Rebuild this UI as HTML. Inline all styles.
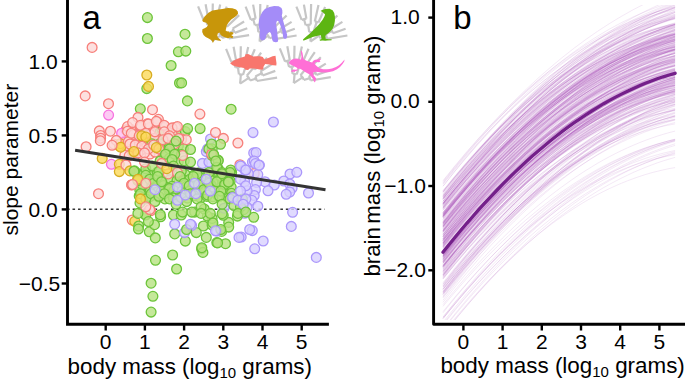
<!DOCTYPE html><html><head><meta charset="utf-8"><style>html,body{margin:0;padding:0;background:#fff;}svg{display:block;}text{font-family:"Liberation Sans", sans-serif;fill:#000;}</style></head><body>
<svg width="685" height="380" viewBox="0 0 685 380">
<rect width="685" height="380" fill="#fff"/>
<g stroke="#c6c6c6" stroke-width="2.2" fill="none" stroke-linecap="butt"><line x1="212.1" y1="41.1" x2="212.9" y2="31.8"/><path d="M210.9,31.8 A9.4,9.4 0 0 1 215.0,32.2"/><line x1="210.9" y1="31.8" x2="209.9" y2="24.4"/><path d="M207.4,24.9 A16.9,16.9 0 0 1 212.4,24.2"/><line x1="207.4" y1="24.9" x2="205.7" y2="18.8"/><path d="M203.4,19.5 A23.2,23.2 0 0 1 208.1,18.2"/><line x1="203.4" y1="19.5" x2="198.1" y2="6.3"/><line x1="208.1" y1="18.2" x2="205.6" y2="4.2"/><line x1="212.4" y1="24.2" x2="212.8" y2="3.6"/><line x1="215.0" y1="32.2" x2="218.4" y2="21.5"/><path d="M216.5,21.0 A20.6,20.6 0 0 1 220.2,22.1"/><line x1="216.5" y1="21.0" x2="220.2" y2="4.5"/><line x1="220.2" y1="22.1" x2="226.8" y2="6.6"/><line x1="212.1" y1="41.1" x2="220.8" y2="35.3"/><path d="M218.8,33.1 A10.5,10.5 0 0 1 222.1,37.9"/><line x1="218.8" y1="33.1" x2="225.4" y2="25.3"/><path d="M223.6,24.0 A20.6,20.6 0 0 1 226.9,26.8"/><line x1="223.6" y1="24.0" x2="233.1" y2="10.0"/><line x1="226.9" y1="26.8" x2="239.1" y2="15.1"/><line x1="222.1" y1="37.9" x2="228.2" y2="36.0"/><path d="M227.3,33.8 A16.9,16.9 0 0 1 228.8,38.4"/><line x1="227.3" y1="33.8" x2="233.7" y2="30.7"/><path d="M232.6,28.6 A24.0,24.0 0 0 1 234.7,32.9"/><line x1="232.6" y1="28.6" x2="244.1" y2="21.5"/><line x1="234.7" y1="32.9" x2="247.3" y2="28.3"/><line x1="228.8" y1="38.4" x2="249.1" y2="35.1"/></g>
<g stroke="#c6c6c6" stroke-width="2.2" fill="none" stroke-linecap="butt"><line x1="259.6" y1="41.5" x2="260.4" y2="32.2"/><path d="M258.4,32.2 A9.4,9.4 0 0 1 262.5,32.6"/><line x1="258.4" y1="32.2" x2="257.4" y2="24.8"/><path d="M254.9,25.3 A16.9,16.9 0 0 1 259.9,24.6"/><line x1="254.9" y1="25.3" x2="253.2" y2="19.2"/><path d="M250.9,19.9 A23.2,23.2 0 0 1 255.6,18.6"/><line x1="250.9" y1="19.9" x2="245.6" y2="6.7"/><line x1="255.6" y1="18.6" x2="253.1" y2="4.6"/><line x1="259.9" y1="24.6" x2="260.3" y2="4.0"/><line x1="262.5" y1="32.6" x2="265.9" y2="21.9"/><path d="M264.0,21.4 A20.6,20.6 0 0 1 267.7,22.5"/><line x1="264.0" y1="21.4" x2="267.7" y2="4.9"/><line x1="267.7" y1="22.5" x2="274.3" y2="7.0"/><line x1="259.6" y1="41.5" x2="268.3" y2="35.7"/><path d="M266.3,33.5 A10.5,10.5 0 0 1 269.6,38.3"/><line x1="266.3" y1="33.5" x2="272.9" y2="25.7"/><path d="M271.1,24.4 A20.6,20.6 0 0 1 274.4,27.2"/><line x1="271.1" y1="24.4" x2="280.6" y2="10.4"/><line x1="274.4" y1="27.2" x2="286.6" y2="15.5"/><line x1="269.6" y1="38.3" x2="275.7" y2="36.4"/><path d="M274.8,34.2 A16.9,16.9 0 0 1 276.3,38.8"/><line x1="274.8" y1="34.2" x2="281.2" y2="31.1"/><path d="M280.1,29.0 A24.0,24.0 0 0 1 282.2,33.3"/><line x1="280.1" y1="29.0" x2="291.6" y2="21.9"/><line x1="282.2" y1="33.3" x2="294.8" y2="28.7"/><line x1="276.3" y1="38.8" x2="296.6" y2="35.5"/></g>
<g stroke="#c6c6c6" stroke-width="2.2" fill="none" stroke-linecap="butt"><line x1="310.4" y1="41.5" x2="311.2" y2="32.2"/><path d="M309.2,32.2 A9.4,9.4 0 0 1 313.3,32.6"/><line x1="309.2" y1="32.2" x2="308.2" y2="24.8"/><path d="M305.7,25.3 A16.9,16.9 0 0 1 310.7,24.6"/><line x1="305.7" y1="25.3" x2="304.0" y2="19.2"/><path d="M301.7,19.9 A23.2,23.2 0 0 1 306.4,18.6"/><line x1="301.7" y1="19.9" x2="296.4" y2="6.7"/><line x1="306.4" y1="18.6" x2="303.9" y2="4.6"/><line x1="310.7" y1="24.6" x2="311.1" y2="4.0"/><line x1="313.3" y1="32.6" x2="316.7" y2="21.9"/><path d="M314.8,21.4 A20.6,20.6 0 0 1 318.5,22.5"/><line x1="314.8" y1="21.4" x2="318.5" y2="4.9"/><line x1="318.5" y1="22.5" x2="325.1" y2="7.0"/><line x1="310.4" y1="41.5" x2="319.1" y2="35.7"/><path d="M317.1,33.5 A10.5,10.5 0 0 1 320.4,38.3"/><line x1="317.1" y1="33.5" x2="323.7" y2="25.7"/><path d="M321.9,24.4 A20.6,20.6 0 0 1 325.2,27.2"/><line x1="321.9" y1="24.4" x2="331.4" y2="10.4"/><line x1="325.2" y1="27.2" x2="337.4" y2="15.5"/><line x1="320.4" y1="38.3" x2="326.5" y2="36.4"/><path d="M325.6,34.2 A16.9,16.9 0 0 1 327.1,38.8"/><line x1="325.6" y1="34.2" x2="332.0" y2="31.1"/><path d="M330.9,29.0 A24.0,24.0 0 0 1 333.0,33.3"/><line x1="330.9" y1="29.0" x2="342.4" y2="21.9"/><line x1="333.0" y1="33.3" x2="345.6" y2="28.7"/><line x1="327.1" y1="38.8" x2="347.4" y2="35.5"/></g>
<g stroke="#c6c6c6" stroke-width="2.2" fill="none" stroke-linecap="butt"><line x1="240.1" y1="83.7" x2="240.9" y2="74.4"/><path d="M238.9,74.4 A9.4,9.4 0 0 1 243.0,74.8"/><line x1="238.9" y1="74.4" x2="237.9" y2="67.0"/><path d="M235.4,67.5 A16.9,16.9 0 0 1 240.4,66.8"/><line x1="235.4" y1="67.5" x2="233.7" y2="61.4"/><path d="M231.4,62.1 A23.2,23.2 0 0 1 236.1,60.8"/><line x1="231.4" y1="62.1" x2="226.1" y2="48.9"/><line x1="236.1" y1="60.8" x2="233.6" y2="46.8"/><line x1="240.4" y1="66.8" x2="240.8" y2="46.2"/><line x1="243.0" y1="74.8" x2="246.4" y2="64.1"/><path d="M244.5,63.6 A20.6,20.6 0 0 1 248.2,64.7"/><line x1="244.5" y1="63.6" x2="248.2" y2="47.1"/><line x1="248.2" y1="64.7" x2="254.8" y2="49.2"/><line x1="240.1" y1="83.7" x2="248.8" y2="77.9"/><path d="M246.8,75.7 A10.5,10.5 0 0 1 250.1,80.5"/><line x1="246.8" y1="75.7" x2="253.4" y2="67.9"/><path d="M251.6,66.6 A20.6,20.6 0 0 1 254.9,69.4"/><line x1="251.6" y1="66.6" x2="261.1" y2="52.6"/><line x1="254.9" y1="69.4" x2="267.1" y2="57.7"/><line x1="250.1" y1="80.5" x2="256.2" y2="78.6"/><path d="M255.3,76.4 A16.9,16.9 0 0 1 256.8,81.0"/><line x1="255.3" y1="76.4" x2="261.7" y2="73.3"/><path d="M260.6,71.2 A24.0,24.0 0 0 1 262.7,75.5"/><line x1="260.6" y1="71.2" x2="272.1" y2="64.1"/><line x1="262.7" y1="75.5" x2="275.3" y2="70.9"/><line x1="256.8" y1="81.0" x2="277.1" y2="77.7"/></g>
<g stroke="#c6c6c6" stroke-width="2.2" fill="none" stroke-linecap="butt"><line x1="293.8" y1="83.2" x2="294.6" y2="73.9"/><path d="M292.6,73.9 A9.4,9.4 0 0 1 296.7,74.3"/><line x1="292.6" y1="73.9" x2="291.6" y2="66.5"/><path d="M289.1,67.0 A16.9,16.9 0 0 1 294.1,66.3"/><line x1="289.1" y1="67.0" x2="287.4" y2="60.9"/><path d="M285.1,61.6 A23.2,23.2 0 0 1 289.8,60.3"/><line x1="285.1" y1="61.6" x2="279.8" y2="48.4"/><line x1="289.8" y1="60.3" x2="287.3" y2="46.3"/><line x1="294.1" y1="66.3" x2="294.5" y2="45.7"/><line x1="296.7" y1="74.3" x2="300.1" y2="63.6"/><path d="M298.2,63.1 A20.6,20.6 0 0 1 301.9,64.2"/><line x1="298.2" y1="63.1" x2="301.9" y2="46.6"/><line x1="301.9" y1="64.2" x2="308.5" y2="48.7"/><line x1="293.8" y1="83.2" x2="302.5" y2="77.4"/><path d="M300.5,75.2 A10.5,10.5 0 0 1 303.8,80.0"/><line x1="300.5" y1="75.2" x2="307.1" y2="67.4"/><path d="M305.3,66.1 A20.6,20.6 0 0 1 308.6,68.9"/><line x1="305.3" y1="66.1" x2="314.8" y2="52.1"/><line x1="308.6" y1="68.9" x2="320.8" y2="57.2"/><line x1="303.8" y1="80.0" x2="309.9" y2="78.1"/><path d="M309.0,75.9 A16.9,16.9 0 0 1 310.5,80.5"/><line x1="309.0" y1="75.9" x2="315.4" y2="72.8"/><path d="M314.3,70.7 A24.0,24.0 0 0 1 316.4,75.0"/><line x1="314.3" y1="70.7" x2="325.8" y2="63.6"/><line x1="316.4" y1="75.0" x2="329.0" y2="70.4"/><line x1="310.5" y1="80.5" x2="330.8" y2="77.2"/></g>
<path d="M202.4,19.9 L204.6,16.6 L208.5,12.7 L212.4,10.5 L215.7,10.0 L218.5,9.4 L222.3,8.9 L227.9,8.1 L232.3,8.3 L236.1,9.4 L237.8,11.6 L238.0,13.8 L236.7,15.5 L234.5,17.2 L231.2,19.4 L228.4,22.7 L226.7,25.5 L226.2,28.2 L225.6,30.4 L227.3,31.5 L228.4,31.0 L229.0,32.6 L231.2,32.1 L233.4,32.6 L233.2,34.3 L231.2,34.9 L233.4,36.5 L232.3,38.2 L230.1,37.6 L227.9,38.2 L225.6,37.6 L222.9,36.5 L220.7,34.9 L219.6,32.6 L217.9,33.2 L217.3,35.4 L217.9,37.6 L220.1,39.3 L221.2,40.9 L217.9,40.4 L214.6,39.8 L212.9,43.1 L211.8,40.4 L209.1,38.7 L205.7,37.1 L203.5,34.9 L202.2,32.1 L202.4,29.3 L204.6,28.2 L206.8,27.1 L208.0,24.9 L206.3,22.7 L203.5,22.1 L202.4,21.0 Z" fill="#c8960a"/>
<path d="M264.9,9.1 L269.4,6.9 L274.3,6.1 L278.7,6.3 L281.5,8.0 L282.3,10.2 L282.4,12.9 L281.8,15.4 L282.8,19.6 L284.3,25.1 L285.9,30.6 L287.2,35.0 L286.8,38.1 L285.0,39.0 L283.3,37.9 L282.9,35.0 L282.1,30.6 L280.2,25.1 L278.7,21.5 L277.6,20.7 L276.5,21.8 L276.2,25.1 L277.1,30.6 L277.6,36.1 L278.2,40.0 L277.6,41.9 L275.4,42.3 L273.0,41.6 L272.1,39.4 L271.6,36.1 L271.0,33.4 L269.9,31.9 L268.2,32.8 L266.6,34.5 L266.0,37.2 L264.9,39.4 L263.3,40.2 L261.1,40.2 L259.9,38.3 L259.6,35.0 L260.0,31.9 L259.2,28.4 L258.6,24.0 L259.2,19.6 L260.7,15.1 L262.5,11.8 Z" fill="#a48cf8"/>
<path d="M320.5,11.1 L322.1,10.1 L325.3,9.0 L329.5,8.8 L332.6,10.3 L334.2,12.9 L334.9,16.6 L334.9,20.8 L334.2,25.0 L332.6,28.7 L330.5,31.3 L327.9,33.6 L325.8,35.0 L325.3,36.6 L325.8,38.7 L328.4,39.2 L331.6,39.2 L331.6,40.3 L327.4,40.6 L325.3,40.8 L322.6,40.6 L320.0,40.8 L319.5,39.7 L321.6,38.9 L321.1,36.6 L320.5,35.0 L316.8,36.1 L312.6,37.1 L308.4,38.7 L304.7,40.3 L302.9,40.6 L303.2,39.2 L306.3,36.6 L310.5,32.9 L314.7,28.7 L318.9,24.5 L322.6,19.7 L324.4,16.6 L325.1,14.5 L323.7,12.9 L322.1,11.8 Z" fill="#5db512"/>
<path d="M230.1,63.2 L233.4,60.7 L237.4,58.7 L241.5,57.4 L244.8,56.6 L245.6,54.2 L248.1,54.0 L251.3,55.4 L253.4,56.6 L256.3,56.2 L260.3,56.2 L262.8,57.0 L264.4,59.5 L268.5,57.9 L272.6,56.2 L275.5,55.8 L275.9,59.1 L276.5,63.2 L276.3,65.6 L273.0,65.2 L269.3,64.4 L265.2,64.0 L263.6,66.4 L263.2,69.3 L261.2,69.7 L257.1,68.9 L253.0,68.5 L249.7,68.5 L248.1,70.1 L245.6,69.7 L244.0,68.1 L239.9,67.3 L235.8,66.4 L232.5,65.2 Z" fill="#f8766d"/>
<path d="M288.8,62.8 L290.0,60.8 L292.5,59.2 L295.5,58.5 L298.5,58.8 L300.5,59.5 L301.0,59.2 L301.5,56.5 L301.0,53.5 L300.8,51.0 L301.8,50.8 L302.5,53.0 L303.0,56.0 L303.5,59.0 L306.0,60.5 L309.5,61.8 L312.2,62.5 L313.0,61.0 L315.0,59.8 L318.0,59.5 L320.0,58.8 L321.0,59.5 L319.5,60.5 L320.5,61.5 L319.0,62.2 L316.0,62.0 L314.5,63.5 L316.0,65.5 L319.0,68.0 L323.0,69.2 L328.0,69.3 L332.0,68.5 L336.0,67.0 L339.0,65.2 L341.5,63.0 L343.5,60.8 L344.6,59.5 L344.2,61.5 L342.6,64.0 L340.0,67.0 L337.0,69.2 L333.0,71.2 L328.0,72.3 L323.0,72.5 L318.0,72.0 L315.0,71.7 L313.0,72.8 L313.5,75.0 L315.0,77.0 L316.2,78.5 L315.6,80.5 L315.0,82.5 L313.8,81.2 L313.2,79.2 L312.2,78.0 L310.8,76.0 L309.2,74.2 L306.5,72.8 L304.0,71.2 L301.5,69.5 L299.5,68.5 L297.8,69.2 L295.5,69.7 L293.5,69.6 L291.8,70.2 L291.0,71.8 L292.2,72.1 L293.2,71.2 L294.0,72.6 L295.2,71.2 L297.5,70.4 L298.0,69.0 L296.5,67.4 L294.0,66.2 L291.5,65.0 L289.5,64.0 Z" fill="#ff6fd6"/>
<line x1="69" y1="209.3" x2="324.5" y2="209.3" stroke="#333" stroke-width="1.5" stroke-dasharray="2.6,2.87" stroke-dashoffset="1.97"/>
<g><circle cx="126.0" cy="129.8" r="4.9" fill="#fcd8d7" fill-opacity="0.8" stroke="#f77f7a" stroke-width="1.3"/><circle cx="132.1" cy="129.8" r="4.9" fill="#fcd8d7" fill-opacity="0.8" stroke="#f77f7a" stroke-width="1.3"/><circle cx="140.2" cy="127.7" r="4.9" fill="#fcd8d7" fill-opacity="0.8" stroke="#f77f7a" stroke-width="1.3"/><circle cx="149.8" cy="127.6" r="4.9" fill="#fcd8d7" fill-opacity="0.8" stroke="#f77f7a" stroke-width="1.3"/><circle cx="156.2" cy="126.1" r="4.9" fill="#fcd8d7" fill-opacity="0.8" stroke="#f77f7a" stroke-width="1.3"/><circle cx="164.5" cy="128.2" r="4.9" fill="#fcd8d7" fill-opacity="0.8" stroke="#f77f7a" stroke-width="1.3"/><circle cx="170.3" cy="129.2" r="4.9" fill="#fcd8d7" fill-opacity="0.8" stroke="#f77f7a" stroke-width="1.3"/><circle cx="129.0" cy="134.3" r="4.9" fill="#fcd8d7" fill-opacity="0.8" stroke="#f77f7a" stroke-width="1.3"/><circle cx="135.8" cy="134.1" r="4.9" fill="#fcd8d7" fill-opacity="0.8" stroke="#f77f7a" stroke-width="1.3"/><circle cx="143.6" cy="133.6" r="4.9" fill="#fcd8d7" fill-opacity="0.8" stroke="#f77f7a" stroke-width="1.3"/><circle cx="153.3" cy="133.6" r="4.9" fill="#fcd8d7" fill-opacity="0.8" stroke="#f77f7a" stroke-width="1.3"/><circle cx="159.7" cy="136.4" r="4.9" fill="#fcd8d7" fill-opacity="0.8" stroke="#f77f7a" stroke-width="1.3"/><circle cx="169.1" cy="135.4" r="4.9" fill="#fcd8d7" fill-opacity="0.8" stroke="#f77f7a" stroke-width="1.3"/><circle cx="126.2" cy="140.2" r="4.9" fill="#fcd8d7" fill-opacity="0.8" stroke="#f77f7a" stroke-width="1.3"/><circle cx="132.1" cy="142.9" r="4.9" fill="#fcd8d7" fill-opacity="0.8" stroke="#f77f7a" stroke-width="1.3"/><circle cx="141.1" cy="139.5" r="4.9" fill="#fcd8d7" fill-opacity="0.8" stroke="#f77f7a" stroke-width="1.3"/><circle cx="149.0" cy="142.2" r="4.9" fill="#fcd8d7" fill-opacity="0.8" stroke="#f77f7a" stroke-width="1.3"/><circle cx="156.5" cy="142.7" r="4.9" fill="#fcd8d7" fill-opacity="0.8" stroke="#f77f7a" stroke-width="1.3"/><circle cx="161.7" cy="141.2" r="4.9" fill="#fcd8d7" fill-opacity="0.8" stroke="#f77f7a" stroke-width="1.3"/><circle cx="170.8" cy="139.3" r="4.9" fill="#fcd8d7" fill-opacity="0.8" stroke="#f77f7a" stroke-width="1.3"/><circle cx="130.3" cy="149.0" r="4.9" fill="#fcd8d7" fill-opacity="0.8" stroke="#f77f7a" stroke-width="1.3"/><circle cx="137.6" cy="146.6" r="4.9" fill="#fcd8d7" fill-opacity="0.8" stroke="#f77f7a" stroke-width="1.3"/><circle cx="146.1" cy="147.6" r="4.9" fill="#fcd8d7" fill-opacity="0.8" stroke="#f77f7a" stroke-width="1.3"/><circle cx="152.3" cy="148.6" r="4.9" fill="#fcd8d7" fill-opacity="0.8" stroke="#f77f7a" stroke-width="1.3"/><circle cx="158.3" cy="148.9" r="4.9" fill="#fcd8d7" fill-opacity="0.8" stroke="#f77f7a" stroke-width="1.3"/><circle cx="168.0" cy="148.7" r="4.9" fill="#fcd8d7" fill-opacity="0.8" stroke="#f77f7a" stroke-width="1.3"/><circle cx="124.8" cy="155.3" r="4.9" fill="#fcd8d7" fill-opacity="0.8" stroke="#f77f7a" stroke-width="1.3"/><circle cx="132.3" cy="152.4" r="4.9" fill="#fcd8d7" fill-opacity="0.8" stroke="#f77f7a" stroke-width="1.3"/><circle cx="142.4" cy="155.5" r="4.9" fill="#fcd8d7" fill-opacity="0.8" stroke="#f77f7a" stroke-width="1.3"/><circle cx="150.0" cy="154.0" r="4.9" fill="#fcd8d7" fill-opacity="0.8" stroke="#f77f7a" stroke-width="1.3"/><circle cx="155.1" cy="152.1" r="4.9" fill="#fcd8d7" fill-opacity="0.8" stroke="#f77f7a" stroke-width="1.3"/><circle cx="164.1" cy="155.0" r="4.9" fill="#fcd8d7" fill-opacity="0.8" stroke="#f77f7a" stroke-width="1.3"/><circle cx="172.3" cy="153.2" r="4.9" fill="#fcd8d7" fill-opacity="0.8" stroke="#f77f7a" stroke-width="1.3"/><circle cx="137.0" cy="173.2" r="4.9" fill="#b6e281" fill-opacity="0.8" stroke="#6cc43a" stroke-width="1.3"/><circle cx="146.1" cy="172.4" r="4.9" fill="#b6e281" fill-opacity="0.8" stroke="#6cc43a" stroke-width="1.3"/><circle cx="152.0" cy="174.9" r="4.9" fill="#b6e281" fill-opacity="0.8" stroke="#6cc43a" stroke-width="1.3"/><circle cx="157.2" cy="172.2" r="4.9" fill="#b6e281" fill-opacity="0.8" stroke="#6cc43a" stroke-width="1.3"/><circle cx="164.3" cy="174.6" r="4.9" fill="#b6e281" fill-opacity="0.8" stroke="#6cc43a" stroke-width="1.3"/><circle cx="172.2" cy="172.6" r="4.9" fill="#b6e281" fill-opacity="0.8" stroke="#6cc43a" stroke-width="1.3"/><circle cx="178.5" cy="174.7" r="4.9" fill="#b6e281" fill-opacity="0.8" stroke="#6cc43a" stroke-width="1.3"/><circle cx="185.3" cy="174.5" r="4.9" fill="#b6e281" fill-opacity="0.8" stroke="#6cc43a" stroke-width="1.3"/><circle cx="194.3" cy="174.7" r="4.9" fill="#b6e281" fill-opacity="0.8" stroke="#6cc43a" stroke-width="1.3"/><circle cx="198.8" cy="172.7" r="4.9" fill="#b6e281" fill-opacity="0.8" stroke="#6cc43a" stroke-width="1.3"/><circle cx="205.4" cy="174.0" r="4.9" fill="#b6e281" fill-opacity="0.8" stroke="#6cc43a" stroke-width="1.3"/><circle cx="214.4" cy="175.1" r="4.9" fill="#b6e281" fill-opacity="0.8" stroke="#6cc43a" stroke-width="1.3"/><circle cx="218.9" cy="175.7" r="4.9" fill="#b6e281" fill-opacity="0.8" stroke="#6cc43a" stroke-width="1.3"/><circle cx="226.3" cy="174.8" r="4.9" fill="#b6e281" fill-opacity="0.8" stroke="#6cc43a" stroke-width="1.3"/><circle cx="231.6" cy="172.4" r="4.9" fill="#b6e281" fill-opacity="0.8" stroke="#6cc43a" stroke-width="1.3"/><circle cx="140.2" cy="181.5" r="4.9" fill="#b6e281" fill-opacity="0.8" stroke="#6cc43a" stroke-width="1.3"/><circle cx="148.9" cy="181.3" r="4.9" fill="#b6e281" fill-opacity="0.8" stroke="#6cc43a" stroke-width="1.3"/><circle cx="155.6" cy="179.5" r="4.9" fill="#b6e281" fill-opacity="0.8" stroke="#6cc43a" stroke-width="1.3"/><circle cx="161.9" cy="180.3" r="4.9" fill="#b6e281" fill-opacity="0.8" stroke="#6cc43a" stroke-width="1.3"/><circle cx="170.0" cy="179.7" r="4.9" fill="#b6e281" fill-opacity="0.8" stroke="#6cc43a" stroke-width="1.3"/><circle cx="177.0" cy="180.4" r="4.9" fill="#b6e281" fill-opacity="0.8" stroke="#6cc43a" stroke-width="1.3"/><circle cx="183.5" cy="179.9" r="4.9" fill="#b6e281" fill-opacity="0.8" stroke="#6cc43a" stroke-width="1.3"/><circle cx="189.8" cy="179.3" r="4.9" fill="#b6e281" fill-opacity="0.8" stroke="#6cc43a" stroke-width="1.3"/><circle cx="195.9" cy="178.8" r="4.9" fill="#b6e281" fill-opacity="0.8" stroke="#6cc43a" stroke-width="1.3"/><circle cx="201.0" cy="178.1" r="4.9" fill="#b6e281" fill-opacity="0.8" stroke="#6cc43a" stroke-width="1.3"/><circle cx="210.2" cy="179.7" r="4.9" fill="#b6e281" fill-opacity="0.8" stroke="#6cc43a" stroke-width="1.3"/><circle cx="217.8" cy="181.3" r="4.9" fill="#b6e281" fill-opacity="0.8" stroke="#6cc43a" stroke-width="1.3"/><circle cx="222.5" cy="181.8" r="4.9" fill="#b6e281" fill-opacity="0.8" stroke="#6cc43a" stroke-width="1.3"/><circle cx="230.2" cy="181.0" r="4.9" fill="#b6e281" fill-opacity="0.8" stroke="#6cc43a" stroke-width="1.3"/><circle cx="137.6" cy="184.6" r="4.9" fill="#b6e281" fill-opacity="0.8" stroke="#6cc43a" stroke-width="1.3"/><circle cx="143.5" cy="184.6" r="4.9" fill="#b6e281" fill-opacity="0.8" stroke="#6cc43a" stroke-width="1.3"/><circle cx="152.0" cy="184.3" r="4.9" fill="#b6e281" fill-opacity="0.8" stroke="#6cc43a" stroke-width="1.3"/><circle cx="156.5" cy="187.2" r="4.9" fill="#b6e281" fill-opacity="0.8" stroke="#6cc43a" stroke-width="1.3"/><circle cx="163.6" cy="185.6" r="4.9" fill="#b6e281" fill-opacity="0.8" stroke="#6cc43a" stroke-width="1.3"/><circle cx="172.0" cy="186.3" r="4.9" fill="#b6e281" fill-opacity="0.8" stroke="#6cc43a" stroke-width="1.3"/><circle cx="178.8" cy="187.6" r="4.9" fill="#b6e281" fill-opacity="0.8" stroke="#6cc43a" stroke-width="1.3"/><circle cx="186.6" cy="186.1" r="4.9" fill="#b6e281" fill-opacity="0.8" stroke="#6cc43a" stroke-width="1.3"/><circle cx="192.9" cy="185.9" r="4.9" fill="#b6e281" fill-opacity="0.8" stroke="#6cc43a" stroke-width="1.3"/><circle cx="201.1" cy="184.7" r="4.9" fill="#b6e281" fill-opacity="0.8" stroke="#6cc43a" stroke-width="1.3"/><circle cx="206.8" cy="186.1" r="4.9" fill="#b6e281" fill-opacity="0.8" stroke="#6cc43a" stroke-width="1.3"/><circle cx="211.0" cy="185.0" r="4.9" fill="#b6e281" fill-opacity="0.8" stroke="#6cc43a" stroke-width="1.3"/><circle cx="221.3" cy="187.0" r="4.9" fill="#b6e281" fill-opacity="0.8" stroke="#6cc43a" stroke-width="1.3"/><circle cx="224.5" cy="185.0" r="4.9" fill="#b6e281" fill-opacity="0.8" stroke="#6cc43a" stroke-width="1.3"/><circle cx="231.2" cy="187.1" r="4.9" fill="#b6e281" fill-opacity="0.8" stroke="#6cc43a" stroke-width="1.3"/><circle cx="139.8" cy="190.0" r="4.9" fill="#b6e281" fill-opacity="0.8" stroke="#6cc43a" stroke-width="1.3"/><circle cx="150.1" cy="191.5" r="4.9" fill="#b6e281" fill-opacity="0.8" stroke="#6cc43a" stroke-width="1.3"/><circle cx="154.3" cy="189.9" r="4.9" fill="#b6e281" fill-opacity="0.8" stroke="#6cc43a" stroke-width="1.3"/><circle cx="161.4" cy="191.2" r="4.9" fill="#b6e281" fill-opacity="0.8" stroke="#6cc43a" stroke-width="1.3"/><circle cx="168.7" cy="189.8" r="4.9" fill="#b6e281" fill-opacity="0.8" stroke="#6cc43a" stroke-width="1.3"/><circle cx="174.0" cy="190.6" r="4.9" fill="#b6e281" fill-opacity="0.8" stroke="#6cc43a" stroke-width="1.3"/><circle cx="182.0" cy="191.0" r="4.9" fill="#b6e281" fill-opacity="0.8" stroke="#6cc43a" stroke-width="1.3"/><circle cx="189.5" cy="190.9" r="4.9" fill="#b6e281" fill-opacity="0.8" stroke="#6cc43a" stroke-width="1.3"/><circle cx="197.4" cy="193.6" r="4.9" fill="#b6e281" fill-opacity="0.8" stroke="#6cc43a" stroke-width="1.3"/><circle cx="200.8" cy="190.6" r="4.9" fill="#b6e281" fill-opacity="0.8" stroke="#6cc43a" stroke-width="1.3"/><circle cx="209.7" cy="192.8" r="4.9" fill="#b6e281" fill-opacity="0.8" stroke="#6cc43a" stroke-width="1.3"/><circle cx="214.5" cy="190.5" r="4.9" fill="#b6e281" fill-opacity="0.8" stroke="#6cc43a" stroke-width="1.3"/><circle cx="222.8" cy="192.4" r="4.9" fill="#b6e281" fill-opacity="0.8" stroke="#6cc43a" stroke-width="1.3"/><circle cx="231.4" cy="193.2" r="4.9" fill="#b6e281" fill-opacity="0.8" stroke="#6cc43a" stroke-width="1.3"/><circle cx="139.2" cy="195.9" r="4.9" fill="#b6e281" fill-opacity="0.8" stroke="#6cc43a" stroke-width="1.3"/><circle cx="146.7" cy="198.1" r="4.9" fill="#b6e281" fill-opacity="0.8" stroke="#6cc43a" stroke-width="1.3"/><circle cx="149.9" cy="196.7" r="4.9" fill="#b6e281" fill-opacity="0.8" stroke="#6cc43a" stroke-width="1.3"/><circle cx="158.9" cy="197.2" r="4.9" fill="#b6e281" fill-opacity="0.8" stroke="#6cc43a" stroke-width="1.3"/><circle cx="165.0" cy="198.9" r="4.9" fill="#b6e281" fill-opacity="0.8" stroke="#6cc43a" stroke-width="1.3"/><circle cx="173.3" cy="197.9" r="4.9" fill="#b6e281" fill-opacity="0.8" stroke="#6cc43a" stroke-width="1.3"/><circle cx="180.0" cy="197.3" r="4.9" fill="#b6e281" fill-opacity="0.8" stroke="#6cc43a" stroke-width="1.3"/><circle cx="187.5" cy="198.1" r="4.9" fill="#b6e281" fill-opacity="0.8" stroke="#6cc43a" stroke-width="1.3"/><circle cx="194.3" cy="195.8" r="4.9" fill="#b6e281" fill-opacity="0.8" stroke="#6cc43a" stroke-width="1.3"/><circle cx="200.7" cy="197.9" r="4.9" fill="#b6e281" fill-opacity="0.8" stroke="#6cc43a" stroke-width="1.3"/><circle cx="206.9" cy="196.4" r="4.9" fill="#b6e281" fill-opacity="0.8" stroke="#6cc43a" stroke-width="1.3"/><circle cx="213.0" cy="196.8" r="4.9" fill="#b6e281" fill-opacity="0.8" stroke="#6cc43a" stroke-width="1.3"/><circle cx="218.0" cy="195.7" r="4.9" fill="#b6e281" fill-opacity="0.8" stroke="#6cc43a" stroke-width="1.3"/><circle cx="228.0" cy="198.3" r="4.9" fill="#b6e281" fill-opacity="0.8" stroke="#6cc43a" stroke-width="1.3"/><circle cx="232.0" cy="196.7" r="4.9" fill="#b6e281" fill-opacity="0.8" stroke="#6cc43a" stroke-width="1.3"/><circle cx="160.3" cy="131.9" r="4.9" fill="#b6e281" fill-opacity="0.8" stroke="#6cc43a" stroke-width="1.3"/><circle cx="171.0" cy="133.3" r="4.9" fill="#b6e281" fill-opacity="0.8" stroke="#6cc43a" stroke-width="1.3"/><circle cx="176.0" cy="132.7" r="4.9" fill="#b6e281" fill-opacity="0.8" stroke="#6cc43a" stroke-width="1.3"/><circle cx="185.3" cy="131.6" r="4.9" fill="#b6e281" fill-opacity="0.8" stroke="#6cc43a" stroke-width="1.3"/><circle cx="166.8" cy="138.2" r="4.9" fill="#b6e281" fill-opacity="0.8" stroke="#6cc43a" stroke-width="1.3"/><circle cx="173.3" cy="139.9" r="4.9" fill="#b6e281" fill-opacity="0.8" stroke="#6cc43a" stroke-width="1.3"/><circle cx="181.2" cy="140.1" r="4.9" fill="#b6e281" fill-opacity="0.8" stroke="#6cc43a" stroke-width="1.3"/><circle cx="163.0" cy="148.4" r="4.9" fill="#b6e281" fill-opacity="0.8" stroke="#6cc43a" stroke-width="1.3"/><circle cx="168.9" cy="147.2" r="4.9" fill="#b6e281" fill-opacity="0.8" stroke="#6cc43a" stroke-width="1.3"/><circle cx="178.4" cy="145.7" r="4.9" fill="#b6e281" fill-opacity="0.8" stroke="#6cc43a" stroke-width="1.3"/><circle cx="183.4" cy="148.5" r="4.9" fill="#b6e281" fill-opacity="0.8" stroke="#6cc43a" stroke-width="1.3"/><circle cx="165.1" cy="152.6" r="4.9" fill="#b6e281" fill-opacity="0.8" stroke="#6cc43a" stroke-width="1.3"/><circle cx="175.3" cy="153.7" r="4.9" fill="#b6e281" fill-opacity="0.8" stroke="#6cc43a" stroke-width="1.3"/><circle cx="181.4" cy="154.5" r="4.9" fill="#b6e281" fill-opacity="0.8" stroke="#6cc43a" stroke-width="1.3"/><circle cx="160.1" cy="161.0" r="4.9" fill="#b6e281" fill-opacity="0.8" stroke="#6cc43a" stroke-width="1.3"/><circle cx="169.3" cy="158.5" r="4.9" fill="#b6e281" fill-opacity="0.8" stroke="#6cc43a" stroke-width="1.3"/><circle cx="178.2" cy="161.9" r="4.9" fill="#b6e281" fill-opacity="0.8" stroke="#6cc43a" stroke-width="1.3"/><circle cx="184.2" cy="160.7" r="4.9" fill="#b6e281" fill-opacity="0.8" stroke="#6cc43a" stroke-width="1.3"/><circle cx="210.5" cy="139.0" r="4.9" fill="#d8d1fe" fill-opacity="0.8" stroke="#ab97fb" stroke-width="1.3"/><circle cx="206.3" cy="151.6" r="4.9" fill="#d8d1fe" fill-opacity="0.8" stroke="#ab97fb" stroke-width="1.3"/><circle cx="210.3" cy="163.4" r="4.9" fill="#d8d1fe" fill-opacity="0.8" stroke="#ab97fb" stroke-width="1.3"/><circle cx="202.4" cy="163.4" r="4.9" fill="#d8d1fe" fill-opacity="0.8" stroke="#ab97fb" stroke-width="1.3"/><circle cx="208.9" cy="162.1" r="4.9" fill="#d8d1fe" fill-opacity="0.8" stroke="#ab97fb" stroke-width="1.3"/><circle cx="207.6" cy="148.9" r="4.9" fill="#d8d1fe" fill-opacity="0.8" stroke="#ab97fb" stroke-width="1.3"/><circle cx="147.4" cy="17.6" r="4.9" fill="#b6e281" fill-opacity="0.8" stroke="#6cc43a" stroke-width="1.3"/><circle cx="147.4" cy="38.5" r="4.9" fill="#b6e281" fill-opacity="0.8" stroke="#6cc43a" stroke-width="1.3"/><circle cx="185.0" cy="34.2" r="4.9" fill="#b6e281" fill-opacity="0.8" stroke="#6cc43a" stroke-width="1.3"/><circle cx="92.1" cy="47.4" r="4.9" fill="#fcd8d7" fill-opacity="0.8" stroke="#f77f7a" stroke-width="1.3"/><circle cx="178.4" cy="51.8" r="4.9" fill="#b6e281" fill-opacity="0.8" stroke="#6cc43a" stroke-width="1.3"/><circle cx="185.8" cy="51.1" r="4.9" fill="#b6e281" fill-opacity="0.8" stroke="#6cc43a" stroke-width="1.3"/><circle cx="171.1" cy="65.5" r="4.9" fill="#b6e281" fill-opacity="0.8" stroke="#6cc43a" stroke-width="1.3"/><circle cx="146.8" cy="75.0" r="4.9" fill="#fbd959" fill-opacity="0.8" stroke="#d8ad22" stroke-width="1.3"/><circle cx="146.8" cy="88.6" r="4.9" fill="#b6e281" fill-opacity="0.8" stroke="#6cc43a" stroke-width="1.3"/><circle cx="148.5" cy="86.4" r="4.9" fill="#fbd959" fill-opacity="0.8" stroke="#d8ad22" stroke-width="1.3"/><circle cx="179.5" cy="83.0" r="4.9" fill="#b6e281" fill-opacity="0.8" stroke="#6cc43a" stroke-width="1.3"/><circle cx="181.6" cy="82.9" r="4.9" fill="#b6e281" fill-opacity="0.8" stroke="#6cc43a" stroke-width="1.3"/><circle cx="187.4" cy="100.9" r="4.9" fill="#b6e281" fill-opacity="0.8" stroke="#6cc43a" stroke-width="1.3"/><circle cx="85.2" cy="95.9" r="4.9" fill="#fcd8d7" fill-opacity="0.8" stroke="#f77f7a" stroke-width="1.3"/><circle cx="108.5" cy="103.7" r="4.9" fill="#fcd8d7" fill-opacity="0.8" stroke="#f77f7a" stroke-width="1.3"/><circle cx="108.6" cy="115.1" r="4.9" fill="#fbbef0" fill-opacity="0.8" stroke="#f772e0" stroke-width="1.3"/><circle cx="140.3" cy="108.8" r="4.9" fill="#b6e281" fill-opacity="0.8" stroke="#6cc43a" stroke-width="1.3"/><circle cx="152.5" cy="109.7" r="4.9" fill="#fcd8d7" fill-opacity="0.8" stroke="#f77f7a" stroke-width="1.3"/><circle cx="199.9" cy="114.1" r="4.9" fill="#fcd8d7" fill-opacity="0.8" stroke="#f77f7a" stroke-width="1.3"/><circle cx="231.1" cy="109.2" r="4.9" fill="#b6e281" fill-opacity="0.8" stroke="#6cc43a" stroke-width="1.3"/><circle cx="273.4" cy="122.0" r="4.9" fill="#d8d1fe" fill-opacity="0.8" stroke="#ab97fb" stroke-width="1.3"/><circle cx="253.0" cy="132.6" r="4.9" fill="#d8d1fe" fill-opacity="0.8" stroke="#ab97fb" stroke-width="1.3"/><circle cx="99.3" cy="130.9" r="4.9" fill="#fcd8d7" fill-opacity="0.8" stroke="#f77f7a" stroke-width="1.3"/><circle cx="100.6" cy="135.5" r="4.9" fill="#fcd8d7" fill-opacity="0.8" stroke="#f77f7a" stroke-width="1.3"/><circle cx="100.6" cy="138.2" r="4.9" fill="#fcd8d7" fill-opacity="0.8" stroke="#f77f7a" stroke-width="1.3"/><circle cx="110.4" cy="131.2" r="4.9" fill="#fcd8d7" fill-opacity="0.8" stroke="#f77f7a" stroke-width="1.3"/><circle cx="86.1" cy="146.7" r="4.9" fill="#fcd8d7" fill-opacity="0.8" stroke="#f77f7a" stroke-width="1.3"/><circle cx="113.7" cy="144.1" r="4.9" fill="#fcd8d7" fill-opacity="0.8" stroke="#f77f7a" stroke-width="1.3"/><circle cx="119.5" cy="146.0" r="4.9" fill="#fbd959" fill-opacity="0.8" stroke="#d8ad22" stroke-width="1.3"/><circle cx="121.6" cy="133.2" r="4.9" fill="#fbbef0" fill-opacity="0.8" stroke="#f772e0" stroke-width="1.3"/><circle cx="138.0" cy="117.4" r="4.9" fill="#fcd8d7" fill-opacity="0.8" stroke="#f77f7a" stroke-width="1.3"/><circle cx="147.2" cy="123.9" r="4.9" fill="#fcd8d7" fill-opacity="0.8" stroke="#f77f7a" stroke-width="1.3"/><circle cx="140.7" cy="126.6" r="4.9" fill="#fcd8d7" fill-opacity="0.8" stroke="#f77f7a" stroke-width="1.3"/><circle cx="127.5" cy="126.6" r="4.9" fill="#fcd8d7" fill-opacity="0.8" stroke="#f77f7a" stroke-width="1.3"/><circle cx="127.5" cy="131.2" r="4.9" fill="#fcd8d7" fill-opacity="0.8" stroke="#f77f7a" stroke-width="1.3"/><circle cx="158.4" cy="119.3" r="4.9" fill="#fcd8d7" fill-opacity="0.8" stroke="#f77f7a" stroke-width="1.3"/><circle cx="157.1" cy="122.0" r="4.9" fill="#fcd8d7" fill-opacity="0.8" stroke="#f77f7a" stroke-width="1.3"/><circle cx="162.4" cy="130.5" r="4.9" fill="#b6e281" fill-opacity="0.8" stroke="#6cc43a" stroke-width="1.3"/><circle cx="142.0" cy="135.8" r="4.9" fill="#fbd959" fill-opacity="0.8" stroke="#d8ad22" stroke-width="1.3"/><circle cx="145.9" cy="135.8" r="4.9" fill="#fbd959" fill-opacity="0.8" stroke="#d8ad22" stroke-width="1.3"/><circle cx="133.4" cy="134.5" r="4.9" fill="#fcd8d7" fill-opacity="0.8" stroke="#f77f7a" stroke-width="1.3"/><circle cx="150.5" cy="134.5" r="4.9" fill="#fcd8d7" fill-opacity="0.8" stroke="#f77f7a" stroke-width="1.3"/><circle cx="154.5" cy="138.4" r="4.9" fill="#fcd8d7" fill-opacity="0.8" stroke="#f77f7a" stroke-width="1.3"/><circle cx="120.3" cy="143.7" r="4.9" fill="#fbd959" fill-opacity="0.8" stroke="#d8ad22" stroke-width="1.3"/><circle cx="128.2" cy="141.7" r="4.9" fill="#fcd8d7" fill-opacity="0.8" stroke="#f77f7a" stroke-width="1.3"/><circle cx="116.3" cy="140.4" r="4.9" fill="#fcd8d7" fill-opacity="0.8" stroke="#f77f7a" stroke-width="1.3"/><circle cx="151.8" cy="143.7" r="4.9" fill="#b6e281" fill-opacity="0.8" stroke="#6cc43a" stroke-width="1.3"/><circle cx="159.7" cy="143.7" r="4.9" fill="#b6e281" fill-opacity="0.8" stroke="#6cc43a" stroke-width="1.3"/><circle cx="187.6" cy="128.6" r="4.9" fill="#b6e281" fill-opacity="0.8" stroke="#6cc43a" stroke-width="1.3"/><circle cx="200.1" cy="128.6" r="4.9" fill="#b6e281" fill-opacity="0.8" stroke="#6cc43a" stroke-width="1.3"/><circle cx="175.8" cy="127.2" r="4.9" fill="#fcd8d7" fill-opacity="0.8" stroke="#f77f7a" stroke-width="1.3"/><circle cx="165.3" cy="126.6" r="4.9" fill="#fcd8d7" fill-opacity="0.8" stroke="#f77f7a" stroke-width="1.3"/><circle cx="168.6" cy="132.5" r="4.9" fill="#fcd8d7" fill-opacity="0.8" stroke="#f77f7a" stroke-width="1.3"/><circle cx="172.5" cy="135.1" r="4.9" fill="#fcd8d7" fill-opacity="0.8" stroke="#f77f7a" stroke-width="1.3"/><circle cx="181.7" cy="139.1" r="4.9" fill="#fcd8d7" fill-opacity="0.8" stroke="#f77f7a" stroke-width="1.3"/><circle cx="186.3" cy="139.7" r="4.9" fill="#fcd8d7" fill-opacity="0.8" stroke="#f77f7a" stroke-width="1.3"/><circle cx="175.8" cy="141.0" r="4.9" fill="#b6e281" fill-opacity="0.8" stroke="#6cc43a" stroke-width="1.3"/><circle cx="167.9" cy="138.4" r="4.9" fill="#b6e281" fill-opacity="0.8" stroke="#6cc43a" stroke-width="1.3"/><circle cx="215.5" cy="132.5" r="4.9" fill="#fcd8d7" fill-opacity="0.8" stroke="#f77f7a" stroke-width="1.3"/><circle cx="223.4" cy="138.4" r="4.9" fill="#fcd8d7" fill-opacity="0.8" stroke="#f77f7a" stroke-width="1.3"/><circle cx="220.5" cy="144.3" r="4.9" fill="#b6e281" fill-opacity="0.8" stroke="#6cc43a" stroke-width="1.3"/><circle cx="237.9" cy="143.0" r="4.9" fill="#fcd8d7" fill-opacity="0.8" stroke="#f77f7a" stroke-width="1.3"/><circle cx="212.2" cy="148.9" r="4.9" fill="#b6e281" fill-opacity="0.8" stroke="#6cc43a" stroke-width="1.3"/><circle cx="212.2" cy="155.5" r="4.9" fill="#b6e281" fill-opacity="0.8" stroke="#6cc43a" stroke-width="1.3"/><circle cx="218.2" cy="160.1" r="4.9" fill="#b6e281" fill-opacity="0.8" stroke="#6cc43a" stroke-width="1.3"/><circle cx="239.9" cy="164.7" r="4.9" fill="#fcd8d7" fill-opacity="0.8" stroke="#f77f7a" stroke-width="1.3"/><circle cx="241.2" cy="166.0" r="4.9" fill="#d8d1fe" fill-opacity="0.8" stroke="#ab97fb" stroke-width="1.3"/><circle cx="253.7" cy="152.9" r="4.9" fill="#d8d1fe" fill-opacity="0.8" stroke="#ab97fb" stroke-width="1.3"/><circle cx="252.4" cy="162.1" r="4.9" fill="#d8d1fe" fill-opacity="0.8" stroke="#ab97fb" stroke-width="1.3"/><circle cx="218.2" cy="168.7" r="4.9" fill="#b6e281" fill-opacity="0.8" stroke="#6cc43a" stroke-width="1.3"/><circle cx="230.7" cy="170.0" r="4.9" fill="#b6e281" fill-opacity="0.8" stroke="#6cc43a" stroke-width="1.3"/><circle cx="256.1" cy="152.6" r="4.9" fill="#d8d1fe" fill-opacity="0.8" stroke="#ab97fb" stroke-width="1.3"/><circle cx="254.2" cy="161.1" r="4.9" fill="#d8d1fe" fill-opacity="0.8" stroke="#ab97fb" stroke-width="1.3"/><circle cx="259.4" cy="165.1" r="4.9" fill="#d8d1fe" fill-opacity="0.8" stroke="#ab97fb" stroke-width="1.3"/><circle cx="254.2" cy="173.4" r="4.9" fill="#fcd8d7" fill-opacity="0.8" stroke="#f77f7a" stroke-width="1.3"/><circle cx="257.8" cy="174.6" r="4.9" fill="#d8d1fe" fill-opacity="0.8" stroke="#ab97fb" stroke-width="1.3"/><circle cx="290.0" cy="174.0" r="4.9" fill="#d8d1fe" fill-opacity="0.8" stroke="#ab97fb" stroke-width="1.3"/><circle cx="296.8" cy="172.3" r="4.9" fill="#d8d1fe" fill-opacity="0.8" stroke="#ab97fb" stroke-width="1.3"/><circle cx="283.8" cy="181.0" r="4.9" fill="#d8d1fe" fill-opacity="0.8" stroke="#ab97fb" stroke-width="1.3"/><circle cx="289.7" cy="184.0" r="4.9" fill="#d8d1fe" fill-opacity="0.8" stroke="#ab97fb" stroke-width="1.3"/><circle cx="248.3" cy="173.4" r="4.9" fill="#d8d1fe" fill-opacity="0.8" stroke="#ab97fb" stroke-width="1.3"/><circle cx="244.7" cy="181.7" r="4.9" fill="#d8d1fe" fill-opacity="0.8" stroke="#ab97fb" stroke-width="1.3"/><circle cx="264.9" cy="181.7" r="4.9" fill="#d8d1fe" fill-opacity="0.8" stroke="#ab97fb" stroke-width="1.3"/><circle cx="274.3" cy="185.0" r="4.9" fill="#d8d1fe" fill-opacity="0.8" stroke="#ab97fb" stroke-width="1.3"/><circle cx="268.0" cy="190.8" r="4.9" fill="#d8d1fe" fill-opacity="0.8" stroke="#ab97fb" stroke-width="1.3"/><circle cx="292.1" cy="188.0" r="4.9" fill="#d8d1fe" fill-opacity="0.8" stroke="#ab97fb" stroke-width="1.3"/><circle cx="289.7" cy="192.0" r="4.9" fill="#d8d1fe" fill-opacity="0.8" stroke="#ab97fb" stroke-width="1.3"/><circle cx="286.2" cy="194.3" r="4.9" fill="#d8d1fe" fill-opacity="0.8" stroke="#ab97fb" stroke-width="1.3"/><circle cx="308.5" cy="193.0" r="4.9" fill="#d8d1fe" fill-opacity="0.8" stroke="#ab97fb" stroke-width="1.3"/><circle cx="256.6" cy="182.5" r="4.9" fill="#d8d1fe" fill-opacity="0.8" stroke="#ab97fb" stroke-width="1.3"/><circle cx="255.4" cy="189.6" r="4.9" fill="#d8d1fe" fill-opacity="0.8" stroke="#ab97fb" stroke-width="1.3"/><circle cx="254.2" cy="195.5" r="4.9" fill="#d8d1fe" fill-opacity="0.8" stroke="#ab97fb" stroke-width="1.3"/><circle cx="247.1" cy="190.8" r="4.9" fill="#d8d1fe" fill-opacity="0.8" stroke="#ab97fb" stroke-width="1.3"/><circle cx="251.8" cy="200.3" r="4.9" fill="#d8d1fe" fill-opacity="0.8" stroke="#ab97fb" stroke-width="1.3"/><circle cx="257.8" cy="206.2" r="4.9" fill="#d8d1fe" fill-opacity="0.8" stroke="#ab97fb" stroke-width="1.3"/><circle cx="247.1" cy="207.4" r="4.9" fill="#d8d1fe" fill-opacity="0.8" stroke="#ab97fb" stroke-width="1.3"/><circle cx="244.7" cy="213.3" r="4.9" fill="#d8d1fe" fill-opacity="0.8" stroke="#ab97fb" stroke-width="1.3"/><circle cx="253.7" cy="217.3" r="4.9" fill="#b6e281" fill-opacity="0.8" stroke="#6cc43a" stroke-width="1.3"/><circle cx="242.4" cy="199.1" r="4.9" fill="#b6e281" fill-opacity="0.8" stroke="#6cc43a" stroke-width="1.3"/><circle cx="243.6" cy="209.7" r="4.9" fill="#b6e281" fill-opacity="0.8" stroke="#6cc43a" stroke-width="1.3"/><circle cx="292.6" cy="212.3" r="4.9" fill="#d8d1fe" fill-opacity="0.8" stroke="#ab97fb" stroke-width="1.3"/><circle cx="291.3" cy="226.4" r="4.9" fill="#d8d1fe" fill-opacity="0.8" stroke="#ab97fb" stroke-width="1.3"/><circle cx="252.3" cy="230.6" r="4.9" fill="#d8d1fe" fill-opacity="0.8" stroke="#ab97fb" stroke-width="1.3"/><circle cx="263.2" cy="241.0" r="4.9" fill="#d8d1fe" fill-opacity="0.8" stroke="#ab97fb" stroke-width="1.3"/><circle cx="241.2" cy="237.0" r="4.9" fill="#d8d1fe" fill-opacity="0.8" stroke="#ab97fb" stroke-width="1.3"/><circle cx="254.7" cy="248.8" r="4.9" fill="#d8d1fe" fill-opacity="0.8" stroke="#ab97fb" stroke-width="1.3"/><circle cx="255.4" cy="163.6" r="4.9" fill="#d8d1fe" fill-opacity="0.8" stroke="#ab97fb" stroke-width="1.3"/><circle cx="259.0" cy="165.2" r="4.9" fill="#d8d1fe" fill-opacity="0.8" stroke="#ab97fb" stroke-width="1.3"/><circle cx="244.7" cy="169.5" r="4.9" fill="#d8d1fe" fill-opacity="0.8" stroke="#ab97fb" stroke-width="1.3"/><circle cx="316.3" cy="257.4" r="4.9" fill="#d8d1fe" fill-opacity="0.8" stroke="#ab97fb" stroke-width="1.3"/><circle cx="120.7" cy="147.2" r="4.9" fill="#fbd959" fill-opacity="0.8" stroke="#d8ad22" stroke-width="1.3"/><circle cx="102.2" cy="158.4" r="4.9" fill="#fbd959" fill-opacity="0.8" stroke="#d8ad22" stroke-width="1.3"/><circle cx="111.4" cy="164.3" r="4.9" fill="#fbbef0" fill-opacity="0.8" stroke="#f772e0" stroke-width="1.3"/><circle cx="119.3" cy="164.3" r="4.9" fill="#fbd959" fill-opacity="0.8" stroke="#d8ad22" stroke-width="1.3"/><circle cx="119.3" cy="171.6" r="4.9" fill="#fbd959" fill-opacity="0.8" stroke="#d8ad22" stroke-width="1.3"/><circle cx="125.9" cy="165.0" r="4.9" fill="#fcd8d7" fill-opacity="0.8" stroke="#f77f7a" stroke-width="1.3"/><circle cx="129.9" cy="170.9" r="4.9" fill="#fbd959" fill-opacity="0.8" stroke="#d8ad22" stroke-width="1.3"/><circle cx="134.5" cy="170.9" r="4.9" fill="#b6e281" fill-opacity="0.8" stroke="#6cc43a" stroke-width="1.3"/><circle cx="137.8" cy="179.5" r="4.9" fill="#fbd959" fill-opacity="0.8" stroke="#d8ad22" stroke-width="1.3"/><circle cx="131.8" cy="184.7" r="4.9" fill="#fcd8d7" fill-opacity="0.8" stroke="#f77f7a" stroke-width="1.3"/><circle cx="112.1" cy="145.3" r="4.9" fill="#fcd8d7" fill-opacity="0.8" stroke="#f77f7a" stroke-width="1.3"/><circle cx="100.3" cy="140.7" r="4.9" fill="#fcd8d7" fill-opacity="0.8" stroke="#f77f7a" stroke-width="1.3"/><circle cx="133.2" cy="152.5" r="4.9" fill="#fbd959" fill-opacity="0.8" stroke="#d8ad22" stroke-width="1.3"/><circle cx="129.9" cy="144.0" r="4.9" fill="#fcd8d7" fill-opacity="0.8" stroke="#f77f7a" stroke-width="1.3"/><circle cx="140.4" cy="150.5" r="4.9" fill="#fcd8d7" fill-opacity="0.8" stroke="#f77f7a" stroke-width="1.3"/><circle cx="129.2" cy="155.8" r="4.9" fill="#fcd8d7" fill-opacity="0.8" stroke="#f77f7a" stroke-width="1.3"/><circle cx="143.7" cy="174.2" r="4.9" fill="#b6e281" fill-opacity="0.8" stroke="#6cc43a" stroke-width="1.3"/><circle cx="142.4" cy="184.7" r="4.9" fill="#b6e281" fill-opacity="0.8" stroke="#6cc43a" stroke-width="1.3"/><circle cx="98.5" cy="193.7" r="4.9" fill="#fcd8d7" fill-opacity="0.8" stroke="#f77f7a" stroke-width="1.3"/><circle cx="131.6" cy="185.0" r="4.9" fill="#fcd8d7" fill-opacity="0.8" stroke="#f77f7a" stroke-width="1.3"/><circle cx="138.0" cy="180.0" r="4.9" fill="#fbd959" fill-opacity="0.8" stroke="#d8ad22" stroke-width="1.3"/><circle cx="132.2" cy="220.0" r="4.9" fill="#fcd8d7" fill-opacity="0.8" stroke="#f77f7a" stroke-width="1.3"/><circle cx="134.8" cy="221.3" r="4.9" fill="#fbd959" fill-opacity="0.8" stroke="#d8ad22" stroke-width="1.3"/><circle cx="138.7" cy="226.0" r="4.9" fill="#b6e281" fill-opacity="0.8" stroke="#6cc43a" stroke-width="1.3"/><circle cx="149.3" cy="231.8" r="4.9" fill="#b6e281" fill-opacity="0.8" stroke="#6cc43a" stroke-width="1.3"/><circle cx="155.3" cy="237.9" r="4.9" fill="#b6e281" fill-opacity="0.8" stroke="#6cc43a" stroke-width="1.3"/><circle cx="154.5" cy="224.7" r="4.9" fill="#b6e281" fill-opacity="0.8" stroke="#6cc43a" stroke-width="1.3"/><circle cx="160.6" cy="216.8" r="4.9" fill="#b6e281" fill-opacity="0.8" stroke="#6cc43a" stroke-width="1.3"/><circle cx="140.0" cy="202.9" r="4.9" fill="#b6e281" fill-opacity="0.8" stroke="#6cc43a" stroke-width="1.3"/><circle cx="145.3" cy="214.7" r="4.9" fill="#b6e281" fill-opacity="0.8" stroke="#6cc43a" stroke-width="1.3"/><circle cx="150.6" cy="210.8" r="4.9" fill="#fcd8d7" fill-opacity="0.8" stroke="#f77f7a" stroke-width="1.3"/><circle cx="142.2" cy="198.4" r="4.9" fill="#fbd959" fill-opacity="0.8" stroke="#d8ad22" stroke-width="1.3"/><circle cx="155.5" cy="260.3" r="4.9" fill="#b6e281" fill-opacity="0.8" stroke="#6cc43a" stroke-width="1.3"/><circle cx="172.6" cy="255.0" r="4.9" fill="#b6e281" fill-opacity="0.8" stroke="#6cc43a" stroke-width="1.3"/><circle cx="176.6" cy="269.0" r="4.9" fill="#b6e281" fill-opacity="0.8" stroke="#6cc43a" stroke-width="1.3"/><circle cx="151.1" cy="283.2" r="4.9" fill="#b6e281" fill-opacity="0.8" stroke="#6cc43a" stroke-width="1.3"/><circle cx="152.9" cy="296.3" r="4.9" fill="#b6e281" fill-opacity="0.8" stroke="#6cc43a" stroke-width="1.3"/><circle cx="151.1" cy="312.1" r="4.9" fill="#b6e281" fill-opacity="0.8" stroke="#6cc43a" stroke-width="1.3"/><circle cx="185.3" cy="241.1" r="4.9" fill="#b6e281" fill-opacity="0.8" stroke="#6cc43a" stroke-width="1.3"/><circle cx="174.7" cy="233.9" r="4.9" fill="#b6e281" fill-opacity="0.8" stroke="#6cc43a" stroke-width="1.3"/><circle cx="184.5" cy="232.6" r="4.9" fill="#d8d1fe" fill-opacity="0.8" stroke="#ab97fb" stroke-width="1.3"/><circle cx="196.3" cy="232.6" r="4.9" fill="#b6e281" fill-opacity="0.8" stroke="#6cc43a" stroke-width="1.3"/><circle cx="206.3" cy="237.4" r="4.9" fill="#b6e281" fill-opacity="0.8" stroke="#6cc43a" stroke-width="1.3"/><circle cx="201.6" cy="248.9" r="4.9" fill="#b6e281" fill-opacity="0.8" stroke="#6cc43a" stroke-width="1.3"/><circle cx="202.9" cy="252.4" r="4.9" fill="#b6e281" fill-opacity="0.8" stroke="#6cc43a" stroke-width="1.3"/><circle cx="216.8" cy="242.6" r="4.9" fill="#b6e281" fill-opacity="0.8" stroke="#6cc43a" stroke-width="1.3"/><circle cx="138.4" cy="229.0" r="4.9" fill="#b6e281" fill-opacity="0.8" stroke="#6cc43a" stroke-width="1.3"/><circle cx="239.0" cy="237.4" r="4.9" fill="#d8d1fe" fill-opacity="0.8" stroke="#ab97fb" stroke-width="1.3"/><circle cx="225.5" cy="243.7" r="4.9" fill="#b6e281" fill-opacity="0.8" stroke="#6cc43a" stroke-width="1.3"/><circle cx="217.6" cy="242.9" r="4.9" fill="#b6e281" fill-opacity="0.8" stroke="#6cc43a" stroke-width="1.3"/><circle cx="203.4" cy="226.0" r="4.9" fill="#b6e281" fill-opacity="0.8" stroke="#6cc43a" stroke-width="1.3"/><circle cx="212.1" cy="225.1" r="4.9" fill="#b6e281" fill-opacity="0.8" stroke="#6cc43a" stroke-width="1.3"/><circle cx="221.6" cy="231.4" r="4.9" fill="#b6e281" fill-opacity="0.8" stroke="#6cc43a" stroke-width="1.3"/><circle cx="216.9" cy="231.1" r="4.9" fill="#d8d1fe" fill-opacity="0.8" stroke="#ab97fb" stroke-width="1.3"/><circle cx="228.7" cy="222.4" r="4.9" fill="#b6e281" fill-opacity="0.8" stroke="#6cc43a" stroke-width="1.3"/><circle cx="228.7" cy="227.1" r="4.9" fill="#b6e281" fill-opacity="0.8" stroke="#6cc43a" stroke-width="1.3"/><circle cx="237.4" cy="216.1" r="4.9" fill="#b6e281" fill-opacity="0.8" stroke="#6cc43a" stroke-width="1.3"/><circle cx="212.1" cy="218.4" r="4.9" fill="#b6e281" fill-opacity="0.8" stroke="#6cc43a" stroke-width="1.3"/><circle cx="207.4" cy="216.1" r="4.9" fill="#b6e281" fill-opacity="0.8" stroke="#6cc43a" stroke-width="1.3"/><circle cx="223.2" cy="215.3" r="4.9" fill="#b6e281" fill-opacity="0.8" stroke="#6cc43a" stroke-width="1.3"/><circle cx="224.0" cy="208.2" r="4.9" fill="#d8d1fe" fill-opacity="0.8" stroke="#ab97fb" stroke-width="1.3"/><circle cx="191.6" cy="225.5" r="4.9" fill="#d8d1fe" fill-opacity="0.8" stroke="#ab97fb" stroke-width="1.3"/><circle cx="201.8" cy="247.7" r="4.9" fill="#b6e281" fill-opacity="0.8" stroke="#6cc43a" stroke-width="1.3"/><circle cx="194.7" cy="212.1" r="4.9" fill="#b6e281" fill-opacity="0.8" stroke="#6cc43a" stroke-width="1.3"/><circle cx="204.2" cy="209.0" r="4.9" fill="#b6e281" fill-opacity="0.8" stroke="#6cc43a" stroke-width="1.3"/><circle cx="145.8" cy="215.0" r="4.9" fill="#b6e281" fill-opacity="0.8" stroke="#6cc43a" stroke-width="1.3"/><circle cx="148.4" cy="221.6" r="4.9" fill="#b6e281" fill-opacity="0.8" stroke="#6cc43a" stroke-width="1.3"/><circle cx="173.4" cy="215.0" r="4.9" fill="#b6e281" fill-opacity="0.8" stroke="#6cc43a" stroke-width="1.3"/><circle cx="181.3" cy="215.0" r="4.9" fill="#b6e281" fill-opacity="0.8" stroke="#6cc43a" stroke-width="1.3"/><circle cx="186.6" cy="229.5" r="4.9" fill="#b6e281" fill-opacity="0.8" stroke="#6cc43a" stroke-width="1.3"/><circle cx="212.9" cy="222.9" r="4.9" fill="#b6e281" fill-opacity="0.8" stroke="#6cc43a" stroke-width="1.3"/><circle cx="220.8" cy="229.5" r="4.9" fill="#b6e281" fill-opacity="0.8" stroke="#6cc43a" stroke-width="1.3"/><circle cx="222.1" cy="213.7" r="4.9" fill="#b6e281" fill-opacity="0.8" stroke="#6cc43a" stroke-width="1.3"/><circle cx="174.7" cy="224.2" r="4.9" fill="#d8d1fe" fill-opacity="0.8" stroke="#ab97fb" stroke-width="1.3"/><circle cx="190.5" cy="224.2" r="4.9" fill="#d8d1fe" fill-opacity="0.8" stroke="#ab97fb" stroke-width="1.3"/><circle cx="215.5" cy="230.8" r="4.9" fill="#d8d1fe" fill-opacity="0.8" stroke="#ab97fb" stroke-width="1.3"/><circle cx="249.7" cy="229.5" r="4.9" fill="#d8d1fe" fill-opacity="0.8" stroke="#ab97fb" stroke-width="1.3"/><circle cx="132.6" cy="122.6" r="4.9" fill="#fcd8d7" fill-opacity="0.8" stroke="#f77f7a" stroke-width="1.3"/><circle cx="140.5" cy="125.3" r="4.9" fill="#fcd8d7" fill-opacity="0.8" stroke="#f77f7a" stroke-width="1.3"/><circle cx="148.4" cy="123.9" r="4.9" fill="#fcd8d7" fill-opacity="0.8" stroke="#f77f7a" stroke-width="1.3"/><circle cx="156.3" cy="121.3" r="4.9" fill="#fcd8d7" fill-opacity="0.8" stroke="#f77f7a" stroke-width="1.3"/><circle cx="164.2" cy="125.3" r="4.9" fill="#fcd8d7" fill-opacity="0.8" stroke="#f77f7a" stroke-width="1.3"/><circle cx="172.1" cy="127.9" r="4.9" fill="#fcd8d7" fill-opacity="0.8" stroke="#f77f7a" stroke-width="1.3"/><circle cx="177.4" cy="126.6" r="4.9" fill="#fcd8d7" fill-opacity="0.8" stroke="#f77f7a" stroke-width="1.3"/><circle cx="131.3" cy="133.2" r="4.9" fill="#fcd8d7" fill-opacity="0.8" stroke="#f77f7a" stroke-width="1.3"/><circle cx="139.2" cy="135.8" r="4.9" fill="#fcd8d7" fill-opacity="0.8" stroke="#f77f7a" stroke-width="1.3"/><circle cx="145.8" cy="133.2" r="4.9" fill="#fcd8d7" fill-opacity="0.8" stroke="#f77f7a" stroke-width="1.3"/><circle cx="155.0" cy="131.8" r="4.9" fill="#fcd8d7" fill-opacity="0.8" stroke="#f77f7a" stroke-width="1.3"/><circle cx="164.2" cy="131.8" r="4.9" fill="#fcd8d7" fill-opacity="0.8" stroke="#f77f7a" stroke-width="1.3"/><circle cx="169.5" cy="135.8" r="4.9" fill="#fcd8d7" fill-opacity="0.8" stroke="#f77f7a" stroke-width="1.3"/><circle cx="178.7" cy="138.4" r="4.9" fill="#fcd8d7" fill-opacity="0.8" stroke="#f77f7a" stroke-width="1.3"/><circle cx="141.8" cy="135.8" r="4.9" fill="#fbd959" fill-opacity="0.8" stroke="#d8ad22" stroke-width="1.3"/><circle cx="145.8" cy="137.1" r="4.9" fill="#fbd959" fill-opacity="0.8" stroke="#d8ad22" stroke-width="1.3"/><circle cx="135.3" cy="145.0" r="4.9" fill="#fcd8d7" fill-opacity="0.8" stroke="#f77f7a" stroke-width="1.3"/><circle cx="141.8" cy="146.3" r="4.9" fill="#fcd8d7" fill-opacity="0.8" stroke="#f77f7a" stroke-width="1.3"/><circle cx="148.4" cy="148.9" r="4.9" fill="#fcd8d7" fill-opacity="0.8" stroke="#f77f7a" stroke-width="1.3"/><circle cx="153.7" cy="145.0" r="4.9" fill="#fcd8d7" fill-opacity="0.8" stroke="#f77f7a" stroke-width="1.3"/><circle cx="137.9" cy="152.9" r="4.9" fill="#fcd8d7" fill-opacity="0.8" stroke="#f77f7a" stroke-width="1.3"/><circle cx="144.5" cy="152.9" r="4.9" fill="#fcd8d7" fill-opacity="0.8" stroke="#f77f7a" stroke-width="1.3"/><circle cx="158.9" cy="148.9" r="4.9" fill="#fcd8d7" fill-opacity="0.8" stroke="#f77f7a" stroke-width="1.3"/><circle cx="162.9" cy="139.7" r="4.9" fill="#fcd8d7" fill-opacity="0.8" stroke="#f77f7a" stroke-width="1.3"/><circle cx="168.2" cy="138.4" r="4.9" fill="#fcd8d7" fill-opacity="0.8" stroke="#f77f7a" stroke-width="1.3"/><circle cx="174.7" cy="143.7" r="4.9" fill="#fcd8d7" fill-opacity="0.8" stroke="#f77f7a" stroke-width="1.3"/><circle cx="182.6" cy="155.5" r="4.9" fill="#fcd8d7" fill-opacity="0.8" stroke="#f77f7a" stroke-width="1.3"/><circle cx="133.9" cy="151.6" r="4.9" fill="#fbd959" fill-opacity="0.8" stroke="#d8ad22" stroke-width="1.3"/><circle cx="156.3" cy="147.6" r="4.9" fill="#fbd959" fill-opacity="0.8" stroke="#d8ad22" stroke-width="1.3"/><circle cx="169.5" cy="148.9" r="4.9" fill="#b6e281" fill-opacity="0.8" stroke="#6cc43a" stroke-width="1.3"/><circle cx="165.5" cy="154.2" r="4.9" fill="#b6e281" fill-opacity="0.8" stroke="#6cc43a" stroke-width="1.3"/><circle cx="174.7" cy="154.2" r="4.9" fill="#b6e281" fill-opacity="0.8" stroke="#6cc43a" stroke-width="1.3"/><circle cx="190.5" cy="149.5" r="4.9" fill="#b6e281" fill-opacity="0.8" stroke="#6cc43a" stroke-width="1.3"/><circle cx="190.5" cy="162.1" r="4.9" fill="#b6e281" fill-opacity="0.8" stroke="#6cc43a" stroke-width="1.3"/><circle cx="208.9" cy="148.9" r="4.9" fill="#b6e281" fill-opacity="0.8" stroke="#6cc43a" stroke-width="1.3"/><circle cx="212.9" cy="154.2" r="4.9" fill="#b6e281" fill-opacity="0.8" stroke="#6cc43a" stroke-width="1.3"/><circle cx="218.2" cy="160.8" r="4.9" fill="#b6e281" fill-opacity="0.8" stroke="#6cc43a" stroke-width="1.3"/><circle cx="176.1" cy="141.1" r="4.9" fill="#b6e281" fill-opacity="0.8" stroke="#6cc43a" stroke-width="1.3"/><circle cx="211.6" cy="154.2" r="4.9" fill="#fcd8d7" fill-opacity="0.8" stroke="#f77f7a" stroke-width="1.3"/><circle cx="133.9" cy="171.3" r="4.9" fill="#b6e281" fill-opacity="0.8" stroke="#6cc43a" stroke-width="1.3"/><circle cx="145.8" cy="168.7" r="4.9" fill="#b6e281" fill-opacity="0.8" stroke="#6cc43a" stroke-width="1.3"/><circle cx="152.4" cy="166.1" r="4.9" fill="#b6e281" fill-opacity="0.8" stroke="#6cc43a" stroke-width="1.3"/><circle cx="158.9" cy="171.3" r="4.9" fill="#b6e281" fill-opacity="0.8" stroke="#6cc43a" stroke-width="1.3"/><circle cx="172.1" cy="159.5" r="4.9" fill="#b6e281" fill-opacity="0.8" stroke="#6cc43a" stroke-width="1.3"/><circle cx="173.4" cy="166.1" r="4.9" fill="#b6e281" fill-opacity="0.8" stroke="#6cc43a" stroke-width="1.3"/><circle cx="181.3" cy="171.3" r="4.9" fill="#b6e281" fill-opacity="0.8" stroke="#6cc43a" stroke-width="1.3"/><circle cx="197.1" cy="173.9" r="4.9" fill="#b6e281" fill-opacity="0.8" stroke="#6cc43a" stroke-width="1.3"/><circle cx="208.9" cy="172.6" r="4.9" fill="#b6e281" fill-opacity="0.8" stroke="#6cc43a" stroke-width="1.3"/><circle cx="216.8" cy="167.4" r="4.9" fill="#b6e281" fill-opacity="0.8" stroke="#6cc43a" stroke-width="1.3"/><circle cx="222.1" cy="172.6" r="4.9" fill="#b6e281" fill-opacity="0.8" stroke="#6cc43a" stroke-width="1.3"/><circle cx="230.0" cy="172.6" r="4.9" fill="#b6e281" fill-opacity="0.8" stroke="#6cc43a" stroke-width="1.3"/><circle cx="220.8" cy="176.6" r="4.9" fill="#b6e281" fill-opacity="0.8" stroke="#6cc43a" stroke-width="1.3"/><circle cx="144.5" cy="162.1" r="4.9" fill="#fcd8d7" fill-opacity="0.8" stroke="#f77f7a" stroke-width="1.3"/><circle cx="161.6" cy="163.4" r="4.9" fill="#fcd8d7" fill-opacity="0.8" stroke="#f77f7a" stroke-width="1.3"/><circle cx="168.2" cy="173.9" r="4.9" fill="#fcd8d7" fill-opacity="0.8" stroke="#f77f7a" stroke-width="1.3"/><circle cx="177.4" cy="172.6" r="4.9" fill="#fcd8d7" fill-opacity="0.8" stroke="#f77f7a" stroke-width="1.3"/><circle cx="240.5" cy="166.1" r="4.9" fill="#d8d1fe" fill-opacity="0.8" stroke="#ab97fb" stroke-width="1.3"/><circle cx="245.8" cy="170.0" r="4.9" fill="#d8d1fe" fill-opacity="0.8" stroke="#ab97fb" stroke-width="1.3"/><circle cx="166.8" cy="168.7" r="4.9" fill="#fbd959" fill-opacity="0.8" stroke="#d8ad22" stroke-width="1.3"/><circle cx="137.9" cy="180.5" r="4.9" fill="#b6e281" fill-opacity="0.8" stroke="#6cc43a" stroke-width="1.3"/><circle cx="145.8" cy="175.3" r="4.9" fill="#b6e281" fill-opacity="0.8" stroke="#6cc43a" stroke-width="1.3"/><circle cx="149.7" cy="179.2" r="4.9" fill="#b6e281" fill-opacity="0.8" stroke="#6cc43a" stroke-width="1.3"/><circle cx="153.7" cy="183.2" r="4.9" fill="#b6e281" fill-opacity="0.8" stroke="#6cc43a" stroke-width="1.3"/><circle cx="157.6" cy="176.6" r="4.9" fill="#b6e281" fill-opacity="0.8" stroke="#6cc43a" stroke-width="1.3"/><circle cx="161.6" cy="181.8" r="4.9" fill="#b6e281" fill-opacity="0.8" stroke="#6cc43a" stroke-width="1.3"/><circle cx="169.5" cy="188.4" r="4.9" fill="#b6e281" fill-opacity="0.8" stroke="#6cc43a" stroke-width="1.3"/><circle cx="180.0" cy="176.6" r="4.9" fill="#b6e281" fill-opacity="0.8" stroke="#6cc43a" stroke-width="1.3"/><circle cx="183.9" cy="183.2" r="4.9" fill="#b6e281" fill-opacity="0.8" stroke="#6cc43a" stroke-width="1.3"/><circle cx="189.2" cy="185.8" r="4.9" fill="#b6e281" fill-opacity="0.8" stroke="#6cc43a" stroke-width="1.3"/><circle cx="193.2" cy="176.6" r="4.9" fill="#b6e281" fill-opacity="0.8" stroke="#6cc43a" stroke-width="1.3"/><circle cx="198.4" cy="184.5" r="4.9" fill="#b6e281" fill-opacity="0.8" stroke="#6cc43a" stroke-width="1.3"/><circle cx="203.7" cy="189.7" r="4.9" fill="#b6e281" fill-opacity="0.8" stroke="#6cc43a" stroke-width="1.3"/><circle cx="208.9" cy="183.2" r="4.9" fill="#b6e281" fill-opacity="0.8" stroke="#6cc43a" stroke-width="1.3"/><circle cx="216.8" cy="181.8" r="4.9" fill="#b6e281" fill-opacity="0.8" stroke="#6cc43a" stroke-width="1.3"/><circle cx="224.7" cy="184.5" r="4.9" fill="#b6e281" fill-opacity="0.8" stroke="#6cc43a" stroke-width="1.3"/><circle cx="228.7" cy="181.8" r="4.9" fill="#b6e281" fill-opacity="0.8" stroke="#6cc43a" stroke-width="1.3"/><circle cx="220.8" cy="191.1" r="4.9" fill="#b6e281" fill-opacity="0.8" stroke="#6cc43a" stroke-width="1.3"/><circle cx="137.9" cy="179.2" r="4.9" fill="#fbd959" fill-opacity="0.8" stroke="#d8ad22" stroke-width="1.3"/><circle cx="132.6" cy="184.5" r="4.9" fill="#fcd8d7" fill-opacity="0.8" stroke="#f77f7a" stroke-width="1.3"/><circle cx="145.8" cy="183.2" r="4.9" fill="#fcd8d7" fill-opacity="0.8" stroke="#f77f7a" stroke-width="1.3"/><circle cx="177.4" cy="187.1" r="4.9" fill="#d8d1fe" fill-opacity="0.8" stroke="#ab97fb" stroke-width="1.3"/><circle cx="194.5" cy="183.2" r="4.9" fill="#d8d1fe" fill-opacity="0.8" stroke="#ab97fb" stroke-width="1.3"/><circle cx="206.3" cy="179.2" r="4.9" fill="#d8d1fe" fill-opacity="0.8" stroke="#ab97fb" stroke-width="1.3"/><circle cx="240.5" cy="179.2" r="4.9" fill="#d8d1fe" fill-opacity="0.8" stroke="#ab97fb" stroke-width="1.3"/><circle cx="245.8" cy="185.8" r="4.9" fill="#d8d1fe" fill-opacity="0.8" stroke="#ab97fb" stroke-width="1.3"/><circle cx="240.5" cy="191.1" r="4.9" fill="#d8d1fe" fill-opacity="0.8" stroke="#ab97fb" stroke-width="1.3"/><circle cx="140.5" cy="193.7" r="4.9" fill="#b6e281" fill-opacity="0.8" stroke="#6cc43a" stroke-width="1.3"/><circle cx="145.8" cy="198.9" r="4.9" fill="#b6e281" fill-opacity="0.8" stroke="#6cc43a" stroke-width="1.3"/><circle cx="151.1" cy="193.7" r="4.9" fill="#b6e281" fill-opacity="0.8" stroke="#6cc43a" stroke-width="1.3"/><circle cx="155.0" cy="201.6" r="4.9" fill="#b6e281" fill-opacity="0.8" stroke="#6cc43a" stroke-width="1.3"/><circle cx="158.9" cy="196.3" r="4.9" fill="#b6e281" fill-opacity="0.8" stroke="#6cc43a" stroke-width="1.3"/><circle cx="164.2" cy="193.7" r="4.9" fill="#b6e281" fill-opacity="0.8" stroke="#6cc43a" stroke-width="1.3"/><circle cx="169.5" cy="198.9" r="4.9" fill="#b6e281" fill-opacity="0.8" stroke="#6cc43a" stroke-width="1.3"/><circle cx="176.1" cy="204.2" r="4.9" fill="#b6e281" fill-opacity="0.8" stroke="#6cc43a" stroke-width="1.3"/><circle cx="181.3" cy="197.6" r="4.9" fill="#b6e281" fill-opacity="0.8" stroke="#6cc43a" stroke-width="1.3"/><circle cx="186.6" cy="201.6" r="4.9" fill="#b6e281" fill-opacity="0.8" stroke="#6cc43a" stroke-width="1.3"/><circle cx="190.5" cy="193.7" r="4.9" fill="#b6e281" fill-opacity="0.8" stroke="#6cc43a" stroke-width="1.3"/><circle cx="197.1" cy="198.9" r="4.9" fill="#b6e281" fill-opacity="0.8" stroke="#6cc43a" stroke-width="1.3"/><circle cx="201.1" cy="206.8" r="4.9" fill="#b6e281" fill-opacity="0.8" stroke="#6cc43a" stroke-width="1.3"/><circle cx="207.6" cy="195.0" r="4.9" fill="#b6e281" fill-opacity="0.8" stroke="#6cc43a" stroke-width="1.3"/><circle cx="212.9" cy="198.9" r="4.9" fill="#b6e281" fill-opacity="0.8" stroke="#6cc43a" stroke-width="1.3"/><circle cx="219.5" cy="196.3" r="4.9" fill="#b6e281" fill-opacity="0.8" stroke="#6cc43a" stroke-width="1.3"/><circle cx="222.1" cy="204.2" r="4.9" fill="#b6e281" fill-opacity="0.8" stroke="#6cc43a" stroke-width="1.3"/><circle cx="230.0" cy="198.9" r="4.9" fill="#b6e281" fill-opacity="0.8" stroke="#6cc43a" stroke-width="1.3"/><circle cx="233.9" cy="205.5" r="4.9" fill="#b6e281" fill-opacity="0.8" stroke="#6cc43a" stroke-width="1.3"/><circle cx="240.5" cy="206.8" r="4.9" fill="#b6e281" fill-opacity="0.8" stroke="#6cc43a" stroke-width="1.3"/><circle cx="155.0" cy="189.7" r="4.9" fill="#d8d1fe" fill-opacity="0.8" stroke="#ab97fb" stroke-width="1.3"/><circle cx="177.4" cy="200.3" r="4.9" fill="#d8d1fe" fill-opacity="0.8" stroke="#ab97fb" stroke-width="1.3"/><circle cx="185.3" cy="195.0" r="4.9" fill="#d8d1fe" fill-opacity="0.8" stroke="#ab97fb" stroke-width="1.3"/><circle cx="195.8" cy="193.7" r="4.9" fill="#d8d1fe" fill-opacity="0.8" stroke="#ab97fb" stroke-width="1.3"/><circle cx="210.3" cy="191.1" r="4.9" fill="#d8d1fe" fill-opacity="0.8" stroke="#ab97fb" stroke-width="1.3"/><circle cx="232.6" cy="197.6" r="4.9" fill="#d8d1fe" fill-opacity="0.8" stroke="#ab97fb" stroke-width="1.3"/><circle cx="237.9" cy="200.3" r="4.9" fill="#d8d1fe" fill-opacity="0.8" stroke="#ab97fb" stroke-width="1.3"/><circle cx="245.8" cy="198.9" r="4.9" fill="#d8d1fe" fill-opacity="0.8" stroke="#ab97fb" stroke-width="1.3"/><circle cx="243.2" cy="204.2" r="4.9" fill="#d8d1fe" fill-opacity="0.8" stroke="#ab97fb" stroke-width="1.3"/><circle cx="140.5" cy="198.9" r="4.9" fill="#fbd959" fill-opacity="0.8" stroke="#d8ad22" stroke-width="1.3"/><circle cx="149.7" cy="209.5" r="4.9" fill="#fcd8d7" fill-opacity="0.8" stroke="#f77f7a" stroke-width="1.3"/><circle cx="145.8" cy="206.8" r="4.9" fill="#fcd8d7" fill-opacity="0.8" stroke="#f77f7a" stroke-width="1.3"/><circle cx="137.9" cy="213.4" r="4.9" fill="#b6e281" fill-opacity="0.8" stroke="#6cc43a" stroke-width="1.3"/><circle cx="160.3" cy="214.7" r="4.9" fill="#b6e281" fill-opacity="0.8" stroke="#6cc43a" stroke-width="1.3"/><circle cx="182.6" cy="212.1" r="4.9" fill="#b6e281" fill-opacity="0.8" stroke="#6cc43a" stroke-width="1.3"/><circle cx="191.8" cy="212.1" r="4.9" fill="#b6e281" fill-opacity="0.8" stroke="#6cc43a" stroke-width="1.3"/><circle cx="201.1" cy="213.4" r="4.9" fill="#b6e281" fill-opacity="0.8" stroke="#6cc43a" stroke-width="1.3"/><circle cx="210.3" cy="213.4" r="4.9" fill="#b6e281" fill-opacity="0.8" stroke="#6cc43a" stroke-width="1.3"/><circle cx="237.9" cy="213.4" r="4.9" fill="#b6e281" fill-opacity="0.8" stroke="#6cc43a" stroke-width="1.3"/><circle cx="245.8" cy="212.1" r="4.9" fill="#b6e281" fill-opacity="0.8" stroke="#6cc43a" stroke-width="1.3"/><circle cx="211.6" cy="144.0" r="4.9" fill="#b6e281" fill-opacity="0.8" stroke="#6cc43a" stroke-width="1.3"/><circle cx="213.7" cy="154.7" r="4.9" fill="#b6e281" fill-opacity="0.8" stroke="#6cc43a" stroke-width="1.3"/><circle cx="215.8" cy="161.0" r="4.9" fill="#b6e281" fill-opacity="0.8" stroke="#6cc43a" stroke-width="1.3"/><circle cx="222.0" cy="173.7" r="4.9" fill="#b6e281" fill-opacity="0.8" stroke="#6cc43a" stroke-width="1.3"/><circle cx="228.4" cy="182.0" r="4.9" fill="#b6e281" fill-opacity="0.8" stroke="#6cc43a" stroke-width="1.3"/></g>
<line x1="75.1" y1="150.2" x2="325.5" y2="189.8" stroke="#333" stroke-width="3"/>
<g stroke="#000" stroke-width="2.9" fill="none" stroke-linecap="butt" stroke-linejoin="round">
<path d="M67.5,0 L67.5,324.2 L328.9,324.2" stroke-linejoin="miter"/>
</g>
<g stroke="#000" stroke-width="2.4">
<line x1="61.7" y1="61.4" x2="67" y2="61.4"/>
<line x1="61.7" y1="135.4" x2="67" y2="135.4"/>
<line x1="61.7" y1="209.4" x2="67" y2="209.4"/>
<line x1="61.7" y1="283.5" x2="67" y2="283.5"/>
<line x1="105.7" y1="324" x2="105.7" y2="330.5"/>
<line x1="144.9" y1="324" x2="144.9" y2="330.5"/>
<line x1="184.1" y1="324" x2="184.1" y2="330.5"/>
<line x1="223.3" y1="324" x2="223.3" y2="330.5"/>
<line x1="262.5" y1="324" x2="262.5" y2="330.5"/>
<line x1="301.7" y1="324" x2="301.7" y2="330.5"/>
</g>
<g font-size="21px">
<text x="57.6" y="69" text-anchor="end">1.0</text>
<text x="57.6" y="143" text-anchor="end">0.5</text>
<text x="57.6" y="217" text-anchor="end">0.0</text>
<text x="60.2" y="291" text-anchor="end">−0.5</text>
<text x="105.7" y="349" text-anchor="middle">0</text>
<text x="144.9" y="349" text-anchor="middle">1</text>
<text x="184.1" y="349" text-anchor="middle">2</text>
<text x="223.3" y="349" text-anchor="middle">3</text>
<text x="262.5" y="349" text-anchor="middle">4</text>
<text x="301.7" y="349" text-anchor="middle">5</text>
</g>
<text x="82.4" y="29.2" font-size="33px">a</text>
<text x="67.6" y="373.7" font-size="22.4px">body mass (log<tspan font-size="15px" dy="4">10</tspan><tspan dy="-4"> grams)</tspan></text>
<text transform="translate(18.4,235.5) rotate(-90)" font-size="21px">slope parameter</text>
<defs><clipPath id="cb"><rect x="435" y="5" width="250" height="315"/></clipPath></defs>
<g clip-path="url(#cb)" fill="none" stroke="#a546b9" stroke-opacity="0.12" stroke-width="1"><path d="M443.0,289.6 L449.0,282.1 L454.9,274.8 L460.9,267.7 L466.8,260.7 L472.8,253.9 L478.7,247.2 L484.7,240.7 L490.6,234.4 L496.6,228.2 L502.5,222.2 L508.5,216.3 L514.4,210.6 L520.4,205.0 L526.3,199.7 L532.3,194.4 L538.2,189.4 L544.2,184.4 L550.1,179.7 L556.1,175.1 L562.0,170.6 L568.0,166.4 L573.9,162.2 L579.9,158.3 L585.8,154.5 L591.8,150.8 L597.7,147.4 L603.7,144.0 L609.6,140.9 L615.6,137.9 L621.5,135.0 L627.5,132.3 L633.4,129.8 L639.4,127.4 L645.3,125.2 L651.3,123.1 L657.2,121.2 L663.2,119.5 L669.1,117.9 L675.1,116.5"/><path d="M443.0,246.5 L449.0,239.1 L454.9,231.7 L460.9,224.6 L466.8,217.5 L472.8,210.6 L478.7,203.9 L484.7,197.3 L490.6,190.8 L496.6,184.5 L502.5,178.3 L508.5,172.3 L514.4,166.4 L520.4,160.6 L526.3,155.0 L532.3,149.5 L538.2,144.2 L544.2,139.0 L550.1,134.0 L556.1,129.0 L562.0,124.3 L568.0,119.6 L573.9,115.2 L579.9,110.8 L585.8,106.6 L591.8,102.6 L597.7,98.6 L603.7,94.9 L609.6,91.2 L615.6,87.7 L621.5,84.4 L627.5,81.2 L633.4,78.1 L639.4,75.2 L645.3,72.4 L651.3,69.7 L657.2,67.2 L663.2,64.9 L669.1,62.6 L675.1,60.6"/><path d="M443.0,267.4 L449.0,259.9 L454.9,252.5 L460.9,245.3 L466.8,238.2 L472.8,231.2 L478.7,224.4 L484.7,217.8 L490.6,211.3 L496.6,204.9 L502.5,198.7 L508.5,192.7 L514.4,186.8 L520.4,181.0 L526.3,175.4 L532.3,169.9 L538.2,164.6 L544.2,159.5 L550.1,154.5 L556.1,149.6 L562.0,144.9 L568.0,140.3 L573.9,135.9 L579.9,131.7 L585.8,127.5 L591.8,123.6 L597.7,119.8 L603.7,116.1 L609.6,112.6 L615.6,109.2 L621.5,106.0 L627.5,102.9 L633.4,100.0 L639.4,97.2 L645.3,94.6 L651.3,92.1 L657.2,89.8 L663.2,87.6 L669.1,85.6 L675.1,83.7"/><path d="M443.0,224.6 L449.0,217.1 L454.9,209.8 L460.9,202.7 L466.8,195.6 L472.8,188.8 L478.7,182.0 L484.7,175.5 L490.6,169.0 L496.6,162.7 L502.5,156.6 L508.5,150.6 L514.4,144.8 L520.4,139.1 L526.3,133.5 L532.3,128.1 L538.2,122.9 L544.2,117.7 L550.1,112.8 L556.1,108.0 L562.0,103.3 L568.0,98.8 L573.9,94.4 L579.9,90.1 L585.8,86.1 L591.8,82.1 L597.7,78.3 L603.7,74.7 L609.6,71.2 L615.6,67.8 L621.5,64.6 L627.5,61.5 L633.4,58.6 L639.4,55.9 L645.3,53.2 L651.3,50.8 L657.2,48.4 L663.2,46.2 L669.1,44.2 L675.1,42.3"/><path d="M443.0,317.2 L449.0,309.9 L454.9,302.7 L460.9,295.7 L466.8,288.9 L472.8,282.3 L478.7,275.8 L484.7,269.5 L490.6,263.3 L496.6,257.3 L502.5,251.5 L508.5,245.8 L514.4,240.3 L520.4,235.0 L526.3,229.8 L532.3,224.8 L538.2,220.0 L544.2,215.4 L550.1,210.9 L556.1,206.5 L562.0,202.4 L568.0,198.4 L573.9,194.5 L579.9,190.9 L585.8,187.4 L591.8,184.0 L597.7,180.9 L603.7,177.9 L609.6,175.0 L615.6,172.4 L621.5,169.9 L627.5,167.5 L633.4,165.4 L639.4,163.4 L645.3,161.5 L651.3,159.9 L657.2,158.4 L663.2,157.0 L669.1,155.8 L675.1,154.8"/><path d="M443.0,233.9 L449.0,226.4 L454.9,219.0 L460.9,211.8 L466.8,204.7 L472.8,197.8 L478.7,191.0 L484.7,184.4 L490.6,178.0 L496.6,171.7 L502.5,165.5 L508.5,159.5 L514.4,153.6 L520.4,147.9 L526.3,142.4 L532.3,137.0 L538.2,131.7 L544.2,126.6 L550.1,121.6 L556.1,116.8 L562.0,112.2 L568.0,107.7 L573.9,103.3 L579.9,99.1 L585.8,95.1 L591.8,91.2 L597.7,87.4 L603.7,83.8 L609.6,80.4 L615.6,77.1 L621.5,74.0 L627.5,71.0 L633.4,68.1 L639.4,65.4 L645.3,62.9 L651.3,60.5 L657.2,58.2 L663.2,56.2 L669.1,54.2 L675.1,52.4"/><path d="M443.0,225.6 L449.0,218.2 L454.9,210.9 L460.9,203.8 L466.8,196.9 L472.8,190.1 L478.7,183.5 L484.7,177.0 L490.6,170.7 L496.6,164.5 L502.5,158.4 L508.5,152.6 L514.4,146.9 L520.4,141.3 L526.3,135.9 L532.3,130.6 L538.2,125.5 L544.2,120.5 L550.1,115.7 L556.1,111.1 L562.0,106.6 L568.0,102.2 L573.9,98.0 L579.9,94.0 L585.8,90.1 L591.8,86.3 L597.7,82.8 L603.7,79.3 L609.6,76.0 L615.6,72.9 L621.5,69.9 L627.5,67.1 L633.4,64.4 L639.4,61.9 L645.3,59.5 L651.3,57.3 L657.2,55.2 L663.2,53.3 L669.1,51.6 L675.1,50.0"/><path d="M443.0,227.3 L449.0,219.9 L454.9,212.6 L460.9,205.5 L466.8,198.6 L472.8,191.8 L478.7,185.2 L484.7,178.7 L490.6,172.4 L496.6,166.2 L502.5,160.3 L508.5,154.4 L514.4,148.7 L520.4,143.2 L526.3,137.9 L532.3,132.7 L538.2,127.7 L544.2,122.8 L550.1,118.1 L556.1,113.5 L562.0,109.1 L568.0,104.9 L573.9,100.8 L579.9,96.9 L585.8,93.1 L591.8,89.5 L597.7,86.1 L603.7,82.8 L609.6,79.7 L615.6,76.7 L621.5,73.9 L627.5,71.3 L633.4,68.8 L639.4,66.5 L645.3,64.3 L651.3,62.3 L657.2,60.5 L663.2,58.8 L669.1,57.3 L675.1,55.9"/><path d="M443.0,257.7 L449.0,250.4 L454.9,243.2 L460.9,236.1 L466.8,229.2 L472.8,222.5 L478.7,215.9 L484.7,209.4 L490.6,203.1 L496.6,197.0 L502.5,191.0 L508.5,185.2 L514.4,179.5 L520.4,174.0 L526.3,168.6 L532.3,163.4 L538.2,158.3 L544.2,153.4 L550.1,148.6 L556.1,144.0 L562.0,139.5 L568.0,135.2 L573.9,131.1 L579.9,127.1 L585.8,123.2 L591.8,119.5 L597.7,116.0 L603.7,112.6 L609.6,109.3 L615.6,106.2 L621.5,103.3 L627.5,100.5 L633.4,97.9 L639.4,95.4 L645.3,93.0 L651.3,90.9 L657.2,88.8 L663.2,87.0 L669.1,85.2 L675.1,83.7"/><path d="M443.0,256.7 L449.0,249.2 L454.9,241.9 L460.9,234.8 L466.8,227.8 L472.8,220.9 L478.7,214.2 L484.7,207.7 L490.6,201.3 L496.6,195.0 L502.5,188.9 L508.5,183.0 L514.4,177.2 L520.4,171.5 L526.3,166.0 L532.3,160.7 L538.2,155.5 L544.2,150.4 L550.1,145.6 L556.1,140.8 L562.0,136.2 L568.0,131.8 L573.9,127.5 L579.9,123.4 L585.8,119.4 L591.8,115.6 L597.7,111.9 L603.7,108.3 L609.6,105.0 L615.6,101.7 L621.5,98.7 L627.5,95.7 L633.4,93.0 L639.4,90.3 L645.3,87.9 L651.3,85.5 L657.2,83.4 L663.2,81.3 L669.1,79.5 L675.1,77.8"/><path d="M443.0,245.3 L449.0,237.8 L454.9,230.5 L460.9,223.3 L466.8,216.3 L472.8,209.4 L478.7,202.7 L484.7,196.0 L490.6,189.6 L496.6,183.2 L502.5,177.1 L508.5,171.0 L514.4,165.1 L520.4,159.4 L526.3,153.7 L532.3,148.3 L538.2,142.9 L544.2,137.7 L550.1,132.7 L556.1,127.7 L562.0,123.0 L568.0,118.3 L573.9,113.9 L579.9,109.5 L585.8,105.3 L591.8,101.2 L597.7,97.3 L603.7,93.5 L609.6,89.9 L615.6,86.4 L621.5,83.0 L627.5,79.8 L633.4,76.7 L639.4,73.8 L645.3,71.0 L651.3,68.3 L657.2,65.8 L663.2,63.5 L669.1,61.2 L675.1,59.2"/><path d="M443.0,230.1 L449.0,222.5 L454.9,215.2 L460.9,208.0 L466.8,201.0 L472.8,194.1 L478.7,187.3 L484.7,180.8 L490.6,174.4 L496.6,168.1 L502.5,162.0 L508.5,156.1 L514.4,150.3 L520.4,144.7 L526.3,139.2 L532.3,133.9 L538.2,128.7 L544.2,123.7 L550.1,118.9 L556.1,114.2 L562.0,109.7 L568.0,105.3 L573.9,101.1 L579.9,97.0 L585.8,93.1 L591.8,89.4 L597.7,85.8 L603.7,82.3 L609.6,79.1 L615.6,75.9 L621.5,73.0 L627.5,70.2 L633.4,67.5 L639.4,65.0 L645.3,62.7 L651.3,60.5 L657.2,58.5 L663.2,56.7 L669.1,54.9 L675.1,53.4"/><path d="M443.0,232.4 L449.0,225.1 L454.9,217.9 L460.9,210.9 L466.8,204.1 L472.8,197.4 L478.7,190.9 L484.7,184.5 L490.6,178.3 L496.6,172.2 L502.5,166.2 L508.5,160.5 L514.4,154.8 L520.4,149.4 L526.3,144.0 L532.3,138.9 L538.2,133.8 L544.2,129.0 L550.1,124.3 L556.1,119.7 L562.0,115.3 L568.0,111.0 L573.9,106.9 L579.9,102.9 L585.8,99.1 L591.8,95.5 L597.7,91.9 L603.7,88.6 L609.6,85.4 L615.6,82.3 L621.5,79.4 L627.5,76.7 L633.4,74.1 L639.4,71.6 L645.3,69.3 L651.3,67.2 L657.2,65.2 L663.2,63.3 L669.1,61.6 L675.1,60.1"/><path d="M443.0,205.7 L449.0,198.1 L454.9,190.6 L460.9,183.4 L466.8,176.2 L472.8,169.3 L478.7,162.4 L484.7,155.8 L490.6,149.3 L496.6,142.9 L502.5,136.7 L508.5,130.6 L514.4,124.7 L520.4,119.0 L526.3,113.4 L532.3,107.9 L538.2,102.6 L544.2,97.5 L550.1,92.5 L556.1,87.6 L562.0,82.9 L568.0,78.4 L573.9,74.0 L579.9,69.8 L585.8,65.7 L591.8,61.8 L597.7,58.0 L603.7,54.4 L609.6,50.9 L615.6,47.6 L621.5,44.5 L627.5,41.4 L633.4,38.6 L639.4,35.9 L645.3,33.3 L651.3,30.9 L657.2,28.7 L663.2,26.6 L669.1,24.6 L675.1,22.8"/><path d="M443.0,317.1 L449.0,309.6 L454.9,302.2 L460.9,295.0 L466.8,288.0 L472.8,281.1 L478.7,274.3 L484.7,267.7 L490.6,261.3 L496.6,255.0 L502.5,248.9 L508.5,242.9 L514.4,237.1 L520.4,231.5 L526.3,226.0 L532.3,220.6 L538.2,215.5 L544.2,210.4 L550.1,205.5 L556.1,200.8 L562.0,196.3 L568.0,191.9 L573.9,187.6 L579.9,183.5 L585.8,179.6 L591.8,175.8 L597.7,172.1 L603.7,168.7 L609.6,165.3 L615.6,162.2 L621.5,159.2 L627.5,156.3 L633.4,153.6 L639.4,151.1 L645.3,148.7 L651.3,146.4 L657.2,144.4 L663.2,142.5 L669.1,140.7 L675.1,139.1"/><path d="M443.0,224.1 L449.0,216.7 L454.9,209.4 L460.9,202.3 L466.8,195.4 L472.8,188.6 L478.7,182.0 L484.7,175.5 L490.6,169.2 L496.6,163.1 L502.5,157.0 L508.5,151.2 L514.4,145.5 L520.4,139.9 L526.3,134.5 L532.3,129.3 L538.2,124.2 L544.2,119.3 L550.1,114.5 L556.1,109.8 L562.0,105.4 L568.0,101.0 L573.9,96.9 L579.9,92.8 L585.8,89.0 L591.8,85.3 L597.7,81.7 L603.7,78.3 L609.6,75.1 L615.6,72.0 L621.5,69.0 L627.5,66.2 L633.4,63.6 L639.4,61.1 L645.3,58.8 L651.3,56.6 L657.2,54.6 L663.2,52.7 L669.1,51.0 L675.1,49.4"/><path d="M443.0,250.2 L449.0,242.9 L454.9,235.8 L460.9,228.8 L466.8,222.0 L472.8,215.3 L478.7,208.8 L484.7,202.5 L490.6,196.3 L496.6,190.3 L502.5,184.4 L508.5,178.7 L514.4,173.1 L520.4,167.7 L526.3,162.5 L532.3,157.4 L538.2,152.5 L544.2,147.7 L550.1,143.1 L556.1,138.7 L562.0,134.4 L568.0,130.3 L573.9,126.3 L579.9,122.5 L585.8,118.8 L591.8,115.3 L597.7,112.0 L603.7,108.8 L609.6,105.8 L615.6,102.9 L621.5,100.2 L627.5,97.7 L633.4,95.3 L639.4,93.0 L645.3,91.0 L651.3,89.0 L657.2,87.3 L663.2,85.7 L669.1,84.2 L675.1,82.9"/><path d="M443.0,246.3 L449.0,238.9 L454.9,231.7 L460.9,224.6 L466.8,217.6 L472.8,210.8 L478.7,204.2 L484.7,197.7 L490.6,191.3 L496.6,185.1 L502.5,179.1 L508.5,173.2 L514.4,167.5 L520.4,161.9 L526.3,156.5 L532.3,151.2 L538.2,146.1 L544.2,141.1 L550.1,136.3 L556.1,131.7 L562.0,127.2 L568.0,122.8 L573.9,118.6 L579.9,114.6 L585.8,110.7 L591.8,106.9 L597.7,103.3 L603.7,99.9 L609.6,96.6 L615.6,93.5 L621.5,90.5 L627.5,87.6 L633.4,85.0 L639.4,82.4 L645.3,80.1 L651.3,77.9 L657.2,75.8 L663.2,73.9 L669.1,72.1 L675.1,70.5"/><path d="M443.0,294.3 L449.0,286.8 L454.9,279.5 L460.9,272.4 L466.8,265.4 L472.8,258.6 L478.7,252.0 L484.7,245.5 L490.6,239.1 L496.6,232.9 L502.5,226.9 L508.5,221.0 L514.4,215.2 L520.4,209.7 L526.3,204.2 L532.3,199.0 L538.2,193.9 L544.2,188.9 L550.1,184.1 L556.1,179.5 L562.0,175.0 L568.0,170.6 L573.9,166.4 L579.9,162.4 L585.8,158.5 L591.8,154.8 L597.7,151.2 L603.7,147.8 L609.6,144.6 L615.6,141.5 L621.5,138.5 L627.5,135.7 L633.4,133.1 L639.4,130.6 L645.3,128.3 L651.3,126.1 L657.2,124.1 L663.2,122.2 L669.1,120.5 L675.1,119.0"/><path d="M443.0,208.3 L449.0,200.9 L454.9,193.6 L460.9,186.5 L466.8,179.6 L472.8,172.8 L478.7,166.1 L484.7,159.6 L490.6,153.3 L496.6,147.1 L502.5,141.1 L508.5,135.2 L514.4,129.5 L520.4,123.9 L526.3,118.5 L532.3,113.2 L538.2,108.1 L544.2,103.2 L550.1,98.4 L556.1,93.7 L562.0,89.2 L568.0,84.9 L573.9,80.7 L579.9,76.7 L585.8,72.8 L591.8,69.1 L597.7,65.6 L603.7,62.1 L609.6,58.9 L615.6,55.8 L621.5,52.8 L627.5,50.1 L633.4,47.4 L639.4,44.9 L645.3,42.6 L651.3,40.4 L657.2,38.4 L663.2,36.6 L669.1,34.8 L675.1,33.3"/><path d="M443.0,247.0 L449.0,239.5 L454.9,232.2 L460.9,225.0 L466.8,218.1 L472.8,211.2 L478.7,204.6 L484.7,198.0 L490.6,191.7 L496.6,185.5 L502.5,179.5 L508.5,173.6 L514.4,167.9 L520.4,162.4 L526.3,157.0 L532.3,151.8 L538.2,146.7 L544.2,141.8 L550.1,137.0 L556.1,132.5 L562.0,128.0 L568.0,123.8 L573.9,119.7 L579.9,115.7 L585.8,112.0 L591.8,108.3 L597.7,104.9 L603.7,101.6 L609.6,98.4 L615.6,95.5 L621.5,92.6 L627.5,90.0 L633.4,87.5 L639.4,85.2 L645.3,83.0 L651.3,81.0 L657.2,79.1 L663.2,77.4 L669.1,75.9 L675.1,74.5"/><path d="M443.0,223.2 L449.0,215.6 L454.9,208.1 L460.9,200.8 L466.8,193.6 L472.8,186.5 L478.7,179.6 L484.7,172.8 L490.6,166.2 L496.6,159.8 L502.5,153.4 L508.5,147.3 L514.4,141.2 L520.4,135.4 L526.3,129.6 L532.3,124.0 L538.2,118.6 L544.2,113.3 L550.1,108.2 L556.1,103.2 L562.0,98.3 L568.0,93.6 L573.9,89.1 L579.9,84.6 L585.8,80.4 L591.8,76.3 L597.7,72.3 L603.7,68.5 L609.6,64.8 L615.6,61.3 L621.5,57.9 L627.5,54.6 L633.4,51.5 L639.4,48.6 L645.3,45.8 L651.3,43.2 L657.2,40.7 L663.2,38.3 L669.1,36.1 L675.1,34.0"/><path d="M443.0,267.0 L449.0,259.6 L454.9,252.3 L460.9,245.2 L466.8,238.2 L472.8,231.4 L478.7,224.7 L484.7,218.2 L490.6,211.8 L496.6,205.5 L502.5,199.4 L508.5,193.5 L514.4,187.6 L520.4,182.0 L526.3,176.4 L532.3,171.0 L538.2,165.8 L544.2,160.7 L550.1,155.7 L556.1,150.9 L562.0,146.3 L568.0,141.7 L573.9,137.3 L579.9,133.1 L585.8,129.0 L591.8,125.1 L597.7,121.2 L603.7,117.6 L609.6,114.1 L615.6,110.7 L621.5,107.5 L627.5,104.4 L633.4,101.4 L639.4,98.6 L645.3,96.0 L651.3,93.4 L657.2,91.1 L663.2,88.8 L669.1,86.8 L675.1,84.8"/><path d="M443.0,252.3 L449.0,245.1 L454.9,237.9 L460.9,231.0 L466.8,224.1 L472.8,217.5 L478.7,210.9 L484.7,204.6 L490.6,198.3 L496.6,192.3 L502.5,186.3 L508.5,180.5 L514.4,174.9 L520.4,169.4 L526.3,164.1 L532.3,158.9 L538.2,153.9 L544.2,149.0 L550.1,144.3 L556.1,139.7 L562.0,135.2 L568.0,131.0 L573.9,126.8 L579.9,122.8 L585.8,119.0 L591.8,115.3 L597.7,111.8 L603.7,108.4 L609.6,105.1 L615.6,102.0 L621.5,99.1 L627.5,96.3 L633.4,93.6 L639.4,91.1 L645.3,88.8 L651.3,86.6 L657.2,84.6 L663.2,82.7 L669.1,80.9 L675.1,79.3"/><path d="M443.0,250.7 L449.0,243.3 L454.9,236.0 L460.9,228.8 L466.8,221.9 L472.8,215.1 L478.7,208.4 L484.7,201.9 L490.6,195.6 L496.6,189.4 L502.5,183.4 L508.5,177.5 L514.4,171.8 L520.4,166.3 L526.3,160.9 L532.3,155.6 L538.2,150.6 L544.2,145.7 L550.1,140.9 L556.1,136.3 L562.0,131.9 L568.0,127.6 L573.9,123.5 L579.9,119.5 L585.8,115.7 L591.8,112.1 L597.7,108.6 L603.7,105.3 L609.6,102.2 L615.6,99.1 L621.5,96.3 L627.5,93.6 L633.4,91.1 L639.4,88.7 L645.3,86.5 L651.3,84.5 L657.2,82.6 L663.2,80.9 L669.1,79.3 L675.1,77.9"/><path d="M443.0,246.1 L449.0,238.7 L454.9,231.5 L460.9,224.5 L466.8,217.6 L472.8,210.8 L478.7,204.3 L484.7,197.8 L490.6,191.6 L496.6,185.5 L502.5,179.5 L508.5,173.7 L514.4,168.1 L520.4,162.6 L526.3,157.3 L532.3,152.1 L538.2,147.1 L544.2,142.2 L550.1,137.5 L556.1,133.0 L562.0,128.6 L568.0,124.4 L573.9,120.3 L579.9,116.4 L585.8,112.6 L591.8,109.0 L597.7,105.6 L603.7,102.3 L609.6,99.2 L615.6,96.2 L621.5,93.4 L627.5,90.7 L633.4,88.2 L639.4,85.9 L645.3,83.7 L651.3,81.6 L657.2,79.7 L663.2,78.0 L669.1,76.5 L675.1,75.1"/><path d="M443.0,263.1 L449.0,255.6 L454.9,248.3 L460.9,241.2 L466.8,234.2 L472.8,227.3 L478.7,220.7 L484.7,214.1 L490.6,207.7 L496.6,201.5 L502.5,195.4 L508.5,189.5 L514.4,183.8 L520.4,178.1 L526.3,172.7 L532.3,167.4 L538.2,162.2 L544.2,157.2 L550.1,152.4 L556.1,147.7 L562.0,143.1 L568.0,138.8 L573.9,134.5 L579.9,130.5 L585.8,126.5 L591.8,122.8 L597.7,119.1 L603.7,115.7 L609.6,112.4 L615.6,109.2 L621.5,106.2 L627.5,103.4 L633.4,100.7 L639.4,98.1 L645.3,95.7 L651.3,93.5 L657.2,91.4 L663.2,89.5 L669.1,87.7 L675.1,86.1"/><path d="M443.0,219.5 L449.0,212.0 L454.9,204.7 L460.9,197.5 L466.8,190.5 L472.8,183.7 L478.7,177.0 L484.7,170.4 L490.6,164.0 L496.6,157.8 L502.5,151.7 L508.5,145.7 L514.4,139.9 L520.4,134.3 L526.3,128.8 L532.3,123.4 L538.2,118.2 L544.2,113.2 L550.1,108.3 L556.1,103.6 L562.0,99.0 L568.0,94.6 L573.9,90.3 L579.9,86.2 L585.8,82.2 L591.8,78.4 L597.7,74.7 L603.7,71.2 L609.6,67.8 L615.6,64.6 L621.5,61.5 L627.5,58.6 L633.4,55.8 L639.4,53.2 L645.3,50.8 L651.3,48.4 L657.2,46.3 L663.2,44.3 L669.1,42.4 L675.1,40.7"/><path d="M443.0,255.7 L449.0,248.4 L454.9,241.2 L460.9,234.2 L466.8,227.3 L472.8,220.5 L478.7,213.9 L484.7,207.5 L490.6,201.2 L496.6,195.0 L502.5,189.0 L508.5,183.1 L514.4,177.4 L520.4,171.8 L526.3,166.3 L532.3,161.0 L538.2,155.9 L544.2,150.9 L550.1,146.0 L556.1,141.3 L562.0,136.7 L568.0,132.2 L573.9,128.0 L579.9,123.8 L585.8,119.8 L591.8,115.9 L597.7,112.2 L603.7,108.7 L609.6,105.2 L615.6,101.9 L621.5,98.8 L627.5,95.8 L633.4,93.0 L639.4,90.3 L645.3,87.7 L651.3,85.3 L657.2,83.0 L663.2,80.9 L669.1,78.9 L675.1,77.1"/><path d="M443.0,234.3 L449.0,226.9 L454.9,219.6 L460.9,212.5 L466.8,205.6 L472.8,198.8 L478.7,192.2 L484.7,185.7 L490.6,179.4 L496.6,173.2 L502.5,167.2 L508.5,161.4 L514.4,155.7 L520.4,150.1 L526.3,144.7 L532.3,139.5 L538.2,134.4 L544.2,129.4 L550.1,124.6 L556.1,120.0 L562.0,115.5 L568.0,111.2 L573.9,107.0 L579.9,103.0 L585.8,99.1 L591.8,95.4 L597.7,91.8 L603.7,88.4 L609.6,85.1 L615.6,82.0 L621.5,79.0 L627.5,76.2 L633.4,73.6 L639.4,71.1 L645.3,68.7 L651.3,66.6 L657.2,64.5 L663.2,62.6 L669.1,60.9 L675.1,59.3"/><path d="M443.0,259.2 L449.0,251.7 L454.9,244.2 L460.9,237.0 L466.8,229.9 L472.8,223.0 L478.7,216.3 L484.7,209.7 L490.6,203.3 L496.6,197.1 L502.5,191.0 L508.5,185.1 L514.4,179.4 L520.4,173.8 L526.3,168.4 L532.3,163.2 L538.2,158.1 L544.2,153.3 L550.1,148.5 L556.1,144.0 L562.0,139.6 L568.0,135.4 L573.9,131.4 L579.9,127.5 L585.8,123.8 L591.8,120.2 L597.7,116.9 L603.7,113.7 L609.6,110.6 L615.6,107.8 L621.5,105.1 L627.5,102.5 L633.4,100.2 L639.4,98.0 L645.3,96.0 L651.3,94.1 L657.2,92.4 L663.2,90.9 L669.1,89.5 L675.1,88.4"/><path d="M443.0,219.2 L449.0,211.6 L454.9,204.1 L460.9,196.8 L466.8,189.7 L472.8,182.7 L478.7,175.9 L484.7,169.2 L490.6,162.7 L496.6,156.4 L502.5,150.2 L508.5,144.2 L514.4,138.3 L520.4,132.6 L526.3,127.0 L532.3,121.7 L538.2,116.4 L544.2,111.3 L550.1,106.4 L556.1,101.7 L562.0,97.1 L568.0,92.6 L573.9,88.3 L579.9,84.2 L585.8,80.2 L591.8,76.4 L597.7,72.8 L603.7,69.3 L609.6,66.0 L615.6,62.8 L621.5,59.8 L627.5,56.9 L633.4,54.2 L639.4,51.7 L645.3,49.3 L651.3,47.0 L657.2,45.0 L663.2,43.1 L669.1,41.3 L675.1,39.7"/><path d="M443.0,213.2 L449.0,205.9 L454.9,198.9 L460.9,191.9 L466.8,185.2 L472.8,178.5 L478.7,172.0 L484.7,165.6 L490.6,159.4 L496.6,153.4 L502.5,147.4 L508.5,141.6 L514.4,136.0 L520.4,130.5 L526.3,125.1 L532.3,119.9 L538.2,114.8 L544.2,109.9 L550.1,105.1 L556.1,100.4 L562.0,95.9 L568.0,91.5 L573.9,87.3 L579.9,83.2 L585.8,79.3 L591.8,75.5 L597.7,71.8 L603.7,68.3 L609.6,64.9 L615.6,61.7 L621.5,58.6 L627.5,55.7 L633.4,52.9 L639.4,50.2 L645.3,47.7 L651.3,45.3 L657.2,43.1 L663.2,41.0 L669.1,39.0 L675.1,37.2"/><path d="M443.0,312.8 L449.0,305.3 L454.9,298.0 L460.9,290.9 L466.8,283.9 L472.8,277.0 L478.7,270.4 L484.7,263.8 L490.6,257.5 L496.6,251.3 L502.5,245.2 L508.5,239.4 L514.4,233.6 L520.4,228.1 L526.3,222.7 L532.3,217.4 L538.2,212.4 L544.2,207.4 L550.1,202.7 L556.1,198.1 L562.0,193.6 L568.0,189.3 L573.9,185.2 L579.9,181.2 L585.8,177.4 L591.8,173.8 L597.7,170.3 L603.7,167.0 L609.6,163.8 L615.6,160.8 L621.5,157.9 L627.5,155.2 L633.4,152.7 L639.4,150.3 L645.3,148.1 L651.3,146.1 L657.2,144.2 L663.2,142.5 L669.1,140.9 L675.1,139.5"/><path d="M443.0,265.7 L449.0,258.2 L454.9,250.9 L460.9,243.7 L466.8,236.7 L472.8,229.8 L478.7,223.1 L484.7,216.6 L490.6,210.2 L496.6,204.0 L502.5,197.9 L508.5,192.0 L514.4,186.3 L520.4,180.7 L526.3,175.2 L532.3,170.0 L538.2,164.9 L544.2,159.9 L550.1,155.1 L556.1,150.4 L562.0,146.0 L568.0,141.6 L573.9,137.5 L579.9,133.5 L585.8,129.6 L591.8,125.9 L597.7,122.4 L603.7,119.0 L609.6,115.8 L615.6,112.7 L621.5,109.8 L627.5,107.1 L633.4,104.5 L639.4,102.1 L645.3,99.8 L651.3,97.7 L657.2,95.7 L663.2,93.9 L669.1,92.3 L675.1,90.8"/><path d="M443.0,198.3 L449.0,190.8 L454.9,183.5 L460.9,176.4 L466.8,169.4 L472.8,162.5 L478.7,155.8 L484.7,149.3 L490.6,142.8 L496.6,136.6 L502.5,130.4 L508.5,124.4 L514.4,118.6 L520.4,112.9 L526.3,107.4 L532.3,101.9 L538.2,96.7 L544.2,91.6 L550.1,86.6 L556.1,81.7 L562.0,77.1 L568.0,72.5 L573.9,68.1 L579.9,63.9 L585.8,59.7 L591.8,55.8 L597.7,52.0 L603.7,48.3 L609.6,44.7 L615.6,41.4 L621.5,38.1 L627.5,35.0 L633.4,32.1 L639.4,29.3 L645.3,26.6 L651.3,24.1 L657.2,21.7 L663.2,19.4 L669.1,17.4 L675.1,15.4"/><path d="M443.0,243.2 L449.0,235.8 L454.9,228.5 L460.9,221.4 L466.8,214.4 L472.8,207.6 L478.7,200.9 L484.7,194.4 L490.6,188.1 L496.6,181.9 L502.5,175.8 L508.5,170.0 L514.4,164.2 L520.4,158.7 L526.3,153.3 L532.3,148.0 L538.2,142.9 L544.2,138.0 L550.1,133.2 L556.1,128.6 L562.0,124.1 L568.0,119.8 L573.9,115.6 L579.9,111.6 L585.8,107.8 L591.8,104.1 L597.7,100.6 L603.7,97.2 L609.6,94.0 L615.6,90.9 L621.5,88.0 L627.5,85.2 L633.4,82.6 L639.4,80.2 L645.3,77.9 L651.3,75.8 L657.2,73.8 L663.2,72.0 L669.1,70.3 L675.1,68.8"/><path d="M443.0,297.9 L449.0,290.4 L454.9,283.2 L460.9,276.0 L466.8,269.1 L472.8,262.3 L478.7,255.6 L484.7,249.1 L490.6,242.8 L496.6,236.6 L502.5,230.5 L508.5,224.7 L514.4,218.9 L520.4,213.3 L526.3,207.9 L532.3,202.7 L538.2,197.5 L544.2,192.6 L550.1,187.8 L556.1,183.1 L562.0,178.6 L568.0,174.3 L573.9,170.1 L579.9,166.1 L585.8,162.2 L591.8,158.5 L597.7,154.9 L603.7,151.5 L609.6,148.2 L615.6,145.1 L621.5,142.2 L627.5,139.4 L633.4,136.7 L639.4,134.2 L645.3,131.9 L651.3,129.7 L657.2,127.7 L663.2,125.8 L669.1,124.1 L675.1,122.5"/><path d="M443.0,197.2 L449.0,189.4 L454.9,181.8 L460.9,174.4 L466.8,167.1 L472.8,160.0 L478.7,153.0 L484.7,146.2 L490.6,139.6 L496.6,133.1 L502.5,126.8 L508.5,120.6 L514.4,114.6 L520.4,108.7 L526.3,103.0 L532.3,97.5 L538.2,92.1 L544.2,86.8 L550.1,81.8 L556.1,76.8 L562.0,72.1 L568.0,67.5 L573.9,63.0 L579.9,58.7 L585.8,54.6 L591.8,50.6 L597.7,46.8 L603.7,43.2 L609.6,39.6 L615.6,36.3 L621.5,33.1 L627.5,30.1 L633.4,27.2 L639.4,24.5 L645.3,21.9 L651.3,19.5 L657.2,17.3 L663.2,15.2 L669.1,13.2 L675.1,11.5"/><path d="M443.0,255.0 L449.0,247.7 L454.9,240.5 L460.9,233.5 L466.8,226.6 L472.8,219.8 L478.7,213.2 L484.7,206.7 L490.6,200.4 L496.6,194.2 L502.5,188.1 L508.5,182.2 L514.4,176.4 L520.4,170.8 L526.3,165.3 L532.3,159.9 L538.2,154.7 L544.2,149.6 L550.1,144.7 L556.1,139.9 L562.0,135.3 L568.0,130.7 L573.9,126.4 L579.9,122.2 L585.8,118.1 L591.8,114.1 L597.7,110.3 L603.7,106.7 L609.6,103.1 L615.6,99.8 L621.5,96.5 L627.5,93.4 L633.4,90.5 L639.4,87.6 L645.3,85.0 L651.3,82.4 L657.2,80.0 L663.2,77.8 L669.1,75.7 L675.1,73.7"/><path d="M443.0,275.0 L449.0,267.5 L454.9,260.3 L460.9,253.2 L466.8,246.3 L472.8,239.5 L478.7,232.9 L484.7,226.5 L490.6,220.2 L496.6,214.1 L502.5,208.2 L508.5,202.4 L514.4,196.8 L520.4,191.4 L526.3,186.1 L532.3,181.0 L538.2,176.1 L544.2,171.3 L550.1,166.7 L556.1,162.3 L562.0,158.0 L568.0,153.9 L573.9,150.0 L579.9,146.2 L585.8,142.6 L591.8,139.1 L597.7,135.8 L603.7,132.7 L609.6,129.8 L615.6,127.0 L621.5,124.4 L627.5,121.9 L633.4,119.6 L639.4,117.5 L645.3,115.6 L651.3,113.8 L657.2,112.1 L663.2,110.7 L669.1,109.4 L675.1,108.3"/><path d="M443.0,234.6 L449.0,227.1 L454.9,219.8 L460.9,212.6 L466.8,205.5 L472.8,198.7 L478.7,191.9 L484.7,185.4 L490.6,179.0 L496.6,172.7 L502.5,166.7 L508.5,160.7 L514.4,155.0 L520.4,149.3 L526.3,143.9 L532.3,138.6 L538.2,133.5 L544.2,128.5 L550.1,123.6 L556.1,119.0 L562.0,114.5 L568.0,110.1 L573.9,105.9 L579.9,101.9 L585.8,98.0 L591.8,94.3 L597.7,90.7 L603.7,87.3 L609.6,84.1 L615.6,81.0 L621.5,78.1 L627.5,75.3 L633.4,72.7 L639.4,70.2 L645.3,67.9 L651.3,65.8 L657.2,63.8 L663.2,62.0 L669.1,60.3 L675.1,58.8"/><path d="M443.0,222.7 L449.0,215.2 L454.9,207.9 L460.9,200.7 L466.8,193.7 L472.8,186.9 L478.7,180.2 L484.7,173.7 L490.6,167.3 L496.6,161.1 L502.5,155.1 L508.5,149.2 L514.4,143.5 L520.4,137.9 L526.3,132.5 L532.3,127.3 L538.2,122.2 L544.2,117.3 L550.1,112.6 L556.1,108.0 L562.0,103.6 L568.0,99.3 L573.9,95.2 L579.9,91.2 L585.8,87.4 L591.8,83.8 L597.7,80.3 L603.7,77.0 L609.6,73.9 L615.6,70.9 L621.5,68.1 L627.5,65.4 L633.4,62.9 L639.4,60.6 L645.3,58.4 L651.3,56.4 L657.2,54.5 L663.2,52.8 L669.1,51.2 L675.1,49.9"/><path d="M443.0,255.2 L449.0,247.9 L454.9,240.6 L460.9,233.5 L466.8,226.6 L472.8,219.8 L478.7,213.1 L484.7,206.6 L490.6,200.3 L496.6,194.1 L502.5,188.1 L508.5,182.2 L514.4,176.4 L520.4,170.8 L526.3,165.4 L532.3,160.1 L538.2,154.9 L544.2,149.9 L550.1,145.1 L556.1,140.4 L562.0,135.8 L568.0,131.4 L573.9,127.2 L579.9,123.1 L585.8,119.1 L591.8,115.3 L597.7,111.7 L603.7,108.2 L609.6,104.8 L615.6,101.6 L621.5,98.6 L627.5,95.6 L633.4,92.9 L639.4,90.3 L645.3,87.8 L651.3,85.5 L657.2,83.4 L663.2,81.4 L669.1,79.5 L675.1,77.8"/><path d="M443.0,269.1 L449.0,261.7 L454.9,254.4 L460.9,247.3 L466.8,240.4 L472.8,233.6 L478.7,226.9 L484.7,220.4 L490.6,214.1 L496.6,207.9 L502.5,201.8 L508.5,195.9 L514.4,190.1 L520.4,184.5 L526.3,179.0 L532.3,173.7 L538.2,168.5 L544.2,163.5 L550.1,158.6 L556.1,153.9 L562.0,149.3 L568.0,144.8 L573.9,140.5 L579.9,136.4 L585.8,132.4 L591.8,128.5 L597.7,124.8 L603.7,121.3 L609.6,117.8 L615.6,114.6 L621.5,111.4 L627.5,108.5 L633.4,105.6 L639.4,103.0 L645.3,100.4 L651.3,98.0 L657.2,95.8 L663.2,93.7 L669.1,91.8 L675.1,90.0"/><path d="M443.0,192.4 L449.0,185.0 L454.9,177.7 L460.9,170.5 L466.8,163.5 L472.8,156.6 L478.7,149.9 L484.7,143.3 L490.6,136.8 L496.6,130.5 L502.5,124.3 L508.5,118.3 L514.4,112.4 L520.4,106.7 L526.3,101.1 L532.3,95.6 L538.2,90.3 L544.2,85.1 L550.1,80.1 L556.1,75.2 L562.0,70.5 L568.0,65.9 L573.9,61.4 L579.9,57.1 L585.8,53.0 L591.8,48.9 L597.7,45.0 L603.7,41.3 L609.6,37.7 L615.6,34.2 L621.5,30.9 L627.5,27.8 L633.4,24.7 L639.4,21.8 L645.3,19.1 L651.3,16.5 L657.2,14.0 L663.2,11.7 L669.1,9.6 L675.1,7.5"/><path d="M443.0,231.1 L449.0,223.7 L454.9,216.4 L460.9,209.3 L466.8,202.4 L472.8,195.6 L478.7,189.0 L484.7,182.6 L490.6,176.3 L496.6,170.2 L502.5,164.2 L508.5,158.4 L514.4,152.8 L520.4,147.3 L526.3,142.0 L532.3,136.9 L538.2,131.9 L544.2,127.1 L550.1,122.4 L556.1,117.9 L562.0,113.6 L568.0,109.4 L573.9,105.4 L579.9,101.5 L585.8,97.9 L591.8,94.3 L597.7,91.0 L603.7,87.8 L609.6,84.8 L615.6,81.9 L621.5,79.2 L627.5,76.6 L633.4,74.3 L639.4,72.0 L645.3,70.0 L651.3,68.1 L657.2,66.4 L663.2,64.8 L669.1,63.4 L675.1,62.2"/><path d="M443.0,237.0 L449.0,229.5 L454.9,222.2 L460.9,215.1 L466.8,208.1 L472.8,201.2 L478.7,194.5 L484.7,188.0 L490.6,181.6 L496.6,175.3 L502.5,169.2 L508.5,163.2 L514.4,157.4 L520.4,151.7 L526.3,146.2 L532.3,140.8 L538.2,135.6 L544.2,130.5 L550.1,125.6 L556.1,120.8 L562.0,116.2 L568.0,111.7 L573.9,107.3 L579.9,103.1 L585.8,99.1 L591.8,95.2 L597.7,91.4 L603.7,87.8 L609.6,84.4 L615.6,81.1 L621.5,77.9 L627.5,74.9 L633.4,72.0 L639.4,69.3 L645.3,66.8 L651.3,64.3 L657.2,62.1 L663.2,59.9 L669.1,57.9 L675.1,56.1"/><path d="M443.0,214.1 L449.0,206.7 L454.9,199.5 L460.9,192.4 L466.8,185.4 L472.8,178.6 L478.7,172.0 L484.7,165.4 L490.6,159.0 L496.6,152.8 L502.5,146.7 L508.5,140.7 L514.4,134.9 L520.4,129.2 L526.3,123.6 L532.3,118.2 L538.2,112.9 L544.2,107.8 L550.1,102.8 L556.1,98.0 L562.0,93.3 L568.0,88.7 L573.9,84.3 L579.9,80.0 L585.8,75.8 L591.8,71.8 L597.7,67.9 L603.7,64.2 L609.6,60.6 L615.6,57.2 L621.5,53.9 L627.5,50.7 L633.4,47.7 L639.4,44.8 L645.3,42.0 L651.3,39.4 L657.2,37.0 L663.2,34.6 L669.1,32.4 L675.1,30.4"/><path d="M443.0,232.0 L449.0,224.4 L454.9,217.0 L460.9,209.8 L466.8,202.7 L472.8,195.7 L478.7,188.9 L484.7,182.3 L490.6,175.8 L496.6,169.4 L502.5,163.2 L508.5,157.1 L514.4,151.1 L520.4,145.3 L526.3,139.7 L532.3,134.2 L538.2,128.8 L544.2,123.6 L550.1,118.6 L556.1,113.6 L562.0,108.9 L568.0,104.2 L573.9,99.7 L579.9,95.4 L585.8,91.2 L591.8,87.2 L597.7,83.3 L603.7,79.5 L609.6,75.9 L615.6,72.4 L621.5,69.1 L627.5,65.9 L633.4,62.9 L639.4,60.0 L645.3,57.2 L651.3,54.6 L657.2,52.2 L663.2,49.9 L669.1,47.7 L675.1,45.7"/><path d="M443.0,288.9 L449.0,281.7 L454.9,274.6 L460.9,267.7 L466.8,261.0 L472.8,254.3 L478.7,247.9 L484.7,241.5 L490.6,235.4 L496.6,229.3 L502.5,223.4 L508.5,217.7 L514.4,212.1 L520.4,206.6 L526.3,201.3 L532.3,196.2 L538.2,191.2 L544.2,186.3 L550.1,181.6 L556.1,177.0 L562.0,172.5 L568.0,168.3 L573.9,164.1 L579.9,160.1 L585.8,156.3 L591.8,152.6 L597.7,149.0 L603.7,145.6 L609.6,142.3 L615.6,139.2 L621.5,136.2 L627.5,133.4 L633.4,130.7 L639.4,128.1 L645.3,125.7 L651.3,123.5 L657.2,121.4 L663.2,119.4 L669.1,117.6 L675.1,116.0"/><path d="M443.0,235.0 L449.0,227.3 L454.9,219.9 L460.9,212.5 L466.8,205.4 L472.8,198.4 L478.7,191.6 L484.7,184.9 L490.6,178.4 L496.6,172.1 L502.5,166.0 L508.5,160.0 L514.4,154.1 L520.4,148.5 L526.3,143.0 L532.3,137.6 L538.2,132.4 L544.2,127.4 L550.1,122.6 L556.1,117.9 L562.0,113.4 L568.0,109.0 L573.9,104.9 L579.9,100.8 L585.8,97.0 L591.8,93.3 L597.7,89.8 L603.7,86.4 L609.6,83.2 L615.6,80.2 L621.5,77.3 L627.5,74.6 L633.4,72.1 L639.4,69.7 L645.3,67.5 L651.3,65.4 L657.2,63.5 L663.2,61.8 L669.1,60.3 L675.1,58.9"/><path d="M443.0,282.6 L449.0,275.1 L454.9,267.8 L460.9,260.6 L466.8,253.5 L472.8,246.7 L478.7,240.0 L484.7,233.4 L490.6,227.0 L496.6,220.7 L502.5,214.6 L508.5,208.7 L514.4,202.9 L520.4,197.2 L526.3,191.7 L532.3,186.4 L538.2,181.2 L544.2,176.2 L550.1,171.3 L556.1,166.6 L562.0,162.0 L568.0,157.6 L573.9,153.3 L579.9,149.2 L585.8,145.3 L591.8,141.5 L597.7,137.8 L603.7,134.3 L609.6,131.0 L615.6,127.8 L621.5,124.8 L627.5,121.9 L633.4,119.2 L639.4,116.6 L645.3,114.2 L651.3,112.0 L657.2,109.8 L663.2,107.9 L669.1,106.1 L675.1,104.5"/><path d="M443.0,204.4 L449.0,196.9 L454.9,189.6 L460.9,182.4 L466.8,175.4 L472.8,168.6 L478.7,161.9 L484.7,155.4 L490.6,149.0 L496.6,142.8 L502.5,136.8 L508.5,130.9 L514.4,125.2 L520.4,119.6 L526.3,114.2 L532.3,109.0 L538.2,103.9 L544.2,99.0 L550.1,94.2 L556.1,89.6 L562.0,85.2 L568.0,80.9 L573.9,76.8 L579.9,72.8 L585.8,69.0 L591.8,65.4 L597.7,61.9 L603.7,58.5 L609.6,55.4 L615.6,52.4 L621.5,49.5 L627.5,46.8 L633.4,44.3 L639.4,41.9 L645.3,39.7 L651.3,37.7 L657.2,35.8 L663.2,34.0 L669.1,32.5 L675.1,31.0"/><path d="M443.0,236.2 L449.0,228.7 L454.9,221.4 L460.9,214.2 L466.8,207.2 L472.8,200.4 L478.7,193.7 L484.7,187.1 L490.6,180.7 L496.6,174.4 L502.5,168.3 L508.5,162.3 L514.4,156.5 L520.4,150.8 L526.3,145.3 L532.3,139.9 L538.2,134.7 L544.2,129.6 L550.1,124.7 L556.1,119.9 L562.0,115.3 L568.0,110.8 L573.9,106.4 L579.9,102.3 L585.8,98.2 L591.8,94.3 L597.7,90.6 L603.7,87.0 L609.6,83.6 L615.6,80.3 L621.5,77.1 L627.5,74.1 L633.4,71.3 L639.4,68.6 L645.3,66.0 L651.3,63.6 L657.2,61.4 L663.2,59.3 L669.1,57.3 L675.1,55.5"/><path d="M443.0,261.7 L449.0,254.4 L454.9,247.2 L460.9,240.2 L466.8,233.3 L472.8,226.6 L478.7,220.0 L484.7,213.6 L490.6,207.4 L496.6,201.3 L502.5,195.4 L508.5,189.7 L514.4,184.1 L520.4,178.6 L526.3,173.4 L532.3,168.2 L538.2,163.3 L544.2,158.5 L550.1,153.8 L556.1,149.3 L562.0,145.0 L568.0,140.8 L573.9,136.8 L579.9,133.0 L585.8,129.3 L591.8,125.8 L597.7,122.4 L603.7,119.2 L609.6,116.1 L615.6,113.2 L621.5,110.5 L627.5,107.9 L633.4,105.5 L639.4,103.2 L645.3,101.1 L651.3,99.2 L657.2,97.4 L663.2,95.7 L669.1,94.3 L675.1,93.0"/><path d="M443.0,181.5 L449.0,174.0 L454.9,166.7 L460.9,159.5 L466.8,152.4 L472.8,145.5 L478.7,138.7 L484.7,132.0 L490.6,125.5 L496.6,119.1 L502.5,112.8 L508.5,106.7 L514.4,100.7 L520.4,94.9 L526.3,89.2 L532.3,83.6 L538.2,78.1 L544.2,72.8 L550.1,67.7 L556.1,62.6 L562.0,57.7 L568.0,53.0 L573.9,48.3 L579.9,43.9 L585.8,39.5 L591.8,35.3 L597.7,31.2 L603.7,27.3 L609.6,23.5 L615.6,19.8 L621.5,16.3 L627.5,12.9 L633.4,9.6 L639.4,6.5 L645.3,3.5 L651.3,0.6 L657.2,-2.1 L663.2,-4.7 L669.1,-7.1 L675.1,-9.4"/><path d="M443.0,294.4 L449.0,286.9 L454.9,279.6 L460.9,272.4 L466.8,265.4 L472.8,258.6 L478.7,251.8 L484.7,245.3 L490.6,238.9 L496.6,232.6 L502.5,226.6 L508.5,220.6 L514.4,214.8 L520.4,209.2 L526.3,203.7 L532.3,198.4 L538.2,193.2 L544.2,188.1 L550.1,183.3 L556.1,178.5 L562.0,174.0 L568.0,169.5 L573.9,165.3 L579.9,161.1 L585.8,157.2 L591.8,153.4 L597.7,149.7 L603.7,146.2 L609.6,142.8 L615.6,139.6 L621.5,136.6 L627.5,133.7 L633.4,130.9 L639.4,128.3 L645.3,125.9 L651.3,123.6 L657.2,121.4 L663.2,119.4 L669.1,117.6 L675.1,115.9"/><path d="M443.0,236.4 L449.0,228.8 L454.9,221.4 L460.9,214.1 L466.8,207.0 L472.8,200.0 L478.7,193.2 L484.7,186.5 L490.6,179.9 L496.6,173.6 L502.5,167.4 L508.5,161.3 L514.4,155.4 L520.4,149.6 L526.3,144.0 L532.3,138.5 L538.2,133.2 L544.2,128.1 L550.1,123.1 L556.1,118.2 L562.0,113.5 L568.0,109.0 L573.9,104.6 L579.9,100.4 L585.8,96.3 L591.8,92.4 L597.7,88.6 L603.7,84.9 L609.6,81.5 L615.6,78.1 L621.5,75.0 L627.5,72.0 L633.4,69.1 L639.4,66.4 L645.3,63.8 L651.3,61.4 L657.2,59.2 L663.2,57.1 L669.1,55.1 L675.1,53.3"/><path d="M443.0,236.9 L449.0,229.2 L454.9,221.7 L460.9,214.4 L466.8,207.2 L472.8,200.1 L478.7,193.3 L484.7,186.5 L490.6,179.9 L496.6,173.5 L502.5,167.2 L508.5,161.1 L514.4,155.1 L520.4,149.2 L526.3,143.6 L532.3,138.0 L538.2,132.7 L544.2,127.4 L550.1,122.4 L556.1,117.5 L562.0,112.7 L568.0,108.1 L573.9,103.6 L579.9,99.3 L585.8,95.2 L591.8,91.1 L597.7,87.3 L603.7,83.6 L609.6,80.0 L615.6,76.6 L621.5,73.4 L627.5,70.3 L633.4,67.4 L639.4,64.6 L645.3,61.9 L651.3,59.5 L657.2,57.1 L663.2,54.9 L669.1,52.9 L675.1,51.0"/><path d="M443.0,229.0 L449.0,221.7 L454.9,214.7 L460.9,207.8 L466.8,201.1 L472.8,194.5 L478.7,188.1 L484.7,182.0 L490.6,176.0 L496.6,170.1 L502.5,164.5 L508.5,159.0 L514.4,153.7 L520.4,148.6 L526.3,143.6 L532.3,138.8 L538.2,134.3 L544.2,129.8 L550.1,125.6 L556.1,121.5 L562.0,117.7 L568.0,114.0 L573.9,110.4 L579.9,107.1 L585.8,103.9 L591.8,100.9 L597.7,98.1 L603.7,95.4 L609.6,93.0 L615.6,90.7 L621.5,88.6 L627.5,86.6 L633.4,84.9 L639.4,83.3 L645.3,81.9 L651.3,80.7 L657.2,79.6 L663.2,78.7 L669.1,78.1 L675.1,77.5"/><path d="M443.0,199.5 L449.0,192.0 L454.9,184.6 L460.9,177.4 L466.8,170.4 L472.8,163.5 L478.7,156.8 L484.7,150.3 L490.6,143.9 L496.6,137.7 L502.5,131.6 L508.5,125.7 L514.4,120.0 L520.4,114.4 L526.3,109.0 L532.3,103.7 L538.2,98.6 L544.2,93.7 L550.1,88.9 L556.1,84.3 L562.0,79.8 L568.0,75.5 L573.9,71.4 L579.9,67.4 L585.8,63.6 L591.8,60.0 L597.7,56.5 L603.7,53.2 L609.6,50.0 L615.6,47.0 L621.5,44.2 L627.5,41.5 L633.4,39.0 L639.4,36.6 L645.3,34.4 L651.3,32.4 L657.2,30.5 L663.2,28.8 L669.1,27.2 L675.1,25.8"/><path d="M443.0,199.1 L449.0,191.6 L454.9,184.2 L460.9,177.0 L466.8,170.0 L472.8,163.1 L478.7,156.4 L484.7,149.8 L490.6,143.3 L496.6,137.0 L502.5,130.9 L508.5,124.9 L514.4,119.1 L520.4,113.4 L526.3,107.9 L532.3,102.5 L538.2,97.3 L544.2,92.2 L550.1,87.3 L556.1,82.5 L562.0,77.9 L568.0,73.4 L573.9,69.1 L579.9,64.9 L585.8,60.9 L591.8,57.0 L597.7,53.3 L603.7,49.8 L609.6,46.4 L615.6,43.1 L621.5,40.0 L627.5,37.0 L633.4,34.2 L639.4,31.6 L645.3,29.1 L651.3,26.7 L657.2,24.5 L663.2,22.5 L669.1,20.6 L675.1,18.9"/><path d="M443.0,204.1 L449.0,196.5 L454.9,189.1 L460.9,181.8 L466.8,174.7 L472.8,167.7 L478.7,160.8 L484.7,154.1 L490.6,147.5 L496.6,141.1 L502.5,134.9 L508.5,128.8 L514.4,122.8 L520.4,117.0 L526.3,111.3 L532.3,105.8 L538.2,100.4 L544.2,95.2 L550.1,90.1 L556.1,85.2 L562.0,80.4 L568.0,75.8 L573.9,71.3 L579.9,66.9 L585.8,62.7 L591.8,58.7 L597.7,54.8 L603.7,51.0 L609.6,47.4 L615.6,44.0 L621.5,40.7 L627.5,37.5 L633.4,34.5 L639.4,31.6 L645.3,28.9 L651.3,26.4 L657.2,23.9 L663.2,21.7 L669.1,19.5 L675.1,17.5"/><path d="M443.0,216.6 L449.0,209.0 L454.9,201.6 L460.9,194.3 L466.8,187.2 L472.8,180.3 L478.7,173.5 L484.7,166.9 L490.6,160.4 L496.6,154.1 L502.5,147.9 L508.5,141.9 L514.4,136.1 L520.4,130.4 L526.3,124.9 L532.3,119.5 L538.2,114.3 L544.2,109.3 L550.1,104.4 L556.1,99.6 L562.0,95.0 L568.0,90.6 L573.9,86.3 L579.9,82.2 L585.8,78.3 L591.8,74.5 L597.7,70.8 L603.7,67.3 L609.6,64.0 L615.6,60.8 L621.5,57.8 L627.5,55.0 L633.4,52.3 L639.4,49.7 L645.3,47.4 L651.3,45.1 L657.2,43.1 L663.2,41.1 L669.1,39.4 L675.1,37.8"/><path d="M443.0,224.0 L449.0,216.5 L454.9,209.2 L460.9,202.1 L466.8,195.1 L472.8,188.2 L478.7,181.5 L484.7,175.0 L490.6,168.6 L496.6,162.3 L502.5,156.2 L508.5,150.3 L514.4,144.5 L520.4,138.9 L526.3,133.4 L532.3,128.1 L538.2,122.9 L544.2,117.9 L550.1,113.0 L556.1,108.3 L562.0,103.7 L568.0,99.3 L573.9,95.0 L579.9,90.9 L585.8,87.0 L591.8,83.2 L597.7,79.5 L603.7,76.0 L609.6,72.6 L615.6,69.4 L621.5,66.4 L627.5,63.5 L633.4,60.7 L639.4,58.1 L645.3,55.7 L651.3,53.4 L657.2,51.3 L663.2,49.3 L669.1,47.5 L675.1,45.8"/><path d="M443.0,255.8 L449.0,248.1 L454.9,240.6 L460.9,233.2 L466.8,225.9 L472.8,218.8 L478.7,211.9 L484.7,205.1 L490.6,198.5 L496.6,192.0 L502.5,185.7 L508.5,179.6 L514.4,173.6 L520.4,167.7 L526.3,162.0 L532.3,156.5 L538.2,151.1 L544.2,145.9 L550.1,140.8 L556.1,135.9 L562.0,131.1 L568.0,126.5 L573.9,122.1 L579.9,117.8 L585.8,113.7 L591.8,109.7 L597.7,105.9 L603.7,102.2 L609.6,98.7 L615.6,95.3 L621.5,92.1 L627.5,89.1 L633.4,86.2 L639.4,83.4 L645.3,80.9 L651.3,78.4 L657.2,76.2 L663.2,74.1 L669.1,72.1 L675.1,70.3"/><path d="M443.0,274.5 L449.0,267.5 L454.9,260.6 L460.9,253.8 L466.8,247.2 L472.8,240.7 L478.7,234.4 L484.7,228.2 L490.6,222.2 L496.6,216.3 L502.5,210.6 L508.5,205.0 L514.4,199.6 L520.4,194.3 L526.3,189.2 L532.3,184.2 L538.2,179.4 L544.2,174.7 L550.1,170.2 L556.1,165.8 L562.0,161.6 L568.0,157.5 L573.9,153.6 L579.9,149.9 L585.8,146.2 L591.8,142.8 L597.7,139.4 L603.7,136.3 L609.6,133.2 L615.6,130.4 L621.5,127.7 L627.5,125.1 L633.4,122.7 L639.4,120.4 L645.3,118.3 L651.3,116.3 L657.2,114.5 L663.2,112.8 L669.1,111.3 L675.1,109.9"/><path d="M443.0,240.5 L449.0,233.1 L454.9,226.0 L460.9,219.0 L466.8,212.1 L472.8,205.4 L478.7,198.9 L484.7,192.5 L490.6,186.2 L496.6,180.1 L502.5,174.2 L508.5,168.4 L514.4,162.8 L520.4,157.3 L526.3,152.0 L532.3,146.9 L538.2,141.8 L544.2,137.0 L550.1,132.3 L556.1,127.7 L562.0,123.4 L568.0,119.1 L573.9,115.0 L579.9,111.1 L585.8,107.3 L591.8,103.7 L597.7,100.2 L603.7,96.9 L609.6,93.8 L615.6,90.7 L621.5,87.9 L627.5,85.2 L633.4,82.7 L639.4,80.3 L645.3,78.0 L651.3,75.9 L657.2,74.0 L663.2,72.2 L669.1,70.6 L675.1,69.2"/><path d="M443.0,240.7 L449.0,233.2 L454.9,225.8 L460.9,218.6 L466.8,211.5 L472.8,204.6 L478.7,197.8 L484.7,191.2 L490.6,184.8 L496.6,178.5 L502.5,172.3 L508.5,166.3 L514.4,160.4 L520.4,154.7 L526.3,149.2 L532.3,143.8 L538.2,138.5 L544.2,133.4 L550.1,128.5 L556.1,123.7 L562.0,119.0 L568.0,114.5 L573.9,110.2 L579.9,106.0 L585.8,102.0 L591.8,98.1 L597.7,94.4 L603.7,90.8 L609.6,87.4 L615.6,84.1 L621.5,81.0 L627.5,78.0 L633.4,75.2 L639.4,72.5 L645.3,70.0 L651.3,67.6 L657.2,65.4 L663.2,63.4 L669.1,61.5 L675.1,59.7"/><path d="M443.0,242.9 L449.0,235.5 L454.9,228.2 L460.9,221.0 L466.8,214.1 L472.8,207.3 L478.7,200.7 L484.7,194.2 L490.6,187.9 L496.6,181.8 L502.5,175.8 L508.5,170.0 L514.4,164.4 L520.4,158.9 L526.3,153.6 L532.3,148.5 L538.2,143.5 L544.2,138.7 L550.1,134.1 L556.1,129.6 L562.0,125.3 L568.0,121.1 L573.9,117.2 L579.9,113.4 L585.8,109.7 L591.8,106.3 L597.7,102.9 L603.7,99.8 L609.6,96.8 L615.6,94.0 L621.5,91.4 L627.5,88.9 L633.4,86.6 L639.4,84.4 L645.3,82.4 L651.3,80.6 L657.2,79.0 L663.2,77.5 L669.1,76.2 L675.1,75.0"/><path d="M443.0,329.0 L449.0,321.4 L454.9,314.0 L460.9,306.7 L466.8,299.6 L472.8,292.6 L478.7,285.8 L484.7,279.1 L490.6,272.6 L496.6,266.2 L502.5,260.0 L508.5,253.9 L514.4,248.0 L520.4,242.2 L526.3,236.6 L532.3,231.2 L538.2,225.9 L544.2,220.7 L550.1,215.7 L556.1,210.8 L562.0,206.1 L568.0,201.6 L573.9,197.2 L579.9,192.9 L585.8,188.8 L591.8,184.9 L597.7,181.1 L603.7,177.4 L609.6,173.9 L615.6,170.6 L621.5,167.4 L627.5,164.3 L633.4,161.4 L639.4,158.7 L645.3,156.1 L651.3,153.6 L657.2,151.3 L663.2,149.2 L669.1,147.2 L675.1,145.4"/><path d="M443.0,257.5 L449.0,250.1 L454.9,242.8 L460.9,235.7 L466.8,228.7 L472.8,221.8 L478.7,215.1 L484.7,208.6 L490.6,202.2 L496.6,196.0 L502.5,189.9 L508.5,184.0 L514.4,178.2 L520.4,172.6 L526.3,167.1 L532.3,161.8 L538.2,156.6 L544.2,151.6 L550.1,146.7 L556.1,142.0 L562.0,137.4 L568.0,133.0 L573.9,128.7 L579.9,124.6 L585.8,120.7 L591.8,116.9 L597.7,113.2 L603.7,109.7 L609.6,106.3 L615.6,103.1 L621.5,100.1 L627.5,97.2 L633.4,94.4 L639.4,91.8 L645.3,89.4 L651.3,87.1 L657.2,85.0 L663.2,83.0 L669.1,81.1 L675.1,79.4"/><path d="M443.0,266.3 L449.0,258.9 L454.9,251.5 L460.9,244.4 L466.8,237.3 L472.8,230.5 L478.7,223.8 L484.7,217.2 L490.6,210.9 L496.6,204.6 L502.5,198.6 L508.5,192.6 L514.4,186.9 L520.4,181.3 L526.3,175.8 L532.3,170.5 L538.2,165.4 L544.2,160.4 L550.1,155.6 L556.1,150.9 L562.0,146.4 L568.0,142.1 L573.9,137.9 L579.9,133.8 L585.8,129.9 L591.8,126.2 L597.7,122.6 L603.7,119.2 L609.6,116.0 L615.6,112.9 L621.5,109.9 L627.5,107.1 L633.4,104.5 L639.4,102.0 L645.3,99.7 L651.3,97.5 L657.2,95.5 L663.2,93.7 L669.1,92.0 L675.1,90.4"/><path d="M443.0,245.4 L449.0,237.9 L454.9,230.5 L460.9,223.2 L466.8,216.1 L472.8,209.2 L478.7,202.4 L484.7,195.7 L490.6,189.2 L496.6,182.9 L502.5,176.7 L508.5,170.7 L514.4,164.8 L520.4,159.0 L526.3,153.5 L532.3,148.0 L538.2,142.7 L544.2,137.6 L550.1,132.6 L556.1,127.8 L562.0,123.1 L568.0,118.6 L573.9,114.2 L579.9,110.0 L585.8,105.9 L591.8,102.0 L597.7,98.2 L603.7,94.6 L609.6,91.2 L615.6,87.8 L621.5,84.7 L627.5,81.7 L633.4,78.8 L639.4,76.1 L645.3,73.5 L651.3,71.1 L657.2,68.9 L663.2,66.8 L669.1,64.8 L675.1,63.0"/><path d="M443.0,239.2 L449.0,231.7 L454.9,224.4 L460.9,217.3 L466.8,210.3 L472.8,203.4 L478.7,196.7 L484.7,190.1 L490.6,183.7 L496.6,177.4 L502.5,171.2 L508.5,165.2 L514.4,159.4 L520.4,153.7 L526.3,148.1 L532.3,142.7 L538.2,137.4 L544.2,132.3 L550.1,127.3 L556.1,122.5 L562.0,117.8 L568.0,113.3 L573.9,108.9 L579.9,104.6 L585.8,100.5 L591.8,96.5 L597.7,92.7 L603.7,89.0 L609.6,85.5 L615.6,82.1 L621.5,78.9 L627.5,75.8 L633.4,72.8 L639.4,70.0 L645.3,67.4 L651.3,64.9 L657.2,62.5 L663.2,60.3 L669.1,58.2 L675.1,56.3"/><path d="M443.0,186.2 L449.0,178.7 L454.9,171.3 L460.9,164.1 L466.8,157.1 L472.8,150.2 L478.7,143.5 L484.7,137.0 L490.6,130.6 L496.6,124.4 L502.5,118.3 L508.5,112.4 L514.4,106.7 L520.4,101.2 L526.3,95.8 L532.3,90.5 L538.2,85.5 L544.2,80.6 L550.1,75.8 L556.1,71.3 L562.0,66.8 L568.0,62.6 L573.9,58.5 L579.9,54.6 L585.8,50.8 L591.8,47.3 L597.7,43.8 L603.7,40.6 L609.6,37.5 L615.6,34.6 L621.5,31.8 L627.5,29.2 L633.4,26.7 L639.4,24.5 L645.3,22.4 L651.3,20.4 L657.2,18.6 L663.2,17.0 L669.1,15.6 L675.1,14.3"/><path d="M443.0,239.3 L449.0,231.7 L454.9,224.2 L460.9,216.9 L466.8,209.7 L472.8,202.7 L478.7,195.9 L484.7,189.2 L490.6,182.7 L496.6,176.3 L502.5,170.1 L508.5,164.1 L514.4,158.2 L520.4,152.4 L526.3,146.8 L532.3,141.4 L538.2,136.2 L544.2,131.1 L550.1,126.1 L556.1,121.3 L562.0,116.7 L568.0,112.2 L573.9,107.9 L579.9,103.8 L585.8,99.8 L591.8,95.9 L597.7,92.2 L603.7,88.7 L609.6,85.3 L615.6,82.1 L621.5,79.1 L627.5,76.2 L633.4,73.4 L639.4,70.9 L645.3,68.4 L651.3,66.2 L657.2,64.1 L663.2,62.1 L669.1,60.3 L675.1,58.7"/><path d="M443.0,201.2 L449.0,193.4 L454.9,185.9 L460.9,178.5 L466.8,171.2 L472.8,164.1 L478.7,157.2 L484.7,150.4 L490.6,143.7 L496.6,137.3 L502.5,130.9 L508.5,124.8 L514.4,118.7 L520.4,112.9 L526.3,107.2 L532.3,101.6 L538.2,96.2 L544.2,90.9 L550.1,85.8 L556.1,80.9 L562.0,76.1 L568.0,71.5 L573.9,67.0 L579.9,62.7 L585.8,58.5 L591.8,54.5 L597.7,50.6 L603.7,46.9 L609.6,43.4 L615.6,40.0 L621.5,36.7 L627.5,33.7 L633.4,30.7 L639.4,27.9 L645.3,25.3 L651.3,22.8 L657.2,20.5 L663.2,18.4 L669.1,16.4 L675.1,14.5"/><path d="M443.0,266.4 L449.0,258.9 L454.9,251.6 L460.9,244.4 L466.8,237.4 L472.8,230.5 L478.7,223.8 L484.7,217.3 L490.6,210.9 L496.6,204.7 L502.5,198.6 L508.5,192.7 L514.4,187.0 L520.4,181.4 L526.3,176.0 L532.3,170.7 L538.2,165.6 L544.2,160.7 L550.1,155.9 L556.1,151.2 L562.0,146.8 L568.0,142.5 L573.9,138.3 L579.9,134.3 L585.8,130.5 L591.8,126.8 L597.7,123.3 L603.7,120.0 L609.6,116.8 L615.6,113.8 L621.5,110.9 L627.5,108.2 L633.4,105.6 L639.4,103.2 L645.3,101.0 L651.3,98.9 L657.2,97.0 L663.2,95.3 L669.1,93.7 L675.1,92.2"/><path d="M443.0,212.6 L449.0,205.1 L454.9,197.8 L460.9,190.6 L466.8,183.6 L472.8,176.8 L478.7,170.1 L484.7,163.6 L490.6,157.3 L496.6,151.1 L502.5,145.1 L508.5,139.2 L514.4,133.5 L520.4,127.9 L526.3,122.5 L532.3,117.3 L538.2,112.2 L544.2,107.3 L550.1,102.6 L556.1,98.0 L562.0,93.6 L568.0,89.3 L573.9,85.2 L579.9,81.2 L585.8,77.4 L591.8,73.8 L597.7,70.3 L603.7,67.0 L609.6,63.9 L615.6,60.9 L621.5,58.1 L627.5,55.4 L633.4,52.9 L639.4,50.5 L645.3,48.4 L651.3,46.3 L657.2,44.5 L663.2,42.7 L669.1,41.2 L675.1,39.8"/><path d="M443.0,216.1 L449.0,208.8 L454.9,201.7 L460.9,194.7 L466.8,187.9 L472.8,181.1 L478.7,174.6 L484.7,168.1 L490.6,161.9 L496.6,155.7 L502.5,149.7 L508.5,143.9 L514.4,138.1 L520.4,132.6 L526.3,127.1 L532.3,121.8 L538.2,116.7 L544.2,111.7 L550.1,106.8 L556.1,102.1 L562.0,97.5 L568.0,93.1 L573.9,88.8 L579.9,84.6 L585.8,80.6 L591.8,76.7 L597.7,73.0 L603.7,69.4 L609.6,66.0 L615.6,62.7 L621.5,59.5 L627.5,56.5 L633.4,53.6 L639.4,50.9 L645.3,48.3 L651.3,45.8 L657.2,43.5 L663.2,41.4 L669.1,39.3 L675.1,37.5"/><path d="M443.0,197.7 L449.0,190.0 L454.9,182.4 L460.9,175.0 L466.8,167.8 L472.8,160.7 L478.7,153.7 L484.7,146.9 L490.6,140.3 L496.6,133.7 L502.5,127.4 L508.5,121.2 L514.4,115.1 L520.4,109.2 L526.3,103.5 L532.3,97.9 L538.2,92.4 L544.2,87.1 L550.1,81.9 L556.1,76.9 L562.0,72.1 L568.0,67.4 L573.9,62.8 L579.9,58.4 L585.8,54.1 L591.8,50.0 L597.7,46.1 L603.7,42.3 L609.6,38.6 L615.6,35.1 L621.5,31.7 L627.5,28.5 L633.4,25.5 L639.4,22.6 L645.3,19.8 L651.3,17.2 L657.2,14.7 L663.2,12.4 L669.1,10.3 L675.1,8.3"/><path d="M443.0,196.6 L449.0,189.2 L454.9,182.0 L460.9,174.9 L466.8,167.9 L472.8,161.2 L478.7,154.6 L484.7,148.1 L490.6,141.8 L496.6,135.7 L502.5,129.8 L508.5,124.0 L514.4,118.3 L520.4,112.9 L526.3,107.6 L532.3,102.4 L538.2,97.4 L544.2,92.6 L550.1,88.0 L556.1,83.5 L562.0,79.1 L568.0,75.0 L573.9,71.0 L579.9,67.1 L585.8,63.4 L591.8,59.9 L597.7,56.6 L603.7,53.4 L609.6,50.3 L615.6,47.5 L621.5,44.8 L627.5,42.2 L633.4,39.8 L639.4,37.6 L645.3,35.6 L651.3,33.7 L657.2,31.9 L663.2,30.4 L669.1,28.9 L675.1,27.7"/><path d="M443.0,203.6 L449.0,196.0 L454.9,188.5 L460.9,181.2 L466.8,174.0 L472.8,167.0 L478.7,160.2 L484.7,153.5 L490.6,146.9 L496.6,140.6 L502.5,134.3 L508.5,128.3 L514.4,122.4 L520.4,116.7 L526.3,111.1 L532.3,105.7 L538.2,100.4 L544.2,95.3 L550.1,90.4 L556.1,85.6 L562.0,81.0 L568.0,76.5 L573.9,72.2 L579.9,68.1 L585.8,64.1 L591.8,60.3 L597.7,56.6 L603.7,53.1 L609.6,49.7 L615.6,46.5 L621.5,43.5 L627.5,40.6 L633.4,37.9 L639.4,35.4 L645.3,33.0 L651.3,30.8 L657.2,28.7 L663.2,26.8 L669.1,25.0 L675.1,23.4"/><path d="M443.0,208.0 L449.0,200.5 L454.9,193.1 L460.9,185.9 L466.8,178.8 L472.8,171.9 L478.7,165.2 L484.7,158.6 L490.6,152.1 L496.6,145.8 L502.5,139.7 L508.5,133.7 L514.4,127.8 L520.4,122.2 L526.3,116.6 L532.3,111.2 L538.2,106.0 L544.2,100.9 L550.1,96.0 L556.1,91.3 L562.0,86.7 L568.0,82.2 L573.9,77.9 L579.9,73.7 L585.8,69.7 L591.8,65.9 L597.7,62.2 L603.7,58.7 L609.6,55.3 L615.6,52.1 L621.5,49.0 L627.5,46.1 L633.4,43.3 L639.4,40.7 L645.3,38.2 L651.3,35.9 L657.2,33.8 L663.2,31.8 L669.1,29.9 L675.1,28.2"/><path d="M443.0,214.6 L449.0,207.2 L454.9,199.9 L460.9,192.8 L466.8,185.8 L472.8,179.0 L478.7,172.3 L484.7,165.8 L490.6,159.4 L496.6,153.2 L502.5,147.1 L508.5,141.2 L514.4,135.5 L520.4,129.9 L526.3,124.4 L532.3,119.1 L538.2,114.0 L544.2,109.0 L550.1,104.1 L556.1,99.4 L562.0,94.9 L568.0,90.5 L573.9,86.3 L579.9,82.2 L585.8,78.2 L591.8,74.5 L597.7,70.8 L603.7,67.4 L609.6,64.0 L615.6,60.9 L621.5,57.9 L627.5,55.0 L633.4,52.3 L639.4,49.7 L645.3,47.3 L651.3,45.0 L657.2,42.9 L663.2,41.0 L669.1,39.2 L675.1,37.5"/><path d="M443.0,221.9 L449.0,214.4 L454.9,207.1 L460.9,199.8 L466.8,192.7 L472.8,185.8 L478.7,178.9 L484.7,172.2 L490.6,165.7 L496.6,159.3 L502.5,153.0 L508.5,146.9 L514.4,140.9 L520.4,135.0 L526.3,129.3 L532.3,123.7 L538.2,118.2 L544.2,112.9 L550.1,107.7 L556.1,102.7 L562.0,97.8 L568.0,93.0 L573.9,88.4 L579.9,83.9 L585.8,79.6 L591.8,75.3 L597.7,71.3 L603.7,67.3 L609.6,63.5 L615.6,59.9 L621.5,56.3 L627.5,52.9 L633.4,49.7 L639.4,46.6 L645.3,43.6 L651.3,40.8 L657.2,38.0 L663.2,35.5 L669.1,33.1 L675.1,30.8"/><path d="M443.0,203.3 L449.0,196.1 L454.9,189.0 L460.9,182.1 L466.8,175.3 L472.8,168.7 L478.7,162.3 L484.7,155.9 L490.6,149.8 L496.6,143.7 L502.5,137.9 L508.5,132.2 L514.4,126.6 L520.4,121.2 L526.3,115.9 L532.3,110.8 L538.2,105.8 L544.2,101.0 L550.1,96.3 L556.1,91.8 L562.0,87.4 L568.0,83.1 L573.9,79.1 L579.9,75.1 L585.8,71.3 L591.8,67.7 L597.7,64.2 L603.7,60.9 L609.6,57.7 L615.6,54.6 L621.5,51.7 L627.5,49.0 L633.4,46.4 L639.4,44.0 L645.3,41.7 L651.3,39.5 L657.2,37.5 L663.2,35.7 L669.1,34.0 L675.1,32.4"/><path d="M443.0,335.2 L449.0,327.6 L454.9,320.2 L460.9,312.9 L466.8,305.8 L472.8,298.8 L478.7,292.0 L484.7,285.3 L490.6,278.8 L496.6,272.4 L502.5,266.2 L508.5,260.2 L514.4,254.3 L520.4,248.5 L526.3,242.9 L532.3,237.5 L538.2,232.2 L544.2,227.0 L550.1,222.0 L556.1,217.2 L562.0,212.5 L568.0,208.0 L573.9,203.6 L579.9,199.4 L585.8,195.3 L591.8,191.4 L597.7,187.7 L603.7,184.0 L609.6,180.6 L615.6,177.3 L621.5,174.1 L627.5,171.1 L633.4,168.3 L639.4,165.6 L645.3,163.1 L651.3,160.7 L657.2,158.4 L663.2,156.4 L669.1,154.4 L675.1,152.7"/><path d="M443.0,248.1 L449.0,240.7 L454.9,233.5 L460.9,226.4 L466.8,219.5 L472.8,212.7 L478.7,206.1 L484.7,199.6 L490.6,193.3 L496.6,187.1 L502.5,181.1 L508.5,175.2 L514.4,169.5 L520.4,163.9 L526.3,158.4 L532.3,153.1 L538.2,148.0 L544.2,143.0 L550.1,138.1 L556.1,133.4 L562.0,128.8 L568.0,124.4 L573.9,120.1 L579.9,116.0 L585.8,112.0 L591.8,108.2 L597.7,104.5 L603.7,101.0 L609.6,97.6 L615.6,94.3 L621.5,91.2 L627.5,88.3 L633.4,85.5 L639.4,82.8 L645.3,80.3 L651.3,78.0 L657.2,75.7 L663.2,73.7 L669.1,71.8 L675.1,70.0"/><path d="M443.0,253.8 L449.0,246.4 L454.9,239.2 L460.9,232.2 L466.8,225.2 L472.8,218.5 L478.7,211.9 L484.7,205.5 L490.6,199.3 L496.6,193.2 L502.5,187.2 L508.5,181.4 L514.4,175.8 L520.4,170.4 L526.3,165.1 L532.3,160.0 L538.2,155.0 L544.2,150.2 L550.1,145.5 L556.1,141.0 L562.0,136.7 L568.0,132.6 L573.9,128.6 L579.9,124.7 L585.8,121.0 L591.8,117.5 L597.7,114.1 L603.7,111.0 L609.6,107.9 L615.6,105.0 L621.5,102.3 L627.5,99.8 L633.4,97.4 L639.4,95.1 L645.3,93.1 L651.3,91.2 L657.2,89.4 L663.2,87.8 L669.1,86.4 L675.1,85.1"/><path d="M443.0,215.3 L449.0,207.7 L454.9,200.4 L460.9,193.2 L466.8,186.1 L472.8,179.3 L478.7,172.5 L484.7,166.0 L490.6,159.6 L496.6,153.3 L502.5,147.3 L508.5,141.4 L514.4,135.6 L520.4,130.0 L526.3,124.6 L532.3,119.3 L538.2,114.2 L544.2,109.3 L550.1,104.5 L556.1,99.8 L562.0,95.4 L568.0,91.1 L573.9,86.9 L579.9,83.0 L585.8,79.1 L591.8,75.5 L597.7,72.0 L603.7,68.6 L609.6,65.4 L615.6,62.4 L621.5,59.6 L627.5,56.9 L633.4,54.3 L639.4,52.0 L645.3,49.8 L651.3,47.7 L657.2,45.8 L663.2,44.1 L669.1,42.5 L675.1,41.1"/><path d="M443.0,276.9 L449.0,269.2 L454.9,261.7 L460.9,254.4 L466.8,247.2 L472.8,240.2 L478.7,233.3 L484.7,226.6 L490.6,220.0 L496.6,213.6 L502.5,207.3 L508.5,201.2 L514.4,195.3 L520.4,189.5 L526.3,183.9 L532.3,178.4 L538.2,173.1 L544.2,167.9 L550.1,162.9 L556.1,158.0 L562.0,153.3 L568.0,148.8 L573.9,144.4 L579.9,140.2 L585.8,136.1 L591.8,132.2 L597.7,128.4 L603.7,124.8 L609.6,121.4 L615.6,118.1 L621.5,114.9 L627.5,111.9 L633.4,109.1 L639.4,106.4 L645.3,103.9 L651.3,101.5 L657.2,99.3 L663.2,97.3 L669.1,95.4 L675.1,93.6"/><path d="M443.0,240.8 L449.0,233.4 L454.9,226.1 L460.9,219.0 L466.8,212.0 L472.8,205.2 L478.7,198.5 L484.7,192.0 L490.6,185.7 L496.6,179.5 L502.5,173.5 L508.5,167.6 L514.4,161.9 L520.4,156.3 L526.3,150.9 L532.3,145.6 L538.2,140.5 L544.2,135.6 L550.1,130.8 L556.1,126.1 L562.0,121.6 L568.0,117.3 L573.9,113.1 L579.9,109.1 L585.8,105.2 L591.8,101.5 L597.7,97.9 L603.7,94.5 L609.6,91.3 L615.6,88.2 L621.5,85.2 L627.5,82.4 L633.4,79.8 L639.4,77.3 L645.3,75.0 L651.3,72.8 L657.2,70.8 L663.2,69.0 L669.1,67.2 L675.1,65.7"/><path d="M443.0,262.7 L449.0,255.1 L454.9,247.7 L460.9,240.4 L466.8,233.2 L472.8,226.2 L478.7,219.4 L484.7,212.7 L490.6,206.2 L496.6,199.8 L502.5,193.6 L508.5,187.5 L514.4,181.6 L520.4,175.8 L526.3,170.2 L532.3,164.8 L538.2,159.5 L544.2,154.3 L550.1,149.3 L556.1,144.5 L562.0,139.8 L568.0,135.2 L573.9,130.9 L579.9,126.6 L585.8,122.6 L591.8,118.6 L597.7,114.9 L603.7,111.2 L609.6,107.8 L615.6,104.5 L621.5,101.3 L627.5,98.3 L633.4,95.5 L639.4,92.8 L645.3,90.2 L651.3,87.8 L657.2,85.6 L663.2,83.5 L669.1,81.6 L675.1,79.8"/><path d="M443.0,199.4 L449.0,192.2 L454.9,185.1 L460.9,178.2 L466.8,171.5 L472.8,164.9 L478.7,158.4 L484.7,152.2 L490.6,146.0 L496.6,140.1 L502.5,134.3 L508.5,128.6 L514.4,123.1 L520.4,117.8 L526.3,112.6 L532.3,107.6 L538.2,102.7 L544.2,98.0 L550.1,93.5 L556.1,89.1 L562.0,84.9 L568.0,80.8 L573.9,76.9 L579.9,73.1 L585.8,69.6 L591.8,66.1 L597.7,62.8 L603.7,59.7 L609.6,56.8 L615.6,53.9 L621.5,51.3 L627.5,48.8 L633.4,46.5 L639.4,44.3 L645.3,42.3 L651.3,40.4 L657.2,38.7 L663.2,37.2 L669.1,35.8 L675.1,34.6"/><path d="M443.0,260.5 L449.0,253.1 L454.9,245.8 L460.9,238.7 L466.8,231.7 L472.8,224.9 L478.7,218.3 L484.7,211.7 L490.6,205.3 L496.6,199.1 L502.5,193.0 L508.5,187.0 L514.4,181.2 L520.4,175.5 L526.3,170.0 L532.3,164.6 L538.2,159.4 L544.2,154.3 L550.1,149.4 L556.1,144.6 L562.0,139.9 L568.0,135.4 L573.9,131.0 L579.9,126.8 L585.8,122.7 L591.8,118.7 L597.7,114.9 L603.7,111.3 L609.6,107.8 L615.6,104.4 L621.5,101.2 L627.5,98.1 L633.4,95.2 L639.4,92.4 L645.3,89.7 L651.3,87.2 L657.2,84.9 L663.2,82.7 L669.1,80.6 L675.1,78.7"/><path d="M443.0,294.6 L449.0,287.2 L454.9,280.1 L460.9,273.1 L466.8,266.2 L472.8,259.4 L478.7,252.9 L484.7,246.4 L490.6,240.1 L496.6,234.0 L502.5,228.0 L508.5,222.1 L514.4,216.4 L520.4,210.8 L526.3,205.4 L532.3,200.1 L538.2,195.0 L544.2,190.0 L550.1,185.2 L556.1,180.5 L562.0,175.9 L568.0,171.5 L573.9,167.3 L579.9,163.1 L585.8,159.2 L591.8,155.4 L597.7,151.7 L603.7,148.1 L609.6,144.8 L615.6,141.5 L621.5,138.4 L627.5,135.5 L633.4,132.7 L639.4,130.0 L645.3,127.5 L651.3,125.2 L657.2,122.9 L663.2,120.9 L669.1,118.9 L675.1,117.2"/><path d="M443.0,285.7 L449.0,278.0 L454.9,270.5 L460.9,263.1 L466.8,255.9 L472.8,248.8 L478.7,241.8 L484.7,235.1 L490.6,228.4 L496.6,221.9 L502.5,215.6 L508.5,209.4 L514.4,203.3 L520.4,197.4 L526.3,191.7 L532.3,186.1 L538.2,180.6 L544.2,175.3 L550.1,170.1 L556.1,165.1 L562.0,160.2 L568.0,155.5 L573.9,150.9 L579.9,146.5 L585.8,142.2 L591.8,138.1 L597.7,134.1 L603.7,130.2 L609.6,126.6 L615.6,123.0 L621.5,119.6 L627.5,116.4 L633.4,113.2 L639.4,110.3 L645.3,107.5 L651.3,104.8 L657.2,102.3 L663.2,99.9 L669.1,97.7 L675.1,95.6"/><path d="M443.0,230.4 L449.0,223.0 L454.9,215.7 L460.9,208.5 L466.8,201.6 L472.8,194.7 L478.7,188.1 L484.7,181.6 L490.6,175.3 L496.6,169.1 L502.5,163.1 L508.5,157.2 L514.4,151.5 L520.4,146.0 L526.3,140.6 L532.3,135.4 L538.2,130.4 L544.2,125.5 L550.1,120.8 L556.1,116.2 L562.0,111.8 L568.0,107.5 L573.9,103.5 L579.9,99.5 L585.8,95.8 L591.8,92.2 L597.7,88.7 L603.7,85.5 L609.6,82.3 L615.6,79.4 L621.5,76.6 L627.5,73.9 L633.4,71.5 L639.4,69.1 L645.3,67.0 L651.3,65.0 L657.2,63.2 L663.2,61.5 L669.1,60.0 L675.1,58.6"/><path d="M443.0,253.6 L449.0,245.9 L454.9,238.3 L460.9,230.9 L466.8,223.6 L472.8,216.5 L478.7,209.6 L484.7,202.8 L490.6,196.1 L496.6,189.6 L502.5,183.3 L508.5,177.1 L514.4,171.1 L520.4,165.3 L526.3,159.6 L532.3,154.1 L538.2,148.7 L544.2,143.4 L550.1,138.4 L556.1,133.5 L562.0,128.7 L568.0,124.1 L573.9,119.7 L579.9,115.4 L585.8,111.3 L591.8,107.3 L597.7,103.5 L603.7,99.8 L609.6,96.3 L615.6,93.0 L621.5,89.8 L627.5,86.8 L633.4,83.9 L639.4,81.2 L645.3,78.6 L651.3,76.2 L657.2,74.0 L663.2,71.9 L669.1,70.0 L675.1,68.2"/><path d="M443.0,238.9 L449.0,231.6 L454.9,224.3 L460.9,217.2 L466.8,210.2 L472.8,203.4 L478.7,196.7 L484.7,190.2 L490.6,183.8 L496.6,177.6 L502.5,171.5 L508.5,165.5 L514.4,159.7 L520.4,154.1 L526.3,148.5 L532.3,143.2 L538.2,137.9 L544.2,132.8 L550.1,127.9 L556.1,123.1 L562.0,118.4 L568.0,113.9 L573.9,109.6 L579.9,105.3 L585.8,101.3 L591.8,97.3 L597.7,93.5 L603.7,89.9 L609.6,86.4 L615.6,83.0 L621.5,79.8 L627.5,76.7 L633.4,73.8 L639.4,71.0 L645.3,68.4 L651.3,65.9 L657.2,63.6 L663.2,61.4 L669.1,59.3 L675.1,57.4"/><path d="M443.0,231.3 L449.0,223.8 L454.9,216.4 L460.9,209.2 L466.8,202.1 L472.8,195.2 L478.7,188.4 L484.7,181.8 L490.6,175.4 L496.6,169.1 L502.5,163.0 L508.5,157.1 L514.4,151.3 L520.4,145.6 L526.3,140.2 L532.3,134.9 L538.2,129.7 L544.2,124.7 L550.1,119.9 L556.1,115.2 L562.0,110.7 L568.0,106.3 L573.9,102.1 L579.9,98.1 L585.8,94.2 L591.8,90.5 L597.7,87.0 L603.7,83.6 L609.6,80.3 L615.6,77.3 L621.5,74.4 L627.5,71.6 L633.4,69.0 L639.4,66.6 L645.3,64.3 L651.3,62.2 L657.2,60.2 L663.2,58.5 L669.1,56.8 L675.1,55.3"/><path d="M443.0,225.1 L449.0,217.6 L454.9,210.3 L460.9,203.1 L466.8,196.1 L472.8,189.2 L478.7,182.5 L484.7,176.0 L490.6,169.6 L496.6,163.4 L502.5,157.3 L508.5,151.4 L514.4,145.6 L520.4,140.0 L526.3,134.5 L532.3,129.2 L538.2,124.1 L544.2,119.1 L550.1,114.3 L556.1,109.6 L562.0,105.1 L568.0,100.7 L573.9,96.5 L579.9,92.5 L585.8,88.6 L591.8,84.8 L597.7,81.3 L603.7,77.8 L609.6,74.6 L615.6,71.5 L621.5,68.5 L627.5,65.7 L633.4,63.1 L639.4,60.6 L645.3,58.2 L651.3,56.1 L657.2,54.0 L663.2,52.2 L669.1,50.5 L675.1,48.9"/><path d="M443.0,232.2 L449.0,224.9 L454.9,217.7 L460.9,210.7 L466.8,203.8 L472.8,197.1 L478.7,190.6 L484.7,184.2 L490.6,178.0 L496.6,171.9 L502.5,166.0 L508.5,160.3 L514.4,154.7 L520.4,149.3 L526.3,144.1 L532.3,139.0 L538.2,134.1 L544.2,129.3 L550.1,124.7 L556.1,120.3 L562.0,116.0 L568.0,111.9 L573.9,108.0 L579.9,104.2 L585.8,100.6 L591.8,97.1 L597.7,93.8 L603.7,90.7 L609.6,87.7 L615.6,84.9 L621.5,82.2 L627.5,79.7 L633.4,77.4 L639.4,75.2 L645.3,73.2 L651.3,71.4 L657.2,69.7 L663.2,68.2 L669.1,66.8 L675.1,65.6"/><path d="M443.0,257.3 L449.0,250.0 L454.9,242.9 L460.9,236.0 L466.8,229.2 L472.8,222.6 L478.7,216.1 L484.7,209.7 L490.6,203.6 L496.6,197.5 L502.5,191.7 L508.5,185.9 L514.4,180.4 L520.4,174.9 L526.3,169.7 L532.3,164.6 L538.2,159.6 L544.2,154.8 L550.1,150.1 L556.1,145.6 L562.0,141.3 L568.0,137.1 L573.9,133.0 L579.9,129.1 L585.8,125.4 L591.8,121.8 L597.7,118.3 L603.7,115.0 L609.6,111.9 L615.6,108.9 L621.5,106.0 L627.5,103.4 L633.4,100.8 L639.4,98.4 L645.3,96.2 L651.3,94.1 L657.2,92.2 L663.2,90.4 L669.1,88.8 L675.1,87.3"/><path d="M443.0,271.0 L449.0,263.4 L454.9,256.0 L460.9,248.6 L466.8,241.5 L472.8,234.5 L478.7,227.7 L484.7,221.0 L490.6,214.4 L496.6,208.1 L502.5,201.9 L508.5,195.8 L514.4,189.9 L520.4,184.1 L526.3,178.5 L532.3,173.1 L538.2,167.8 L544.2,162.7 L550.1,157.7 L556.1,152.9 L562.0,148.3 L568.0,143.8 L573.9,139.4 L579.9,135.2 L585.8,131.2 L591.8,127.3 L597.7,123.6 L603.7,120.0 L609.6,116.6 L615.6,113.4 L621.5,110.3 L627.5,107.3 L633.4,104.5 L639.4,101.9 L645.3,99.4 L651.3,97.1 L657.2,94.9 L663.2,92.9 L669.1,91.1 L675.1,89.4"/><path d="M443.0,284.1 L449.0,276.6 L454.9,269.2 L460.9,262.0 L466.8,254.9 L472.8,248.0 L478.7,241.2 L484.7,234.6 L490.6,228.1 L496.6,221.8 L502.5,215.6 L508.5,209.6 L514.4,203.8 L520.4,198.1 L526.3,192.5 L532.3,187.1 L538.2,181.9 L544.2,176.8 L550.1,171.9 L556.1,167.1 L562.0,162.5 L568.0,158.0 L573.9,153.7 L579.9,149.5 L585.8,145.5 L591.8,141.7 L597.7,138.0 L603.7,134.4 L609.6,131.0 L615.6,127.8 L621.5,124.7 L627.5,121.8 L633.4,119.0 L639.4,116.4 L645.3,113.9 L651.3,111.6 L657.2,109.4 L663.2,107.4 L669.1,105.6 L675.1,103.9"/><path d="M443.0,230.8 L449.0,223.3 L454.9,216.0 L460.9,208.9 L466.8,201.9 L472.8,195.0 L478.7,188.3 L484.7,181.8 L490.6,175.4 L496.6,169.1 L502.5,163.0 L508.5,157.0 L514.4,151.2 L520.4,145.5 L526.3,140.0 L532.3,134.6 L538.2,129.4 L544.2,124.3 L550.1,119.4 L556.1,114.6 L562.0,109.9 L568.0,105.4 L573.9,101.1 L579.9,96.9 L585.8,92.8 L591.8,88.9 L597.7,85.2 L603.7,81.6 L609.6,78.1 L615.6,74.8 L621.5,71.6 L627.5,68.6 L633.4,65.7 L639.4,63.0 L645.3,60.4 L651.3,58.0 L657.2,55.7 L663.2,53.5 L669.1,51.5 L675.1,49.7"/><path d="M443.0,225.8 L449.0,218.3 L454.9,211.0 L460.9,203.9 L466.8,196.9 L472.8,190.0 L478.7,183.3 L484.7,176.8 L490.6,170.4 L496.6,164.1 L502.5,158.0 L508.5,152.1 L514.4,146.3 L520.4,140.6 L526.3,135.1 L532.3,129.8 L538.2,124.6 L544.2,119.6 L550.1,114.7 L556.1,110.0 L562.0,105.4 L568.0,100.9 L573.9,96.7 L579.9,92.5 L585.8,88.6 L591.8,84.7 L597.7,81.1 L603.7,77.5 L609.6,74.2 L615.6,71.0 L621.5,67.9 L627.5,65.0 L633.4,62.2 L639.4,59.6 L645.3,57.1 L651.3,54.8 L657.2,52.7 L663.2,50.7 L669.1,48.8 L675.1,47.1"/><path d="M443.0,244.4 L449.0,236.9 L454.9,229.5 L460.9,222.4 L466.8,215.4 L472.8,208.5 L478.7,201.8 L484.7,195.3 L490.6,188.9 L496.6,182.8 L502.5,176.7 L508.5,170.9 L514.4,165.2 L520.4,159.7 L526.3,154.3 L532.3,149.1 L538.2,144.1 L544.2,139.2 L550.1,134.5 L556.1,130.0 L562.0,125.6 L568.0,121.4 L573.9,117.3 L579.9,113.5 L585.8,109.8 L591.8,106.2 L597.7,102.8 L603.7,99.6 L609.6,96.6 L615.6,93.7 L621.5,91.0 L627.5,88.4 L633.4,86.0 L639.4,83.8 L645.3,81.8 L651.3,79.9 L657.2,78.1 L663.2,76.6 L669.1,75.2 L675.1,74.0"/><path d="M443.0,265.5 L449.0,258.3 L454.9,251.2 L460.9,244.3 L466.8,237.6 L472.8,231.0 L478.7,224.6 L484.7,218.3 L490.6,212.1 L496.6,206.2 L502.5,200.3 L508.5,194.6 L514.4,189.1 L520.4,183.7 L526.3,178.5 L532.3,173.5 L538.2,168.5 L544.2,163.8 L550.1,159.2 L556.1,154.7 L562.0,150.4 L568.0,146.2 L573.9,142.2 L579.9,138.4 L585.8,134.7 L591.8,131.2 L597.7,127.8 L603.7,124.5 L609.6,121.4 L615.6,118.5 L621.5,115.7 L627.5,113.1 L633.4,110.6 L639.4,108.3 L645.3,106.1 L651.3,104.1 L657.2,102.2 L663.2,100.5 L669.1,98.9 L675.1,97.5"/><path d="M443.0,271.1 L449.0,263.8 L454.9,256.6 L460.9,249.6 L466.8,242.8 L472.8,236.1 L478.7,229.5 L484.7,223.1 L490.6,216.9 L496.6,210.8 L502.5,204.9 L508.5,199.2 L514.4,193.6 L520.4,188.2 L526.3,182.9 L532.3,177.8 L538.2,172.8 L544.2,168.0 L550.1,163.4 L556.1,158.9 L562.0,154.5 L568.0,150.4 L573.9,146.3 L579.9,142.5 L585.8,138.8 L591.8,135.2 L597.7,131.9 L603.7,128.6 L609.6,125.6 L615.6,122.6 L621.5,119.9 L627.5,117.3 L633.4,114.9 L639.4,112.6 L645.3,110.4 L651.3,108.5 L657.2,106.7 L663.2,105.0 L669.1,103.5 L675.1,102.2"/><path d="M443.0,271.4 L449.0,264.1 L454.9,256.9 L460.9,249.8 L466.8,242.9 L472.8,236.2 L478.7,229.6 L484.7,223.2 L490.6,216.9 L496.6,210.8 L502.5,204.8 L508.5,199.0 L514.4,193.4 L520.4,187.9 L526.3,182.6 L532.3,177.4 L538.2,172.4 L544.2,167.6 L550.1,162.9 L556.1,158.3 L562.0,154.0 L568.0,149.7 L573.9,145.7 L579.9,141.8 L585.8,138.0 L591.8,134.4 L597.7,131.0 L603.7,127.7 L609.6,124.6 L615.6,121.7 L621.5,118.9 L627.5,116.2 L633.4,113.7 L639.4,111.4 L645.3,109.2 L651.3,107.2 L657.2,105.3 L663.2,103.6 L669.1,102.1 L675.1,100.7"/><path d="M443.0,215.7 L449.0,208.1 L454.9,200.7 L460.9,193.5 L466.8,186.4 L472.8,179.5 L478.7,172.7 L484.7,166.1 L490.6,159.6 L496.6,153.3 L502.5,147.2 L508.5,141.2 L514.4,135.4 L520.4,129.8 L526.3,124.3 L532.3,118.9 L538.2,113.8 L544.2,108.8 L550.1,103.9 L556.1,99.2 L562.0,94.7 L568.0,90.3 L573.9,86.1 L579.9,82.0 L585.8,78.1 L591.8,74.4 L597.7,70.8 L603.7,67.4 L609.6,64.1 L615.6,61.0 L621.5,58.1 L627.5,55.3 L633.4,52.7 L639.4,50.2 L645.3,47.9 L651.3,45.8 L657.2,43.8 L663.2,41.9 L669.1,40.3 L675.1,38.8"/><path d="M443.0,221.3 L449.0,213.6 L454.9,205.9 L460.9,198.5 L466.8,191.2 L472.8,184.0 L478.7,177.0 L484.7,170.2 L490.6,163.5 L496.6,156.9 L502.5,150.6 L508.5,144.3 L514.4,138.3 L520.4,132.4 L526.3,126.6 L532.3,121.0 L538.2,115.5 L544.2,110.2 L550.1,105.1 L556.1,100.1 L562.0,95.3 L568.0,90.6 L573.9,86.0 L579.9,81.7 L585.8,77.4 L591.8,73.4 L597.7,69.5 L603.7,65.7 L609.6,62.1 L615.6,58.7 L621.5,55.4 L627.5,52.2 L633.4,49.2 L639.4,46.4 L645.3,43.7 L651.3,41.2 L657.2,38.9 L663.2,36.6 L669.1,34.6 L675.1,32.7"/><path d="M443.0,191.5 L449.0,184.0 L454.9,176.7 L460.9,169.6 L466.8,162.5 L472.8,155.6 L478.7,148.9 L484.7,142.3 L490.6,135.8 L496.6,129.4 L502.5,123.2 L508.5,117.2 L514.4,111.2 L520.4,105.4 L526.3,99.8 L532.3,94.2 L538.2,88.9 L544.2,83.6 L550.1,78.5 L556.1,73.5 L562.0,68.7 L568.0,64.0 L573.9,59.4 L579.9,55.0 L585.8,50.7 L591.8,46.6 L597.7,42.5 L603.7,38.7 L609.6,34.9 L615.6,31.3 L621.5,27.9 L627.5,24.5 L633.4,21.3 L639.4,18.3 L645.3,15.4 L651.3,12.6 L657.2,9.9 L663.2,7.4 L669.1,5.1 L675.1,2.8"/><path d="M443.0,253.9 L449.0,246.6 L454.9,239.4 L460.9,232.3 L466.8,225.5 L472.8,218.8 L478.7,212.2 L484.7,205.8 L490.6,199.6 L496.6,193.6 L502.5,187.7 L508.5,182.0 L514.4,176.4 L520.4,171.0 L526.3,165.7 L532.3,160.7 L538.2,155.7 L544.2,151.0 L550.1,146.4 L556.1,142.0 L562.0,137.7 L568.0,133.6 L573.9,129.6 L579.9,125.9 L585.8,122.2 L591.8,118.8 L597.7,115.5 L603.7,112.3 L609.6,109.4 L615.6,106.6 L621.5,103.9 L627.5,101.4 L633.4,99.1 L639.4,96.9 L645.3,95.0 L651.3,93.1 L657.2,91.4 L663.2,89.9 L669.1,88.6 L675.1,87.4"/><path d="M443.0,244.0 L449.0,236.6 L454.9,229.4 L460.9,222.4 L466.8,215.5 L472.8,208.8 L478.7,202.2 L484.7,195.8 L490.6,189.6 L496.6,183.6 L502.5,177.7 L508.5,171.9 L514.4,166.4 L520.4,161.0 L526.3,155.7 L532.3,150.6 L538.2,145.7 L544.2,140.9 L550.1,136.3 L556.1,131.9 L562.0,127.6 L568.0,123.5 L573.9,119.6 L579.9,115.8 L585.8,112.2 L591.8,108.7 L597.7,105.4 L603.7,102.3 L609.6,99.3 L615.6,96.5 L621.5,93.9 L627.5,91.4 L633.4,89.1 L639.4,86.9 L645.3,84.9 L651.3,83.1 L657.2,81.4 L663.2,79.9 L669.1,78.6 L675.1,77.4"/><path d="M443.0,265.3 L449.0,258.3 L454.9,251.4 L460.9,244.7 L466.8,238.1 L472.8,231.6 L478.7,225.3 L484.7,219.2 L490.6,213.2 L496.6,207.4 L502.5,201.6 L508.5,196.1 L514.4,190.7 L520.4,185.4 L526.3,180.3 L532.3,175.4 L538.2,170.5 L544.2,165.9 L550.1,161.4 L556.1,157.0 L562.0,152.8 L568.0,148.7 L573.9,144.7 L579.9,141.0 L585.8,137.3 L591.8,133.9 L597.7,130.5 L603.7,127.3 L609.6,124.3 L615.6,121.4 L621.5,118.6 L627.5,116.0 L633.4,113.6 L639.4,111.3 L645.3,109.1 L651.3,107.1 L657.2,105.3 L663.2,103.6 L669.1,102.0 L675.1,100.6"/><path d="M443.0,216.4 L449.0,209.1 L454.9,201.9 L460.9,194.9 L466.8,188.0 L472.8,181.3 L478.7,174.8 L484.7,168.4 L490.6,162.1 L496.6,156.1 L502.5,150.1 L508.5,144.3 L514.4,138.7 L520.4,133.3 L526.3,127.9 L532.3,122.8 L538.2,117.8 L544.2,112.9 L550.1,108.2 L556.1,103.7 L562.0,99.3 L568.0,95.1 L573.9,91.0 L579.9,87.0 L585.8,83.3 L591.8,79.6 L597.7,76.2 L603.7,72.9 L609.6,69.7 L615.6,66.7 L621.5,63.9 L627.5,61.2 L633.4,58.6 L639.4,56.2 L645.3,54.0 L651.3,51.9 L657.2,50.0 L663.2,48.2 L669.1,46.6 L675.1,45.2"/><path d="M443.0,240.5 L449.0,232.8 L454.9,225.3 L460.9,217.9 L466.8,210.7 L472.8,203.6 L478.7,196.7 L484.7,189.9 L490.6,183.2 L496.6,176.7 L502.5,170.3 L508.5,164.1 L514.4,158.0 L520.4,152.1 L526.3,146.3 L532.3,140.7 L538.2,135.2 L544.2,129.9 L550.1,124.7 L556.1,119.6 L562.0,114.7 L568.0,110.0 L573.9,105.3 L579.9,100.9 L585.8,96.5 L591.8,92.4 L597.7,88.3 L603.7,84.5 L609.6,80.7 L615.6,77.1 L621.5,73.7 L627.5,70.4 L633.4,67.2 L639.4,64.2 L645.3,61.3 L651.3,58.6 L657.2,56.0 L663.2,53.6 L669.1,51.3 L675.1,49.1"/><path d="M443.0,236.3 L449.0,229.2 L454.9,222.1 L460.9,215.2 L466.8,208.5 L472.8,201.9 L478.7,195.5 L484.7,189.2 L490.6,183.1 L496.6,177.2 L502.5,171.4 L508.5,165.7 L514.4,160.2 L520.4,154.9 L526.3,149.7 L532.3,144.7 L538.2,139.8 L544.2,135.1 L550.1,130.5 L556.1,126.1 L562.0,121.9 L568.0,117.8 L573.9,113.8 L579.9,110.1 L585.8,106.4 L591.8,102.9 L597.7,99.6 L603.7,96.5 L609.6,93.4 L615.6,90.6 L621.5,87.9 L627.5,85.3 L633.4,82.9 L639.4,80.7 L645.3,78.6 L651.3,76.7 L657.2,74.9 L663.2,73.3 L669.1,71.8 L675.1,70.5"/><path d="M443.0,235.0 L449.0,227.5 L454.9,220.2 L460.9,213.0 L466.8,206.0 L472.8,199.2 L478.7,192.5 L484.7,186.0 L490.6,179.6 L496.6,173.4 L502.5,167.3 L508.5,161.5 L514.4,155.7 L520.4,150.2 L526.3,144.8 L532.3,139.5 L538.2,134.5 L544.2,129.5 L550.1,124.8 L556.1,120.2 L562.0,115.8 L568.0,111.5 L573.9,107.4 L579.9,103.4 L585.8,99.6 L591.8,96.0 L597.7,92.5 L603.7,89.2 L609.6,86.0 L615.6,83.0 L621.5,80.2 L627.5,77.5 L633.4,75.0 L639.4,72.7 L645.3,70.5 L651.3,68.5 L657.2,66.6 L663.2,64.9 L669.1,63.4 L675.1,62.0"/><path d="M443.0,235.3 L449.0,227.6 L454.9,220.2 L460.9,212.8 L466.8,205.6 L472.8,198.5 L478.7,191.5 L484.7,184.7 L490.6,178.1 L496.6,171.5 L502.5,165.1 L508.5,158.9 L514.4,152.8 L520.4,146.8 L526.3,140.9 L532.3,135.2 L538.2,129.6 L544.2,124.2 L550.1,118.9 L556.1,113.8 L562.0,108.7 L568.0,103.8 L573.9,99.1 L579.9,94.5 L585.8,90.0 L591.8,85.7 L597.7,81.5 L603.7,77.4 L609.6,73.5 L615.6,69.7 L621.5,66.1 L627.5,62.6 L633.4,59.2 L639.4,55.9 L645.3,52.8 L651.3,49.9 L657.2,47.1 L663.2,44.4 L669.1,41.8 L675.1,39.4"/><path d="M443.0,216.3 L449.0,208.8 L454.9,201.4 L460.9,194.3 L466.8,187.3 L472.8,180.4 L478.7,173.7 L484.7,167.2 L490.6,160.8 L496.6,154.6 L502.5,148.5 L508.5,142.6 L514.4,136.8 L520.4,131.2 L526.3,125.8 L532.3,120.5 L538.2,115.3 L544.2,110.4 L550.1,105.6 L556.1,100.9 L562.0,96.4 L568.0,92.0 L573.9,87.8 L579.9,83.8 L585.8,79.9 L591.8,76.2 L597.7,72.6 L603.7,69.2 L609.6,66.0 L615.6,62.9 L621.5,59.9 L627.5,57.2 L633.4,54.5 L639.4,52.1 L645.3,49.8 L651.3,47.6 L657.2,45.6 L663.2,43.8 L669.1,42.1 L675.1,40.5"/><path d="M443.0,241.1 L449.0,233.8 L454.9,226.7 L460.9,219.7 L466.8,212.8 L472.8,206.1 L478.7,199.5 L484.7,193.1 L490.6,186.8 L496.6,180.7 L502.5,174.7 L508.5,168.9 L514.4,163.2 L520.4,157.7 L526.3,152.3 L532.3,147.0 L538.2,141.9 L544.2,137.0 L550.1,132.2 L556.1,127.5 L562.0,123.0 L568.0,118.7 L573.9,114.5 L579.9,110.4 L585.8,106.5 L591.8,102.7 L597.7,99.1 L603.7,95.6 L609.6,92.3 L615.6,89.1 L621.5,86.1 L627.5,83.2 L633.4,80.4 L639.4,77.8 L645.3,75.4 L651.3,73.1 L657.2,70.9 L663.2,68.9 L669.1,67.1 L675.1,65.4"/><path d="M443.0,217.2 L449.0,209.7 L454.9,202.4 L460.9,195.2 L466.8,188.3 L472.8,181.4 L478.7,174.7 L484.7,168.2 L490.6,161.9 L496.6,155.7 L502.5,149.6 L508.5,143.7 L514.4,138.0 L520.4,132.4 L526.3,127.0 L532.3,121.7 L538.2,116.6 L544.2,111.7 L550.1,106.9 L556.1,102.3 L562.0,97.8 L568.0,93.5 L573.9,89.3 L579.9,85.3 L585.8,81.5 L591.8,77.8 L597.7,74.3 L603.7,70.9 L609.6,67.7 L615.6,64.6 L621.5,61.7 L627.5,59.0 L633.4,56.4 L639.4,54.0 L645.3,51.7 L651.3,49.6 L657.2,47.7 L663.2,45.9 L669.1,44.2 L675.1,42.7"/><path d="M443.0,206.5 L449.0,199.0 L454.9,191.6 L460.9,184.4 L466.8,177.4 L472.8,170.5 L478.7,163.7 L484.7,157.1 L490.6,150.7 L496.6,144.4 L502.5,138.2 L508.5,132.2 L514.4,126.4 L520.4,120.7 L526.3,115.2 L532.3,109.8 L538.2,104.5 L544.2,99.5 L550.1,94.5 L556.1,89.7 L562.0,85.1 L568.0,80.6 L573.9,76.3 L579.9,72.2 L585.8,68.1 L591.8,64.3 L597.7,60.6 L603.7,57.0 L609.6,53.6 L615.6,50.3 L621.5,47.2 L627.5,44.3 L633.4,41.5 L639.4,38.8 L645.3,36.3 L651.3,34.0 L657.2,31.8 L663.2,29.7 L669.1,27.8 L675.1,26.1"/><path d="M443.0,212.4 L449.0,205.1 L454.9,198.0 L460.9,191.0 L466.8,184.2 L472.8,177.5 L478.7,171.0 L484.7,164.7 L490.6,158.5 L496.6,152.4 L502.5,146.6 L508.5,140.8 L514.4,135.3 L520.4,129.9 L526.3,124.6 L532.3,119.5 L538.2,114.6 L544.2,109.8 L550.1,105.2 L556.1,100.7 L562.0,96.4 L568.0,92.3 L573.9,88.3 L579.9,84.4 L585.8,80.8 L591.8,77.2 L597.7,73.9 L603.7,70.7 L609.6,67.6 L615.6,64.7 L621.5,62.0 L627.5,59.4 L633.4,57.0 L639.4,54.7 L645.3,52.6 L651.3,50.6 L657.2,48.8 L663.2,47.2 L669.1,45.7 L675.1,44.3"/><path d="M443.0,224.5 L449.0,217.0 L454.9,209.6 L460.9,202.5 L466.8,195.4 L472.8,188.5 L478.7,181.8 L484.7,175.2 L490.6,168.8 L496.6,162.5 L502.5,156.4 L508.5,150.4 L514.4,144.6 L520.4,138.9 L526.3,133.3 L532.3,128.0 L538.2,122.7 L544.2,117.7 L550.1,112.7 L556.1,108.0 L562.0,103.3 L568.0,98.9 L573.9,94.5 L579.9,90.4 L585.8,86.4 L591.8,82.5 L597.7,78.8 L603.7,75.2 L609.6,71.8 L615.6,68.5 L621.5,65.4 L627.5,62.4 L633.4,59.6 L639.4,56.9 L645.3,54.4 L651.3,52.1 L657.2,49.9 L663.2,47.8 L669.1,45.9 L675.1,44.1"/><path d="M443.0,207.0 L449.0,199.5 L454.9,192.2 L460.9,185.1 L466.8,178.2 L472.8,171.3 L478.7,164.7 L484.7,158.2 L490.6,151.9 L496.6,145.7 L502.5,139.7 L508.5,133.9 L514.4,128.2 L520.4,122.7 L526.3,117.3 L532.3,112.1 L538.2,107.0 L544.2,102.1 L550.1,97.4 L556.1,92.8 L562.0,88.4 L568.0,84.2 L573.9,80.1 L579.9,76.1 L585.8,72.4 L591.8,68.8 L597.7,65.3 L603.7,62.0 L609.6,58.9 L615.6,55.9 L621.5,53.1 L627.5,50.4 L633.4,47.9 L639.4,45.6 L645.3,43.4 L651.3,41.4 L657.2,39.5 L663.2,37.8 L669.1,36.3 L675.1,34.9"/><path d="M443.0,208.0 L449.0,200.5 L454.9,193.1 L460.9,185.9 L466.8,178.9 L472.8,172.0 L478.7,165.3 L484.7,158.7 L490.6,152.3 L496.6,146.1 L502.5,140.0 L508.5,134.1 L514.4,128.4 L520.4,122.8 L526.3,117.4 L532.3,112.1 L538.2,107.0 L544.2,102.1 L550.1,97.3 L556.1,92.7 L562.0,88.2 L568.0,83.9 L573.9,79.8 L579.9,75.8 L585.8,72.0 L591.8,68.4 L597.7,64.9 L603.7,61.6 L609.6,58.4 L615.6,55.4 L621.5,52.6 L627.5,49.9 L633.4,47.4 L639.4,45.0 L645.3,42.8 L651.3,40.8 L657.2,38.9 L663.2,37.2 L669.1,35.6 L675.1,34.2"/><path d="M443.0,225.6 L449.0,218.1 L454.9,210.7 L460.9,203.4 L466.8,196.3 L472.8,189.4 L478.7,182.6 L484.7,176.0 L490.6,169.5 L496.6,163.2 L502.5,157.0 L508.5,151.0 L514.4,145.2 L520.4,139.4 L526.3,133.9 L532.3,128.5 L538.2,123.2 L544.2,118.1 L550.1,113.2 L556.1,108.4 L562.0,103.8 L568.0,99.3 L573.9,94.9 L579.9,90.8 L585.8,86.7 L591.8,82.9 L597.7,79.1 L603.7,75.6 L609.6,72.2 L615.6,68.9 L621.5,65.8 L627.5,62.8 L633.4,60.0 L639.4,57.4 L645.3,54.9 L651.3,52.5 L657.2,50.3 L663.2,48.3 L669.1,46.4 L675.1,44.7"/><path d="M443.0,256.7 L449.0,249.5 L454.9,242.5 L460.9,235.6 L466.8,228.8 L472.8,222.2 L478.7,215.7 L484.7,209.4 L490.6,203.2 L496.6,197.2 L502.5,191.3 L508.5,185.6 L514.4,180.0 L520.4,174.6 L526.3,169.3 L532.3,164.1 L538.2,159.2 L544.2,154.3 L550.1,149.6 L556.1,145.1 L562.0,140.7 L568.0,136.5 L573.9,132.4 L579.9,128.4 L585.8,124.6 L591.8,121.0 L597.7,117.5 L603.7,114.1 L609.6,110.9 L615.6,107.8 L621.5,104.9 L627.5,102.2 L633.4,99.5 L639.4,97.1 L645.3,94.8 L651.3,92.6 L657.2,90.6 L663.2,88.7 L669.1,87.0 L675.1,85.4"/><path d="M443.0,244.1 L449.0,236.5 L454.9,229.2 L460.9,221.9 L466.8,214.8 L472.8,207.9 L478.7,201.1 L484.7,194.5 L490.6,188.1 L496.6,181.8 L502.5,175.7 L508.5,169.7 L514.4,163.8 L520.4,158.2 L526.3,152.7 L532.3,147.3 L538.2,142.1 L544.2,137.1 L550.1,132.2 L556.1,127.5 L562.0,122.9 L568.0,118.5 L573.9,114.2 L579.9,110.1 L585.8,106.2 L591.8,102.4 L597.7,98.8 L603.7,95.3 L609.6,92.0 L615.6,88.9 L621.5,85.9 L627.5,83.0 L633.4,80.3 L639.4,77.8 L645.3,75.4 L651.3,73.2 L657.2,71.2 L663.2,69.3 L669.1,67.5 L675.1,65.9"/><path d="M443.0,182.6 L449.0,175.0 L454.9,167.7 L460.9,160.4 L466.8,153.4 L472.8,146.5 L478.7,139.8 L484.7,133.2 L490.6,126.8 L496.6,120.6 L502.5,114.5 L508.5,108.6 L514.4,102.9 L520.4,97.3 L526.3,91.9 L532.3,86.6 L538.2,81.5 L544.2,76.6 L550.1,71.8 L556.1,67.2 L562.0,62.8 L568.0,58.5 L573.9,54.4 L579.9,50.5 L585.8,46.7 L591.8,43.1 L597.7,39.6 L603.7,36.3 L609.6,33.2 L615.6,30.3 L621.5,27.5 L627.5,24.8 L633.4,22.4 L639.4,20.1 L645.3,17.9 L651.3,15.9 L657.2,14.1 L663.2,12.5 L669.1,11.0 L675.1,9.6"/><path d="M443.0,259.1 L449.0,251.4 L454.9,244.0 L460.9,236.6 L466.8,229.5 L472.8,222.4 L478.7,215.6 L484.7,208.8 L490.6,202.3 L496.6,195.8 L502.5,189.6 L508.5,183.4 L514.4,177.5 L520.4,171.6 L526.3,166.0 L532.3,160.4 L538.2,155.1 L544.2,149.8 L550.1,144.8 L556.1,139.8 L562.0,135.1 L568.0,130.4 L573.9,126.0 L579.9,121.6 L585.8,117.5 L591.8,113.4 L597.7,109.6 L603.7,105.8 L609.6,102.3 L615.6,98.8 L621.5,95.6 L627.5,92.4 L633.4,89.5 L639.4,86.6 L645.3,84.0 L651.3,81.4 L657.2,79.1 L663.2,76.8 L669.1,74.8 L675.1,72.8"/><path d="M443.0,216.9 L449.0,209.4 L454.9,202.0 L460.9,194.9 L466.8,187.9 L472.8,181.0 L478.7,174.4 L484.7,167.9 L490.6,161.6 L496.6,155.4 L502.5,149.5 L508.5,143.7 L514.4,138.1 L520.4,132.6 L526.3,127.3 L532.3,122.2 L538.2,117.3 L544.2,112.5 L550.1,107.9 L556.1,103.5 L562.0,99.2 L568.0,95.2 L573.9,91.2 L579.9,87.5 L585.8,83.9 L591.8,80.5 L597.7,77.3 L603.7,74.3 L609.6,71.4 L615.6,68.7 L621.5,66.1 L627.5,63.8 L633.4,61.6 L639.4,59.6 L645.3,57.7 L651.3,56.0 L657.2,54.5 L663.2,53.2 L669.1,52.0 L675.1,51.0"/><path d="M443.0,205.6 L449.0,198.3 L454.9,191.1 L460.9,184.0 L466.8,177.1 L472.8,170.3 L478.7,163.7 L484.7,157.2 L490.6,150.8 L496.6,144.6 L502.5,138.5 L508.5,132.6 L514.4,126.8 L520.4,121.1 L526.3,115.6 L532.3,110.3 L538.2,105.1 L544.2,100.0 L550.1,95.0 L556.1,90.2 L562.0,85.6 L568.0,81.1 L573.9,76.7 L579.9,72.5 L585.8,68.4 L591.8,64.5 L597.7,60.7 L603.7,57.0 L609.6,53.5 L615.6,50.1 L621.5,46.9 L627.5,43.8 L633.4,40.8 L639.4,38.0 L645.3,35.4 L651.3,32.8 L657.2,30.5 L663.2,28.2 L669.1,26.1 L675.1,24.2"/><path d="M443.0,296.2 L449.0,288.5 L454.9,280.9 L460.9,273.5 L466.8,266.2 L472.8,259.0 L478.7,252.0 L484.7,245.1 L490.6,238.4 L496.6,231.8 L502.5,225.4 L508.5,219.0 L514.4,212.9 L520.4,206.8 L526.3,200.9 L532.3,195.2 L538.2,189.6 L544.2,184.1 L550.1,178.7 L556.1,173.6 L562.0,168.5 L568.0,163.6 L573.9,158.8 L579.9,154.2 L585.8,149.7 L591.8,145.3 L597.7,141.1 L603.7,137.0 L609.6,133.0 L615.6,129.2 L621.5,125.6 L627.5,122.1 L633.4,118.7 L639.4,115.4 L645.3,112.3 L651.3,109.4 L657.2,106.5 L663.2,103.8 L669.1,101.3 L675.1,98.9"/><path d="M443.0,191.6 L449.0,184.3 L454.9,177.2 L460.9,170.2 L466.8,163.4 L472.8,156.7 L478.7,150.2 L484.7,143.8 L490.6,137.6 L496.6,131.6 L502.5,125.7 L508.5,120.0 L514.4,114.4 L520.4,109.0 L526.3,103.8 L532.3,98.7 L538.2,93.7 L544.2,88.9 L550.1,84.3 L556.1,79.8 L562.0,75.5 L568.0,71.4 L573.9,67.4 L579.9,63.5 L585.8,59.9 L591.8,56.3 L597.7,53.0 L603.7,49.8 L609.6,46.7 L615.6,43.8 L621.5,41.1 L627.5,38.5 L633.4,36.1 L639.4,33.8 L645.3,31.7 L651.3,29.7 L657.2,27.9 L663.2,26.3 L669.1,24.8 L675.1,23.5"/><path d="M443.0,245.5 L449.0,238.0 L454.9,230.7 L460.9,223.5 L466.8,216.5 L472.8,209.6 L478.7,202.9 L484.7,196.2 L490.6,189.8 L496.6,183.5 L502.5,177.3 L508.5,171.3 L514.4,165.4 L520.4,159.6 L526.3,154.0 L532.3,148.6 L538.2,143.3 L544.2,138.1 L550.1,133.1 L556.1,128.2 L562.0,123.5 L568.0,118.9 L573.9,114.4 L579.9,110.1 L585.8,106.0 L591.8,102.0 L597.7,98.1 L603.7,94.4 L609.6,90.8 L615.6,87.4 L621.5,84.1 L627.5,80.9 L633.4,77.9 L639.4,75.1 L645.3,72.4 L651.3,69.8 L657.2,67.4 L663.2,65.1 L669.1,63.0 L675.1,61.0"/><path d="M443.0,204.2 L449.0,196.6 L454.9,189.2 L460.9,181.9 L466.8,174.8 L472.8,167.8 L478.7,161.0 L484.7,154.3 L490.6,147.7 L496.6,141.3 L502.5,135.1 L508.5,129.0 L514.4,123.0 L520.4,117.2 L526.3,111.5 L532.3,106.0 L538.2,100.7 L544.2,95.5 L550.1,90.4 L556.1,85.5 L562.0,80.7 L568.0,76.1 L573.9,71.6 L579.9,67.2 L585.8,63.0 L591.8,59.0 L597.7,55.1 L603.7,51.4 L609.6,47.8 L615.6,44.3 L621.5,41.0 L627.5,37.9 L633.4,34.9 L639.4,32.0 L645.3,29.3 L651.3,26.7 L657.2,24.3 L663.2,22.0 L669.1,19.9 L675.1,17.9"/><path d="M443.0,248.9 L449.0,241.5 L454.9,234.2 L460.9,227.1 L466.8,220.1 L472.8,213.3 L478.7,206.6 L484.7,200.1 L490.6,193.7 L496.6,187.5 L502.5,181.4 L508.5,175.4 L514.4,169.7 L520.4,164.0 L526.3,158.5 L532.3,153.2 L538.2,148.0 L544.2,143.0 L550.1,138.1 L556.1,133.4 L562.0,128.8 L568.0,124.3 L573.9,120.0 L579.9,115.9 L585.8,111.9 L591.8,108.1 L597.7,104.4 L603.7,100.8 L609.6,97.4 L615.6,94.2 L621.5,91.1 L627.5,88.1 L633.4,85.3 L639.4,82.7 L645.3,80.2 L651.3,77.8 L657.2,75.6 L663.2,73.6 L669.1,71.7 L675.1,69.9"/><path d="M443.0,286.6 L449.0,279.0 L454.9,271.6 L460.9,264.3 L466.8,257.2 L472.8,250.3 L478.7,243.5 L484.7,236.8 L490.6,230.3 L496.6,224.0 L502.5,217.8 L508.5,211.7 L514.4,205.8 L520.4,200.1 L526.3,194.5 L532.3,189.1 L538.2,183.8 L544.2,178.6 L550.1,173.7 L556.1,168.8 L562.0,164.2 L568.0,159.6 L573.9,155.3 L579.9,151.1 L585.8,147.0 L591.8,143.1 L597.7,139.3 L603.7,135.7 L609.6,132.3 L615.6,129.0 L621.5,125.8 L627.5,122.8 L633.4,120.0 L639.4,117.3 L645.3,114.7 L651.3,112.3 L657.2,110.1 L663.2,108.0 L669.1,106.1 L675.1,104.3"/><path d="M443.0,259.4 L449.0,251.9 L454.9,244.7 L460.9,237.5 L466.8,230.6 L472.8,223.8 L478.7,217.1 L484.7,210.6 L490.6,204.3 L496.6,198.1 L502.5,192.1 L508.5,186.2 L514.4,180.5 L520.4,174.9 L526.3,169.5 L532.3,164.3 L538.2,159.2 L544.2,154.3 L550.1,149.5 L556.1,144.9 L562.0,140.4 L568.0,136.1 L573.9,132.0 L579.9,128.0 L585.8,124.2 L591.8,120.5 L597.7,117.0 L603.7,113.6 L609.6,110.4 L615.6,107.3 L621.5,104.4 L627.5,101.7 L633.4,99.1 L639.4,96.7 L645.3,94.4 L651.3,92.3 L657.2,90.4 L663.2,88.6 L669.1,86.9 L675.1,85.4"/><path d="M443.0,258.3 L449.0,250.9 L454.9,243.6 L460.9,236.5 L466.8,229.5 L472.8,222.7 L478.7,216.0 L484.7,209.5 L490.6,203.1 L496.6,196.9 L502.5,190.8 L508.5,184.8 L514.4,179.0 L520.4,173.3 L526.3,167.8 L532.3,162.4 L538.2,157.2 L544.2,152.1 L550.1,147.2 L556.1,142.4 L562.0,137.7 L568.0,133.2 L573.9,128.9 L579.9,124.6 L585.8,120.6 L591.8,116.6 L597.7,112.9 L603.7,109.2 L609.6,105.7 L615.6,102.4 L621.5,99.2 L627.5,96.1 L633.4,93.2 L639.4,90.4 L645.3,87.8 L651.3,85.3 L657.2,83.0 L663.2,80.8 L669.1,78.8 L675.1,76.9"/><path d="M443.0,238.3 L449.0,230.8 L454.9,223.5 L460.9,216.3 L466.8,209.3 L472.8,202.4 L478.7,195.7 L484.7,189.1 L490.6,182.7 L496.6,176.4 L502.5,170.3 L508.5,164.3 L514.4,158.4 L520.4,152.7 L526.3,147.1 L532.3,141.7 L538.2,136.5 L544.2,131.3 L550.1,126.4 L556.1,121.5 L562.0,116.8 L568.0,112.3 L573.9,107.9 L579.9,103.7 L585.8,99.6 L591.8,95.6 L597.7,91.8 L603.7,88.1 L609.6,84.6 L615.6,81.3 L621.5,78.0 L627.5,75.0 L633.4,72.0 L639.4,69.2 L645.3,66.6 L651.3,64.1 L657.2,61.8 L663.2,59.6 L669.1,57.5 L675.1,55.6"/><path d="M443.0,228.9 L449.0,221.3 L454.9,213.9 L460.9,206.7 L466.8,199.6 L472.8,192.6 L478.7,185.8 L484.7,179.1 L490.6,172.6 L496.6,166.2 L502.5,160.0 L508.5,153.9 L514.4,148.0 L520.4,142.2 L526.3,136.6 L532.3,131.1 L538.2,125.7 L544.2,120.5 L550.1,115.5 L556.1,110.6 L562.0,105.8 L568.0,101.2 L573.9,96.7 L579.9,92.4 L585.8,88.2 L591.8,84.2 L597.7,80.3 L603.7,76.6 L609.6,73.0 L615.6,69.6 L621.5,66.3 L627.5,63.1 L633.4,60.1 L639.4,57.3 L645.3,54.6 L651.3,52.0 L657.2,49.6 L663.2,47.3 L669.1,45.2 L675.1,43.2"/><path d="M443.0,254.8 L449.0,247.3 L454.9,240.0 L460.9,232.7 L466.8,225.7 L472.8,218.7 L478.7,212.0 L484.7,205.4 L490.6,198.9 L496.6,192.6 L502.5,186.4 L508.5,180.4 L514.4,174.5 L520.4,168.8 L526.3,163.2 L532.3,157.8 L538.2,152.5 L544.2,147.4 L550.1,142.4 L556.1,137.6 L562.0,132.9 L568.0,128.4 L573.9,124.0 L579.9,119.8 L585.8,115.7 L591.8,111.7 L597.7,108.0 L603.7,104.3 L609.6,100.9 L615.6,97.5 L621.5,94.3 L627.5,91.3 L633.4,88.4 L639.4,85.7 L645.3,83.1 L651.3,80.7 L657.2,78.4 L663.2,76.3 L669.1,74.3 L675.1,72.4"/><path d="M443.0,261.7 L449.0,254.2 L454.9,246.9 L460.9,239.7 L466.8,232.7 L472.8,225.9 L478.7,219.1 L484.7,212.6 L490.6,206.1 L496.6,199.8 L502.5,193.7 L508.5,187.7 L514.4,181.8 L520.4,176.1 L526.3,170.5 L532.3,165.1 L538.2,159.8 L544.2,154.7 L550.1,149.7 L556.1,144.9 L562.0,140.2 L568.0,135.6 L573.9,131.2 L579.9,127.0 L585.8,122.8 L591.8,118.9 L597.7,115.0 L603.7,111.3 L609.6,107.8 L615.6,104.4 L621.5,101.2 L627.5,98.1 L633.4,95.1 L639.4,92.3 L645.3,89.6 L651.3,87.1 L657.2,84.7 L663.2,82.5 L669.1,80.4 L675.1,78.4"/><path d="M443.0,261.0 L449.0,253.6 L454.9,246.3 L460.9,239.1 L466.8,232.1 L472.8,225.2 L478.7,218.5 L484.7,211.9 L490.6,205.5 L496.6,199.3 L502.5,193.2 L508.5,187.2 L514.4,181.4 L520.4,175.7 L526.3,170.2 L532.3,164.8 L538.2,159.6 L544.2,154.6 L550.1,149.7 L556.1,144.9 L562.0,140.3 L568.0,135.8 L573.9,131.5 L579.9,127.4 L585.8,123.4 L591.8,119.5 L597.7,115.8 L603.7,112.2 L609.6,108.8 L615.6,105.6 L621.5,102.5 L627.5,99.5 L633.4,96.7 L639.4,94.1 L645.3,91.6 L651.3,89.2 L657.2,87.0 L663.2,85.0 L669.1,83.1 L675.1,81.3"/><path d="M443.0,264.8 L449.0,257.0 L454.9,249.5 L460.9,242.1 L466.8,234.8 L472.8,227.7 L478.7,220.8 L484.7,214.0 L490.6,207.4 L496.6,201.0 L502.5,194.7 L508.5,188.6 L514.4,182.6 L520.4,176.8 L526.3,171.1 L532.3,165.6 L538.2,160.3 L544.2,155.1 L550.1,150.1 L556.1,145.3 L562.0,140.6 L568.0,136.0 L573.9,131.6 L579.9,127.4 L585.8,123.4 L591.8,119.5 L597.7,115.7 L603.7,112.2 L609.6,108.7 L615.6,105.5 L621.5,102.4 L627.5,99.4 L633.4,96.6 L639.4,94.0 L645.3,91.6 L651.3,89.2 L657.2,87.1 L663.2,85.1 L669.1,83.3 L675.1,81.6"/><path d="M443.0,193.7 L449.0,186.1 L454.9,178.7 L460.9,171.4 L466.8,164.3 L472.8,157.3 L478.7,150.4 L484.7,143.7 L490.6,137.2 L496.6,130.7 L502.5,124.4 L508.5,118.3 L514.4,112.3 L520.4,106.5 L526.3,100.8 L532.3,95.2 L538.2,89.8 L544.2,84.5 L550.1,79.4 L556.1,74.4 L562.0,69.6 L568.0,64.9 L573.9,60.3 L579.9,55.9 L585.8,51.6 L591.8,47.5 L597.7,43.5 L603.7,39.7 L609.6,36.0 L615.6,32.4 L621.5,29.0 L627.5,25.8 L633.4,22.7 L639.4,19.7 L645.3,16.9 L651.3,14.2 L657.2,11.6 L663.2,9.2 L669.1,7.0 L675.1,4.9"/><path d="M443.0,239.9 L449.0,232.4 L454.9,225.0 L460.9,217.8 L466.8,210.7 L472.8,203.8 L478.7,197.0 L484.7,190.4 L490.6,184.0 L496.6,177.7 L502.5,171.5 L508.5,165.6 L514.4,159.7 L520.4,154.1 L526.3,148.6 L532.3,143.2 L538.2,138.1 L544.2,133.0 L550.1,128.1 L556.1,123.4 L562.0,118.9 L568.0,114.5 L573.9,110.2 L579.9,106.1 L585.8,102.2 L591.8,98.4 L597.7,94.8 L603.7,91.3 L609.6,88.0 L615.6,84.9 L621.5,81.9 L627.5,79.1 L633.4,76.4 L639.4,73.9 L645.3,71.5 L651.3,69.3 L657.2,67.2 L663.2,65.4 L669.1,63.6 L675.1,62.0"/><path d="M443.0,266.7 L449.0,259.2 L454.9,251.8 L460.9,244.5 L466.8,237.4 L472.8,230.5 L478.7,223.7 L484.7,217.0 L490.6,210.5 L496.6,204.2 L502.5,197.9 L508.5,191.9 L514.4,186.0 L520.4,180.2 L526.3,174.6 L532.3,169.1 L538.2,163.8 L544.2,158.6 L550.1,153.6 L556.1,148.7 L562.0,144.0 L568.0,139.4 L573.9,135.0 L579.9,130.7 L585.8,126.6 L591.8,122.6 L597.7,118.7 L603.7,115.0 L609.6,111.5 L615.6,108.1 L621.5,104.8 L627.5,101.7 L633.4,98.8 L639.4,96.0 L645.3,93.3 L651.3,90.8 L657.2,88.5 L663.2,86.3 L669.1,84.2 L675.1,82.3"/><path d="M443.0,210.3 L449.0,202.9 L454.9,195.6 L460.9,188.5 L466.8,181.5 L472.8,174.6 L478.7,167.9 L484.7,161.4 L490.6,155.0 L496.6,148.7 L502.5,142.6 L508.5,136.6 L514.4,130.8 L520.4,125.1 L526.3,119.5 L532.3,114.1 L538.2,108.8 L544.2,103.7 L550.1,98.7 L556.1,93.9 L562.0,89.2 L568.0,84.7 L573.9,80.3 L579.9,76.0 L585.8,71.9 L591.8,67.9 L597.7,64.1 L603.7,60.4 L609.6,56.8 L615.6,53.4 L621.5,50.2 L627.5,47.1 L633.4,44.1 L639.4,41.3 L645.3,38.6 L651.3,36.1 L657.2,33.7 L663.2,31.4 L669.1,29.3 L675.1,27.3"/><path d="M443.0,225.9 L449.0,218.4 L454.9,211.1 L460.9,203.8 L466.8,196.8 L472.8,189.9 L478.7,183.2 L484.7,176.6 L490.6,170.2 L496.6,163.9 L502.5,157.8 L508.5,151.8 L514.4,146.0 L520.4,140.4 L526.3,134.9 L532.3,129.6 L538.2,124.4 L544.2,119.4 L550.1,114.6 L556.1,109.9 L562.0,105.4 L568.0,101.0 L573.9,96.8 L579.9,92.7 L585.8,88.8 L591.8,85.0 L597.7,81.4 L603.7,78.0 L609.6,74.7 L615.6,71.6 L621.5,68.7 L627.5,65.9 L633.4,63.2 L639.4,60.7 L645.3,58.4 L651.3,56.2 L657.2,54.2 L663.2,52.3 L669.1,50.6 L675.1,49.1"/><path d="M443.0,204.4 L449.0,196.9 L454.9,189.6 L460.9,182.4 L466.8,175.4 L472.8,168.5 L478.7,161.7 L484.7,155.2 L490.6,148.8 L496.6,142.5 L502.5,136.4 L508.5,130.5 L514.4,124.7 L520.4,119.0 L526.3,113.5 L532.3,108.2 L538.2,103.0 L544.2,98.0 L550.1,93.1 L556.1,88.4 L562.0,83.9 L568.0,79.5 L573.9,75.2 L579.9,71.1 L585.8,67.2 L591.8,63.4 L597.7,59.8 L603.7,56.3 L609.6,53.0 L615.6,49.8 L621.5,46.8 L627.5,43.9 L633.4,41.2 L639.4,38.7 L645.3,36.3 L651.3,34.0 L657.2,31.9 L663.2,30.0 L669.1,28.2 L675.1,26.6"/><path d="M443.0,247.6 L449.0,239.9 L454.9,232.5 L460.9,225.1 L466.8,218.0 L472.8,211.0 L478.7,204.1 L484.7,197.4 L490.6,190.9 L496.6,184.5 L502.5,178.3 L508.5,172.2 L514.4,166.3 L520.4,160.6 L526.3,155.0 L532.3,149.6 L538.2,144.3 L544.2,139.2 L550.1,134.2 L556.1,129.4 L562.0,124.7 L568.0,120.2 L573.9,115.9 L579.9,111.7 L585.8,107.7 L591.8,103.8 L597.7,100.1 L603.7,96.5 L609.6,93.1 L615.6,89.9 L621.5,86.8 L627.5,83.9 L633.4,81.1 L639.4,78.5 L645.3,76.0 L651.3,73.7 L657.2,71.6 L663.2,69.6 L669.1,67.8 L675.1,66.1"/><path d="M443.0,233.9 L449.0,226.1 L454.9,218.5 L460.9,211.0 L466.8,203.6 L472.8,196.4 L478.7,189.3 L484.7,182.3 L490.6,175.5 L496.6,168.8 L502.5,162.3 L508.5,155.9 L514.4,149.6 L520.4,143.5 L526.3,137.4 L532.3,131.6 L538.2,125.9 L544.2,120.3 L550.1,114.8 L556.1,109.5 L562.0,104.3 L568.0,99.3 L573.9,94.3 L579.9,89.6 L585.8,84.9 L591.8,80.4 L597.7,76.1 L603.7,71.8 L609.6,67.7 L615.6,63.8 L621.5,60.0 L627.5,56.3 L633.4,52.7 L639.4,49.3 L645.3,46.0 L651.3,42.9 L657.2,39.9 L663.2,37.0 L669.1,34.3 L675.1,31.7"/><path d="M443.0,229.7 L449.0,222.0 L454.9,214.4 L460.9,207.0 L466.8,199.8 L472.8,192.7 L478.7,185.7 L484.7,178.9 L490.6,172.3 L496.6,165.8 L502.5,159.4 L508.5,153.3 L514.4,147.2 L520.4,141.3 L526.3,135.6 L532.3,130.0 L538.2,124.6 L544.2,119.3 L550.1,114.2 L556.1,109.3 L562.0,104.5 L568.0,99.8 L573.9,95.3 L579.9,90.9 L585.8,86.7 L591.8,82.7 L597.7,78.8 L603.7,75.1 L609.6,71.5 L615.6,68.0 L621.5,64.8 L627.5,61.6 L633.4,58.6 L639.4,55.8 L645.3,53.2 L651.3,50.6 L657.2,48.3 L663.2,46.1 L669.1,44.0 L675.1,42.1"/><path d="M443.0,213.9 L449.0,206.3 L454.9,198.9 L460.9,191.6 L466.8,184.5 L472.8,177.6 L478.7,170.8 L484.7,164.2 L490.6,157.8 L496.6,151.5 L502.5,145.3 L508.5,139.3 L514.4,133.5 L520.4,127.9 L526.3,122.3 L532.3,117.0 L538.2,111.8 L544.2,106.8 L550.1,101.9 L556.1,97.2 L562.0,92.6 L568.0,88.2 L573.9,84.0 L579.9,79.9 L585.8,76.0 L591.8,72.2 L597.7,68.6 L603.7,65.2 L609.6,61.9 L615.6,58.7 L621.5,55.8 L627.5,52.9 L633.4,50.3 L639.4,47.8 L645.3,45.5 L651.3,43.3 L657.2,41.2 L663.2,39.4 L669.1,37.7 L675.1,36.1"/><path d="M443.0,251.3 L449.0,243.7 L454.9,236.3 L460.9,229.0 L466.8,221.8 L472.8,214.9 L478.7,208.1 L484.7,201.4 L490.6,194.9 L496.6,188.6 L502.5,182.4 L508.5,176.4 L514.4,170.5 L520.4,164.8 L526.3,159.3 L532.3,153.9 L538.2,148.7 L544.2,143.6 L550.1,138.7 L556.1,133.9 L562.0,129.3 L568.0,124.9 L573.9,120.6 L579.9,116.5 L585.8,112.5 L591.8,108.7 L597.7,105.1 L603.7,101.6 L609.6,98.2 L615.6,95.0 L621.5,92.0 L627.5,89.2 L633.4,86.5 L639.4,83.9 L645.3,81.5 L651.3,79.3 L657.2,77.2 L663.2,75.3 L669.1,73.5 L675.1,71.9"/><path d="M443.0,205.9 L449.0,198.3 L454.9,190.9 L460.9,183.6 L466.8,176.5 L472.8,169.5 L478.7,162.7 L484.7,156.1 L490.6,149.6 L496.6,143.2 L502.5,137.0 L508.5,131.0 L514.4,125.1 L520.4,119.4 L526.3,113.8 L532.3,108.4 L538.2,103.1 L544.2,98.0 L550.1,93.1 L556.1,88.3 L562.0,83.6 L568.0,79.2 L573.9,74.8 L579.9,70.6 L585.8,66.6 L591.8,62.7 L597.7,59.0 L603.7,55.5 L609.6,52.1 L615.6,48.8 L621.5,45.7 L627.5,42.8 L633.4,40.0 L639.4,37.3 L645.3,34.8 L651.3,32.5 L657.2,30.3 L663.2,28.3 L669.1,26.5 L675.1,24.8"/><path d="M443.0,318.4 L449.0,311.1 L454.9,304.0 L460.9,297.0 L466.8,290.1 L472.8,283.4 L478.7,276.8 L484.7,270.4 L490.6,264.1 L496.6,257.9 L502.5,251.9 L508.5,246.1 L514.4,240.4 L520.4,234.8 L526.3,229.3 L532.3,224.0 L538.2,218.9 L544.2,213.9 L550.1,209.0 L556.1,204.3 L562.0,199.7 L568.0,195.3 L573.9,191.0 L579.9,186.9 L585.8,182.9 L591.8,179.0 L597.7,175.3 L603.7,171.7 L609.6,168.3 L615.6,165.0 L621.5,161.9 L627.5,158.9 L633.4,156.0 L639.4,153.3 L645.3,150.7 L651.3,148.3 L657.2,146.0 L663.2,143.9 L669.1,141.9 L675.1,140.0"/><path d="M443.0,271.9 L449.0,264.5 L454.9,257.2 L460.9,250.1 L466.8,243.1 L472.8,236.3 L478.7,229.6 L484.7,223.1 L490.6,216.8 L496.6,210.6 L502.5,204.5 L508.5,198.6 L514.4,192.9 L520.4,187.3 L526.3,181.9 L532.3,176.6 L538.2,171.5 L544.2,166.5 L550.1,161.7 L556.1,157.0 L562.0,152.5 L568.0,148.2 L573.9,144.0 L579.9,139.9 L585.8,136.0 L591.8,132.3 L597.7,128.7 L603.7,125.3 L609.6,122.0 L615.6,118.8 L621.5,115.9 L627.5,113.1 L633.4,110.4 L639.4,107.9 L645.3,105.5 L651.3,103.3 L657.2,101.3 L663.2,99.4 L669.1,97.6 L675.1,96.0"/><path d="M443.0,231.6 L449.0,224.3 L454.9,217.1 L460.9,210.1 L466.8,203.3 L472.8,196.6 L478.7,190.0 L484.7,183.6 L490.6,177.4 L496.6,171.3 L502.5,165.3 L508.5,159.6 L514.4,153.9 L520.4,148.5 L526.3,143.2 L532.3,138.0 L538.2,133.0 L544.2,128.1 L550.1,123.5 L556.1,118.9 L562.0,114.5 L568.0,110.3 L573.9,106.2 L579.9,102.3 L585.8,98.5 L591.8,94.9 L597.7,91.5 L603.7,88.2 L609.6,85.0 L615.6,82.0 L621.5,79.2 L627.5,76.5 L633.4,74.0 L639.4,71.6 L645.3,69.4 L651.3,67.3 L657.2,65.4 L663.2,63.7 L669.1,62.1 L675.1,60.6"/><path d="M443.0,283.7 L449.0,276.3 L454.9,269.0 L460.9,261.8 L466.8,254.8 L472.8,247.9 L478.7,241.2 L484.7,234.7 L490.6,228.2 L496.6,222.0 L502.5,215.8 L508.5,209.9 L514.4,204.0 L520.4,198.3 L526.3,192.8 L532.3,187.4 L538.2,182.2 L544.2,177.1 L550.1,172.1 L556.1,167.3 L562.0,162.6 L568.0,158.1 L573.9,153.7 L579.9,149.5 L585.8,145.4 L591.8,141.5 L597.7,137.7 L603.7,134.1 L609.6,130.6 L615.6,127.2 L621.5,124.0 L627.5,121.0 L633.4,118.1 L639.4,115.3 L645.3,112.7 L651.3,110.2 L657.2,107.9 L663.2,105.8 L669.1,103.7 L675.1,101.8"/><path d="M443.0,264.6 L449.0,257.2 L454.9,249.9 L460.9,242.8 L466.8,235.9 L472.8,229.0 L478.7,222.4 L484.7,215.8 L490.6,209.4 L496.6,203.2 L502.5,197.1 L508.5,191.1 L514.4,185.3 L520.4,179.6 L526.3,174.0 L532.3,168.6 L538.2,163.4 L544.2,158.3 L550.1,153.3 L556.1,148.5 L562.0,143.8 L568.0,139.2 L573.9,134.8 L579.9,130.6 L585.8,126.5 L591.8,122.5 L597.7,118.7 L603.7,115.0 L609.6,111.4 L615.6,108.0 L621.5,104.8 L627.5,101.6 L633.4,98.7 L639.4,95.8 L645.3,93.1 L651.3,90.6 L657.2,88.2 L663.2,85.9 L669.1,83.8 L675.1,81.8"/><path d="M443.0,237.2 L449.0,229.8 L454.9,222.6 L460.9,215.5 L466.8,208.6 L472.8,201.7 L478.7,195.1 L484.7,188.5 L490.6,182.1 L496.6,175.9 L502.5,169.8 L508.5,163.8 L514.4,157.9 L520.4,152.2 L526.3,146.6 L532.3,141.2 L538.2,135.9 L544.2,130.7 L550.1,125.7 L556.1,120.8 L562.0,116.1 L568.0,111.5 L573.9,107.0 L579.9,102.6 L585.8,98.4 L591.8,94.4 L597.7,90.4 L603.7,86.6 L609.6,83.0 L615.6,79.4 L621.5,76.1 L627.5,72.8 L633.4,69.7 L639.4,66.7 L645.3,63.9 L651.3,61.2 L657.2,58.6 L663.2,56.2 L669.1,53.9 L675.1,51.8"/><path d="M443.0,292.6 L449.0,285.0 L454.9,277.5 L460.9,270.2 L466.8,263.1 L472.8,256.1 L478.7,249.3 L484.7,242.7 L490.6,236.3 L496.6,230.0 L502.5,223.9 L508.5,217.9 L514.4,212.1 L520.4,206.5 L526.3,201.1 L532.3,195.8 L538.2,190.7 L544.2,185.7 L550.1,180.9 L556.1,176.3 L562.0,171.9 L568.0,167.6 L573.9,163.5 L579.9,159.6 L585.8,155.8 L591.8,152.2 L597.7,148.7 L603.7,145.5 L609.6,142.4 L615.6,139.4 L621.5,136.7 L627.5,134.1 L633.4,131.6 L639.4,129.4 L645.3,127.3 L651.3,125.3 L657.2,123.6 L663.2,122.0 L669.1,120.6 L675.1,119.3"/><path d="M443.0,291.0 L449.0,283.5 L454.9,276.1 L460.9,268.9 L466.8,261.8 L472.8,254.9 L478.7,248.1 L484.7,241.4 L490.6,234.9 L496.6,228.6 L502.5,222.4 L508.5,216.3 L514.4,210.4 L520.4,204.6 L526.3,199.0 L532.3,193.5 L538.2,188.2 L544.2,183.0 L550.1,178.0 L556.1,173.1 L562.0,168.3 L568.0,163.7 L573.9,159.3 L579.9,155.0 L585.8,150.8 L591.8,146.8 L597.7,142.9 L603.7,139.2 L609.6,135.7 L615.6,132.2 L621.5,129.0 L627.5,125.8 L633.4,122.8 L639.4,120.0 L645.3,117.3 L651.3,114.8 L657.2,112.4 L663.2,110.1 L669.1,108.0 L675.1,106.1"/><path d="M443.0,226.2 L449.0,218.7 L454.9,211.3 L460.9,204.1 L466.8,197.0 L472.8,190.1 L478.7,183.3 L484.7,176.7 L490.6,170.3 L496.6,164.0 L502.5,157.8 L508.5,151.9 L514.4,146.0 L520.4,140.4 L526.3,134.9 L532.3,129.5 L538.2,124.4 L544.2,119.3 L550.1,114.5 L556.1,109.7 L562.0,105.2 L568.0,100.8 L573.9,96.6 L579.9,92.5 L585.8,88.5 L591.8,84.8 L597.7,81.2 L603.7,77.7 L609.6,74.4 L615.6,71.3 L621.5,68.3 L627.5,65.5 L633.4,62.8 L639.4,60.3 L645.3,58.0 L651.3,55.8 L657.2,53.7 L663.2,51.9 L669.1,50.2 L675.1,48.6"/><path d="M443.0,226.9 L449.0,219.4 L454.9,212.1 L460.9,205.0 L466.8,198.0 L472.8,191.2 L478.7,184.6 L484.7,178.1 L490.6,171.9 L496.6,165.7 L502.5,159.8 L508.5,154.0 L514.4,148.4 L520.4,143.0 L526.3,137.7 L532.3,132.6 L538.2,127.7 L544.2,122.9 L550.1,118.3 L556.1,113.9 L562.0,109.6 L568.0,105.6 L573.9,101.7 L579.9,97.9 L585.8,94.3 L591.8,90.9 L597.7,87.7 L603.7,84.6 L609.6,81.8 L615.6,79.0 L621.5,76.5 L627.5,74.1 L633.4,71.9 L639.4,69.8 L645.3,68.0 L651.3,66.3 L657.2,64.7 L663.2,63.4 L669.1,62.2 L675.1,61.1"/><path d="M443.0,205.1 L449.0,197.5 L454.9,190.0 L460.9,182.7 L466.8,175.5 L472.8,168.4 L478.7,161.5 L484.7,154.7 L490.6,148.1 L496.6,141.6 L502.5,135.2 L508.5,128.9 L514.4,122.8 L520.4,116.9 L526.3,111.1 L532.3,105.4 L538.2,99.8 L544.2,94.4 L550.1,89.1 L556.1,84.0 L562.0,78.9 L568.0,74.1 L573.9,69.3 L579.9,64.7 L585.8,60.3 L591.8,56.0 L597.7,51.8 L603.7,47.7 L609.6,43.8 L615.6,40.0 L621.5,36.4 L627.5,32.9 L633.4,29.5 L639.4,26.3 L645.3,23.2 L651.3,20.2 L657.2,17.4 L663.2,14.7 L669.1,12.1 L675.1,9.7"/><path d="M443.0,255.2 L449.0,247.8 L454.9,240.6 L460.9,233.6 L466.8,226.7 L472.8,220.0 L478.7,213.4 L484.7,207.0 L490.6,200.8 L496.6,194.7 L502.5,188.8 L508.5,183.0 L514.4,177.4 L520.4,172.0 L526.3,166.7 L532.3,161.6 L538.2,156.7 L544.2,151.9 L550.1,147.3 L556.1,142.8 L562.0,138.5 L568.0,134.4 L573.9,130.4 L579.9,126.6 L585.8,122.9 L591.8,119.4 L597.7,116.1 L603.7,112.9 L609.6,109.9 L615.6,107.0 L621.5,104.3 L627.5,101.8 L633.4,99.4 L639.4,97.2 L645.3,95.2 L651.3,93.3 L657.2,91.6 L663.2,90.0 L669.1,88.6 L675.1,87.4"/><path d="M443.0,251.6 L449.0,244.4 L454.9,237.4 L460.9,230.6 L466.8,223.8 L472.8,217.3 L478.7,210.9 L484.7,204.6 L490.6,198.5 L496.6,192.5 L502.5,186.7 L508.5,181.0 L514.4,175.5 L520.4,170.1 L526.3,164.9 L532.3,159.8 L538.2,154.9 L544.2,150.1 L550.1,145.5 L556.1,141.0 L562.0,136.7 L568.0,132.5 L573.9,128.5 L579.9,124.6 L585.8,120.9 L591.8,117.3 L597.7,113.9 L603.7,110.6 L609.6,107.5 L615.6,104.5 L621.5,101.7 L627.5,99.0 L633.4,96.4 L639.4,94.0 L645.3,91.8 L651.3,89.7 L657.2,87.8 L663.2,86.0 L669.1,84.3 L675.1,82.9"/><path d="M443.0,236.2 L449.0,228.7 L454.9,221.4 L460.9,214.3 L466.8,207.3 L472.8,200.4 L478.7,193.7 L484.7,187.2 L490.6,180.8 L496.6,174.6 L502.5,168.5 L508.5,162.6 L514.4,156.8 L520.4,151.2 L526.3,145.7 L532.3,140.4 L538.2,135.3 L544.2,130.3 L550.1,125.4 L556.1,120.7 L562.0,116.2 L568.0,111.8 L573.9,107.6 L579.9,103.5 L585.8,99.6 L591.8,95.8 L597.7,92.2 L603.7,88.8 L609.6,85.5 L615.6,82.3 L621.5,79.3 L627.5,76.5 L633.4,73.8 L639.4,71.3 L645.3,68.9 L651.3,66.7 L657.2,64.6 L663.2,62.7 L669.1,60.9 L675.1,59.3"/><path d="M443.0,214.6 L449.0,207.2 L454.9,199.9 L460.9,192.9 L466.8,185.9 L472.8,179.2 L478.7,172.6 L484.7,166.1 L490.6,159.9 L496.6,153.8 L502.5,147.8 L508.5,142.1 L514.4,136.5 L520.4,131.0 L526.3,125.7 L532.3,120.6 L538.2,115.7 L544.2,110.9 L550.1,106.3 L556.1,101.8 L562.0,97.5 L568.0,93.4 L573.9,89.5 L579.9,85.7 L585.8,82.0 L591.8,78.6 L597.7,75.3 L603.7,72.1 L609.6,69.2 L615.6,66.4 L621.5,63.7 L627.5,61.3 L633.4,59.0 L639.4,56.8 L645.3,54.8 L651.3,53.0 L657.2,51.4 L663.2,49.9 L669.1,48.6 L675.1,47.4"/><path d="M443.0,226.7 L449.0,219.0 L454.9,211.4 L460.9,203.9 L466.8,196.6 L472.8,189.4 L478.7,182.4 L484.7,175.5 L490.6,168.7 L496.6,162.1 L502.5,155.6 L508.5,149.3 L514.4,143.1 L520.4,137.0 L526.3,131.1 L532.3,125.3 L538.2,119.7 L544.2,114.2 L550.1,108.9 L556.1,103.7 L562.0,98.6 L568.0,93.7 L573.9,88.9 L579.9,84.3 L585.8,79.8 L591.8,75.4 L597.7,71.2 L603.7,67.2 L609.6,63.2 L615.6,59.5 L621.5,55.8 L627.5,52.3 L633.4,48.9 L639.4,45.7 L645.3,42.7 L651.3,39.7 L657.2,36.9 L663.2,34.3 L669.1,31.8 L675.1,29.4"/><path d="M443.0,195.1 L449.0,187.4 L454.9,179.8 L460.9,172.4 L466.8,165.2 L472.8,158.1 L478.7,151.2 L484.7,144.4 L490.6,137.7 L496.6,131.3 L502.5,124.9 L508.5,118.7 L514.4,112.7 L520.4,106.9 L526.3,101.1 L532.3,95.6 L538.2,90.2 L544.2,84.9 L550.1,79.8 L556.1,74.8 L562.0,70.0 L568.0,65.4 L573.9,60.9 L579.9,56.5 L585.8,52.3 L591.8,48.3 L597.7,44.4 L603.7,40.6 L609.6,37.1 L615.6,33.6 L621.5,30.3 L627.5,27.2 L633.4,24.2 L639.4,21.4 L645.3,18.7 L651.3,16.2 L657.2,13.8 L663.2,11.6 L669.1,9.6 L675.1,7.7"/><path d="M443.0,222.4 L449.0,214.9 L454.9,207.5 L460.9,200.3 L466.8,193.3 L472.8,186.4 L478.7,179.7 L484.7,173.1 L490.6,166.7 L496.6,160.4 L502.5,154.3 L508.5,148.4 L514.4,142.6 L520.4,137.0 L526.3,131.5 L532.3,126.1 L538.2,121.0 L544.2,116.0 L550.1,111.1 L556.1,106.4 L562.0,101.8 L568.0,97.4 L573.9,93.2 L579.9,89.1 L585.8,85.2 L591.8,81.4 L597.7,77.8 L603.7,74.3 L609.6,71.0 L615.6,67.9 L621.5,64.9 L627.5,62.0 L633.4,59.3 L639.4,56.8 L645.3,54.4 L651.3,52.2 L657.2,50.1 L663.2,48.2 L669.1,46.5 L675.1,44.9"/><path d="M443.0,194.6 L449.0,186.7 L454.9,179.1 L460.9,171.5 L466.8,164.2 L472.8,156.9 L478.7,149.9 L484.7,143.0 L490.6,136.2 L496.6,129.6 L502.5,123.1 L508.5,116.8 L514.4,110.7 L520.4,104.7 L526.3,98.8 L532.3,93.1 L538.2,87.6 L544.2,82.2 L550.1,77.0 L556.1,71.9 L562.0,67.0 L568.0,62.2 L573.9,57.5 L579.9,53.1 L585.8,48.7 L591.8,44.6 L597.7,40.6 L603.7,36.7 L609.6,33.0 L615.6,29.4 L621.5,26.0 L627.5,22.8 L633.4,19.7 L639.4,16.7 L645.3,13.9 L651.3,11.3 L657.2,8.8 L663.2,6.4 L669.1,4.2 L675.1,2.2"/><path d="M443.0,224.6 L449.0,217.0 L454.9,209.6 L460.9,202.3 L466.8,195.2 L472.8,188.2 L478.7,181.4 L484.7,174.7 L490.6,168.3 L496.6,161.9 L502.5,155.8 L508.5,149.8 L514.4,143.9 L520.4,138.2 L526.3,132.7 L532.3,127.3 L538.2,122.1 L544.2,117.1 L550.1,112.2 L556.1,107.5 L562.0,102.9 L568.0,98.5 L573.9,94.3 L579.9,90.2 L585.8,86.3 L591.8,82.5 L597.7,78.9 L603.7,75.5 L609.6,72.2 L615.6,69.1 L621.5,66.1 L627.5,63.4 L633.4,60.7 L639.4,58.2 L645.3,55.9 L651.3,53.8 L657.2,51.8 L663.2,50.0 L669.1,48.3 L675.1,46.8"/><path d="M443.0,238.9 L449.0,231.4 L454.9,224.0 L460.9,216.8 L466.8,209.8 L472.8,202.9 L478.7,196.1 L484.7,189.5 L490.6,183.0 L496.6,176.7 L502.5,170.6 L508.5,164.6 L514.4,158.7 L520.4,153.0 L526.3,147.4 L532.3,142.0 L538.2,136.8 L544.2,131.7 L550.1,126.7 L556.1,121.9 L562.0,117.3 L568.0,112.8 L573.9,108.4 L579.9,104.3 L585.8,100.2 L591.8,96.3 L597.7,92.6 L603.7,89.0 L609.6,85.5 L615.6,82.3 L621.5,79.1 L627.5,76.1 L633.4,73.3 L639.4,70.6 L645.3,68.1 L651.3,65.7 L657.2,63.5 L663.2,61.4 L669.1,59.4 L675.1,57.7"/><path d="M443.0,293.3 L449.0,285.9 L454.9,278.7 L460.9,271.6 L466.8,264.7 L472.8,257.9 L478.7,251.2 L484.7,244.7 L490.6,238.3 L496.6,232.1 L502.5,226.0 L508.5,220.0 L514.4,214.2 L520.4,208.5 L526.3,203.0 L532.3,197.6 L538.2,192.3 L544.2,187.2 L550.1,182.2 L556.1,177.4 L562.0,172.7 L568.0,168.1 L573.9,163.7 L579.9,159.4 L585.8,155.3 L591.8,151.3 L597.7,147.4 L603.7,143.7 L609.6,140.2 L615.6,136.7 L621.5,133.4 L627.5,130.3 L633.4,127.3 L639.4,124.4 L645.3,121.7 L651.3,119.1 L657.2,116.6 L663.2,114.3 L669.1,112.1 L675.1,110.1"/><path d="M443.0,217.6 L449.0,210.2 L454.9,202.9 L460.9,195.9 L466.8,188.9 L472.8,182.1 L478.7,175.5 L484.7,169.0 L490.6,162.6 L496.6,156.4 L502.5,150.4 L508.5,144.4 L514.4,138.7 L520.4,133.1 L526.3,127.6 L532.3,122.3 L538.2,117.1 L544.2,112.0 L550.1,107.2 L556.1,102.4 L562.0,97.8 L568.0,93.4 L573.9,89.1 L579.9,84.9 L585.8,80.9 L591.8,77.1 L597.7,73.3 L603.7,69.8 L609.6,66.4 L615.6,63.1 L621.5,60.0 L627.5,57.0 L633.4,54.2 L639.4,51.5 L645.3,48.9 L651.3,46.5 L657.2,44.3 L663.2,42.2 L669.1,40.2 L675.1,38.4"/><path d="M443.0,183.5 L449.0,175.9 L454.9,168.5 L460.9,161.2 L466.8,154.1 L472.8,147.1 L478.7,140.3 L484.7,133.6 L490.6,127.1 L496.6,120.7 L502.5,114.5 L508.5,108.4 L514.4,102.5 L520.4,96.8 L526.3,91.2 L532.3,85.7 L538.2,80.5 L544.2,75.3 L550.1,70.3 L556.1,65.5 L562.0,60.9 L568.0,56.3 L573.9,52.0 L579.9,47.8 L585.8,43.7 L591.8,39.8 L597.7,36.1 L603.7,32.5 L609.6,29.0 L615.6,25.8 L621.5,22.6 L627.5,19.7 L633.4,16.8 L639.4,14.2 L645.3,11.7 L651.3,9.3 L657.2,7.1 L663.2,5.1 L669.1,3.2 L675.1,1.4"/><path d="M443.0,278.7 L449.0,271.4 L454.9,264.1 L460.9,257.1 L466.8,250.2 L472.8,243.5 L478.7,237.0 L484.7,230.6 L490.6,224.4 L496.6,218.3 L502.5,212.5 L508.5,206.8 L514.4,201.2 L520.4,195.9 L526.3,190.7 L532.3,185.6 L538.2,180.8 L544.2,176.1 L550.1,171.5 L556.1,167.2 L562.0,163.0 L568.0,159.0 L573.9,155.1 L579.9,151.4 L585.8,147.9 L591.8,144.6 L597.7,141.4 L603.7,138.4 L609.6,135.5 L615.6,132.8 L621.5,130.3 L627.5,128.0 L633.4,125.8 L639.4,123.8 L645.3,122.0 L651.3,120.3 L657.2,118.8 L663.2,117.5 L669.1,116.3 L675.1,115.3"/><path d="M443.0,243.3 L449.0,236.0 L454.9,228.7 L460.9,221.7 L466.8,214.7 L472.8,208.0 L478.7,201.3 L484.7,194.9 L490.6,188.5 L496.6,182.4 L502.5,176.3 L508.5,170.5 L514.4,164.7 L520.4,159.1 L526.3,153.7 L532.3,148.4 L538.2,143.3 L544.2,138.3 L550.1,133.5 L556.1,128.8 L562.0,124.2 L568.0,119.9 L573.9,115.6 L579.9,111.5 L585.8,107.6 L591.8,103.8 L597.7,100.1 L603.7,96.7 L609.6,93.3 L615.6,90.1 L621.5,87.1 L627.5,84.2 L633.4,81.4 L639.4,78.8 L645.3,76.4 L651.3,74.1 L657.2,71.9 L663.2,69.9 L669.1,68.0 L675.1,66.3"/><path d="M443.0,190.7 L449.0,183.5 L454.9,176.4 L460.9,169.4 L466.8,162.6 L472.8,156.0 L478.7,149.5 L484.7,143.2 L490.6,137.1 L496.6,131.1 L502.5,125.2 L508.5,119.5 L514.4,114.0 L520.4,108.7 L526.3,103.5 L532.3,98.4 L538.2,93.5 L544.2,88.8 L550.1,84.2 L556.1,79.8 L562.0,75.5 L568.0,71.4 L573.9,67.5 L579.9,63.7 L585.8,60.0 L591.8,56.6 L597.7,53.3 L603.7,50.1 L609.6,47.1 L615.6,44.3 L621.5,41.6 L627.5,39.0 L633.4,36.7 L639.4,34.5 L645.3,32.4 L651.3,30.5 L657.2,28.8 L663.2,27.2 L669.1,25.8 L675.1,24.5"/><path d="M443.0,333.1 L449.0,325.7 L454.9,318.5 L460.9,311.4 L466.8,304.5 L472.8,297.7 L478.7,291.1 L484.7,284.7 L490.6,278.4 L496.6,272.4 L502.5,266.4 L508.5,260.7 L514.4,255.1 L520.4,249.7 L526.3,244.4 L532.3,239.4 L538.2,234.4 L544.2,229.7 L550.1,225.1 L556.1,220.7 L562.0,216.5 L568.0,212.4 L573.9,208.5 L579.9,204.7 L585.8,201.1 L591.8,197.7 L597.7,194.5 L603.7,191.4 L609.6,188.5 L615.6,185.8 L621.5,183.2 L627.5,180.8 L633.4,178.6 L639.4,176.5 L645.3,174.6 L651.3,172.8 L657.2,171.3 L663.2,169.9 L669.1,168.6 L675.1,167.6"/><path d="M443.0,221.4 L449.0,213.8 L454.9,206.5 L460.9,199.2 L466.8,192.2 L472.8,185.2 L478.7,178.5 L484.7,171.8 L490.6,165.4 L496.6,159.1 L502.5,152.9 L508.5,146.9 L514.4,141.0 L520.4,135.3 L526.3,129.7 L532.3,124.3 L538.2,119.0 L544.2,113.9 L550.1,109.0 L556.1,104.2 L562.0,99.5 L568.0,95.0 L573.9,90.6 L579.9,86.4 L585.8,82.4 L591.8,78.5 L597.7,74.7 L603.7,71.1 L609.6,67.7 L615.6,64.4 L621.5,61.2 L627.5,58.2 L633.4,55.4 L639.4,52.7 L645.3,50.1 L651.3,47.7 L657.2,45.5 L663.2,43.4 L669.1,41.5 L675.1,39.7"/><path d="M443.0,241.5 L449.0,233.8 L454.9,226.3 L460.9,218.9 L466.8,211.7 L472.8,204.7 L478.7,197.8 L484.7,191.0 L490.6,184.4 L496.6,177.9 L502.5,171.6 L508.5,165.4 L514.4,159.4 L520.4,153.5 L526.3,147.8 L532.3,142.2 L538.2,136.8 L544.2,131.5 L550.1,126.4 L556.1,121.4 L562.0,116.6 L568.0,111.9 L573.9,107.3 L579.9,102.9 L585.8,98.7 L591.8,94.6 L597.7,90.7 L603.7,86.9 L609.6,83.2 L615.6,79.7 L621.5,76.4 L627.5,73.2 L633.4,70.1 L639.4,67.2 L645.3,64.5 L651.3,61.9 L657.2,59.4 L663.2,57.1 L669.1,55.0 L675.1,52.9"/><path d="M443.0,258.3 L449.0,251.0 L454.9,243.9 L460.9,237.0 L466.8,230.2 L472.8,223.5 L478.7,217.1 L484.7,210.7 L490.6,204.5 L496.6,198.5 L502.5,192.6 L508.5,186.9 L514.4,181.3 L520.4,175.9 L526.3,170.6 L532.3,165.5 L538.2,160.6 L544.2,155.8 L550.1,151.1 L556.1,146.6 L562.0,142.3 L568.0,138.1 L573.9,134.0 L579.9,130.1 L585.8,126.4 L591.8,122.8 L597.7,119.4 L603.7,116.1 L609.6,113.0 L615.6,110.0 L621.5,107.2 L627.5,104.5 L633.4,102.0 L639.4,99.7 L645.3,97.5 L651.3,95.4 L657.2,93.5 L663.2,91.8 L669.1,90.2 L675.1,88.8"/><path d="M443.0,240.4 L449.0,233.1 L454.9,226.1 L460.9,219.1 L466.8,212.3 L472.8,205.6 L478.7,199.1 L484.7,192.7 L490.6,186.4 L496.6,180.3 L502.5,174.3 L508.5,168.5 L514.4,162.8 L520.4,157.2 L526.3,151.8 L532.3,146.5 L538.2,141.4 L544.2,136.4 L550.1,131.5 L556.1,126.8 L562.0,122.2 L568.0,117.7 L573.9,113.4 L579.9,109.3 L585.8,105.2 L591.8,101.3 L597.7,97.6 L603.7,94.0 L609.6,90.5 L615.6,87.2 L621.5,84.0 L627.5,80.9 L633.4,78.0 L639.4,75.2 L645.3,72.6 L651.3,70.1 L657.2,67.7 L663.2,65.5 L669.1,63.4 L675.1,61.5"/><path d="M443.0,256.8 L449.0,249.6 L454.9,242.5 L460.9,235.6 L466.8,228.9 L472.8,222.3 L478.7,215.8 L484.7,209.5 L490.6,203.4 L496.6,197.4 L502.5,191.5 L508.5,185.9 L514.4,180.3 L520.4,175.0 L526.3,169.8 L532.3,164.7 L538.2,159.8 L544.2,155.0 L550.1,150.4 L556.1,146.0 L562.0,141.7 L568.0,137.5 L573.9,133.6 L579.9,129.7 L585.8,126.0 L591.8,122.5 L597.7,119.1 L603.7,115.9 L609.6,112.9 L615.6,110.0 L621.5,107.2 L627.5,104.6 L633.4,102.2 L639.4,99.9 L645.3,97.7 L651.3,95.8 L657.2,93.9 L663.2,92.3 L669.1,90.7 L675.1,89.4"/><path d="M443.0,261.3 L449.0,253.8 L454.9,246.4 L460.9,239.2 L466.8,232.2 L472.8,225.3 L478.7,218.6 L484.7,212.0 L490.6,205.6 L496.6,199.4 L502.5,193.3 L508.5,187.3 L514.4,181.5 L520.4,175.9 L526.3,170.5 L532.3,165.1 L538.2,160.0 L544.2,155.0 L550.1,150.2 L556.1,145.5 L562.0,140.9 L568.0,136.6 L573.9,132.4 L579.9,128.3 L585.8,124.4 L591.8,120.7 L597.7,117.1 L603.7,113.7 L609.6,110.4 L615.6,107.3 L621.5,104.3 L627.5,101.5 L633.4,98.9 L639.4,96.4 L645.3,94.1 L651.3,91.9 L657.2,89.9 L663.2,88.0 L669.1,86.3 L675.1,84.8"/><path d="M443.0,231.9 L449.0,224.4 L454.9,217.1 L460.9,209.9 L466.8,202.9 L472.8,196.1 L478.7,189.3 L484.7,182.7 L490.6,176.3 L496.6,170.0 L502.5,163.9 L508.5,157.9 L514.4,152.0 L520.4,146.3 L526.3,140.7 L532.3,135.3 L538.2,130.0 L544.2,124.8 L550.1,119.9 L556.1,115.0 L562.0,110.3 L568.0,105.7 L573.9,101.3 L579.9,97.0 L585.8,92.9 L591.8,88.9 L597.7,85.1 L603.7,81.4 L609.6,77.8 L615.6,74.4 L621.5,71.2 L627.5,68.0 L633.4,65.1 L639.4,62.2 L645.3,59.5 L651.3,57.0 L657.2,54.6 L663.2,52.3 L669.1,50.2 L675.1,48.3"/><path d="M443.0,271.9 L449.0,264.5 L454.9,257.2 L460.9,250.1 L466.8,243.1 L472.8,236.4 L478.7,229.7 L484.7,223.2 L490.6,216.9 L496.6,210.8 L502.5,204.8 L508.5,198.9 L514.4,193.2 L520.4,187.7 L526.3,182.4 L532.3,177.2 L538.2,172.1 L544.2,167.2 L550.1,162.5 L556.1,157.9 L562.0,153.5 L568.0,149.2 L573.9,145.1 L579.9,141.2 L585.8,137.4 L591.8,133.8 L597.7,130.3 L603.7,127.0 L609.6,123.9 L615.6,120.9 L621.5,118.1 L627.5,115.4 L633.4,112.9 L639.4,110.5 L645.3,108.3 L651.3,106.3 L657.2,104.4 L663.2,102.7 L669.1,101.1 L675.1,99.7"/><path d="M443.0,250.7 L449.0,243.3 L454.9,236.0 L460.9,228.9 L466.8,222.0 L472.8,215.2 L478.7,208.6 L484.7,202.1 L490.6,195.7 L496.6,189.5 L502.5,183.5 L508.5,177.6 L514.4,171.9 L520.4,166.3 L526.3,160.9 L532.3,155.6 L538.2,150.5 L544.2,145.5 L550.1,140.7 L556.1,136.0 L562.0,131.5 L568.0,127.2 L573.9,123.0 L579.9,118.9 L585.8,115.0 L591.8,111.3 L597.7,107.7 L603.7,104.2 L609.6,100.9 L615.6,97.8 L621.5,94.8 L627.5,91.9 L633.4,89.2 L639.4,86.7 L645.3,84.3 L651.3,82.1 L657.2,80.0 L663.2,78.1 L669.1,76.3 L675.1,74.7"/><path d="M443.0,251.8 L449.0,244.3 L454.9,237.0 L460.9,229.9 L466.8,223.0 L472.8,216.2 L478.7,209.6 L484.7,203.2 L490.6,196.9 L496.6,190.8 L502.5,184.8 L508.5,179.1 L514.4,173.5 L520.4,168.0 L526.3,162.8 L532.3,157.7 L538.2,152.7 L544.2,148.0 L550.1,143.4 L556.1,139.0 L562.0,134.7 L568.0,130.6 L573.9,126.7 L579.9,122.9 L585.8,119.4 L591.8,115.9 L597.7,112.7 L603.7,109.6 L609.6,106.7 L615.6,104.0 L621.5,101.4 L627.5,99.0 L633.4,96.7 L639.4,94.7 L645.3,92.8 L651.3,91.0 L657.2,89.5 L663.2,88.1 L669.1,86.9 L675.1,85.8"/><path d="M443.0,289.4 L449.0,281.9 L454.9,274.6 L460.9,267.4 L466.8,260.4 L472.8,253.6 L478.7,246.9 L484.7,240.4 L490.6,234.1 L496.6,227.9 L502.5,221.9 L508.5,216.1 L514.4,210.4 L520.4,204.9 L526.3,199.6 L532.3,194.4 L538.2,189.4 L544.2,184.6 L550.1,179.9 L556.1,175.4 L562.0,171.1 L568.0,166.9 L573.9,162.9 L579.9,159.0 L585.8,155.4 L591.8,151.9 L597.7,148.5 L603.7,145.3 L609.6,142.3 L615.6,139.5 L621.5,136.8 L627.5,134.3 L633.4,131.9 L639.4,129.7 L645.3,127.7 L651.3,125.8 L657.2,124.1 L663.2,122.6 L669.1,121.3 L675.1,120.1"/><path d="M443.0,262.8 L449.0,255.2 L454.9,247.8 L460.9,240.6 L466.8,233.5 L472.8,226.5 L478.7,219.7 L484.7,213.0 L490.6,206.6 L496.6,200.2 L502.5,194.0 L508.5,188.0 L514.4,182.1 L520.4,176.4 L526.3,170.8 L532.3,165.3 L538.2,160.1 L544.2,154.9 L550.1,150.0 L556.1,145.2 L562.0,140.5 L568.0,136.0 L573.9,131.6 L579.9,127.4 L585.8,123.3 L591.8,119.4 L597.7,115.7 L603.7,112.1 L609.6,108.6 L615.6,105.3 L621.5,102.2 L627.5,99.2 L633.4,96.4 L639.4,93.7 L645.3,91.2 L651.3,88.8 L657.2,86.6 L663.2,84.5 L669.1,82.6 L675.1,80.8"/><path d="M443.0,230.2 L449.0,222.8 L454.9,215.5 L460.9,208.4 L466.8,201.5 L472.8,194.7 L478.7,188.1 L484.7,181.7 L490.6,175.4 L496.6,169.2 L502.5,163.3 L508.5,157.5 L514.4,151.8 L520.4,146.3 L526.3,141.0 L532.3,135.9 L538.2,130.9 L544.2,126.0 L550.1,121.3 L556.1,116.8 L562.0,112.5 L568.0,108.3 L573.9,104.2 L579.9,100.4 L585.8,96.7 L591.8,93.1 L597.7,89.7 L603.7,86.5 L609.6,83.4 L615.6,80.5 L621.5,77.8 L627.5,75.2 L633.4,72.7 L639.4,70.5 L645.3,68.4 L651.3,66.4 L657.2,64.7 L663.2,63.0 L669.1,61.6 L675.1,60.3"/><path d="M443.0,198.4 L449.0,190.9 L454.9,183.6 L460.9,176.4 L466.8,169.3 L472.8,162.4 L478.7,155.6 L484.7,149.0 L490.6,142.5 L496.6,136.2 L502.5,130.0 L508.5,123.9 L514.4,118.0 L520.4,112.2 L526.3,106.6 L532.3,101.1 L538.2,95.8 L544.2,90.6 L550.1,85.5 L556.1,80.6 L562.0,75.8 L568.0,71.2 L573.9,66.7 L579.9,62.4 L585.8,58.2 L591.8,54.1 L597.7,50.2 L603.7,46.4 L609.6,42.8 L615.6,39.3 L621.5,36.0 L627.5,32.8 L633.4,29.7 L639.4,26.8 L645.3,24.1 L651.3,21.4 L657.2,19.0 L663.2,16.6 L669.1,14.4 L675.1,12.4"/><path d="M443.0,209.1 L449.0,201.7 L454.9,194.5 L460.9,187.4 L466.8,180.5 L472.8,173.7 L478.7,167.1 L484.7,160.6 L490.6,154.3 L496.6,148.1 L502.5,142.1 L508.5,136.3 L514.4,130.6 L520.4,125.0 L526.3,119.6 L532.3,114.4 L538.2,109.3 L544.2,104.3 L550.1,99.5 L556.1,94.9 L562.0,90.4 L568.0,86.1 L573.9,81.9 L579.9,77.9 L585.8,74.0 L591.8,70.3 L597.7,66.8 L603.7,63.4 L609.6,60.1 L615.6,57.0 L621.5,54.1 L627.5,51.3 L633.4,48.6 L639.4,46.1 L645.3,43.8 L651.3,41.6 L657.2,39.6 L663.2,37.7 L669.1,36.0 L675.1,34.4"/><path d="M443.0,250.3 L449.0,242.9 L454.9,235.6 L460.9,228.5 L466.8,221.6 L472.8,214.8 L478.7,208.2 L484.7,201.7 L490.6,195.3 L496.6,189.2 L502.5,183.1 L508.5,177.3 L514.4,171.5 L520.4,166.0 L526.3,160.5 L532.3,155.3 L538.2,150.2 L544.2,145.2 L550.1,140.4 L556.1,135.7 L562.0,131.2 L568.0,126.9 L573.9,122.7 L579.9,118.6 L585.8,114.7 L591.8,111.0 L597.7,107.4 L603.7,104.0 L609.6,100.7 L615.6,97.6 L621.5,94.6 L627.5,91.8 L633.4,89.1 L639.4,86.6 L645.3,84.2 L651.3,82.0 L657.2,79.9 L663.2,78.0 L669.1,76.2 L675.1,74.6"/><path d="M443.0,216.8 L449.0,209.4 L454.9,202.1 L460.9,195.0 L466.8,188.1 L472.8,181.3 L478.7,174.7 L484.7,168.2 L490.6,161.9 L496.6,155.8 L502.5,149.9 L508.5,144.1 L514.4,138.5 L520.4,133.0 L526.3,127.7 L532.3,122.6 L538.2,117.6 L544.2,112.8 L550.1,108.2 L556.1,103.7 L562.0,99.4 L568.0,95.3 L573.9,91.3 L579.9,87.5 L585.8,83.9 L591.8,80.4 L597.7,77.1 L603.7,74.0 L609.6,71.0 L615.6,68.2 L621.5,65.5 L627.5,63.1 L633.4,60.8 L639.4,58.6 L645.3,56.6 L651.3,54.8 L657.2,53.2 L663.2,51.7 L669.1,50.3 L675.1,49.2"/><path d="M443.0,203.3 L449.0,195.9 L454.9,188.6 L460.9,181.4 L466.8,174.3 L472.8,167.4 L478.7,160.7 L484.7,154.1 L490.6,147.6 L496.6,141.3 L502.5,135.1 L508.5,129.0 L514.4,123.1 L520.4,117.4 L526.3,111.7 L532.3,106.3 L538.2,100.9 L544.2,95.7 L550.1,90.7 L556.1,85.8 L562.0,81.0 L568.0,76.3 L573.9,71.9 L579.9,67.5 L585.8,63.3 L591.8,59.2 L597.7,55.3 L603.7,51.5 L609.6,47.9 L615.6,44.4 L621.5,41.0 L627.5,37.8 L633.4,34.8 L639.4,31.8 L645.3,29.0 L651.3,26.4 L657.2,23.9 L663.2,21.5 L669.1,19.3 L675.1,17.2"/><path d="M443.0,247.3 L449.0,240.0 L454.9,232.8 L460.9,225.9 L466.8,219.0 L472.8,212.3 L478.7,205.7 L484.7,199.3 L490.6,193.0 L496.6,186.9 L502.5,180.9 L508.5,175.1 L514.4,169.4 L520.4,163.9 L526.3,158.5 L532.3,153.2 L538.2,148.1 L544.2,143.1 L550.1,138.3 L556.1,133.6 L562.0,129.1 L568.0,124.7 L573.9,120.5 L579.9,116.4 L585.8,112.4 L591.8,108.6 L597.7,105.0 L603.7,101.4 L609.6,98.1 L615.6,94.8 L621.5,91.8 L627.5,88.8 L633.4,86.0 L639.4,83.4 L645.3,80.9 L651.3,78.5 L657.2,76.3 L663.2,74.3 L669.1,72.4 L675.1,70.6"/><path d="M443.0,243.0 L449.0,235.5 L454.9,228.1 L460.9,220.9 L466.8,213.8 L472.8,206.9 L478.7,200.2 L484.7,193.6 L490.6,187.1 L496.6,180.8 L502.5,174.7 L508.5,168.6 L514.4,162.8 L520.4,157.1 L526.3,151.5 L532.3,146.1 L538.2,140.9 L544.2,135.8 L550.1,130.8 L556.1,126.0 L562.0,121.4 L568.0,116.9 L573.9,112.5 L579.9,108.3 L585.8,104.3 L591.8,100.4 L597.7,96.6 L603.7,93.0 L609.6,89.6 L615.6,86.3 L621.5,83.2 L627.5,80.2 L633.4,77.3 L639.4,74.6 L645.3,72.1 L651.3,69.7 L657.2,67.5 L663.2,65.4 L669.1,63.5 L675.1,61.7"/><path d="M443.0,255.1 L449.0,247.6 L454.9,240.3 L460.9,233.2 L466.8,226.2 L472.8,219.3 L478.7,212.6 L484.7,206.0 L490.6,199.6 L496.6,193.4 L502.5,187.3 L508.5,181.3 L514.4,175.5 L520.4,169.8 L526.3,164.3 L532.3,158.9 L538.2,153.7 L544.2,148.6 L550.1,143.7 L556.1,138.9 L562.0,134.3 L568.0,129.8 L573.9,125.4 L579.9,121.3 L585.8,117.2 L591.8,113.3 L597.7,109.6 L603.7,106.0 L609.6,102.5 L615.6,99.2 L621.5,96.1 L627.5,93.1 L633.4,90.2 L639.4,87.5 L645.3,85.0 L651.3,82.6 L657.2,80.3 L663.2,78.2 L669.1,76.3 L675.1,74.4"/><path d="M443.0,318.6 L449.0,311.1 L454.9,303.9 L460.9,296.7 L466.8,289.7 L472.8,282.9 L478.7,276.2 L484.7,269.7 L490.6,263.3 L496.6,257.1 L502.5,251.0 L508.5,245.1 L514.4,239.3 L520.4,233.7 L526.3,228.3 L532.3,222.9 L538.2,217.8 L544.2,212.8 L550.1,207.9 L556.1,203.2 L562.0,198.6 L568.0,194.2 L573.9,189.9 L579.9,185.8 L585.8,181.9 L591.8,178.1 L597.7,174.4 L603.7,170.9 L609.6,167.5 L615.6,164.3 L621.5,161.3 L627.5,158.4 L633.4,155.6 L639.4,153.0 L645.3,150.6 L651.3,148.3 L657.2,146.1 L663.2,144.1 L669.1,142.3 L675.1,140.6"/><path d="M443.0,186.2 L449.0,178.6 L454.9,171.1 L460.9,163.8 L466.8,156.7 L472.8,149.7 L478.7,142.8 L484.7,136.2 L490.6,129.6 L496.6,123.3 L502.5,117.1 L508.5,111.0 L514.4,105.2 L520.4,99.4 L526.3,93.9 L532.3,88.5 L538.2,83.2 L544.2,78.2 L550.1,73.2 L556.1,68.5 L562.0,63.9 L568.0,59.4 L573.9,55.1 L579.9,51.0 L585.8,47.0 L591.8,43.2 L597.7,39.6 L603.7,36.1 L609.6,32.8 L615.6,29.6 L621.5,26.6 L627.5,23.7 L633.4,21.0 L639.4,18.5 L645.3,16.1 L651.3,13.9 L657.2,11.9 L663.2,10.0 L669.1,8.2 L675.1,6.6"/><path d="M443.0,266.0 L449.0,258.7 L454.9,251.6 L460.9,244.6 L466.8,237.7 L472.8,231.0 L478.7,224.5 L484.7,218.0 L490.6,211.8 L496.6,205.7 L502.5,199.7 L508.5,193.9 L514.4,188.3 L520.4,182.8 L526.3,177.4 L532.3,172.2 L538.2,167.2 L544.2,162.3 L550.1,157.5 L556.1,152.9 L562.0,148.5 L568.0,144.2 L573.9,140.0 L579.9,136.0 L585.8,132.2 L591.8,128.5 L597.7,124.9 L603.7,121.5 L609.6,118.3 L615.6,115.2 L621.5,112.2 L627.5,109.4 L633.4,106.8 L639.4,104.3 L645.3,102.0 L651.3,99.8 L657.2,97.7 L663.2,95.8 L669.1,94.1 L675.1,92.5"/><path d="M443.0,300.2 L449.0,292.4 L454.9,284.8 L460.9,277.3 L466.8,269.9 L472.8,262.7 L478.7,255.6 L484.7,248.6 L490.6,241.8 L496.6,235.1 L502.5,228.5 L508.5,222.1 L514.4,215.8 L520.4,209.6 L526.3,203.6 L532.3,197.7 L538.2,192.0 L544.2,186.4 L550.1,180.9 L556.1,175.6 L562.0,170.4 L568.0,165.3 L573.9,160.4 L579.9,155.6 L585.8,151.0 L591.8,146.4 L597.7,142.1 L603.7,137.8 L609.6,133.7 L615.6,129.7 L621.5,125.9 L627.5,122.2 L633.4,118.6 L639.4,115.2 L645.3,111.9 L651.3,108.7 L657.2,105.7 L663.2,102.8 L669.1,100.1 L675.1,97.5"/><path d="M443.0,216.7 L449.0,209.2 L454.9,201.8 L460.9,194.6 L466.8,187.6 L472.8,180.7 L478.7,174.0 L484.7,167.4 L490.6,160.9 L496.6,154.7 L502.5,148.5 L508.5,142.5 L514.4,136.7 L520.4,131.0 L526.3,125.5 L532.3,120.1 L538.2,114.9 L544.2,109.8 L550.1,104.9 L556.1,100.1 L562.0,95.5 L568.0,91.0 L573.9,86.7 L579.9,82.5 L585.8,78.5 L591.8,74.6 L597.7,70.9 L603.7,67.4 L609.6,64.0 L615.6,60.7 L621.5,57.6 L627.5,54.6 L633.4,51.8 L639.4,49.2 L645.3,46.6 L651.3,44.3 L657.2,42.1 L663.2,40.0 L669.1,38.1 L675.1,36.4"/><path d="M443.0,209.6 L449.0,201.9 L454.9,194.5 L460.9,187.1 L466.8,179.9 L472.8,172.9 L478.7,166.0 L484.7,159.3 L490.6,152.7 L496.6,146.3 L502.5,140.0 L508.5,133.9 L514.4,128.0 L520.4,122.1 L526.3,116.5 L532.3,111.0 L538.2,105.6 L544.2,100.4 L550.1,95.4 L556.1,90.5 L562.0,85.7 L568.0,81.1 L573.9,76.7 L579.9,72.4 L585.8,68.2 L591.8,64.3 L597.7,60.4 L603.7,56.7 L609.6,53.2 L615.6,49.8 L621.5,46.6 L627.5,43.5 L633.4,40.6 L639.4,37.9 L645.3,35.2 L651.3,32.8 L657.2,30.5 L663.2,28.3 L669.1,26.3 L675.1,24.5"/><path d="M443.0,289.3 L449.0,281.9 L454.9,274.7 L460.9,267.6 L466.8,260.7 L472.8,253.9 L478.7,247.3 L484.7,240.8 L490.6,234.5 L496.6,228.4 L502.5,222.3 L508.5,216.5 L514.4,210.7 L520.4,205.2 L526.3,199.8 L532.3,194.5 L538.2,189.4 L544.2,184.4 L550.1,179.6 L556.1,174.9 L562.0,170.4 L568.0,166.0 L573.9,161.8 L579.9,157.7 L585.8,153.8 L591.8,150.0 L597.7,146.4 L603.7,142.9 L609.6,139.6 L615.6,136.4 L621.5,133.4 L627.5,130.5 L633.4,127.8 L639.4,125.2 L645.3,122.8 L651.3,120.5 L657.2,118.4 L663.2,116.4 L669.1,114.6 L675.1,112.9"/><path d="M443.0,184.2 L449.0,176.8 L454.9,169.5 L460.9,162.4 L466.8,155.4 L472.8,148.7 L478.7,142.0 L484.7,135.6 L490.6,129.3 L496.6,123.3 L502.5,117.3 L508.5,111.6 L514.4,106.0 L520.4,100.5 L526.3,95.3 L532.3,90.2 L538.2,85.3 L544.2,80.5 L550.1,75.9 L556.1,71.5 L562.0,67.3 L568.0,63.2 L573.9,59.3 L579.9,55.6 L585.8,52.0 L591.8,48.6 L597.7,45.4 L603.7,42.3 L609.6,39.4 L615.6,36.7 L621.5,34.1 L627.5,31.7 L633.4,29.5 L639.4,27.4 L645.3,25.6 L651.3,23.8 L657.2,22.3 L663.2,20.9 L669.1,19.7 L675.1,18.6"/><path d="M443.0,253.9 L449.0,246.4 L454.9,239.1 L460.9,231.9 L466.8,224.8 L472.8,217.9 L478.7,211.2 L484.7,204.6 L490.6,198.2 L496.6,191.9 L502.5,185.7 L508.5,179.8 L514.4,173.9 L520.4,168.2 L526.3,162.7 L532.3,157.3 L538.2,152.1 L544.2,147.0 L550.1,142.1 L556.1,137.3 L562.0,132.7 L568.0,128.2 L573.9,123.9 L579.9,119.7 L585.8,115.7 L591.8,111.9 L597.7,108.1 L603.7,104.6 L609.6,101.2 L615.6,97.9 L621.5,94.8 L627.5,91.8 L633.4,89.0 L639.4,86.4 L645.3,83.9 L651.3,81.5 L657.2,79.3 L663.2,77.3 L669.1,75.4 L675.1,73.6"/><path d="M443.0,249.8 L449.0,242.4 L454.9,235.2 L460.9,228.1 L466.8,221.2 L472.8,214.4 L478.7,207.8 L484.7,201.4 L490.6,195.1 L496.6,188.9 L502.5,182.9 L508.5,177.1 L514.4,171.4 L520.4,165.9 L526.3,160.5 L532.3,155.3 L538.2,150.2 L544.2,145.3 L550.1,140.5 L556.1,135.9 L562.0,131.4 L568.0,127.1 L573.9,123.0 L579.9,119.0 L585.8,115.1 L591.8,111.4 L597.7,107.9 L603.7,104.5 L609.6,101.3 L615.6,98.2 L621.5,95.3 L627.5,92.5 L633.4,89.9 L639.4,87.4 L645.3,85.1 L651.3,82.9 L657.2,80.9 L663.2,79.1 L669.1,77.4 L675.1,75.8"/><path d="M443.0,274.2 L449.0,266.6 L454.9,259.0 L460.9,251.7 L466.8,244.5 L472.8,237.4 L478.7,230.5 L484.7,223.8 L490.6,217.2 L496.6,210.8 L502.5,204.6 L508.5,198.4 L514.4,192.5 L520.4,186.7 L526.3,181.1 L532.3,175.6 L538.2,170.3 L544.2,165.1 L550.1,160.1 L556.1,155.2 L562.0,150.5 L568.0,146.0 L573.9,141.6 L579.9,137.4 L585.8,133.3 L591.8,129.4 L597.7,125.7 L603.7,122.1 L609.6,118.6 L615.6,115.4 L621.5,112.2 L627.5,109.3 L633.4,106.5 L639.4,103.8 L645.3,101.3 L651.3,99.0 L657.2,96.8 L663.2,94.7 L669.1,92.9 L675.1,91.2"/><path d="M443.0,243.9 L449.0,236.4 L454.9,229.1 L460.9,221.9 L466.8,214.9 L472.8,208.1 L478.7,201.4 L484.7,194.9 L490.6,188.5 L496.6,182.3 L502.5,176.3 L508.5,170.4 L514.4,164.7 L520.4,159.2 L526.3,153.8 L532.3,148.6 L538.2,143.5 L544.2,138.6 L550.1,133.9 L556.1,129.3 L562.0,124.9 L568.0,120.6 L573.9,116.5 L579.9,112.6 L585.8,108.8 L591.8,105.2 L597.7,101.8 L603.7,98.5 L609.6,95.4 L615.6,92.4 L621.5,89.6 L627.5,87.0 L633.4,84.5 L639.4,82.2 L645.3,80.1 L651.3,78.1 L657.2,76.3 L663.2,74.6 L669.1,73.1 L675.1,71.8"/><path d="M443.0,226.8 L449.0,219.1 L454.9,211.6 L460.9,204.2 L466.8,197.0 L472.8,190.0 L478.7,183.1 L484.7,176.3 L490.6,169.7 L496.6,163.3 L502.5,157.0 L508.5,150.9 L514.4,145.0 L520.4,139.2 L526.3,133.5 L532.3,128.0 L538.2,122.7 L544.2,117.5 L550.1,112.4 L556.1,107.6 L562.0,102.8 L568.0,98.3 L573.9,93.9 L579.9,89.6 L585.8,85.5 L591.8,81.6 L597.7,77.8 L603.7,74.1 L609.6,70.7 L615.6,67.3 L621.5,64.2 L627.5,61.2 L633.4,58.3 L639.4,55.6 L645.3,53.1 L651.3,50.7 L657.2,48.4 L663.2,46.3 L669.1,44.4 L675.1,42.6"/><path d="M443.0,223.3 L449.0,216.0 L454.9,208.8 L460.9,201.7 L466.8,194.8 L472.8,188.0 L478.7,181.4 L484.7,174.9 L490.6,168.6 L496.6,162.4 L502.5,156.4 L508.5,150.5 L514.4,144.7 L520.4,139.2 L526.3,133.7 L532.3,128.4 L538.2,123.3 L544.2,118.3 L550.1,113.5 L556.1,108.8 L562.0,104.3 L568.0,99.9 L573.9,95.6 L579.9,91.6 L585.8,87.6 L591.8,83.8 L597.7,80.2 L603.7,76.7 L609.6,73.4 L615.6,70.2 L621.5,67.1 L627.5,64.2 L633.4,61.5 L639.4,58.9 L645.3,56.4 L651.3,54.1 L657.2,52.0 L663.2,50.0 L669.1,48.1 L675.1,46.4"/><path d="M443.0,192.0 L449.0,184.6 L454.9,177.3 L460.9,170.2 L466.8,163.3 L472.8,156.5 L478.7,149.8 L484.7,143.3 L490.6,137.0 L496.6,130.8 L502.5,124.8 L508.5,118.9 L514.4,113.1 L520.4,107.6 L526.3,102.1 L532.3,96.8 L538.2,91.7 L544.2,86.7 L550.1,81.9 L556.1,77.2 L562.0,72.7 L568.0,68.3 L573.9,64.1 L579.9,60.0 L585.8,56.1 L591.8,52.4 L597.7,48.7 L603.7,45.3 L609.6,42.0 L615.6,38.8 L621.5,35.8 L627.5,32.9 L633.4,30.2 L639.4,27.7 L645.3,25.3 L651.3,23.0 L657.2,20.9 L663.2,19.0 L669.1,17.2 L675.1,15.5"/><path d="M443.0,215.3 L449.0,207.9 L454.9,200.7 L460.9,193.6 L466.8,186.6 L472.8,179.8 L478.7,173.2 L484.7,166.6 L490.6,160.2 L496.6,154.0 L502.5,147.9 L508.5,142.0 L514.4,136.1 L520.4,130.5 L526.3,125.0 L532.3,119.6 L538.2,114.3 L544.2,109.2 L550.1,104.3 L556.1,99.5 L562.0,94.8 L568.0,90.3 L573.9,85.9 L579.9,81.7 L585.8,77.6 L591.8,73.6 L597.7,69.8 L603.7,66.2 L609.6,62.7 L615.6,59.3 L621.5,56.0 L627.5,53.0 L633.4,50.0 L639.4,47.2 L645.3,44.5 L651.3,42.0 L657.2,39.7 L663.2,37.4 L669.1,35.3 L675.1,33.4"/><path d="M443.0,201.2 L449.0,193.7 L454.9,186.3 L460.9,179.1 L466.8,172.0 L472.8,165.0 L478.7,158.1 L484.7,151.4 L490.6,144.9 L496.6,138.4 L502.5,132.1 L508.5,125.9 L514.4,119.9 L520.4,114.0 L526.3,108.2 L532.3,102.6 L538.2,97.1 L544.2,91.7 L550.1,86.5 L556.1,81.4 L562.0,76.4 L568.0,71.6 L573.9,66.9 L579.9,62.3 L585.8,57.9 L591.8,53.6 L597.7,49.5 L603.7,45.4 L609.6,41.5 L615.6,37.8 L621.5,34.2 L627.5,30.7 L633.4,27.3 L639.4,24.1 L645.3,21.0 L651.3,18.1 L657.2,15.2 L663.2,12.6 L669.1,10.0 L675.1,7.6"/><path d="M443.0,243.0 L449.0,235.6 L454.9,228.3 L460.9,221.2 L466.8,214.2 L472.8,207.4 L478.7,200.7 L484.7,194.1 L490.6,187.7 L496.6,181.4 L502.5,175.3 L508.5,169.3 L514.4,163.4 L520.4,157.7 L526.3,152.1 L532.3,146.6 L538.2,141.3 L544.2,136.1 L550.1,131.0 L556.1,126.1 L562.0,121.4 L568.0,116.7 L573.9,112.2 L579.9,107.9 L585.8,103.6 L591.8,99.6 L597.7,95.6 L603.7,91.8 L609.6,88.1 L615.6,84.6 L621.5,81.2 L627.5,77.9 L633.4,74.8 L639.4,71.8 L645.3,69.0 L651.3,66.2 L657.2,63.7 L663.2,61.2 L669.1,58.9 L675.1,56.8"/><path d="M443.0,232.7 L449.0,225.4 L454.9,218.2 L460.9,211.2 L466.8,204.3 L472.8,197.6 L478.7,191.0 L484.7,184.6 L490.6,178.3 L496.6,172.1 L502.5,166.1 L508.5,160.3 L514.4,154.6 L520.4,149.0 L526.3,143.6 L532.3,138.4 L538.2,133.3 L544.2,128.3 L550.1,123.5 L556.1,118.8 L562.0,114.3 L568.0,109.9 L573.9,105.7 L579.9,101.6 L585.8,97.7 L591.8,93.9 L597.7,90.2 L603.7,86.7 L609.6,83.4 L615.6,80.2 L621.5,77.1 L627.5,74.2 L633.4,71.4 L639.4,68.8 L645.3,66.3 L651.3,64.0 L657.2,61.8 L663.2,59.8 L669.1,57.9 L675.1,56.2"/><path d="M443.0,270.0 L449.0,262.6 L454.9,255.3 L460.9,248.1 L466.8,241.1 L472.8,234.2 L478.7,227.5 L484.7,221.0 L490.6,214.5 L496.6,208.3 L502.5,202.1 L508.5,196.2 L514.4,190.4 L520.4,184.7 L526.3,179.2 L532.3,173.8 L538.2,168.5 L544.2,163.5 L550.1,158.5 L556.1,153.7 L562.0,149.1 L568.0,144.6 L573.9,140.3 L579.9,136.1 L585.8,132.0 L591.8,128.1 L597.7,124.4 L603.7,120.8 L609.6,117.3 L615.6,114.0 L621.5,110.9 L627.5,107.9 L633.4,105.0 L639.4,102.3 L645.3,99.8 L651.3,97.3 L657.2,95.1 L663.2,93.0 L669.1,91.0 L675.1,89.2"/><path d="M443.0,213.8 L449.0,206.1 L454.9,198.6 L460.9,191.2 L466.8,184.1 L472.8,177.0 L478.7,170.2 L484.7,163.5 L490.6,157.0 L496.6,150.7 L502.5,144.5 L508.5,138.6 L514.4,132.7 L520.4,127.1 L526.3,121.6 L532.3,116.3 L538.2,111.1 L544.2,106.2 L550.1,101.4 L556.1,96.7 L562.0,92.2 L568.0,88.0 L573.9,83.8 L579.9,79.9 L585.8,76.1 L591.8,72.5 L597.7,69.0 L603.7,65.7 L609.6,62.6 L615.6,59.7 L621.5,56.9 L627.5,54.3 L633.4,51.9 L639.4,49.6 L645.3,47.5 L651.3,45.6 L657.2,43.8 L663.2,42.2 L669.1,40.8 L675.1,39.6"/><path d="M443.0,297.1 L449.0,289.5 L454.9,282.0 L460.9,274.7 L466.8,267.6 L472.8,260.5 L478.7,253.7 L484.7,247.0 L490.6,240.4 L496.6,234.0 L502.5,227.8 L508.5,221.7 L514.4,215.7 L520.4,210.0 L526.3,204.3 L532.3,198.8 L538.2,193.5 L544.2,188.3 L550.1,183.3 L556.1,178.5 L562.0,173.8 L568.0,169.2 L573.9,164.8 L579.9,160.5 L585.8,156.5 L591.8,152.5 L597.7,148.7 L603.7,145.1 L609.6,141.6 L615.6,138.3 L621.5,135.1 L627.5,132.1 L633.4,129.2 L639.4,126.5 L645.3,124.0 L651.3,121.5 L657.2,119.3 L663.2,117.2 L669.1,115.3 L675.1,113.5"/><path d="M443.0,257.0 L449.0,249.7 L454.9,242.5 L460.9,235.4 L466.8,228.5 L472.8,221.8 L478.7,215.3 L484.7,208.8 L490.6,202.6 L496.6,196.5 L502.5,190.6 L508.5,184.8 L514.4,179.2 L520.4,173.8 L526.3,168.5 L532.3,163.3 L538.2,158.4 L544.2,153.5 L550.1,148.9 L556.1,144.4 L562.0,140.1 L568.0,135.9 L573.9,131.9 L579.9,128.0 L585.8,124.3 L591.8,120.8 L597.7,117.4 L603.7,114.1 L609.6,111.1 L615.6,108.2 L621.5,105.4 L627.5,102.8 L633.4,100.4 L639.4,98.1 L645.3,96.0 L651.3,94.1 L657.2,92.3 L663.2,90.6 L669.1,89.2 L675.1,87.9"/><path d="M443.0,288.3 L449.0,280.8 L454.9,273.4 L460.9,266.2 L466.8,259.1 L472.8,252.1 L478.7,245.3 L484.7,238.6 L490.6,232.1 L496.6,225.7 L502.5,219.5 L508.5,213.4 L514.4,207.5 L520.4,201.6 L526.3,196.0 L532.3,190.5 L538.2,185.1 L544.2,179.9 L550.1,174.8 L556.1,169.9 L562.0,165.1 L568.0,160.4 L573.9,155.9 L579.9,151.5 L585.8,147.3 L591.8,143.2 L597.7,139.3 L603.7,135.5 L609.6,131.9 L615.6,128.4 L621.5,125.0 L627.5,121.8 L633.4,118.7 L639.4,115.8 L645.3,113.0 L651.3,110.4 L657.2,107.9 L663.2,105.6 L669.1,103.4 L675.1,101.3"/><path d="M443.0,215.3 L449.0,207.8 L454.9,200.5 L460.9,193.3 L466.8,186.3 L472.8,179.4 L478.7,172.7 L484.7,166.1 L490.6,159.7 L496.6,153.4 L502.5,147.3 L508.5,141.4 L514.4,135.6 L520.4,129.9 L526.3,124.4 L532.3,119.1 L538.2,113.9 L544.2,108.8 L550.1,104.0 L556.1,99.2 L562.0,94.6 L568.0,90.2 L573.9,85.9 L579.9,81.8 L585.8,77.8 L591.8,74.0 L597.7,70.3 L603.7,66.8 L609.6,63.5 L615.6,60.3 L621.5,57.2 L627.5,54.3 L633.4,51.6 L639.4,49.0 L645.3,46.5 L651.3,44.2 L657.2,42.1 L663.2,40.1 L669.1,38.3 L675.1,36.6"/><path d="M443.0,291.8 L449.0,284.4 L454.9,277.1 L460.9,270.0 L466.8,263.0 L472.8,256.2 L478.7,249.6 L484.7,243.0 L490.6,236.7 L496.6,230.5 L502.5,224.4 L508.5,218.6 L514.4,212.8 L520.4,207.2 L526.3,201.8 L532.3,196.5 L538.2,191.4 L544.2,186.4 L550.1,181.6 L556.1,177.0 L562.0,172.4 L568.0,168.1 L573.9,163.9 L579.9,159.8 L585.8,155.9 L591.8,152.2 L597.7,148.6 L603.7,145.2 L609.6,141.9 L615.6,138.8 L621.5,135.8 L627.5,133.0 L633.4,130.3 L639.4,127.8 L645.3,125.5 L651.3,123.3 L657.2,121.2 L663.2,119.3 L669.1,117.6 L675.1,116.0"/><path d="M443.0,203.5 L449.0,196.2 L454.9,189.0 L460.9,182.0 L466.8,175.1 L472.8,168.4 L478.7,161.8 L484.7,155.3 L490.6,149.0 L496.6,142.8 L502.5,136.8 L508.5,131.0 L514.4,125.2 L520.4,119.6 L526.3,114.2 L532.3,108.9 L538.2,103.7 L544.2,98.7 L550.1,93.8 L556.1,89.1 L562.0,84.5 L568.0,80.1 L573.9,75.8 L579.9,71.7 L585.8,67.7 L591.8,63.8 L597.7,60.1 L603.7,56.5 L609.6,53.1 L615.6,49.8 L621.5,46.6 L627.5,43.6 L633.4,40.8 L639.4,38.1 L645.3,35.5 L651.3,33.1 L657.2,30.8 L663.2,28.7 L669.1,26.7 L675.1,24.8"/><path d="M443.0,223.3 L449.0,215.9 L454.9,208.7 L460.9,201.7 L466.8,194.8 L472.8,188.1 L478.7,181.5 L484.7,175.0 L490.6,168.7 L496.6,162.6 L502.5,156.6 L508.5,150.7 L514.4,145.0 L520.4,139.5 L526.3,134.0 L532.3,128.8 L538.2,123.7 L544.2,118.7 L550.1,113.9 L556.1,109.3 L562.0,104.8 L568.0,100.4 L573.9,96.2 L579.9,92.1 L585.8,88.2 L591.8,84.4 L597.7,80.8 L603.7,77.4 L609.6,74.0 L615.6,70.9 L621.5,67.9 L627.5,65.0 L633.4,62.3 L639.4,59.7 L645.3,57.3 L651.3,55.0 L657.2,52.9 L663.2,50.9 L669.1,49.1 L675.1,47.4"/><path d="M443.0,223.0 L449.0,215.2 L454.9,207.6 L460.9,200.1 L466.8,192.8 L472.8,185.6 L478.7,178.6 L484.7,171.7 L490.6,165.0 L496.6,158.4 L502.5,151.9 L508.5,145.6 L514.4,139.5 L520.4,133.5 L526.3,127.7 L532.3,122.0 L538.2,116.4 L544.2,111.0 L550.1,105.8 L556.1,100.7 L562.0,95.7 L568.0,90.9 L573.9,86.3 L579.9,81.8 L585.8,77.4 L591.8,73.2 L597.7,69.2 L603.7,65.3 L609.6,61.5 L615.6,57.9 L621.5,54.5 L627.5,51.2 L633.4,48.0 L639.4,45.0 L645.3,42.1 L651.3,39.4 L657.2,36.9 L663.2,34.4 L669.1,32.2 L675.1,30.1"/><path d="M443.0,238.8 L449.0,231.4 L454.9,224.2 L460.9,217.1 L466.8,210.2 L472.8,203.4 L478.7,196.8 L484.7,190.3 L490.6,184.0 L496.6,177.9 L502.5,171.9 L508.5,166.1 L514.4,160.4 L520.4,154.9 L526.3,149.5 L532.3,144.3 L538.2,139.2 L544.2,134.3 L550.1,129.6 L556.1,125.0 L562.0,120.5 L568.0,116.2 L573.9,112.1 L579.9,108.1 L585.8,104.3 L591.8,100.6 L597.7,97.1 L603.7,93.8 L609.6,90.6 L615.6,87.5 L621.5,84.6 L627.5,81.9 L633.4,79.3 L639.4,76.9 L645.3,74.6 L651.3,72.5 L657.2,70.5 L663.2,68.7 L669.1,67.0 L675.1,65.5"/><path d="M443.0,228.0 L449.0,220.5 L454.9,213.2 L460.9,206.0 L466.8,199.0 L472.8,192.1 L478.7,185.4 L484.7,178.8 L490.6,172.4 L496.6,166.2 L502.5,160.1 L508.5,154.1 L514.4,148.3 L520.4,142.7 L526.3,137.2 L532.3,131.9 L538.2,126.7 L544.2,121.6 L550.1,116.8 L556.1,112.1 L562.0,107.5 L568.0,103.1 L573.9,98.8 L579.9,94.7 L585.8,90.8 L591.8,87.0 L597.7,83.4 L603.7,79.9 L609.6,76.5 L615.6,73.4 L621.5,70.3 L627.5,67.5 L633.4,64.8 L639.4,62.2 L645.3,59.8 L651.3,57.5 L657.2,55.4 L663.2,53.5 L669.1,51.7 L675.1,50.1"/><path d="M443.0,203.0 L449.0,195.9 L454.9,188.9 L460.9,182.1 L466.8,175.4 L472.8,168.9 L478.7,162.5 L484.7,156.3 L490.6,150.2 L496.6,144.2 L502.5,138.5 L508.5,132.8 L514.4,127.3 L520.4,122.0 L526.3,116.8 L532.3,111.8 L538.2,106.9 L544.2,102.1 L550.1,97.5 L556.1,93.1 L562.0,88.8 L568.0,84.6 L573.9,80.6 L579.9,76.8 L585.8,73.1 L591.8,69.5 L597.7,66.1 L603.7,62.9 L609.6,59.8 L615.6,56.8 L621.5,54.0 L627.5,51.3 L633.4,48.8 L639.4,46.5 L645.3,44.3 L651.3,42.2 L657.2,40.3 L663.2,38.5 L669.1,36.9 L675.1,35.4"/><path d="M443.0,250.3 L449.0,242.9 L454.9,235.6 L460.9,228.5 L466.8,221.5 L472.8,214.6 L478.7,208.0 L484.7,201.4 L490.6,195.0 L496.6,188.8 L502.5,182.7 L508.5,176.8 L514.4,171.0 L520.4,165.3 L526.3,159.8 L532.3,154.5 L538.2,149.3 L544.2,144.3 L550.1,139.4 L556.1,134.6 L562.0,130.0 L568.0,125.6 L573.9,121.3 L579.9,117.2 L585.8,113.2 L591.8,109.3 L597.7,105.6 L603.7,102.1 L609.6,98.7 L615.6,95.5 L621.5,92.4 L627.5,89.4 L633.4,86.6 L639.4,84.0 L645.3,81.5 L651.3,79.1 L657.2,77.0 L663.2,74.9 L669.1,73.0 L675.1,71.3"/><path d="M443.0,199.4 L449.0,192.0 L454.9,184.8 L460.9,177.8 L466.8,170.9 L472.8,164.3 L478.7,157.7 L484.7,151.4 L490.6,145.2 L496.6,139.2 L502.5,133.3 L508.5,127.6 L514.4,122.1 L520.4,116.8 L526.3,111.6 L532.3,106.6 L538.2,101.7 L544.2,97.1 L550.1,92.6 L556.1,88.2 L562.0,84.1 L568.0,80.0 L573.9,76.2 L579.9,72.5 L585.8,69.0 L591.8,65.7 L597.7,62.5 L603.7,59.5 L609.6,56.7 L615.6,54.0 L621.5,51.5 L627.5,49.2 L633.4,47.1 L639.4,45.1 L645.3,43.2 L651.3,41.6 L657.2,40.1 L663.2,38.8 L669.1,37.6 L675.1,36.6"/><path d="M443.0,201.3 L449.0,194.0 L454.9,186.8 L460.9,179.8 L466.8,172.9 L472.8,166.2 L478.7,159.7 L484.7,153.2 L490.6,147.0 L496.6,140.9 L502.5,134.9 L508.5,129.0 L514.4,123.4 L520.4,117.8 L526.3,112.4 L532.3,107.2 L538.2,102.1 L544.2,97.1 L550.1,92.3 L556.1,87.7 L562.0,83.2 L568.0,78.8 L573.9,74.6 L579.9,70.5 L585.8,66.6 L591.8,62.8 L597.7,59.2 L603.7,55.7 L609.6,52.4 L615.6,49.2 L621.5,46.1 L627.5,43.2 L633.4,40.5 L639.4,37.9 L645.3,35.4 L651.3,33.1 L657.2,31.0 L663.2,28.9 L669.1,27.1 L675.1,25.4"/><path d="M443.0,256.1 L449.0,248.7 L454.9,241.4 L460.9,234.3 L466.8,227.3 L472.8,220.5 L478.7,213.8 L484.7,207.3 L490.6,200.9 L496.6,194.7 L502.5,188.6 L508.5,182.7 L514.4,177.0 L520.4,171.4 L526.3,165.9 L532.3,160.6 L538.2,155.5 L544.2,150.5 L550.1,145.7 L556.1,141.0 L562.0,136.4 L568.0,132.1 L573.9,127.8 L579.9,123.7 L585.8,119.8 L591.8,116.1 L597.7,112.4 L603.7,109.0 L609.6,105.6 L615.6,102.5 L621.5,99.5 L627.5,96.6 L633.4,93.9 L639.4,91.4 L645.3,89.0 L651.3,86.7 L657.2,84.6 L663.2,82.7 L669.1,80.9 L675.1,79.2"/><path d="M443.0,246.2 L449.0,238.7 L454.9,231.3 L460.9,224.1 L466.8,217.1 L472.8,210.2 L478.7,203.4 L484.7,196.8 L490.6,190.4 L496.6,184.1 L502.5,177.9 L508.5,171.9 L514.4,166.1 L520.4,160.4 L526.3,154.9 L532.3,149.5 L538.2,144.2 L544.2,139.1 L550.1,134.2 L556.1,129.4 L562.0,124.8 L568.0,120.3 L573.9,116.0 L579.9,111.8 L585.8,107.7 L591.8,103.9 L597.7,100.1 L603.7,96.5 L609.6,93.1 L615.6,89.8 L621.5,86.7 L627.5,83.7 L633.4,80.9 L639.4,78.2 L645.3,75.7 L651.3,73.3 L657.2,71.1 L663.2,69.0 L669.1,67.1 L675.1,65.4"/><path d="M443.0,231.0 L449.0,223.6 L454.9,216.3 L460.9,209.2 L466.8,202.2 L472.8,195.3 L478.7,188.6 L484.7,182.1 L490.6,175.7 L496.6,169.4 L502.5,163.3 L508.5,157.4 L514.4,151.5 L520.4,145.9 L526.3,140.3 L532.3,135.0 L538.2,129.7 L544.2,124.6 L550.1,119.7 L556.1,114.9 L562.0,110.2 L568.0,105.7 L573.9,101.3 L579.9,97.1 L585.8,93.0 L591.8,89.1 L597.7,85.3 L603.7,81.7 L609.6,78.2 L615.6,74.8 L621.5,71.6 L627.5,68.6 L633.4,65.7 L639.4,62.9 L645.3,60.3 L651.3,57.8 L657.2,55.5 L663.2,53.3 L669.1,51.2 L675.1,49.4"/><path d="M443.0,250.9 L449.0,243.7 L454.9,236.7 L460.9,229.8 L466.8,223.1 L472.8,216.6 L478.7,210.2 L484.7,203.9 L490.6,197.8 L496.6,191.9 L502.5,186.1 L508.5,180.4 L514.4,174.9 L520.4,169.6 L526.3,164.4 L532.3,159.4 L538.2,154.6 L544.2,149.8 L550.1,145.3 L556.1,140.9 L562.0,136.6 L568.0,132.5 L573.9,128.6 L579.9,124.8 L585.8,121.2 L591.8,117.7 L597.7,114.4 L603.7,111.2 L609.6,108.2 L615.6,105.3 L621.5,102.6 L627.5,100.1 L633.4,97.7 L639.4,95.4 L645.3,93.3 L651.3,91.4 L657.2,89.6 L663.2,88.0 L669.1,86.5 L675.1,85.2"/><path d="M443.0,241.7 L449.0,234.3 L454.9,227.1 L460.9,220.0 L466.8,213.1 L472.8,206.4 L478.7,199.8 L484.7,193.4 L490.6,187.1 L496.6,181.0 L502.5,175.0 L508.5,169.2 L514.4,163.5 L520.4,158.0 L526.3,152.6 L532.3,147.4 L538.2,142.4 L544.2,137.5 L550.1,132.7 L556.1,128.1 L562.0,123.7 L568.0,119.4 L573.9,115.3 L579.9,111.3 L585.8,107.5 L591.8,103.8 L597.7,100.3 L603.7,96.9 L609.6,93.7 L615.6,90.7 L621.5,87.8 L627.5,85.0 L633.4,82.5 L639.4,80.0 L645.3,77.7 L651.3,75.6 L657.2,73.6 L663.2,71.8 L669.1,70.2 L675.1,68.6"/><path d="M443.0,270.3 L449.0,262.5 L454.9,254.8 L460.9,247.3 L466.8,239.9 L472.8,232.6 L478.7,225.5 L484.7,218.5 L490.6,211.7 L496.6,205.0 L502.5,198.5 L508.5,192.1 L514.4,185.8 L520.4,179.7 L526.3,173.8 L532.3,167.9 L538.2,162.2 L544.2,156.7 L550.1,151.3 L556.1,146.1 L562.0,141.0 L568.0,136.0 L573.9,131.2 L579.9,126.5 L585.8,122.0 L591.8,117.6 L597.7,113.3 L603.7,109.2 L609.6,105.2 L615.6,101.4 L621.5,97.7 L627.5,94.2 L633.4,90.8 L639.4,87.6 L645.3,84.5 L651.3,81.5 L657.2,78.7 L663.2,76.0 L669.1,73.5 L675.1,71.1"/><path d="M443.0,214.6 L449.0,207.2 L454.9,200.0 L460.9,192.9 L466.8,185.9 L472.8,179.1 L478.7,172.4 L484.7,165.9 L490.6,159.5 L496.6,153.3 L502.5,147.2 L508.5,141.2 L514.4,135.4 L520.4,129.8 L526.3,124.2 L532.3,118.9 L538.2,113.6 L544.2,108.5 L550.1,103.6 L556.1,98.8 L562.0,94.2 L568.0,89.6 L573.9,85.3 L579.9,81.1 L585.8,77.0 L591.8,73.0 L597.7,69.3 L603.7,65.6 L609.6,62.1 L615.6,58.7 L621.5,55.5 L627.5,52.5 L633.4,49.5 L639.4,46.8 L645.3,44.1 L651.3,41.6 L657.2,39.3 L663.2,37.1 L669.1,35.0 L675.1,33.1"/><path d="M443.0,265.5 L449.0,257.9 L454.9,250.4 L460.9,243.1 L466.8,236.0 L472.8,229.0 L478.7,222.1 L484.7,215.4 L490.6,208.8 L496.6,202.4 L502.5,196.1 L508.5,189.9 L514.4,183.9 L520.4,178.1 L526.3,172.4 L532.3,166.8 L538.2,161.4 L544.2,156.1 L550.1,151.0 L556.1,146.0 L562.0,141.2 L568.0,136.5 L573.9,132.0 L579.9,127.6 L585.8,123.3 L591.8,119.2 L597.7,115.2 L603.7,111.4 L609.6,107.7 L615.6,104.2 L621.5,100.8 L627.5,97.6 L633.4,94.5 L639.4,91.6 L645.3,88.7 L651.3,86.1 L657.2,83.6 L663.2,81.2 L669.1,79.0 L675.1,76.9"/><path d="M443.0,251.3 L449.0,244.0 L454.9,236.9 L460.9,230.0 L466.8,223.2 L472.8,216.6 L478.7,210.1 L484.7,203.8 L490.6,197.7 L496.6,191.7 L502.5,185.8 L508.5,180.1 L514.4,174.6 L520.4,169.2 L526.3,164.0 L532.3,159.0 L538.2,154.1 L544.2,149.3 L550.1,144.8 L556.1,140.3 L562.0,136.1 L568.0,132.0 L573.9,128.0 L579.9,124.2 L585.8,120.6 L591.8,117.1 L597.7,113.8 L603.7,110.6 L609.6,107.6 L615.6,104.8 L621.5,102.1 L627.5,99.5 L633.4,97.2 L639.4,94.9 L645.3,92.9 L651.3,91.0 L657.2,89.2 L663.2,87.6 L669.1,86.2 L675.1,84.9"/><path d="M443.0,195.8 L449.0,188.4 L454.9,181.2 L460.9,174.1 L466.8,167.2 L472.8,160.4 L478.7,153.8 L484.7,147.3 L490.6,141.0 L496.6,134.8 L502.5,128.7 L508.5,122.9 L514.4,117.1 L520.4,111.5 L526.3,106.1 L532.3,100.8 L538.2,95.6 L544.2,90.6 L550.1,85.8 L556.1,81.1 L562.0,76.5 L568.0,72.1 L573.9,67.9 L579.9,63.8 L585.8,59.8 L591.8,56.0 L597.7,52.3 L603.7,48.8 L609.6,45.4 L615.6,42.2 L621.5,39.1 L627.5,36.2 L633.4,33.4 L639.4,30.8 L645.3,28.3 L651.3,26.0 L657.2,23.8 L663.2,21.8 L669.1,19.9 L675.1,18.1"/><path d="M443.0,215.5 L449.0,208.2 L454.9,201.1 L460.9,194.1 L466.8,187.3 L472.8,180.6 L478.7,174.0 L484.7,167.6 L490.6,161.3 L496.6,155.2 L502.5,149.3 L508.5,143.4 L514.4,137.7 L520.4,132.2 L526.3,126.8 L532.3,121.6 L538.2,116.5 L544.2,111.5 L550.1,106.7 L556.1,102.0 L562.0,97.5 L568.0,93.1 L573.9,88.9 L579.9,84.8 L585.8,80.8 L591.8,77.1 L597.7,73.4 L603.7,69.9 L609.6,66.5 L615.6,63.3 L621.5,60.2 L627.5,57.3 L633.4,54.5 L639.4,51.9 L645.3,49.4 L651.3,47.1 L657.2,44.9 L663.2,42.8 L669.1,40.9 L675.1,39.1"/><path d="M443.0,204.3 L449.0,196.8 L454.9,189.4 L460.9,182.3 L466.8,175.3 L472.8,168.4 L478.7,161.7 L484.7,155.2 L490.6,148.9 L496.6,142.7 L502.5,136.7 L508.5,130.8 L514.4,125.1 L520.4,119.6 L526.3,114.3 L532.3,109.1 L538.2,104.0 L544.2,99.2 L550.1,94.5 L556.1,89.9 L562.0,85.5 L568.0,81.3 L573.9,77.3 L579.9,73.4 L585.8,69.7 L591.8,66.1 L597.7,62.8 L603.7,59.5 L609.6,56.5 L615.6,53.6 L621.5,50.8 L627.5,48.3 L633.4,45.9 L639.4,43.6 L645.3,41.6 L651.3,39.6 L657.2,37.9 L663.2,36.3 L669.1,34.9 L675.1,33.7"/><path d="M443.0,329.8 L449.0,322.4 L454.9,315.1 L460.9,307.9 L466.8,301.0 L472.8,294.1 L478.7,287.5 L484.7,280.9 L490.6,274.6 L496.6,268.4 L502.5,262.3 L508.5,256.4 L514.4,250.7 L520.4,245.1 L526.3,239.6 L532.3,234.3 L538.2,229.2 L544.2,224.2 L550.1,219.4 L556.1,214.7 L562.0,210.2 L568.0,205.8 L573.9,201.6 L579.9,197.5 L585.8,193.6 L591.8,189.9 L597.7,186.3 L603.7,182.8 L609.6,179.5 L615.6,176.4 L621.5,173.4 L627.5,170.6 L633.4,167.9 L639.4,165.4 L645.3,163.0 L651.3,160.8 L657.2,158.7 L663.2,156.8 L669.1,155.1 L675.1,153.5"/><path d="M443.0,260.8 L449.0,253.4 L454.9,246.1 L460.9,239.0 L466.8,232.0 L472.8,225.1 L478.7,218.4 L484.7,211.9 L490.6,205.4 L496.6,199.2 L502.5,193.0 L508.5,187.1 L514.4,181.2 L520.4,175.5 L526.3,169.9 L532.3,164.5 L538.2,159.3 L544.2,154.1 L550.1,149.1 L556.1,144.3 L562.0,139.6 L568.0,135.0 L573.9,130.6 L579.9,126.4 L585.8,122.2 L591.8,118.2 L597.7,114.4 L603.7,110.7 L609.6,107.1 L615.6,103.7 L621.5,100.5 L627.5,97.3 L633.4,94.4 L639.4,91.5 L645.3,88.8 L651.3,86.3 L657.2,83.8 L663.2,81.6 L669.1,79.5 L675.1,77.5"/><path d="M443.0,240.3 L449.0,232.9 L454.9,225.7 L460.9,218.6 L466.8,211.7 L472.8,205.0 L478.7,198.3 L484.7,191.9 L490.6,185.6 L496.6,179.4 L502.5,173.4 L508.5,167.6 L514.4,161.8 L520.4,156.3 L526.3,150.9 L532.3,145.6 L538.2,140.5 L544.2,135.6 L550.1,130.8 L556.1,126.1 L562.0,121.6 L568.0,117.3 L573.9,113.1 L579.9,109.0 L585.8,105.2 L591.8,101.4 L597.7,97.8 L603.7,94.4 L609.6,91.1 L615.6,87.9 L621.5,85.0 L627.5,82.1 L633.4,79.4 L639.4,76.9 L645.3,74.5 L651.3,72.3 L657.2,70.2 L663.2,68.3 L669.1,66.5 L675.1,64.8"/><path d="M443.0,215.3 L449.0,207.9 L454.9,200.7 L460.9,193.7 L466.8,186.7 L472.8,180.0 L478.7,173.3 L484.7,166.8 L490.6,160.5 L496.6,154.3 L502.5,148.3 L508.5,142.4 L514.4,136.6 L520.4,131.0 L526.3,125.5 L532.3,120.2 L538.2,115.0 L544.2,110.0 L550.1,105.1 L556.1,100.4 L562.0,95.8 L568.0,91.3 L573.9,87.0 L579.9,82.9 L585.8,78.9 L591.8,75.0 L597.7,71.3 L603.7,67.7 L609.6,64.3 L615.6,61.0 L621.5,57.9 L627.5,54.9 L633.4,52.0 L639.4,49.3 L645.3,46.8 L651.3,44.4 L657.2,42.1 L663.2,40.0 L669.1,38.0 L675.1,36.2"/><path d="M443.0,254.9 L449.0,247.2 L454.9,239.6 L460.9,232.1 L466.8,224.8 L472.8,217.6 L478.7,210.5 L484.7,203.6 L490.6,196.8 L496.6,190.1 L502.5,183.6 L508.5,177.2 L514.4,170.9 L520.4,164.8 L526.3,158.8 L532.3,152.9 L538.2,147.2 L544.2,141.6 L550.1,136.2 L556.1,130.8 L562.0,125.6 L568.0,120.6 L573.9,115.6 L579.9,110.9 L585.8,106.2 L591.8,101.7 L597.7,97.3 L603.7,93.0 L609.6,88.9 L615.6,84.9 L621.5,81.1 L627.5,77.4 L633.4,73.8 L639.4,70.3 L645.3,67.0 L651.3,63.8 L657.2,60.8 L663.2,57.9 L669.1,55.1 L675.1,52.4"/><path d="M443.0,242.9 L449.0,235.0 L454.9,227.3 L460.9,219.8 L466.8,212.4 L472.8,205.1 L478.7,198.0 L484.7,191.0 L490.6,184.2 L496.6,177.5 L502.5,171.0 L508.5,164.6 L514.4,158.4 L520.4,152.3 L526.3,146.3 L532.3,140.5 L538.2,134.9 L544.2,129.4 L550.1,124.0 L556.1,118.8 L562.0,113.7 L568.0,108.8 L573.9,104.0 L579.9,99.3 L585.8,94.9 L591.8,90.5 L597.7,86.3 L603.7,82.3 L609.6,78.4 L615.6,74.6 L621.5,71.0 L627.5,67.5 L633.4,64.2 L639.4,61.0 L645.3,58.0 L651.3,55.1 L657.2,52.3 L663.2,49.7 L669.1,47.3 L675.1,45.0"/><path d="M443.0,216.7 L449.0,209.3 L454.9,202.0 L460.9,194.8 L466.8,187.8 L472.8,181.0 L478.7,174.3 L484.7,167.8 L490.6,161.5 L496.6,155.2 L502.5,149.2 L508.5,143.3 L514.4,137.6 L520.4,132.0 L526.3,126.6 L532.3,121.3 L538.2,116.2 L544.2,111.2 L550.1,106.4 L556.1,101.8 L562.0,97.3 L568.0,92.9 L573.9,88.8 L579.9,84.7 L585.8,80.9 L591.8,77.2 L597.7,73.6 L603.7,70.2 L609.6,67.0 L615.6,63.9 L621.5,61.0 L627.5,58.2 L633.4,55.6 L639.4,53.1 L645.3,50.8 L651.3,48.7 L657.2,46.7 L663.2,44.8 L669.1,43.2 L675.1,41.6"/><path d="M443.0,213.5 L449.0,206.0 L454.9,198.7 L460.9,191.6 L466.8,184.7 L472.8,177.9 L478.7,171.3 L484.7,164.8 L490.6,158.5 L496.6,152.3 L502.5,146.3 L508.5,140.5 L514.4,134.9 L520.4,129.4 L526.3,124.0 L532.3,118.8 L538.2,113.8 L544.2,109.0 L550.1,104.3 L556.1,99.7 L562.0,95.4 L568.0,91.1 L573.9,87.1 L579.9,83.2 L585.8,79.5 L591.8,75.9 L597.7,72.5 L603.7,69.3 L609.6,66.2 L615.6,63.2 L621.5,60.5 L627.5,57.9 L633.4,55.4 L639.4,53.2 L645.3,51.1 L651.3,49.1 L657.2,47.3 L663.2,45.7 L669.1,44.2 L675.1,42.9"/><path d="M443.0,292.8 L449.0,285.4 L454.9,278.1 L460.9,270.9 L466.8,263.9 L472.8,257.1 L478.7,250.4 L484.7,243.8 L490.6,237.4 L496.6,231.1 L502.5,225.0 L508.5,219.0 L514.4,213.2 L520.4,207.5 L526.3,201.9 L532.3,196.5 L538.2,191.2 L544.2,186.1 L550.1,181.1 L556.1,176.3 L562.0,171.6 L568.0,167.0 L573.9,162.6 L579.9,158.4 L585.8,154.2 L591.8,150.3 L597.7,146.4 L603.7,142.8 L609.6,139.2 L615.6,135.8 L621.5,132.6 L627.5,129.4 L633.4,126.5 L639.4,123.7 L645.3,121.0 L651.3,118.4 L657.2,116.0 L663.2,113.8 L669.1,111.7 L675.1,109.7"/><path d="M443.0,244.1 L449.0,236.6 L454.9,229.2 L460.9,222.0 L466.8,214.9 L472.8,208.0 L478.7,201.2 L484.7,194.6 L490.6,188.1 L496.6,181.8 L502.5,175.6 L508.5,169.6 L514.4,163.7 L520.4,158.0 L526.3,152.5 L532.3,147.1 L538.2,141.8 L544.2,136.7 L550.1,131.7 L556.1,126.9 L562.0,122.3 L568.0,117.8 L573.9,113.4 L579.9,109.2 L585.8,105.2 L591.8,101.3 L597.7,97.5 L603.7,93.9 L609.6,90.5 L615.6,87.2 L621.5,84.1 L627.5,81.1 L633.4,78.2 L639.4,75.6 L645.3,73.0 L651.3,70.6 L657.2,68.4 L663.2,66.3 L669.1,64.4 L675.1,62.6"/><path d="M443.0,275.5 L449.0,267.8 L454.9,260.4 L460.9,253.1 L466.8,246.0 L472.8,239.0 L478.7,232.2 L484.7,225.5 L490.6,219.0 L496.6,212.7 L502.5,206.5 L508.5,200.5 L514.4,194.6 L520.4,188.9 L526.3,183.4 L532.3,178.0 L538.2,172.8 L544.2,167.8 L550.1,162.9 L556.1,158.1 L562.0,153.6 L568.0,149.1 L573.9,144.9 L579.9,140.8 L585.8,136.9 L591.8,133.1 L597.7,129.5 L603.7,126.0 L609.6,122.7 L615.6,119.6 L621.5,116.7 L627.5,113.8 L633.4,111.2 L639.4,108.7 L645.3,106.4 L651.3,104.2 L657.2,102.2 L663.2,100.4 L669.1,98.7 L675.1,97.1"/><path d="M443.0,246.5 L449.0,239.1 L454.9,231.9 L460.9,224.8 L466.8,217.9 L472.8,211.2 L478.7,204.6 L484.7,198.1 L490.6,191.8 L496.6,185.7 L502.5,179.7 L508.5,173.9 L514.4,168.3 L520.4,162.8 L526.3,157.4 L532.3,152.2 L538.2,147.2 L544.2,142.3 L550.1,137.6 L556.1,133.0 L562.0,128.6 L568.0,124.3 L573.9,120.2 L579.9,116.3 L585.8,112.5 L591.8,108.8 L597.7,105.4 L603.7,102.0 L609.6,98.9 L615.6,95.9 L621.5,93.0 L627.5,90.3 L633.4,87.8 L639.4,85.4 L645.3,83.1 L651.3,81.0 L657.2,79.1 L663.2,77.4 L669.1,75.7 L675.1,74.3"/><path d="M443.0,220.7 L449.0,213.3 L454.9,206.1 L460.9,199.1 L466.8,192.2 L472.8,185.4 L478.7,178.8 L484.7,172.3 L490.6,166.0 L496.6,159.8 L502.5,153.7 L508.5,147.8 L514.4,142.0 L520.4,136.4 L526.3,130.9 L532.3,125.6 L538.2,120.4 L544.2,115.3 L550.1,110.4 L556.1,105.7 L562.0,101.0 L568.0,96.5 L573.9,92.2 L579.9,88.0 L585.8,84.0 L591.8,80.1 L597.7,76.3 L603.7,72.7 L609.6,69.2 L615.6,65.9 L621.5,62.7 L627.5,59.6 L633.4,56.7 L639.4,53.9 L645.3,51.3 L651.3,48.8 L657.2,46.5 L663.2,44.3 L669.1,42.3 L675.1,40.4"/><path d="M443.0,306.3 L449.0,299.1 L454.9,292.1 L460.9,285.2 L466.8,278.5 L472.8,271.9 L478.7,265.5 L484.7,259.3 L490.6,253.2 L496.6,247.2 L502.5,241.4 L508.5,235.8 L514.4,230.3 L520.4,224.9 L526.3,219.7 L532.3,214.7 L538.2,209.8 L544.2,205.1 L550.1,200.5 L556.1,196.1 L562.0,191.8 L568.0,187.7 L573.9,183.7 L579.9,179.9 L585.8,176.2 L591.8,172.7 L597.7,169.3 L603.7,166.1 L609.6,163.0 L615.6,160.1 L621.5,157.4 L627.5,154.8 L633.4,152.3 L639.4,150.0 L645.3,147.9 L651.3,145.9 L657.2,144.0 L663.2,142.3 L669.1,140.8 L675.1,139.4"/><path d="M443.0,266.6 L449.0,259.4 L454.9,252.2 L460.9,245.2 L466.8,238.4 L472.8,231.8 L478.7,225.3 L484.7,218.9 L490.6,212.7 L496.6,206.7 L502.5,200.9 L508.5,195.1 L514.4,189.6 L520.4,184.2 L526.3,179.0 L532.3,173.9 L538.2,169.0 L544.2,164.2 L550.1,159.6 L556.1,155.1 L562.0,150.8 L568.0,146.7 L573.9,142.7 L579.9,138.9 L585.8,135.3 L591.8,131.8 L597.7,128.4 L603.7,125.2 L609.6,122.2 L615.6,119.3 L621.5,116.6 L627.5,114.1 L633.4,111.7 L639.4,109.4 L645.3,107.3 L651.3,105.4 L657.2,103.7 L663.2,102.0 L669.1,100.6 L675.1,99.3"/><path d="M443.0,293.2 L449.0,285.9 L454.9,278.6 L460.9,271.6 L466.8,264.6 L472.8,257.8 L478.7,251.2 L484.7,244.6 L490.6,238.3 L496.6,232.0 L502.5,226.0 L508.5,220.0 L514.4,214.2 L520.4,208.6 L526.3,203.1 L532.3,197.7 L538.2,192.5 L544.2,187.4 L550.1,182.5 L556.1,177.7 L562.0,173.0 L568.0,168.5 L573.9,164.2 L579.9,160.0 L585.8,155.9 L591.8,152.0 L597.7,148.2 L603.7,144.6 L609.6,141.1 L615.6,137.7 L621.5,134.5 L627.5,131.4 L633.4,128.5 L639.4,125.7 L645.3,123.1 L651.3,120.6 L657.2,118.3 L663.2,116.1 L669.1,114.0 L675.1,112.1"/><path d="M443.0,273.0 L449.0,265.5 L454.9,258.2 L460.9,251.0 L466.8,243.9 L472.8,237.0 L478.7,230.3 L484.7,223.7 L490.6,217.3 L496.6,211.0 L502.5,204.8 L508.5,198.8 L514.4,193.0 L520.4,187.3 L526.3,181.7 L532.3,176.3 L538.2,171.1 L544.2,165.9 L550.1,161.0 L556.1,156.2 L562.0,151.5 L568.0,147.0 L573.9,142.7 L579.9,138.5 L585.8,134.4 L591.8,130.5 L597.7,126.7 L603.7,123.1 L609.6,119.6 L615.6,116.3 L621.5,113.2 L627.5,110.1 L633.4,107.3 L639.4,104.6 L645.3,102.0 L651.3,99.6 L657.2,97.3 L663.2,95.2 L669.1,93.2 L675.1,91.4"/><path d="M443.0,253.6 L449.0,246.3 L454.9,239.1 L460.9,232.1 L466.8,225.3 L472.8,218.6 L478.7,212.0 L484.7,205.6 L490.6,199.3 L496.6,193.2 L502.5,187.3 L508.5,181.5 L514.4,175.8 L520.4,170.3 L526.3,165.0 L532.3,159.8 L538.2,154.8 L544.2,149.9 L550.1,145.1 L556.1,140.6 L562.0,136.1 L568.0,131.8 L573.9,127.7 L579.9,123.7 L585.8,119.9 L591.8,116.2 L597.7,112.7 L603.7,109.3 L609.6,106.1 L615.6,103.0 L621.5,100.1 L627.5,97.3 L633.4,94.7 L639.4,92.2 L645.3,89.9 L651.3,87.8 L657.2,85.8 L663.2,83.9 L669.1,82.2 L675.1,80.6"/><path d="M443.0,203.4 L449.0,196.0 L454.9,188.7 L460.9,181.5 L466.8,174.5 L472.8,167.6 L478.7,160.8 L484.7,154.2 L490.6,147.7 L496.6,141.3 L502.5,135.1 L508.5,129.0 L514.4,123.0 L520.4,117.2 L526.3,111.5 L532.3,105.9 L538.2,100.5 L544.2,95.2 L550.1,90.0 L556.1,85.0 L562.0,80.1 L568.0,75.3 L573.9,70.7 L579.9,66.2 L585.8,61.8 L591.8,57.6 L597.7,53.5 L603.7,49.5 L609.6,45.7 L615.6,42.0 L621.5,38.4 L627.5,35.0 L633.4,31.7 L639.4,28.6 L645.3,25.5 L651.3,22.6 L657.2,19.9 L663.2,17.3 L669.1,14.8 L675.1,12.4"/><path d="M443.0,227.2 L449.0,219.8 L454.9,212.6 L460.9,205.6 L466.8,198.7 L472.8,192.0 L478.7,185.4 L484.7,179.0 L490.6,172.7 L496.6,166.6 L502.5,160.6 L508.5,154.8 L514.4,149.1 L520.4,143.6 L526.3,138.2 L532.3,133.0 L538.2,127.9 L544.2,123.0 L550.1,118.3 L556.1,113.7 L562.0,109.2 L568.0,105.0 L573.9,100.8 L579.9,96.8 L585.8,93.0 L591.8,89.3 L597.7,85.8 L603.7,82.4 L609.6,79.2 L615.6,76.1 L621.5,73.2 L627.5,70.4 L633.4,67.8 L639.4,65.4 L645.3,63.1 L651.3,60.9 L657.2,58.9 L663.2,57.1 L669.1,55.4 L675.1,53.8"/><path d="M443.0,291.9 L449.0,284.2 L454.9,276.7 L460.9,269.4 L466.8,262.2 L472.8,255.2 L478.7,248.3 L484.7,241.6 L490.6,235.1 L496.6,228.7 L502.5,222.4 L508.5,216.3 L514.4,210.4 L520.4,204.6 L526.3,199.0 L532.3,193.5 L538.2,188.2 L544.2,183.0 L550.1,178.0 L556.1,173.2 L562.0,168.5 L568.0,164.0 L573.9,159.6 L579.9,155.4 L585.8,151.3 L591.8,147.4 L597.7,143.6 L603.7,140.0 L609.6,136.6 L615.6,133.3 L621.5,130.2 L627.5,127.2 L633.4,124.4 L639.4,121.7 L645.3,119.2 L651.3,116.8 L657.2,114.6 L663.2,112.6 L669.1,110.7 L675.1,109.0"/><path d="M443.0,226.8 L449.0,219.4 L454.9,212.3 L460.9,205.2 L466.8,198.4 L472.8,191.6 L478.7,185.0 L484.7,178.6 L490.6,172.3 L496.6,166.2 L502.5,160.2 L508.5,154.3 L514.4,148.6 L520.4,143.1 L526.3,137.7 L532.3,132.4 L538.2,127.3 L544.2,122.4 L550.1,117.5 L556.1,112.9 L562.0,108.4 L568.0,104.0 L573.9,99.8 L579.9,95.7 L585.8,91.8 L591.8,88.0 L597.7,84.4 L603.7,80.9 L609.6,77.6 L615.6,74.4 L621.5,71.3 L627.5,68.4 L633.4,65.7 L639.4,63.1 L645.3,60.7 L651.3,58.4 L657.2,56.2 L663.2,54.2 L669.1,52.3 L675.1,50.6"/><path d="M443.0,248.2 L449.0,240.8 L454.9,233.5 L460.9,226.4 L466.8,219.5 L472.8,212.7 L478.7,206.0 L484.7,199.5 L490.6,193.1 L496.6,186.9 L502.5,180.9 L508.5,175.0 L514.4,169.2 L520.4,163.6 L526.3,158.2 L532.3,152.9 L538.2,147.7 L544.2,142.7 L550.1,137.9 L556.1,133.2 L562.0,128.7 L568.0,124.3 L573.9,120.0 L579.9,116.0 L585.8,112.0 L591.8,108.2 L597.7,104.6 L603.7,101.1 L609.6,97.8 L615.6,94.6 L621.5,91.6 L627.5,88.8 L633.4,86.0 L639.4,83.5 L645.3,81.1 L651.3,78.8 L657.2,76.7 L663.2,74.7 L669.1,72.9 L675.1,71.3"/><path d="M443.0,261.9 L449.0,254.4 L454.9,247.1 L460.9,240.0 L466.8,233.0 L472.8,226.2 L478.7,219.5 L484.7,213.0 L490.6,206.7 L496.6,200.6 L502.5,194.6 L508.5,188.8 L514.4,183.1 L520.4,177.6 L526.3,172.3 L532.3,167.1 L538.2,162.2 L544.2,157.3 L550.1,152.7 L556.1,148.2 L562.0,143.9 L568.0,139.7 L573.9,135.7 L579.9,131.9 L585.8,128.2 L591.8,124.7 L597.7,121.4 L603.7,118.2 L609.6,115.2 L615.6,112.4 L621.5,109.7 L627.5,107.2 L633.4,104.9 L639.4,102.7 L645.3,100.7 L651.3,98.9 L657.2,97.2 L663.2,95.7 L669.1,94.4 L675.1,93.2"/><path d="M443.0,198.5 L449.0,191.3 L454.9,184.3 L460.9,177.5 L466.8,170.8 L472.8,164.3 L478.7,157.9 L484.7,151.7 L490.6,145.6 L496.6,139.7 L502.5,133.9 L508.5,128.3 L514.4,122.9 L520.4,117.6 L526.3,112.4 L532.3,107.5 L538.2,102.6 L544.2,98.0 L550.1,93.4 L556.1,89.1 L562.0,84.9 L568.0,80.8 L573.9,76.9 L579.9,73.1 L585.8,69.5 L591.8,66.1 L597.7,62.8 L603.7,59.7 L609.6,56.7 L615.6,53.9 L621.5,51.2 L627.5,48.7 L633.4,46.3 L639.4,44.1 L645.3,42.1 L651.3,40.2 L657.2,38.5 L663.2,36.9 L669.1,35.4 L675.1,34.2"/><path d="M443.0,219.6 L449.0,212.1 L454.9,204.8 L460.9,197.7 L466.8,190.7 L472.8,183.8 L478.7,177.1 L484.7,170.5 L490.6,164.1 L496.6,157.9 L502.5,151.8 L508.5,145.8 L514.4,140.0 L520.4,134.4 L526.3,128.9 L532.3,123.5 L538.2,118.4 L544.2,113.3 L550.1,108.4 L556.1,103.7 L562.0,99.1 L568.0,94.7 L573.9,90.4 L579.9,86.3 L585.8,82.3 L591.8,78.5 L597.7,74.8 L603.7,71.3 L609.6,67.9 L615.6,64.7 L621.5,61.7 L627.5,58.8 L633.4,56.0 L639.4,53.4 L645.3,50.9 L651.3,48.6 L657.2,46.5 L663.2,44.5 L669.1,42.6 L675.1,40.9"/><path d="M443.0,250.6 L449.0,243.1 L454.9,235.8 L460.9,228.6 L466.8,221.6 L472.8,214.8 L478.7,208.1 L484.7,201.6 L490.6,195.2 L496.6,189.0 L502.5,183.0 L508.5,177.1 L514.4,171.4 L520.4,165.8 L526.3,160.4 L532.3,155.1 L538.2,150.0 L544.2,145.1 L550.1,140.3 L556.1,135.7 L562.0,131.2 L568.0,126.9 L573.9,122.8 L579.9,118.8 L585.8,115.0 L591.8,111.3 L597.7,107.8 L603.7,104.4 L609.6,101.2 L615.6,98.2 L621.5,95.3 L627.5,92.6 L633.4,90.1 L639.4,87.7 L645.3,85.4 L651.3,83.3 L657.2,81.4 L663.2,79.6 L669.1,78.0 L675.1,76.6"/><path d="M443.0,291.8 L449.0,284.2 L454.9,276.8 L460.9,269.5 L466.8,262.4 L472.8,255.4 L478.7,248.6 L484.7,241.9 L490.6,235.4 L496.6,229.0 L502.5,222.7 L508.5,216.6 L514.4,210.7 L520.4,204.9 L526.3,199.2 L532.3,193.7 L538.2,188.3 L544.2,183.0 L550.1,178.0 L556.1,173.0 L562.0,168.2 L568.0,163.6 L573.9,159.0 L579.9,154.7 L585.8,150.5 L591.8,146.4 L597.7,142.4 L603.7,138.7 L609.6,135.0 L615.6,131.5 L621.5,128.2 L627.5,125.0 L633.4,121.9 L639.4,119.0 L645.3,116.2 L651.3,113.6 L657.2,111.1 L663.2,108.8 L669.1,106.6 L675.1,104.5"/><path d="M443.0,286.0 L449.0,278.4 L454.9,270.9 L460.9,263.5 L466.8,256.3 L472.8,249.3 L478.7,242.4 L484.7,235.6 L490.6,229.0 L496.6,222.5 L502.5,216.1 L508.5,209.9 L514.4,203.9 L520.4,198.0 L526.3,192.2 L532.3,186.6 L538.2,181.1 L544.2,175.7 L550.1,170.5 L556.1,165.5 L562.0,160.6 L568.0,155.8 L573.9,151.2 L579.9,146.7 L585.8,142.3 L591.8,138.1 L597.7,134.1 L603.7,130.2 L609.6,126.4 L615.6,122.8 L621.5,119.3 L627.5,116.0 L633.4,112.8 L639.4,109.7 L645.3,106.8 L651.3,104.0 L657.2,101.4 L663.2,98.9 L669.1,96.6 L675.1,94.4"/><path d="M443.0,256.1 L449.0,248.7 L454.9,241.4 L460.9,234.2 L466.8,227.2 L472.8,220.4 L478.7,213.7 L484.7,207.1 L490.6,200.7 L496.6,194.4 L502.5,188.3 L508.5,182.3 L514.4,176.5 L520.4,170.8 L526.3,165.3 L532.3,159.9 L538.2,154.6 L544.2,149.5 L550.1,144.6 L556.1,139.8 L562.0,135.1 L568.0,130.6 L573.9,126.2 L579.9,122.0 L585.8,117.9 L591.8,113.9 L597.7,110.2 L603.7,106.5 L609.6,103.0 L615.6,99.6 L621.5,96.4 L627.5,93.4 L633.4,90.4 L639.4,87.7 L645.3,85.0 L651.3,82.5 L657.2,80.2 L663.2,78.0 L669.1,76.0 L675.1,74.1"/><path d="M443.0,269.0 L449.0,261.6 L454.9,254.4 L460.9,247.3 L466.8,240.3 L472.8,233.5 L478.7,226.9 L484.7,220.4 L490.6,214.1 L496.6,208.0 L502.5,201.9 L508.5,196.1 L514.4,190.4 L520.4,184.8 L526.3,179.4 L532.3,174.2 L538.2,169.1 L544.2,164.2 L550.1,159.4 L556.1,154.8 L562.0,150.3 L568.0,146.0 L573.9,141.9 L579.9,137.9 L585.8,134.0 L591.8,130.3 L597.7,126.8 L603.7,123.4 L609.6,120.2 L615.6,117.1 L621.5,114.2 L627.5,111.5 L633.4,108.8 L639.4,106.4 L645.3,104.1 L651.3,102.0 L657.2,100.0 L663.2,98.1 L669.1,96.5 L675.1,94.9"/><path d="M443.0,304.7 L449.0,297.3 L454.9,290.2 L460.9,283.1 L466.8,276.2 L472.8,269.5 L478.7,262.9 L484.7,256.5 L490.6,250.2 L496.6,244.1 L502.5,238.1 L508.5,232.3 L514.4,226.6 L520.4,221.1 L526.3,215.7 L532.3,210.5 L538.2,205.5 L544.2,200.6 L550.1,195.8 L556.1,191.2 L562.0,186.8 L568.0,182.5 L573.9,178.3 L579.9,174.3 L585.8,170.5 L591.8,166.8 L597.7,163.2 L603.7,159.8 L609.6,156.6 L615.6,153.5 L621.5,150.6 L627.5,147.8 L633.4,145.2 L639.4,142.7 L645.3,140.4 L651.3,138.2 L657.2,136.2 L663.2,134.3 L669.1,132.6 L675.1,131.1"/><path d="M443.0,180.6 L449.0,173.2 L454.9,165.9 L460.9,158.7 L466.8,151.7 L472.8,144.9 L478.7,138.2 L484.7,131.7 L490.6,125.3 L496.6,119.1 L502.5,113.1 L508.5,107.2 L514.4,101.5 L520.4,95.9 L526.3,90.5 L532.3,85.3 L538.2,80.2 L544.2,75.2 L550.1,70.5 L556.1,65.8 L562.0,61.4 L568.0,57.1 L573.9,52.9 L579.9,49.0 L585.8,45.1 L591.8,41.5 L597.7,38.0 L603.7,34.6 L609.6,31.4 L615.6,28.4 L621.5,25.5 L627.5,22.8 L633.4,20.2 L639.4,17.8 L645.3,15.6 L651.3,13.5 L657.2,11.6 L663.2,9.8 L669.1,8.2 L675.1,6.8"/><path d="M443.0,278.7 L449.0,271.3 L454.9,264.0 L460.9,256.9 L466.8,249.9 L472.8,243.1 L478.7,236.4 L484.7,229.9 L490.6,223.5 L496.6,217.3 L502.5,211.2 L508.5,205.3 L514.4,199.5 L520.4,193.8 L526.3,188.3 L532.3,183.0 L538.2,177.8 L544.2,172.7 L550.1,167.8 L556.1,163.0 L562.0,158.4 L568.0,153.9 L573.9,149.6 L579.9,145.4 L585.8,141.4 L591.8,137.5 L597.7,133.8 L603.7,130.2 L609.6,126.8 L615.6,123.5 L621.5,120.3 L627.5,117.3 L633.4,114.5 L639.4,111.8 L645.3,109.2 L651.3,106.8 L657.2,104.6 L663.2,102.5 L669.1,100.5 L675.1,98.7"/><path d="M443.0,196.3 L449.0,188.8 L454.9,181.4 L460.9,174.2 L466.8,167.2 L472.8,160.4 L478.7,153.7 L484.7,147.2 L490.6,140.8 L496.6,134.6 L502.5,128.6 L508.5,122.7 L514.4,117.0 L520.4,111.4 L526.3,106.1 L532.3,100.8 L538.2,95.8 L544.2,90.9 L550.1,86.2 L556.1,81.6 L562.0,77.2 L568.0,73.0 L573.9,68.9 L579.9,65.0 L585.8,61.2 L591.8,57.7 L597.7,54.2 L603.7,51.0 L609.6,47.9 L615.6,45.0 L621.5,42.2 L627.5,39.6 L633.4,37.2 L639.4,34.9 L645.3,32.8 L651.3,30.8 L657.2,29.1 L663.2,27.4 L669.1,26.0 L675.1,24.7"/><path d="M443.0,272.6 L449.0,265.3 L454.9,258.2 L460.9,251.2 L466.8,244.4 L472.8,237.7 L478.7,231.1 L484.7,224.7 L490.6,218.4 L496.6,212.3 L502.5,206.3 L508.5,200.5 L514.4,194.8 L520.4,189.2 L526.3,183.8 L532.3,178.5 L538.2,173.4 L544.2,168.4 L550.1,163.5 L556.1,158.8 L562.0,154.2 L568.0,149.8 L573.9,145.5 L579.9,141.4 L585.8,137.4 L591.8,133.5 L597.7,129.8 L603.7,126.2 L609.6,122.8 L615.6,119.5 L621.5,116.3 L627.5,113.3 L633.4,110.4 L639.4,107.7 L645.3,105.1 L651.3,102.7 L657.2,100.4 L663.2,98.2 L669.1,96.2 L675.1,94.3"/><path d="M443.0,203.4 L449.0,195.7 L454.9,188.2 L460.9,180.8 L466.8,173.6 L472.8,166.5 L478.7,159.6 L484.7,152.9 L490.6,146.3 L496.6,139.9 L502.5,133.6 L508.5,127.4 L514.4,121.5 L520.4,115.6 L526.3,110.0 L532.3,104.5 L538.2,99.1 L544.2,93.9 L550.1,88.8 L556.1,83.9 L562.0,79.2 L568.0,74.6 L573.9,70.2 L579.9,65.9 L585.8,61.8 L591.8,57.8 L597.7,54.0 L603.7,50.4 L609.6,46.9 L615.6,43.5 L621.5,40.3 L627.5,37.3 L633.4,34.4 L639.4,31.7 L645.3,29.1 L651.3,26.7 L657.2,24.4 L663.2,22.3 L669.1,20.3 L675.1,18.5"/><path d="M443.0,222.7 L449.0,215.2 L454.9,207.9 L460.9,200.7 L466.8,193.6 L472.8,186.7 L478.7,179.9 L484.7,173.3 L490.6,166.8 L496.6,160.5 L502.5,154.3 L508.5,148.2 L514.4,142.3 L520.4,136.6 L526.3,131.0 L532.3,125.6 L538.2,120.3 L544.2,115.1 L550.1,110.1 L556.1,105.2 L562.0,100.5 L568.0,95.9 L573.9,91.5 L579.9,87.3 L585.8,83.1 L591.8,79.1 L597.7,75.3 L603.7,71.6 L609.6,68.1 L615.6,64.7 L621.5,61.4 L627.5,58.4 L633.4,55.4 L639.4,52.6 L645.3,49.9 L651.3,47.4 L657.2,45.1 L663.2,42.8 L669.1,40.8 L675.1,38.9"/><path d="M443.0,195.6 L449.0,187.9 L454.9,180.4 L460.9,173.0 L466.8,165.8 L472.8,158.7 L478.7,151.8 L484.7,145.0 L490.6,138.3 L496.6,131.8 L502.5,125.5 L508.5,119.3 L514.4,113.2 L520.4,107.3 L526.3,101.6 L532.3,95.9 L538.2,90.5 L544.2,85.1 L550.1,80.0 L556.1,74.9 L562.0,70.1 L568.0,65.3 L573.9,60.7 L579.9,56.3 L585.8,52.0 L591.8,47.8 L597.7,43.8 L603.7,40.0 L609.6,36.3 L615.6,32.7 L621.5,29.3 L627.5,26.0 L633.4,22.9 L639.4,19.9 L645.3,17.1 L651.3,14.4 L657.2,11.9 L663.2,9.5 L669.1,7.3 L675.1,5.2"/><path d="M443.0,325.0 L449.0,317.6 L454.9,310.4 L460.9,303.3 L466.8,296.3 L472.8,289.5 L478.7,282.8 L484.7,276.3 L490.6,269.9 L496.6,263.7 L502.5,257.6 L508.5,251.6 L514.4,245.8 L520.4,240.2 L526.3,234.6 L532.3,229.3 L538.2,224.1 L544.2,219.0 L550.1,214.0 L556.1,209.2 L562.0,204.6 L568.0,200.1 L573.9,195.7 L579.9,191.5 L585.8,187.5 L591.8,183.5 L597.7,179.8 L603.7,176.1 L609.6,172.6 L615.6,169.3 L621.5,166.1 L627.5,163.0 L633.4,160.1 L639.4,157.4 L645.3,154.8 L651.3,152.3 L657.2,150.0 L663.2,147.8 L669.1,145.7 L675.1,143.8"/><path d="M443.0,234.6 L449.0,226.9 L454.9,219.3 L460.9,211.9 L466.8,204.7 L472.8,197.6 L478.7,190.7 L484.7,183.9 L490.6,177.2 L496.6,170.7 L502.5,164.3 L508.5,158.1 L514.4,152.0 L520.4,146.1 L526.3,140.3 L532.3,134.7 L538.2,129.2 L544.2,123.9 L550.1,118.7 L556.1,113.7 L562.0,108.8 L568.0,104.0 L573.9,99.4 L579.9,95.0 L585.8,90.6 L591.8,86.5 L597.7,82.5 L603.7,78.6 L609.6,74.9 L615.6,71.3 L621.5,67.9 L627.5,64.6 L633.4,61.5 L639.4,58.5 L645.3,55.6 L651.3,52.9 L657.2,50.4 L663.2,48.0 L669.1,45.7 L675.1,43.6"/><path d="M443.0,239.5 L449.0,231.8 L454.9,224.4 L460.9,217.0 L466.8,209.8 L472.8,202.8 L478.7,195.9 L484.7,189.2 L490.6,182.6 L496.6,176.1 L502.5,169.9 L508.5,163.7 L514.4,157.7 L520.4,151.9 L526.3,146.2 L532.3,140.7 L538.2,135.3 L544.2,130.0 L550.1,124.9 L556.1,120.0 L562.0,115.2 L568.0,110.5 L573.9,106.0 L579.9,101.7 L585.8,97.5 L591.8,93.4 L597.7,89.5 L603.7,85.8 L609.6,82.2 L615.6,78.7 L621.5,75.4 L627.5,72.3 L633.4,69.3 L639.4,66.4 L645.3,63.7 L651.3,61.1 L657.2,58.7 L663.2,56.5 L669.1,54.4 L675.1,52.4"/><path d="M443.0,227.2 L449.0,219.7 L454.9,212.5 L460.9,205.3 L466.8,198.4 L472.8,191.6 L478.7,185.0 L484.7,178.5 L490.6,172.2 L496.6,166.0 L502.5,160.0 L508.5,154.2 L514.4,148.5 L520.4,143.0 L526.3,137.7 L532.3,132.5 L538.2,127.4 L544.2,122.6 L550.1,117.8 L556.1,113.3 L562.0,108.9 L568.0,104.6 L573.9,100.6 L579.9,96.6 L585.8,92.9 L591.8,89.3 L597.7,85.8 L603.7,82.6 L609.6,79.4 L615.6,76.5 L621.5,73.7 L627.5,71.0 L633.4,68.5 L639.4,66.2 L645.3,64.1 L651.3,62.0 L657.2,60.2 L663.2,58.5 L669.1,57.0 L675.1,55.6"/><path d="M443.0,224.2 L449.0,216.7 L454.9,209.5 L460.9,202.4 L466.8,195.4 L472.8,188.6 L478.7,182.0 L484.7,175.5 L490.6,169.2 L496.6,163.1 L502.5,157.1 L508.5,151.3 L514.4,145.6 L520.4,140.1 L526.3,134.8 L532.3,129.6 L538.2,124.6 L544.2,119.7 L550.1,115.0 L556.1,110.5 L562.0,106.1 L568.0,101.9 L573.9,97.8 L579.9,94.0 L585.8,90.2 L591.8,86.6 L597.7,83.2 L603.7,80.0 L609.6,76.9 L615.6,74.0 L621.5,71.2 L627.5,68.6 L633.4,66.1 L639.4,63.9 L645.3,61.7 L651.3,59.8 L657.2,58.0 L663.2,56.3 L669.1,54.8 L675.1,53.5"/><path d="M443.0,262.1 L449.0,254.8 L454.9,247.7 L460.9,240.7 L466.8,233.9 L472.8,227.2 L478.7,220.7 L484.7,214.3 L490.6,208.1 L496.6,202.0 L502.5,196.0 L508.5,190.3 L514.4,184.6 L520.4,179.1 L526.3,173.8 L532.3,168.6 L538.2,163.6 L544.2,158.7 L550.1,154.0 L556.1,149.4 L562.0,145.0 L568.0,140.7 L573.9,136.6 L579.9,132.6 L585.8,128.7 L591.8,125.1 L597.7,121.5 L603.7,118.1 L609.6,114.9 L615.6,111.8 L621.5,108.9 L627.5,106.1 L633.4,103.5 L639.4,101.0 L645.3,98.7 L651.3,96.5 L657.2,94.5 L663.2,92.6 L669.1,90.9 L675.1,89.3"/><path d="M443.0,231.1 L449.0,223.5 L454.9,216.1 L460.9,208.8 L466.8,201.6 L472.8,194.6 L478.7,187.8 L484.7,181.1 L490.6,174.6 L496.6,168.2 L502.5,162.0 L508.5,156.0 L514.4,150.1 L520.4,144.3 L526.3,138.8 L532.3,133.3 L538.2,128.1 L544.2,122.9 L550.1,118.0 L556.1,113.2 L562.0,108.5 L568.0,104.0 L573.9,99.7 L579.9,95.5 L585.8,91.5 L591.8,87.6 L597.7,83.9 L603.7,80.3 L609.6,76.9 L615.6,73.7 L621.5,70.6 L627.5,67.6 L633.4,64.8 L639.4,62.2 L645.3,59.7 L651.3,57.4 L657.2,55.3 L663.2,53.3 L669.1,51.4 L675.1,49.7"/><path d="M443.0,334.3 L449.0,326.9 L454.9,319.7 L460.9,312.6 L466.8,305.7 L472.8,298.9 L478.7,292.3 L484.7,285.8 L490.6,279.5 L496.6,273.3 L502.5,267.3 L508.5,261.4 L514.4,255.7 L520.4,250.1 L526.3,244.6 L532.3,239.4 L538.2,234.2 L544.2,229.3 L550.1,224.4 L556.1,219.7 L562.0,215.2 L568.0,210.8 L573.9,206.6 L579.9,202.5 L585.8,198.6 L591.8,194.8 L597.7,191.1 L603.7,187.6 L609.6,184.3 L615.6,181.1 L621.5,178.1 L627.5,175.2 L633.4,172.4 L639.4,169.8 L645.3,167.4 L651.3,165.1 L657.2,162.9 L663.2,160.9 L669.1,159.1 L675.1,157.4"/><path d="M443.0,287.1 L449.0,279.7 L454.9,272.5 L460.9,265.5 L466.8,258.6 L472.8,251.8 L478.7,245.2 L484.7,238.7 L490.6,232.3 L496.6,226.1 L502.5,220.1 L508.5,214.1 L514.4,208.3 L520.4,202.7 L526.3,197.2 L532.3,191.8 L538.2,186.6 L544.2,181.5 L550.1,176.6 L556.1,171.8 L562.0,167.2 L568.0,162.6 L573.9,158.3 L579.9,154.0 L585.8,149.9 L591.8,146.0 L597.7,142.2 L603.7,138.5 L609.6,135.0 L615.6,131.6 L621.5,128.4 L627.5,125.3 L633.4,122.3 L639.4,119.5 L645.3,116.8 L651.3,114.3 L657.2,111.9 L663.2,109.6 L669.1,107.5 L675.1,105.5"/><path d="M443.0,228.5 L449.0,221.0 L454.9,213.5 L460.9,206.3 L466.8,199.1 L472.8,192.1 L478.7,185.3 L484.7,178.6 L490.6,172.0 L496.6,165.6 L502.5,159.4 L508.5,153.3 L514.4,147.3 L520.4,141.5 L526.3,135.8 L532.3,130.2 L538.2,124.8 L544.2,119.6 L550.1,114.5 L556.1,109.5 L562.0,104.7 L568.0,100.1 L573.9,95.5 L579.9,91.1 L585.8,86.9 L591.8,82.8 L597.7,78.9 L603.7,75.1 L609.6,71.4 L615.6,67.9 L621.5,64.6 L627.5,61.3 L633.4,58.3 L639.4,55.3 L645.3,52.5 L651.3,49.9 L657.2,47.4 L663.2,45.1 L669.1,42.9 L675.1,40.8"/><path d="M443.0,242.3 L449.0,234.9 L454.9,227.7 L460.9,220.6 L466.8,213.7 L472.8,206.9 L478.7,200.3 L484.7,193.8 L490.6,187.5 L496.6,181.4 L502.5,175.4 L508.5,169.6 L514.4,163.9 L520.4,158.3 L526.3,153.0 L532.3,147.8 L538.2,142.7 L544.2,137.8 L550.1,133.1 L556.1,128.5 L562.0,124.0 L568.0,119.8 L573.9,115.6 L579.9,111.7 L585.8,107.9 L591.8,104.2 L597.7,100.7 L603.7,97.4 L609.6,94.2 L615.6,91.2 L621.5,88.3 L627.5,85.6 L633.4,83.0 L639.4,80.6 L645.3,78.4 L651.3,76.3 L657.2,74.4 L663.2,72.6 L669.1,71.0 L675.1,69.5"/><path d="M443.0,236.8 L449.0,229.1 L454.9,221.6 L460.9,214.2 L466.8,207.0 L472.8,199.9 L478.7,192.9 L484.7,186.1 L490.6,179.5 L496.6,173.0 L502.5,166.7 L508.5,160.5 L514.4,154.4 L520.4,148.5 L526.3,142.8 L532.3,137.2 L538.2,131.7 L544.2,126.4 L550.1,121.3 L556.1,116.2 L562.0,111.4 L568.0,106.7 L573.9,102.1 L579.9,97.7 L585.8,93.4 L591.8,89.3 L597.7,85.4 L603.7,81.5 L609.6,77.9 L615.6,74.4 L621.5,71.0 L627.5,67.8 L633.4,64.7 L639.4,61.8 L645.3,59.0 L651.3,56.4 L657.2,53.9 L663.2,51.5 L669.1,49.4 L675.1,47.3"/><path d="M443.0,273.4 L449.0,265.9 L454.9,258.5 L460.9,251.3 L466.8,244.3 L472.8,237.4 L478.7,230.7 L484.7,224.1 L490.6,217.7 L496.6,211.5 L502.5,205.4 L508.5,199.5 L514.4,193.8 L520.4,188.2 L526.3,182.8 L532.3,177.6 L538.2,172.5 L544.2,167.6 L550.1,162.8 L556.1,158.2 L562.0,153.8 L568.0,149.5 L573.9,145.4 L579.9,141.5 L585.8,137.7 L591.8,134.1 L597.7,130.6 L603.7,127.3 L609.6,124.2 L615.6,121.2 L621.5,118.4 L627.5,115.8 L633.4,113.3 L639.4,111.0 L645.3,108.9 L651.3,106.9 L657.2,105.1 L663.2,103.4 L669.1,102.0 L675.1,100.6"/><path d="M443.0,267.9 L449.0,260.2 L454.9,252.6 L460.9,245.2 L466.8,237.9 L472.8,230.8 L478.7,223.9 L484.7,217.1 L490.6,210.4 L496.6,204.0 L502.5,197.7 L508.5,191.5 L514.4,185.5 L520.4,179.7 L526.3,174.0 L532.3,168.5 L538.2,163.1 L544.2,157.9 L550.1,152.8 L556.1,148.0 L562.0,143.2 L568.0,138.7 L573.9,134.2 L579.9,130.0 L585.8,125.9 L591.8,122.0 L597.7,118.2 L603.7,114.6 L609.6,111.1 L615.6,107.8 L621.5,104.6 L627.5,101.7 L633.4,98.8 L639.4,96.2 L645.3,93.7 L651.3,91.3 L657.2,89.1 L663.2,87.1 L669.1,85.2 L675.1,83.5"/><path d="M443.0,230.9 L449.0,223.2 L454.9,215.6 L460.9,208.2 L466.8,200.9 L472.8,193.7 L478.7,186.7 L484.7,179.9 L490.6,173.2 L496.6,166.6 L502.5,160.2 L508.5,153.9 L514.4,147.8 L520.4,141.8 L526.3,136.0 L532.3,130.3 L538.2,124.7 L544.2,119.3 L550.1,114.0 L556.1,108.9 L562.0,103.9 L568.0,99.1 L573.9,94.4 L579.9,89.8 L585.8,85.4 L591.8,81.2 L597.7,77.1 L603.7,73.1 L609.6,69.3 L615.6,65.6 L621.5,62.0 L627.5,58.6 L633.4,55.4 L639.4,52.3 L645.3,49.3 L651.3,46.5 L657.2,43.8 L663.2,41.3 L669.1,38.9 L675.1,36.7"/><path d="M443.0,212.9 L449.0,205.3 L454.9,198.0 L460.9,190.8 L466.8,183.7 L472.8,176.8 L478.7,170.1 L484.7,163.5 L490.6,157.1 L496.6,150.8 L502.5,144.7 L508.5,138.8 L514.4,133.0 L520.4,127.3 L526.3,121.8 L532.3,116.5 L538.2,111.3 L544.2,106.3 L550.1,101.4 L556.1,96.7 L562.0,92.2 L568.0,87.8 L573.9,83.5 L579.9,79.5 L585.8,75.5 L591.8,71.8 L597.7,68.1 L603.7,64.7 L609.6,61.4 L615.6,58.2 L621.5,55.2 L627.5,52.4 L633.4,49.7 L639.4,47.2 L645.3,44.8 L651.3,42.6 L657.2,40.6 L663.2,38.7 L669.1,36.9 L675.1,35.3"/><path d="M443.0,216.4 L449.0,209.2 L454.9,202.1 L460.9,195.2 L466.8,188.4 L472.8,181.8 L478.7,175.4 L484.7,169.0 L490.6,162.9 L496.6,156.9 L502.5,151.0 L508.5,145.3 L514.4,139.7 L520.4,134.3 L526.3,129.1 L532.3,124.0 L538.2,119.0 L544.2,114.2 L550.1,109.5 L556.1,105.0 L562.0,100.6 L568.0,96.4 L573.9,92.4 L579.9,88.5 L585.8,84.7 L591.8,81.1 L597.7,77.6 L603.7,74.3 L609.6,71.1 L615.6,68.1 L621.5,65.3 L627.5,62.6 L633.4,60.0 L639.4,57.6 L645.3,55.3 L651.3,53.2 L657.2,51.2 L663.2,49.4 L669.1,47.8 L675.1,46.2"/><path d="M443.0,274.7 L449.0,267.1 L454.9,259.6 L460.9,252.3 L466.8,245.2 L472.8,238.2 L478.7,231.3 L484.7,224.6 L490.6,218.1 L496.6,211.7 L502.5,205.4 L508.5,199.4 L514.4,193.4 L520.4,187.7 L526.3,182.0 L532.3,176.6 L538.2,171.2 L544.2,166.1 L550.1,161.0 L556.1,156.2 L562.0,151.5 L568.0,146.9 L573.9,142.5 L579.9,138.2 L585.8,134.1 L591.8,130.2 L597.7,126.4 L603.7,122.7 L609.6,119.2 L615.6,115.9 L621.5,112.7 L627.5,109.7 L633.4,106.8 L639.4,104.1 L645.3,101.5 L651.3,99.1 L657.2,96.8 L663.2,94.7 L669.1,92.7 L675.1,90.9"/><path d="M443.0,263.4 L449.0,255.8 L454.9,248.3 L460.9,240.9 L466.8,233.7 L472.8,226.7 L478.7,219.8 L484.7,213.1 L490.6,206.5 L496.6,200.1 L502.5,193.9 L508.5,187.8 L514.4,181.8 L520.4,176.1 L526.3,170.4 L532.3,165.0 L538.2,159.6 L544.2,154.5 L550.1,149.5 L556.1,144.6 L562.0,140.0 L568.0,135.4 L573.9,131.1 L579.9,126.8 L585.8,122.8 L591.8,118.9 L597.7,115.1 L603.7,111.5 L609.6,108.1 L615.6,104.8 L621.5,101.7 L627.5,98.8 L633.4,95.9 L639.4,93.3 L645.3,90.8 L651.3,88.5 L657.2,86.3 L663.2,84.3 L669.1,82.4 L675.1,80.7"/><path d="M443.0,251.5 L449.0,244.4 L454.9,237.4 L460.9,230.7 L466.8,224.0 L472.8,217.6 L478.7,211.3 L484.7,205.1 L490.6,199.1 L496.6,193.3 L502.5,187.6 L508.5,182.1 L514.4,176.7 L520.4,171.5 L526.3,166.5 L532.3,161.6 L538.2,156.8 L544.2,152.3 L550.1,147.9 L556.1,143.6 L562.0,139.5 L568.0,135.6 L573.9,131.8 L579.9,128.1 L585.8,124.7 L591.8,121.4 L597.7,118.2 L603.7,115.2 L609.6,112.4 L615.6,109.7 L621.5,107.2 L627.5,104.8 L633.4,102.6 L639.4,100.6 L645.3,98.7 L651.3,96.9 L657.2,95.4 L663.2,93.9 L669.1,92.7 L675.1,91.6"/><path d="M443.0,198.8 L449.0,191.3 L454.9,183.9 L460.9,176.7 L466.8,169.6 L472.8,162.7 L478.7,155.9 L484.7,149.3 L490.6,142.9 L496.6,136.5 L502.5,130.4 L508.5,124.4 L514.4,118.5 L520.4,112.8 L526.3,107.2 L532.3,101.8 L538.2,96.5 L544.2,91.4 L550.1,86.4 L556.1,81.6 L562.0,76.9 L568.0,72.4 L573.9,68.1 L579.9,63.8 L585.8,59.8 L591.8,55.9 L597.7,52.1 L603.7,48.5 L609.6,45.0 L615.6,41.7 L621.5,38.5 L627.5,35.5 L633.4,32.6 L639.4,29.9 L645.3,27.3 L651.3,24.9 L657.2,22.7 L663.2,20.5 L669.1,18.6 L675.1,16.7"/><path d="M443.0,202.5 L449.0,194.7 L454.9,187.1 L460.9,179.7 L466.8,172.4 L472.8,165.2 L478.7,158.2 L484.7,151.4 L490.6,144.7 L496.6,138.2 L502.5,131.8 L508.5,125.5 L514.4,119.5 L520.4,113.5 L526.3,107.7 L532.3,102.1 L538.2,96.6 L544.2,91.3 L550.1,86.1 L556.1,81.1 L562.0,76.2 L568.0,71.5 L573.9,66.9 L579.9,62.5 L585.8,58.3 L591.8,54.1 L597.7,50.2 L603.7,46.4 L609.6,42.7 L615.6,39.2 L621.5,35.8 L627.5,32.6 L633.4,29.6 L639.4,26.7 L645.3,23.9 L651.3,21.3 L657.2,18.9 L663.2,16.6 L669.1,14.5 L675.1,12.5"/><path d="M443.0,196.9 L449.0,189.0 L454.9,181.3 L460.9,173.7 L466.8,166.3 L472.8,159.0 L478.7,151.8 L484.7,144.8 L490.6,138.0 L496.6,131.3 L502.5,124.7 L508.5,118.3 L514.4,112.1 L520.4,105.9 L526.3,100.0 L532.3,94.1 L538.2,88.5 L544.2,82.9 L550.1,77.5 L556.1,72.3 L562.0,67.2 L568.0,62.2 L573.9,57.4 L579.9,52.8 L585.8,48.3 L591.8,43.9 L597.7,39.7 L603.7,35.6 L609.6,31.7 L615.6,27.9 L621.5,24.3 L627.5,20.8 L633.4,17.5 L639.4,14.3 L645.3,11.2 L651.3,8.3 L657.2,5.6 L663.2,3.0 L669.1,0.5 L675.1,-1.8"/><path d="M443.0,213.7 L449.0,206.4 L454.9,199.2 L460.9,192.2 L466.8,185.4 L472.8,178.6 L478.7,172.0 L484.7,165.6 L490.6,159.3 L496.6,153.1 L502.5,147.1 L508.5,141.2 L514.4,135.5 L520.4,129.9 L526.3,124.4 L532.3,119.1 L538.2,113.9 L544.2,108.9 L550.1,104.0 L556.1,99.3 L562.0,94.7 L568.0,90.2 L573.9,85.9 L579.9,81.7 L585.8,77.6 L591.8,73.7 L597.7,70.0 L603.7,66.4 L609.6,62.9 L615.6,59.6 L621.5,56.4 L627.5,53.3 L633.4,50.4 L639.4,47.6 L645.3,45.0 L651.3,42.5 L657.2,40.2 L663.2,38.0 L669.1,35.9 L675.1,34.0"/><path d="M443.0,242.7 L449.0,235.2 L454.9,227.9 L460.9,220.7 L466.8,213.6 L472.8,206.7 L478.7,199.9 L484.7,193.3 L490.6,186.8 L496.6,180.4 L502.5,174.3 L508.5,168.2 L514.4,162.3 L520.4,156.5 L526.3,150.9 L532.3,145.5 L538.2,140.1 L544.2,135.0 L550.1,129.9 L556.1,125.0 L562.0,120.3 L568.0,115.7 L573.9,111.2 L579.9,106.9 L585.8,102.8 L591.8,98.7 L597.7,94.9 L603.7,91.1 L609.6,87.6 L615.6,84.1 L621.5,80.8 L627.5,77.7 L633.4,74.7 L639.4,71.8 L645.3,69.1 L651.3,66.5 L657.2,64.1 L663.2,61.8 L669.1,59.7 L675.1,57.7"/><path d="M443.0,214.8 L449.0,207.4 L454.9,200.1 L460.9,193.1 L466.8,186.2 L472.8,179.4 L478.7,172.9 L484.7,166.4 L490.6,160.2 L496.6,154.1 L502.5,148.2 L508.5,142.4 L514.4,136.8 L520.4,131.3 L526.3,126.0 L532.3,120.9 L538.2,116.0 L544.2,111.2 L550.1,106.5 L556.1,102.0 L562.0,97.7 L568.0,93.6 L573.9,89.6 L579.9,85.8 L585.8,82.1 L591.8,78.6 L597.7,75.3 L603.7,72.1 L609.6,69.1 L615.6,66.2 L621.5,63.5 L627.5,61.0 L633.4,58.6 L639.4,56.4 L645.3,54.3 L651.3,52.5 L657.2,50.7 L663.2,49.2 L669.1,47.8 L675.1,46.5"/><path d="M443.0,214.8 L449.0,207.4 L454.9,200.3 L460.9,193.3 L466.8,186.5 L472.8,179.8 L478.7,173.3 L484.7,167.0 L490.6,160.8 L496.6,154.8 L502.5,149.0 L508.5,143.3 L514.4,137.8 L520.4,132.4 L526.3,127.2 L532.3,122.2 L538.2,117.3 L544.2,112.6 L550.1,108.0 L556.1,103.6 L562.0,99.4 L568.0,95.3 L573.9,91.4 L579.9,87.6 L585.8,84.1 L591.8,80.6 L597.7,77.4 L603.7,74.3 L609.6,71.3 L615.6,68.6 L621.5,65.9 L627.5,63.5 L633.4,61.2 L639.4,59.1 L645.3,57.1 L651.3,55.3 L657.2,53.6 L663.2,52.2 L669.1,50.8 L675.1,49.7"/><path d="M443.0,287.0 L449.0,279.7 L454.9,272.5 L460.9,265.6 L466.8,258.7 L472.8,252.1 L478.7,245.6 L484.7,239.3 L490.6,233.1 L496.6,227.1 L502.5,221.3 L508.5,215.7 L514.4,210.2 L520.4,204.8 L526.3,199.7 L532.3,194.7 L538.2,189.8 L544.2,185.1 L550.1,180.6 L556.1,176.3 L562.0,172.1 L568.0,168.1 L573.9,164.2 L579.9,160.6 L585.8,157.0 L591.8,153.7 L597.7,150.5 L603.7,147.5 L609.6,144.6 L615.6,141.9 L621.5,139.4 L627.5,137.0 L633.4,134.8 L639.4,132.7 L645.3,130.9 L651.3,129.1 L657.2,127.6 L663.2,126.2 L669.1,125.0 L675.1,123.9"/><path d="M443.0,259.9 L449.0,252.1 L454.9,244.4 L460.9,236.9 L466.8,229.6 L472.8,222.4 L478.7,215.4 L484.7,208.6 L490.6,201.9 L496.6,195.4 L502.5,189.1 L508.5,182.9 L514.4,176.9 L520.4,171.0 L526.3,165.3 L532.3,159.8 L538.2,154.4 L544.2,149.2 L550.1,144.2 L556.1,139.3 L562.0,134.6 L568.0,130.0 L573.9,125.7 L579.9,121.4 L585.8,117.4 L591.8,113.5 L597.7,109.8 L603.7,106.2 L609.6,102.8 L615.6,99.5 L621.5,96.5 L627.5,93.5 L633.4,90.8 L639.4,88.2 L645.3,85.8 L651.3,83.5 L657.2,81.4 L663.2,79.5 L669.1,77.7 L675.1,76.1"/><path d="M443.0,196.7 L449.0,189.3 L454.9,182.0 L460.9,174.9 L466.8,167.9 L472.8,161.1 L478.7,154.4 L484.7,147.9 L490.6,141.4 L496.6,135.2 L502.5,129.0 L508.5,123.0 L514.4,117.2 L520.4,111.4 L526.3,105.8 L532.3,100.4 L538.2,95.1 L544.2,89.9 L550.1,84.9 L556.1,80.0 L562.0,75.2 L568.0,70.6 L573.9,66.1 L579.9,61.8 L585.8,57.6 L591.8,53.5 L597.7,49.6 L603.7,45.8 L609.6,42.2 L615.6,38.7 L621.5,35.3 L627.5,32.1 L633.4,29.0 L639.4,26.1 L645.3,23.2 L651.3,20.6 L657.2,18.0 L663.2,15.6 L669.1,13.4 L675.1,11.2"/><path d="M443.0,242.2 L449.0,235.0 L454.9,227.9 L460.9,220.9 L466.8,214.1 L472.8,207.4 L478.7,200.9 L484.7,194.5 L490.6,188.3 L496.6,182.2 L502.5,176.3 L508.5,170.5 L514.4,164.9 L520.4,159.4 L526.3,154.1 L532.3,148.9 L538.2,143.9 L544.2,139.0 L550.1,134.3 L556.1,129.7 L562.0,125.3 L568.0,121.0 L573.9,116.8 L579.9,112.9 L585.8,109.0 L591.8,105.3 L597.7,101.8 L603.7,98.4 L609.6,95.2 L615.6,92.1 L621.5,89.2 L627.5,86.4 L633.4,83.7 L639.4,81.2 L645.3,78.9 L651.3,76.7 L657.2,74.7 L663.2,72.8 L669.1,71.0 L675.1,69.4"/><path d="M443.0,266.5 L449.0,259.2 L454.9,252.0 L460.9,245.0 L466.8,238.2 L472.8,231.4 L478.7,224.9 L484.7,218.4 L490.6,212.1 L496.6,206.0 L502.5,200.0 L508.5,194.2 L514.4,188.5 L520.4,183.0 L526.3,177.6 L532.3,172.3 L538.2,167.2 L544.2,162.3 L550.1,157.5 L556.1,152.8 L562.0,148.3 L568.0,144.0 L573.9,139.7 L579.9,135.7 L585.8,131.8 L591.8,128.0 L597.7,124.4 L603.7,120.9 L609.6,117.6 L615.6,114.4 L621.5,111.4 L627.5,108.5 L633.4,105.8 L639.4,103.2 L645.3,100.7 L651.3,98.4 L657.2,96.3 L663.2,94.3 L669.1,92.5 L675.1,90.8"/><path d="M443.0,258.1 L449.0,250.5 L454.9,243.1 L460.9,235.9 L466.8,228.7 L472.8,221.8 L478.7,214.9 L484.7,208.3 L490.6,201.7 L496.6,195.4 L502.5,189.1 L508.5,183.0 L514.4,177.1 L520.4,171.3 L526.3,165.7 L532.3,160.2 L538.2,154.8 L544.2,149.6 L550.1,144.6 L556.1,139.7 L562.0,134.9 L568.0,130.3 L573.9,125.8 L579.9,121.5 L585.8,117.4 L591.8,113.3 L597.7,109.5 L603.7,105.7 L609.6,102.2 L615.6,98.7 L621.5,95.4 L627.5,92.3 L633.4,89.3 L639.4,86.5 L645.3,83.8 L651.3,81.2 L657.2,78.8 L663.2,76.6 L669.1,74.5 L675.1,72.5"/><path d="M443.0,243.3 L449.0,235.8 L454.9,228.4 L460.9,221.1 L466.8,214.1 L472.8,207.1 L478.7,200.4 L484.7,193.7 L490.6,187.3 L496.6,181.0 L502.5,174.8 L508.5,168.8 L514.4,163.0 L520.4,157.3 L526.3,151.8 L532.3,146.4 L538.2,141.2 L544.2,136.2 L550.1,131.3 L556.1,126.5 L562.0,122.0 L568.0,117.5 L573.9,113.3 L579.9,109.1 L585.8,105.2 L591.8,101.4 L597.7,97.7 L603.7,94.3 L609.6,90.9 L615.6,87.7 L621.5,84.7 L627.5,81.9 L633.4,79.2 L639.4,76.6 L645.3,74.2 L651.3,72.0 L657.2,69.9 L663.2,68.0 L669.1,66.2 L675.1,64.6"/><path d="M443.0,275.0 L449.0,267.4 L454.9,260.0 L460.9,252.7 L466.8,245.6 L472.8,238.6 L478.7,231.7 L484.7,225.0 L490.6,218.4 L496.6,212.0 L502.5,205.7 L508.5,199.5 L514.4,193.5 L520.4,187.6 L526.3,181.9 L532.3,176.3 L538.2,170.8 L544.2,165.5 L550.1,160.3 L556.1,155.3 L562.0,150.4 L568.0,145.6 L573.9,141.0 L579.9,136.5 L585.8,132.2 L591.8,128.0 L597.7,123.9 L603.7,120.0 L609.6,116.2 L615.6,112.5 L621.5,109.0 L627.5,105.7 L633.4,102.4 L639.4,99.3 L645.3,96.4 L651.3,93.6 L657.2,90.9 L663.2,88.4 L669.1,86.0 L675.1,83.7"/><path d="M443.0,279.0 L449.0,271.7 L454.9,264.6 L460.9,257.6 L466.8,250.7 L472.8,244.0 L478.7,237.5 L484.7,231.1 L490.6,224.8 L496.6,218.7 L502.5,212.7 L508.5,206.8 L514.4,201.2 L520.4,195.6 L526.3,190.2 L532.3,184.9 L538.2,179.8 L544.2,174.9 L550.1,170.0 L556.1,165.3 L562.0,160.8 L568.0,156.4 L573.9,152.2 L579.9,148.1 L585.8,144.1 L591.8,140.3 L597.7,136.6 L603.7,133.1 L609.6,129.7 L615.6,126.5 L621.5,123.4 L627.5,120.4 L633.4,117.6 L639.4,115.0 L645.3,112.4 L651.3,110.1 L657.2,107.9 L663.2,105.8 L669.1,103.8 L675.1,102.0"/><path d="M443.0,236.9 L449.0,229.4 L454.9,222.0 L460.9,214.8 L466.8,207.8 L472.8,200.9 L478.7,194.2 L484.7,187.6 L490.6,181.2 L496.6,175.0 L502.5,168.9 L508.5,163.0 L514.4,157.2 L520.4,151.6 L526.3,146.2 L532.3,140.9 L538.2,135.8 L544.2,130.9 L550.1,126.1 L556.1,121.4 L562.0,117.0 L568.0,112.7 L573.9,108.5 L579.9,104.5 L585.8,100.7 L591.8,97.0 L597.7,93.5 L603.7,90.2 L609.6,87.0 L615.6,84.0 L621.5,81.1 L627.5,78.4 L633.4,75.9 L639.4,73.5 L645.3,71.3 L651.3,69.2 L657.2,67.3 L663.2,65.6 L669.1,64.0 L675.1,62.6"/><path d="M443.0,204.3 L449.0,197.2 L454.9,190.3 L460.9,183.6 L466.8,176.9 L472.8,170.4 L478.7,164.0 L484.7,157.8 L490.6,151.7 L496.6,145.7 L502.5,139.8 L508.5,134.1 L514.4,128.5 L520.4,123.1 L526.3,117.7 L532.3,112.5 L538.2,107.4 L544.2,102.5 L550.1,97.7 L556.1,93.0 L562.0,88.4 L568.0,84.0 L573.9,79.7 L579.9,75.5 L585.8,71.5 L591.8,67.6 L597.7,63.8 L603.7,60.2 L609.6,56.6 L615.6,53.3 L621.5,50.0 L627.5,46.9 L633.4,43.9 L639.4,41.0 L645.3,38.3 L651.3,35.7 L657.2,33.2 L663.2,30.8 L669.1,28.6 L675.1,26.5"/><path d="M443.0,245.0 L449.0,237.7 L454.9,230.5 L460.9,223.5 L466.8,216.6 L472.8,209.9 L478.7,203.3 L484.7,196.8 L490.6,190.5 L496.6,184.3 L502.5,178.3 L508.5,172.4 L514.4,166.6 L520.4,161.0 L526.3,155.5 L532.3,150.2 L538.2,145.0 L544.2,139.9 L550.1,135.0 L556.1,130.2 L562.0,125.6 L568.0,121.1 L573.9,116.7 L579.9,112.5 L585.8,108.5 L591.8,104.5 L597.7,100.7 L603.7,97.1 L609.6,93.6 L615.6,90.2 L621.5,87.0 L627.5,83.9 L633.4,80.9 L639.4,78.1 L645.3,75.5 L651.3,72.9 L657.2,70.5 L663.2,68.3 L669.1,66.2 L675.1,64.2"/><path d="M443.0,311.6 L449.0,304.3 L454.9,297.1 L460.9,290.2 L466.8,283.3 L472.8,276.6 L478.7,270.1 L484.7,263.7 L490.6,257.5 L496.6,251.4 L502.5,245.5 L508.5,239.7 L514.4,234.1 L520.4,228.7 L526.3,223.4 L532.3,218.2 L538.2,213.2 L544.2,208.4 L550.1,203.7 L556.1,199.2 L562.0,194.8 L568.0,190.5 L573.9,186.5 L579.9,182.5 L585.8,178.8 L591.8,175.1 L597.7,171.7 L603.7,168.4 L609.6,165.2 L615.6,162.2 L621.5,159.4 L627.5,156.7 L633.4,154.1 L639.4,151.7 L645.3,149.5 L651.3,147.4 L657.2,145.5 L663.2,143.7 L669.1,142.1 L675.1,140.6"/><path d="M443.0,323.9 L449.0,316.6 L454.9,309.4 L460.9,302.4 L466.8,295.5 L472.8,288.8 L478.7,282.3 L484.7,275.8 L490.6,269.6 L496.6,263.5 L502.5,257.5 L508.5,251.7 L514.4,246.1 L520.4,240.6 L526.3,235.3 L532.3,230.1 L538.2,225.1 L544.2,220.2 L550.1,215.5 L556.1,210.9 L562.0,206.5 L568.0,202.2 L573.9,198.1 L579.9,194.1 L585.8,190.3 L591.8,186.7 L597.7,183.2 L603.7,179.8 L609.6,176.6 L615.6,173.6 L621.5,170.7 L627.5,168.0 L633.4,165.4 L639.4,163.0 L645.3,160.7 L651.3,158.6 L657.2,156.6 L663.2,154.8 L669.1,153.1 L675.1,151.6"/><path d="M443.0,266.9 L449.0,259.2 L454.9,251.7 L460.9,244.3 L466.8,237.1 L472.8,230.0 L478.7,223.1 L484.7,216.3 L490.6,209.7 L496.6,203.3 L502.5,197.0 L508.5,190.8 L514.4,184.8 L520.4,179.0 L526.3,173.3 L532.3,167.7 L538.2,162.3 L544.2,157.1 L550.1,152.0 L556.1,147.0 L562.0,142.3 L568.0,137.6 L573.9,133.1 L579.9,128.8 L585.8,124.6 L591.8,120.6 L597.7,116.8 L603.7,113.0 L609.6,109.5 L615.6,106.1 L621.5,102.8 L627.5,99.7 L633.4,96.7 L639.4,93.9 L645.3,91.3 L651.3,88.8 L657.2,86.4 L663.2,84.2 L669.1,82.2 L675.1,80.3"/><path d="M443.0,216.1 L449.0,208.7 L454.9,201.5 L460.9,194.4 L466.8,187.4 L472.8,180.6 L478.7,173.9 L484.7,167.3 L490.6,160.9 L496.6,154.7 L502.5,148.6 L508.5,142.6 L514.4,136.8 L520.4,131.2 L526.3,125.6 L532.3,120.3 L538.2,115.0 L544.2,109.9 L550.1,105.0 L556.1,100.2 L562.0,95.6 L568.0,91.0 L573.9,86.7 L579.9,82.5 L585.8,78.4 L591.8,74.5 L597.7,70.7 L603.7,67.0 L609.6,63.5 L615.6,60.2 L621.5,57.0 L627.5,53.9 L633.4,51.0 L639.4,48.2 L645.3,45.6 L651.3,43.1 L657.2,40.8 L663.2,38.6 L669.1,36.6 L675.1,34.7"/><path d="M443.0,210.4 L449.0,203.1 L454.9,196.0 L460.9,189.1 L466.8,182.2 L472.8,175.6 L478.7,169.1 L484.7,162.7 L490.6,156.5 L496.6,150.4 L502.5,144.5 L508.5,138.7 L514.4,133.1 L520.4,127.7 L526.3,122.4 L532.3,117.2 L538.2,112.2 L544.2,107.3 L550.1,102.6 L556.1,98.1 L562.0,93.7 L568.0,89.4 L573.9,85.3 L579.9,81.4 L585.8,77.6 L591.8,73.9 L597.7,70.4 L603.7,67.1 L609.6,63.9 L615.6,60.8 L621.5,57.9 L627.5,55.2 L633.4,52.6 L639.4,50.2 L645.3,47.9 L651.3,45.7 L657.2,43.7 L663.2,41.9 L669.1,40.2 L675.1,38.7"/><path d="M443.0,318.6 L449.0,311.2 L454.9,304.0 L460.9,297.0 L466.8,290.1 L472.8,283.4 L478.7,276.8 L484.7,270.4 L490.6,264.2 L496.6,258.1 L502.5,252.2 L508.5,246.4 L514.4,240.8 L520.4,235.4 L526.3,230.1 L532.3,225.0 L538.2,220.1 L544.2,215.3 L550.1,210.6 L556.1,206.2 L562.0,201.8 L568.0,197.7 L573.9,193.7 L579.9,189.9 L585.8,186.2 L591.8,182.7 L597.7,179.4 L603.7,176.2 L609.6,173.2 L615.6,170.3 L621.5,167.6 L627.5,165.1 L633.4,162.7 L639.4,160.5 L645.3,158.4 L651.3,156.5 L657.2,154.8 L663.2,153.2 L669.1,151.8 L675.1,150.5"/><path d="M443.0,202.6 L449.0,194.8 L454.9,187.1 L460.9,179.6 L466.8,172.2 L472.8,165.0 L478.7,157.9 L484.7,150.9 L490.6,144.2 L496.6,137.5 L502.5,131.0 L508.5,124.7 L514.4,118.5 L520.4,112.4 L526.3,106.5 L532.3,100.8 L538.2,95.2 L544.2,89.7 L550.1,84.4 L556.1,79.2 L562.0,74.2 L568.0,69.3 L573.9,64.6 L579.9,60.1 L585.8,55.6 L591.8,51.4 L597.7,47.2 L603.7,43.3 L609.6,39.4 L615.6,35.7 L621.5,32.2 L627.5,28.8 L633.4,25.6 L639.4,22.5 L645.3,19.6 L651.3,16.8 L657.2,14.1 L663.2,11.6 L669.1,9.3 L675.1,7.1"/><path d="M443.0,222.3 L449.0,214.7 L454.9,207.3 L460.9,200.0 L466.8,192.9 L472.8,185.9 L478.7,179.1 L484.7,172.4 L490.6,165.9 L496.6,159.5 L502.5,153.3 L508.5,147.3 L514.4,141.4 L520.4,135.7 L526.3,130.1 L532.3,124.6 L538.2,119.4 L544.2,114.2 L550.1,109.3 L556.1,104.5 L562.0,99.8 L568.0,95.3 L573.9,91.0 L579.9,86.8 L585.8,82.7 L591.8,78.8 L597.7,75.1 L603.7,71.5 L609.6,68.1 L615.6,64.8 L621.5,61.7 L627.5,58.8 L633.4,56.0 L639.4,53.3 L645.3,50.8 L651.3,48.5 L657.2,46.3 L663.2,44.3 L669.1,42.4 L675.1,40.7"/><path d="M443.0,257.0 L449.0,249.5 L454.9,242.1 L460.9,234.9 L466.8,227.9 L472.8,221.0 L478.7,214.2 L484.7,207.6 L490.6,201.1 L496.6,194.8 L502.5,188.6 L508.5,182.5 L514.4,176.6 L520.4,170.9 L526.3,165.3 L532.3,159.9 L538.2,154.6 L544.2,149.4 L550.1,144.4 L556.1,139.6 L562.0,134.8 L568.0,130.3 L573.9,125.9 L579.9,121.6 L585.8,117.5 L591.8,113.5 L597.7,109.7 L603.7,106.0 L609.6,102.5 L615.6,99.1 L621.5,95.8 L627.5,92.8 L633.4,89.8 L639.4,87.0 L645.3,84.4 L651.3,81.9 L657.2,79.5 L663.2,77.3 L669.1,75.2 L675.1,73.3"/><path d="M443.0,207.4 L449.0,200.2 L454.9,193.1 L460.9,186.2 L466.8,179.5 L472.8,172.9 L478.7,166.4 L484.7,160.1 L490.6,154.0 L496.6,148.0 L502.5,142.2 L508.5,136.5 L514.4,131.0 L520.4,125.6 L526.3,120.4 L532.3,115.4 L538.2,110.5 L544.2,105.7 L550.1,101.2 L556.1,96.7 L562.0,92.5 L568.0,88.3 L573.9,84.4 L579.9,80.6 L585.8,76.9 L591.8,73.4 L597.7,70.1 L603.7,66.9 L609.6,63.9 L615.6,61.0 L621.5,58.3 L627.5,55.7 L633.4,53.3 L639.4,51.1 L645.3,49.0 L651.3,47.0 L657.2,45.2 L663.2,43.6 L669.1,42.1 L675.1,40.8"/><path d="M443.0,190.7 L449.0,183.3 L454.9,176.1 L460.9,169.1 L466.8,162.2 L472.8,155.5 L478.7,149.0 L484.7,142.5 L490.6,136.3 L496.6,130.1 L502.5,124.2 L508.5,118.4 L514.4,112.7 L520.4,107.2 L526.3,101.8 L532.3,96.6 L538.2,91.5 L544.2,86.6 L550.1,81.9 L556.1,77.3 L562.0,72.8 L568.0,68.5 L573.9,64.3 L579.9,60.3 L585.8,56.5 L591.8,52.8 L597.7,49.2 L603.7,45.8 L609.6,42.6 L615.6,39.5 L621.5,36.5 L627.5,33.7 L633.4,31.1 L639.4,28.6 L645.3,26.3 L651.3,24.1 L657.2,22.0 L663.2,20.2 L669.1,18.4 L675.1,16.8"/><path d="M443.0,267.6 L449.0,260.2 L454.9,253.0 L460.9,246.0 L466.8,239.1 L472.8,232.3 L478.7,225.7 L484.7,219.3 L490.6,213.1 L496.6,207.0 L502.5,201.0 L508.5,195.2 L514.4,189.6 L520.4,184.2 L526.3,178.9 L532.3,173.7 L538.2,168.7 L544.2,163.9 L550.1,159.2 L556.1,154.7 L562.0,150.4 L568.0,146.2 L573.9,142.2 L579.9,138.3 L585.8,134.6 L591.8,131.0 L597.7,127.6 L603.7,124.4 L609.6,121.3 L615.6,118.4 L621.5,115.6 L627.5,113.0 L633.4,110.6 L639.4,108.3 L645.3,106.2 L651.3,104.3 L657.2,102.5 L663.2,100.8 L669.1,99.3 L675.1,98.0"/><path d="M443.0,302.3 L449.0,294.7 L454.9,287.2 L460.9,279.9 L466.8,272.8 L472.8,265.8 L478.7,258.9 L484.7,252.2 L490.6,245.7 L496.6,239.3 L502.5,233.1 L508.5,227.0 L514.4,221.1 L520.4,215.3 L526.3,209.7 L532.3,204.3 L538.2,199.0 L544.2,193.9 L550.1,188.9 L556.1,184.0 L562.0,179.4 L568.0,174.8 L573.9,170.5 L579.9,166.2 L585.8,162.2 L591.8,158.3 L597.7,154.5 L603.7,150.9 L609.6,147.5 L615.6,144.2 L621.5,141.1 L627.5,138.1 L633.4,135.3 L639.4,132.6 L645.3,130.1 L651.3,127.7 L657.2,125.5 L663.2,123.5 L669.1,121.6 L675.1,119.8"/><path d="M443.0,212.3 L449.0,204.6 L454.9,197.0 L460.9,189.6 L466.8,182.4 L472.8,175.3 L478.7,168.3 L484.7,161.6 L490.6,154.9 L496.6,148.5 L502.5,142.2 L508.5,136.0 L514.4,130.0 L520.4,124.2 L526.3,118.5 L532.3,113.0 L538.2,107.6 L544.2,102.4 L550.1,97.3 L556.1,92.4 L562.0,87.7 L568.0,83.1 L573.9,78.7 L579.9,74.4 L585.8,70.3 L591.8,66.4 L597.7,62.6 L603.7,58.9 L609.6,55.4 L615.6,52.1 L621.5,48.9 L627.5,45.9 L633.4,43.1 L639.4,40.4 L645.3,37.8 L651.3,35.4 L657.2,33.2 L663.2,31.1 L669.1,29.2 L675.1,27.5"/><path d="M443.0,251.4 L449.0,243.6 L454.9,236.1 L460.9,228.6 L466.8,221.4 L472.8,214.3 L478.7,207.3 L484.7,200.5 L490.6,193.9 L496.6,187.5 L502.5,181.1 L508.5,175.0 L514.4,169.0 L520.4,163.2 L526.3,157.5 L532.3,152.0 L538.2,146.7 L544.2,141.5 L550.1,136.5 L556.1,131.6 L562.0,126.9 L568.0,122.4 L573.9,118.0 L579.9,113.8 L585.8,109.7 L591.8,105.8 L597.7,102.0 L603.7,98.5 L609.6,95.0 L615.6,91.8 L621.5,88.7 L627.5,85.7 L633.4,82.9 L639.4,80.3 L645.3,77.8 L651.3,75.5 L657.2,73.4 L663.2,71.4 L669.1,69.6 L675.1,67.9"/><path d="M443.0,261.9 L449.0,254.4 L454.9,247.1 L460.9,239.9 L466.8,232.8 L472.8,225.9 L478.7,219.2 L484.7,212.7 L490.6,206.3 L496.6,200.1 L502.5,194.0 L508.5,188.1 L514.4,182.4 L520.4,176.8 L526.3,171.4 L532.3,166.2 L538.2,161.1 L544.2,156.2 L550.1,151.5 L556.1,146.9 L562.0,142.5 L568.0,138.2 L573.9,134.1 L579.9,130.2 L585.8,126.4 L591.8,122.8 L597.7,119.4 L603.7,116.1 L609.6,113.0 L615.6,110.0 L621.5,107.2 L627.5,104.6 L633.4,102.1 L639.4,99.8 L645.3,97.7 L651.3,95.7 L657.2,93.9 L663.2,92.3 L669.1,90.8 L675.1,89.5"/><path d="M443.0,223.3 L449.0,215.9 L454.9,208.5 L460.9,201.3 L466.8,194.3 L472.8,187.3 L478.7,180.6 L484.7,173.9 L490.6,167.5 L496.6,161.1 L502.5,154.9 L508.5,148.9 L514.4,142.9 L520.4,137.2 L526.3,131.5 L532.3,126.0 L538.2,120.7 L544.2,115.5 L550.1,110.4 L556.1,105.5 L562.0,100.7 L568.0,96.1 L573.9,91.6 L579.9,87.3 L585.8,83.1 L591.8,79.0 L597.7,75.1 L603.7,71.3 L609.6,67.7 L615.6,64.2 L621.5,60.8 L627.5,57.6 L633.4,54.6 L639.4,51.6 L645.3,48.9 L651.3,46.2 L657.2,43.7 L663.2,41.4 L669.1,39.2 L675.1,37.1"/><path d="M443.0,226.2 L449.0,218.8 L454.9,211.6 L460.9,204.5 L466.8,197.6 L472.8,190.9 L478.7,184.2 L484.7,177.8 L490.6,171.5 L496.6,165.3 L502.5,159.3 L508.5,153.4 L514.4,147.7 L520.4,142.2 L526.3,136.7 L532.3,131.5 L538.2,126.4 L544.2,121.4 L550.1,116.6 L556.1,111.9 L562.0,107.4 L568.0,103.0 L573.9,98.8 L579.9,94.8 L585.8,90.9 L591.8,87.1 L597.7,83.5 L603.7,80.0 L609.6,76.7 L615.6,73.5 L621.5,70.5 L627.5,67.7 L633.4,64.9 L639.4,62.4 L645.3,60.0 L651.3,57.7 L657.2,55.6 L663.2,53.6 L669.1,51.8 L675.1,50.1"/><path d="M443.0,256.0 L449.0,248.3 L454.9,240.8 L460.9,233.4 L466.8,226.2 L472.8,219.1 L478.7,212.2 L484.7,205.5 L490.6,198.9 L496.6,192.4 L502.5,186.2 L508.5,180.1 L514.4,174.1 L520.4,168.3 L526.3,162.7 L532.3,157.2 L538.2,151.9 L544.2,146.7 L550.1,141.8 L556.1,136.9 L562.0,132.2 L568.0,127.7 L573.9,123.4 L579.9,119.2 L585.8,115.1 L591.8,111.2 L597.7,107.5 L603.7,104.0 L609.6,100.5 L615.6,97.3 L621.5,94.2 L627.5,91.3 L633.4,88.5 L639.4,85.9 L645.3,83.5 L651.3,81.2 L657.2,79.1 L663.2,77.1 L669.1,75.3 L675.1,73.6"/><path d="M443.0,240.4 L449.0,233.1 L454.9,225.9 L460.9,218.9 L466.8,212.0 L472.8,205.3 L478.7,198.8 L484.7,192.4 L490.6,186.1 L496.6,180.0 L502.5,174.1 L508.5,168.3 L514.4,162.7 L520.4,157.2 L526.3,151.9 L532.3,146.7 L538.2,141.7 L544.2,136.9 L550.1,132.2 L556.1,127.6 L562.0,123.3 L568.0,119.0 L573.9,115.0 L579.9,111.0 L585.8,107.3 L591.8,103.6 L597.7,100.2 L603.7,96.9 L609.6,93.7 L615.6,90.7 L621.5,87.9 L627.5,85.2 L633.4,82.7 L639.4,80.3 L645.3,78.1 L651.3,76.0 L657.2,74.1 L663.2,72.3 L669.1,70.7 L675.1,69.3"/><path d="M443.0,216.1 L449.0,208.5 L454.9,201.1 L460.9,193.8 L466.8,186.7 L472.8,179.7 L478.7,172.8 L484.7,166.1 L490.6,159.6 L496.6,153.2 L502.5,146.9 L508.5,140.8 L514.4,134.8 L520.4,129.0 L526.3,123.4 L532.3,117.8 L538.2,112.5 L544.2,107.2 L550.1,102.1 L556.1,97.2 L562.0,92.4 L568.0,87.8 L573.9,83.3 L579.9,78.9 L585.8,74.7 L591.8,70.7 L597.7,66.8 L603.7,63.0 L609.6,59.4 L615.6,55.9 L621.5,52.6 L627.5,49.4 L633.4,46.4 L639.4,43.5 L645.3,40.8 L651.3,38.2 L657.2,35.8 L663.2,33.5 L669.1,31.3 L675.1,29.3"/><path d="M443.0,263.1 L449.0,255.6 L454.9,248.2 L460.9,241.0 L466.8,233.9 L472.8,227.0 L478.7,220.2 L484.7,213.6 L490.6,207.2 L496.6,200.9 L502.5,194.7 L508.5,188.7 L514.4,182.9 L520.4,177.2 L526.3,171.7 L532.3,166.3 L538.2,161.0 L544.2,156.0 L550.1,151.0 L556.1,146.3 L562.0,141.6 L568.0,137.2 L573.9,132.9 L579.9,128.7 L585.8,124.7 L591.8,120.8 L597.7,117.1 L603.7,113.6 L609.6,110.2 L615.6,106.9 L621.5,103.8 L627.5,100.9 L633.4,98.1 L639.4,95.4 L645.3,93.0 L651.3,90.6 L657.2,88.5 L663.2,86.4 L669.1,84.5 L675.1,82.8"/><path d="M443.0,263.1 L449.0,255.5 L454.9,248.0 L460.9,240.7 L466.8,233.6 L472.8,226.6 L478.7,219.7 L484.7,213.1 L490.6,206.5 L496.6,200.1 L502.5,193.9 L508.5,187.8 L514.4,181.9 L520.4,176.1 L526.3,170.5 L532.3,165.0 L538.2,159.7 L544.2,154.5 L550.1,149.5 L556.1,144.6 L562.0,139.9 L568.0,135.3 L573.9,130.9 L579.9,126.6 L585.8,122.5 L591.8,118.6 L597.7,114.8 L603.7,111.1 L609.6,107.6 L615.6,104.3 L621.5,101.1 L627.5,98.0 L633.4,95.1 L639.4,92.4 L645.3,89.8 L651.3,87.4 L657.2,85.1 L663.2,83.0 L669.1,81.0 L675.1,79.2"/><path d="M443.0,245.1 L449.0,237.7 L454.9,230.5 L460.9,223.5 L466.8,216.6 L472.8,209.9 L478.7,203.3 L484.7,196.9 L490.6,190.6 L496.6,184.6 L502.5,178.6 L508.5,172.9 L514.4,167.3 L520.4,161.8 L526.3,156.5 L532.3,151.4 L538.2,146.5 L544.2,141.6 L550.1,137.0 L556.1,132.5 L562.0,128.2 L568.0,124.0 L573.9,120.0 L579.9,116.2 L585.8,112.5 L591.8,108.9 L597.7,105.6 L603.7,102.4 L609.6,99.3 L615.6,96.4 L621.5,93.7 L627.5,91.1 L633.4,88.7 L639.4,86.5 L645.3,84.4 L651.3,82.4 L657.2,80.7 L663.2,79.1 L669.1,77.6 L675.1,76.3"/><path d="M443.0,275.7 L449.0,268.1 L454.9,260.7 L460.9,253.4 L466.8,246.2 L472.8,239.3 L478.7,232.4 L484.7,225.8 L490.6,219.3 L496.6,212.9 L502.5,206.7 L508.5,200.6 L514.4,194.7 L520.4,189.0 L526.3,183.4 L532.3,178.0 L538.2,172.7 L544.2,167.6 L550.1,162.6 L556.1,157.8 L562.0,153.2 L568.0,148.7 L573.9,144.3 L579.9,140.1 L585.8,136.1 L591.8,132.2 L597.7,128.5 L603.7,124.9 L609.6,121.5 L615.6,118.2 L621.5,115.1 L627.5,112.2 L633.4,109.4 L639.4,106.7 L645.3,104.3 L651.3,101.9 L657.2,99.7 L663.2,97.7 L669.1,95.9 L675.1,94.1"/><path d="M443.0,277.4 L449.0,269.7 L454.9,262.1 L460.9,254.7 L466.8,247.4 L472.8,240.3 L478.7,233.3 L484.7,226.5 L490.6,219.8 L496.6,213.3 L502.5,206.9 L508.5,200.7 L514.4,194.6 L520.4,188.6 L526.3,182.8 L532.3,177.2 L538.2,171.7 L544.2,166.3 L550.1,161.1 L556.1,156.1 L562.0,151.2 L568.0,146.4 L573.9,141.8 L579.9,137.3 L585.8,133.0 L591.8,128.9 L597.7,124.8 L603.7,121.0 L609.6,117.2 L615.6,113.7 L621.5,110.2 L627.5,107.0 L633.4,103.8 L639.4,100.9 L645.3,98.0 L651.3,95.3 L657.2,92.8 L663.2,90.4 L669.1,88.2 L675.1,86.1"/><path d="M443.0,322.3 L449.0,314.9 L454.9,307.6 L460.9,300.5 L466.8,293.5 L472.8,286.7 L478.7,280.0 L484.7,273.4 L490.6,267.0 L496.6,260.8 L502.5,254.7 L508.5,248.7 L514.4,242.9 L520.4,237.2 L526.3,231.7 L532.3,226.3 L538.2,221.1 L544.2,216.0 L550.1,211.1 L556.1,206.3 L562.0,201.7 L568.0,197.2 L573.9,192.8 L579.9,188.6 L585.8,184.5 L591.8,180.6 L597.7,176.9 L603.7,173.3 L609.6,169.8 L615.6,166.5 L621.5,163.3 L627.5,160.2 L633.4,157.4 L639.4,154.6 L645.3,152.0 L651.3,149.6 L657.2,147.3 L663.2,145.1 L669.1,143.1 L675.1,141.2"/><path d="M443.0,198.1 L449.0,190.5 L454.9,183.0 L460.9,175.7 L466.8,168.5 L472.8,161.4 L478.7,154.5 L484.7,147.7 L490.6,141.0 L496.6,134.5 L502.5,128.2 L508.5,121.9 L514.4,115.8 L520.4,109.9 L526.3,104.1 L532.3,98.4 L538.2,92.8 L544.2,87.4 L550.1,82.2 L556.1,77.1 L562.0,72.1 L568.0,67.2 L573.9,62.5 L579.9,58.0 L585.8,53.5 L591.8,49.2 L597.7,45.1 L603.7,41.1 L609.6,37.2 L615.6,33.5 L621.5,29.9 L627.5,26.4 L633.4,23.1 L639.4,19.9 L645.3,16.9 L651.3,14.0 L657.2,11.2 L663.2,8.6 L669.1,6.1 L675.1,3.7"/><path d="M443.0,218.0 L449.0,210.3 L454.9,202.7 L460.9,195.4 L466.8,188.1 L472.8,181.1 L478.7,174.2 L484.7,167.4 L490.6,160.8 L496.6,154.4 L502.5,148.1 L508.5,142.0 L514.4,136.1 L520.4,130.3 L526.3,124.6 L532.3,119.1 L538.2,113.8 L544.2,108.6 L550.1,103.6 L556.1,98.7 L562.0,94.0 L568.0,89.5 L573.9,85.1 L579.9,80.9 L585.8,76.8 L591.8,72.9 L597.7,69.1 L603.7,65.5 L609.6,62.1 L615.6,58.8 L621.5,55.6 L627.5,52.7 L633.4,49.8 L639.4,47.2 L645.3,44.7 L651.3,42.3 L657.2,40.1 L663.2,38.1 L669.1,36.2 L675.1,34.5"/><path d="M443.0,201.1 L449.0,193.7 L454.9,186.4 L460.9,179.4 L466.8,172.5 L472.8,165.7 L478.7,159.1 L484.7,152.7 L490.6,146.4 L496.6,140.2 L502.5,134.3 L508.5,128.4 L514.4,122.8 L520.4,117.3 L526.3,111.9 L532.3,106.7 L538.2,101.7 L544.2,96.8 L550.1,92.1 L556.1,87.5 L562.0,83.1 L568.0,78.9 L573.9,74.8 L579.9,70.9 L585.8,67.1 L591.8,63.5 L597.7,60.0 L603.7,56.7 L609.6,53.5 L615.6,50.5 L621.5,47.7 L627.5,45.0 L633.4,42.5 L639.4,40.1 L645.3,37.9 L651.3,35.9 L657.2,34.0 L663.2,32.2 L669.1,30.6 L675.1,29.2"/><path d="M443.0,214.0 L449.0,206.5 L454.9,199.0 L460.9,191.8 L466.8,184.7 L472.8,177.8 L478.7,171.0 L484.7,164.4 L490.6,158.0 L496.6,151.7 L502.5,145.6 L508.5,139.6 L514.4,133.8 L520.4,128.2 L526.3,122.8 L532.3,117.5 L538.2,112.3 L544.2,107.4 L550.1,102.5 L556.1,97.9 L562.0,93.4 L568.0,89.1 L573.9,84.9 L579.9,81.0 L585.8,77.1 L591.8,73.5 L597.7,70.0 L603.7,66.6 L609.6,63.4 L615.6,60.4 L621.5,57.6 L627.5,54.9 L633.4,52.4 L639.4,50.0 L645.3,47.8 L651.3,45.8 L657.2,43.9 L663.2,42.2 L669.1,40.7 L675.1,39.3"/><path d="M443.0,284.7 L449.0,277.1 L454.9,269.6 L460.9,262.3 L466.8,255.2 L472.8,248.2 L478.7,241.4 L484.7,234.7 L490.6,228.2 L496.6,221.8 L502.5,215.6 L508.5,209.6 L514.4,203.7 L520.4,197.9 L526.3,192.3 L532.3,186.9 L538.2,181.6 L544.2,176.5 L550.1,171.5 L556.1,166.7 L562.0,162.1 L568.0,157.6 L573.9,153.2 L579.9,149.0 L585.8,145.0 L591.8,141.1 L597.7,137.4 L603.7,133.8 L609.6,130.4 L615.6,127.1 L621.5,124.0 L627.5,121.0 L633.4,118.2 L639.4,115.6 L645.3,113.1 L651.3,110.7 L657.2,108.6 L663.2,106.5 L669.1,104.7 L675.1,102.9"/><path d="M443.0,207.0 L449.0,199.8 L454.9,192.7 L460.9,185.8 L466.8,179.1 L472.8,172.4 L478.7,166.0 L484.7,159.7 L490.6,153.5 L496.6,147.5 L502.5,141.6 L508.5,135.8 L514.4,130.3 L520.4,124.8 L526.3,119.5 L532.3,114.4 L538.2,109.4 L544.2,104.5 L550.1,99.8 L556.1,95.2 L562.0,90.8 L568.0,86.5 L573.9,82.4 L579.9,78.4 L585.8,74.6 L591.8,70.9 L597.7,67.3 L603.7,63.9 L609.6,60.7 L615.6,57.6 L621.5,54.6 L627.5,51.8 L633.4,49.1 L639.4,46.6 L645.3,44.2 L651.3,42.0 L657.2,39.9 L663.2,38.0 L669.1,36.2 L675.1,34.5"/><path d="M443.0,268.5 L449.0,260.9 L454.9,253.4 L460.9,246.1 L466.8,238.9 L472.8,231.9 L478.7,225.0 L484.7,218.3 L490.6,211.7 L496.6,205.3 L502.5,199.0 L508.5,192.8 L514.4,186.9 L520.4,181.0 L526.3,175.3 L532.3,169.8 L538.2,164.4 L544.2,159.2 L550.1,154.1 L556.1,149.1 L562.0,144.3 L568.0,139.7 L573.9,135.2 L579.9,130.8 L585.8,126.6 L591.8,122.6 L597.7,118.7 L603.7,114.9 L609.6,111.3 L615.6,107.9 L621.5,104.6 L627.5,101.4 L633.4,98.4 L639.4,95.5 L645.3,92.8 L651.3,90.3 L657.2,87.9 L663.2,85.6 L669.1,83.5 L675.1,81.5"/><path d="M443.0,226.0 L449.0,218.7 L454.9,211.6 L460.9,204.6 L466.8,197.8 L472.8,191.1 L478.7,184.6 L484.7,178.2 L490.6,171.9 L496.6,165.9 L502.5,159.9 L508.5,154.1 L514.4,148.5 L520.4,143.0 L526.3,137.7 L532.3,132.5 L538.2,127.5 L544.2,122.6 L550.1,117.9 L556.1,113.3 L562.0,108.9 L568.0,104.6 L573.9,100.5 L579.9,96.5 L585.8,92.7 L591.8,89.0 L597.7,85.5 L603.7,82.1 L609.6,78.9 L615.6,75.8 L621.5,72.9 L627.5,70.1 L633.4,67.5 L639.4,65.1 L645.3,62.7 L651.3,60.6 L657.2,58.6 L663.2,56.7 L669.1,55.0 L675.1,53.4"/><path d="M443.0,256.1 L449.0,248.7 L454.9,241.5 L460.9,234.3 L466.8,227.4 L472.8,220.6 L478.7,213.9 L484.7,207.4 L490.6,201.1 L496.6,194.9 L502.5,188.8 L508.5,182.9 L514.4,177.2 L520.4,171.6 L526.3,166.1 L532.3,160.8 L538.2,155.7 L544.2,150.7 L550.1,145.9 L556.1,141.2 L562.0,136.6 L568.0,132.2 L573.9,128.0 L579.9,123.9 L585.8,120.0 L591.8,116.2 L597.7,112.6 L603.7,109.1 L609.6,105.7 L615.6,102.6 L621.5,99.5 L627.5,96.7 L633.4,93.9 L639.4,91.3 L645.3,88.9 L651.3,86.6 L657.2,84.5 L663.2,82.5 L669.1,80.7 L675.1,79.1"/><path d="M443.0,249.8 L449.0,242.5 L454.9,235.3 L460.9,228.3 L466.8,221.4 L472.8,214.7 L478.7,208.1 L484.7,201.7 L490.6,195.4 L496.6,189.2 L502.5,183.2 L508.5,177.3 L514.4,171.6 L520.4,166.0 L526.3,160.6 L532.3,155.3 L538.2,150.2 L544.2,145.2 L550.1,140.3 L556.1,135.6 L562.0,131.1 L568.0,126.7 L573.9,122.4 L579.9,118.3 L585.8,114.3 L591.8,110.5 L597.7,106.8 L603.7,103.2 L609.6,99.8 L615.6,96.6 L621.5,93.4 L627.5,90.5 L633.4,87.7 L639.4,85.0 L645.3,82.5 L651.3,80.1 L657.2,77.8 L663.2,75.7 L669.1,73.8 L675.1,72.0"/><path d="M443.0,276.1 L449.0,268.6 L454.9,261.3 L460.9,254.1 L466.8,247.1 L472.8,240.3 L478.7,233.6 L484.7,227.1 L490.6,220.8 L496.6,214.7 L502.5,208.7 L508.5,202.9 L514.4,197.3 L520.4,191.8 L526.3,186.5 L532.3,181.4 L538.2,176.5 L544.2,171.7 L550.1,167.2 L556.1,162.7 L562.0,158.5 L568.0,154.4 L573.9,150.5 L579.9,146.8 L585.8,143.2 L591.8,139.9 L597.7,136.7 L603.7,133.6 L609.6,130.8 L615.6,128.1 L621.5,125.5 L627.5,123.2 L633.4,121.0 L639.4,119.0 L645.3,117.2 L651.3,115.5 L657.2,114.1 L663.2,112.8 L669.1,111.6 L675.1,110.6"/><path d="M443.0,244.3 L449.0,237.0 L454.9,229.7 L460.9,222.6 L466.8,215.7 L472.8,208.9 L478.7,202.2 L484.7,195.7 L490.6,189.3 L496.6,183.0 L502.5,176.9 L508.5,170.9 L514.4,165.1 L520.4,159.4 L526.3,153.8 L532.3,148.4 L538.2,143.1 L544.2,138.0 L550.1,133.0 L556.1,128.1 L562.0,123.4 L568.0,118.8 L573.9,114.4 L579.9,110.1 L585.8,105.9 L591.8,101.9 L597.7,98.0 L603.7,94.3 L609.6,90.7 L615.6,87.2 L621.5,83.9 L627.5,80.7 L633.4,77.7 L639.4,74.8 L645.3,72.0 L651.3,69.4 L657.2,66.9 L663.2,64.6 L669.1,62.4 L675.1,60.3"/><path d="M443.0,218.1 L449.0,210.4 L454.9,202.9 L460.9,195.5 L466.8,188.2 L472.8,181.1 L478.7,174.2 L484.7,167.4 L490.6,160.7 L496.6,154.2 L502.5,147.9 L508.5,141.7 L514.4,135.7 L520.4,129.8 L526.3,124.0 L532.3,118.4 L538.2,113.0 L544.2,107.7 L550.1,102.6 L556.1,97.6 L562.0,92.8 L568.0,88.1 L573.9,83.6 L579.9,79.2 L585.8,74.9 L591.8,70.9 L597.7,66.9 L603.7,63.2 L609.6,59.5 L615.6,56.1 L621.5,52.7 L627.5,49.6 L633.4,46.5 L639.4,43.7 L645.3,41.0 L651.3,38.4 L657.2,36.0 L663.2,33.7 L669.1,31.6 L675.1,29.6"/><path d="M443.0,247.1 L449.0,239.8 L454.9,232.6 L460.9,225.6 L466.8,218.7 L472.8,212.0 L478.7,205.4 L484.7,199.0 L490.6,192.7 L496.6,186.6 L502.5,180.6 L508.5,174.8 L514.4,169.1 L520.4,163.6 L526.3,158.2 L532.3,153.0 L538.2,148.0 L544.2,143.1 L550.1,138.3 L556.1,133.7 L562.0,129.3 L568.0,125.0 L573.9,120.9 L579.9,116.9 L585.8,113.1 L591.8,109.4 L597.7,105.8 L603.7,102.5 L609.6,99.2 L615.6,96.2 L621.5,93.2 L627.5,90.5 L633.4,87.9 L639.4,85.4 L645.3,83.1 L651.3,80.9 L657.2,78.9 L663.2,77.1 L669.1,75.4 L675.1,73.8"/><path d="M443.0,258.8 L449.0,251.3 L454.9,244.0 L460.9,236.9 L466.8,229.8 L472.8,223.0 L478.7,216.2 L484.7,209.7 L490.6,203.3 L496.6,197.0 L502.5,190.9 L508.5,184.9 L514.4,179.1 L520.4,173.5 L526.3,167.9 L532.3,162.6 L538.2,157.4 L544.2,152.3 L550.1,147.4 L556.1,142.7 L562.0,138.1 L568.0,133.6 L573.9,129.3 L579.9,125.2 L585.8,121.2 L591.8,117.4 L597.7,113.7 L603.7,110.1 L609.6,106.8 L615.6,103.5 L621.5,100.4 L627.5,97.5 L633.4,94.7 L639.4,92.1 L645.3,89.6 L651.3,87.3 L657.2,85.1 L663.2,83.1 L669.1,81.2 L675.1,79.5"/><path d="M443.0,207.2 L449.0,199.4 L454.9,191.8 L460.9,184.3 L466.8,177.0 L472.8,169.8 L478.7,162.8 L484.7,155.9 L490.6,149.2 L496.6,142.6 L502.5,136.2 L508.5,129.9 L514.4,123.8 L520.4,117.9 L526.3,112.1 L532.3,106.4 L538.2,100.9 L544.2,95.5 L550.1,90.3 L556.1,85.3 L562.0,80.4 L568.0,75.7 L573.9,71.1 L579.9,66.6 L585.8,62.3 L591.8,58.2 L597.7,54.2 L603.7,50.4 L609.6,46.7 L615.6,43.2 L621.5,39.8 L627.5,36.6 L633.4,33.5 L639.4,30.6 L645.3,27.8 L651.3,25.2 L657.2,22.7 L663.2,20.4 L669.1,18.2 L675.1,16.2"/><path d="M443.0,222.8 L449.0,215.2 L454.9,207.7 L460.9,200.5 L466.8,193.3 L472.8,186.3 L478.7,179.5 L484.7,172.8 L490.6,166.3 L496.6,159.8 L502.5,153.6 L508.5,147.5 L514.4,141.5 L520.4,135.7 L526.3,130.0 L532.3,124.5 L538.2,119.1 L544.2,113.9 L550.1,108.8 L556.1,103.9 L562.0,99.1 L568.0,94.5 L573.9,90.0 L579.9,85.6 L585.8,81.4 L591.8,77.4 L597.7,73.5 L603.7,69.7 L609.6,66.1 L615.6,62.6 L621.5,59.3 L627.5,56.1 L633.4,53.1 L639.4,50.2 L645.3,47.5 L651.3,44.9 L657.2,42.5 L663.2,40.2 L669.1,38.0 L675.1,36.0"/><path d="M443.0,218.0 L449.0,210.5 L454.9,203.1 L460.9,195.9 L466.8,188.9 L472.8,182.1 L478.7,175.4 L484.7,168.8 L490.6,162.5 L496.6,156.3 L502.5,150.2 L508.5,144.4 L514.4,138.7 L520.4,133.1 L526.3,127.8 L532.3,122.6 L538.2,117.5 L544.2,112.6 L550.1,107.9 L556.1,103.4 L562.0,99.0 L568.0,94.8 L573.9,90.7 L579.9,86.9 L585.8,83.1 L591.8,79.6 L597.7,76.2 L603.7,73.0 L609.6,69.9 L615.6,67.0 L621.5,64.3 L627.5,61.7 L633.4,59.3 L639.4,57.1 L645.3,55.0 L651.3,53.1 L657.2,51.4 L663.2,49.8 L669.1,48.4 L675.1,47.2"/><path d="M443.0,208.6 L449.0,201.2 L454.9,194.0 L460.9,186.9 L466.8,179.9 L472.8,173.1 L478.7,166.5 L484.7,160.0 L490.6,153.6 L496.6,147.4 L502.5,141.4 L508.5,135.5 L514.4,129.7 L520.4,124.1 L526.3,118.7 L532.3,113.4 L538.2,108.2 L544.2,103.2 L550.1,98.3 L556.1,93.6 L562.0,89.0 L568.0,84.6 L573.9,80.4 L579.9,76.2 L585.8,72.3 L591.8,68.5 L597.7,64.8 L603.7,61.3 L609.6,57.9 L615.6,54.7 L621.5,51.6 L627.5,48.7 L633.4,45.9 L639.4,43.3 L645.3,40.8 L651.3,38.5 L657.2,36.3 L663.2,34.2 L669.1,32.4 L675.1,30.6"/><path d="M443.0,238.8 L449.0,231.3 L454.9,224.0 L460.9,216.9 L466.8,209.8 L472.8,202.9 L478.7,196.2 L484.7,189.6 L490.6,183.1 L496.6,176.7 L502.5,170.5 L508.5,164.4 L514.4,158.5 L520.4,152.7 L526.3,147.0 L532.3,141.5 L538.2,136.1 L544.2,130.8 L550.1,125.6 L556.1,120.6 L562.0,115.8 L568.0,111.0 L573.9,106.4 L579.9,102.0 L585.8,97.6 L591.8,93.5 L597.7,89.4 L603.7,85.5 L609.6,81.7 L615.6,78.0 L621.5,74.5 L627.5,71.1 L633.4,67.9 L639.4,64.8 L645.3,61.8 L651.3,58.9 L657.2,56.2 L663.2,53.7 L669.1,51.2 L675.1,48.9"/><path d="M443.0,276.1 L449.0,268.5 L454.9,261.0 L460.9,253.8 L466.8,246.6 L472.8,239.6 L478.7,232.8 L484.7,226.1 L490.6,219.6 L496.6,213.2 L502.5,206.9 L508.5,200.8 L514.4,194.9 L520.4,189.1 L526.3,183.4 L532.3,177.9 L538.2,172.6 L544.2,167.4 L550.1,162.3 L556.1,157.4 L562.0,152.6 L568.0,148.0 L573.9,143.6 L579.9,139.2 L585.8,135.1 L591.8,131.1 L597.7,127.2 L603.7,123.5 L609.6,119.9 L615.6,116.5 L621.5,113.2 L627.5,110.1 L633.4,107.1 L639.4,104.3 L645.3,101.6 L651.3,99.1 L657.2,96.7 L663.2,94.5 L669.1,92.4 L675.1,90.4"/><path d="M443.0,259.8 L449.0,252.3 L454.9,245.0 L460.9,237.8 L466.8,230.9 L472.8,224.0 L478.7,217.4 L484.7,210.9 L490.6,204.5 L496.6,198.4 L502.5,192.4 L508.5,186.6 L514.4,180.9 L520.4,175.4 L526.3,170.1 L532.3,165.0 L538.2,160.0 L544.2,155.2 L550.1,150.5 L556.1,146.0 L562.0,141.7 L568.0,137.6 L573.9,133.6 L579.9,129.8 L585.8,126.2 L591.8,122.7 L597.7,119.4 L603.7,116.2 L609.6,113.3 L615.6,110.5 L621.5,107.8 L627.5,105.4 L633.4,103.0 L639.4,100.9 L645.3,98.9 L651.3,97.1 L657.2,95.5 L663.2,94.1 L669.1,92.8 L675.1,91.6"/><path d="M443.0,192.3 L449.0,184.8 L454.9,177.6 L460.9,170.4 L466.8,163.5 L472.8,156.7 L478.7,150.1 L484.7,143.6 L490.6,137.3 L496.6,131.2 L502.5,125.2 L508.5,119.4 L514.4,113.8 L520.4,108.3 L526.3,103.0 L532.3,97.9 L538.2,92.9 L544.2,88.1 L550.1,83.5 L556.1,79.0 L562.0,74.7 L568.0,70.6 L573.9,66.6 L579.9,62.8 L585.8,59.1 L591.8,55.6 L597.7,52.3 L603.7,49.1 L609.6,46.2 L615.6,43.3 L621.5,40.7 L627.5,38.2 L633.4,35.8 L639.4,33.7 L645.3,31.7 L651.3,29.8 L657.2,28.2 L663.2,26.7 L669.1,25.3 L675.1,24.2"/><path d="M443.0,256.1 L449.0,248.6 L454.9,241.2 L460.9,234.0 L466.8,227.0 L472.8,220.1 L478.7,213.4 L484.7,206.8 L490.6,200.4 L496.6,194.2 L502.5,188.1 L508.5,182.2 L514.4,176.5 L520.4,170.9 L526.3,165.5 L532.3,160.2 L538.2,155.1 L544.2,150.1 L550.1,145.4 L556.1,140.7 L562.0,136.3 L568.0,132.0 L573.9,127.8 L579.9,123.9 L585.8,120.0 L591.8,116.4 L597.7,112.9 L603.7,109.6 L609.6,106.4 L615.6,103.4 L621.5,100.5 L627.5,97.8 L633.4,95.3 L639.4,92.9 L645.3,90.7 L651.3,88.7 L657.2,86.8 L663.2,85.1 L669.1,83.5 L675.1,82.1"/><path d="M443.0,208.4 L449.0,201.0 L454.9,193.7 L460.9,186.6 L466.8,179.6 L472.8,172.8 L478.7,166.1 L484.7,159.5 L490.6,153.1 L496.6,146.8 L502.5,140.7 L508.5,134.7 L514.4,128.8 L520.4,123.1 L526.3,117.5 L532.3,112.1 L538.2,106.8 L544.2,101.6 L550.1,96.6 L556.1,91.8 L562.0,87.0 L568.0,82.5 L573.9,78.0 L579.9,73.7 L585.8,69.6 L591.8,65.6 L597.7,61.7 L603.7,57.9 L609.6,54.4 L615.6,50.9 L621.5,47.6 L627.5,44.4 L633.4,41.4 L639.4,38.5 L645.3,35.8 L651.3,33.2 L657.2,30.7 L663.2,28.4 L669.1,26.2 L675.1,24.2"/><path d="M443.0,230.4 L449.0,222.8 L454.9,215.3 L460.9,207.9 L466.8,200.7 L472.8,193.7 L478.7,186.8 L484.7,180.1 L490.6,173.5 L496.6,167.1 L502.5,160.9 L508.5,154.7 L514.4,148.8 L520.4,143.0 L526.3,137.4 L532.3,131.9 L538.2,126.5 L544.2,121.4 L550.1,116.3 L556.1,111.5 L562.0,106.8 L568.0,102.2 L573.9,97.8 L579.9,93.6 L585.8,89.5 L591.8,85.5 L597.7,81.8 L603.7,78.1 L609.6,74.7 L615.6,71.3 L621.5,68.2 L627.5,65.2 L633.4,62.3 L639.4,59.6 L645.3,57.1 L651.3,54.7 L657.2,52.5 L663.2,50.4 L669.1,48.5 L675.1,46.7"/><path d="M443.0,238.2 L449.0,230.5 L454.9,222.9 L460.9,215.6 L466.8,208.4 L472.8,201.4 L478.7,194.5 L484.7,187.9 L490.6,181.4 L496.6,175.0 L502.5,168.8 L508.5,162.8 L514.4,157.0 L520.4,151.4 L526.3,145.9 L532.3,140.5 L538.2,135.4 L544.2,130.4 L550.1,125.6 L556.1,121.0 L562.0,116.5 L568.0,112.2 L573.9,108.0 L579.9,104.1 L585.8,100.3 L591.8,96.7 L597.7,93.2 L603.7,89.9 L609.6,86.8 L615.6,83.8 L621.5,81.1 L627.5,78.5 L633.4,76.0 L639.4,73.7 L645.3,71.6 L651.3,69.7 L657.2,67.9 L663.2,66.4 L669.1,64.9 L675.1,63.7"/><path d="M443.0,277.8 L449.0,270.4 L454.9,263.3 L460.9,256.3 L466.8,249.4 L472.8,242.7 L478.7,236.2 L484.7,229.8 L490.6,223.6 L496.6,217.6 L502.5,211.7 L508.5,205.9 L514.4,200.3 L520.4,194.9 L526.3,189.6 L532.3,184.5 L538.2,179.6 L544.2,174.8 L550.1,170.2 L556.1,165.7 L562.0,161.4 L568.0,157.3 L573.9,153.3 L579.9,149.4 L585.8,145.7 L591.8,142.2 L597.7,138.9 L603.7,135.7 L609.6,132.6 L615.6,129.7 L621.5,127.0 L627.5,124.5 L633.4,122.1 L639.4,119.8 L645.3,117.7 L651.3,115.8 L657.2,114.0 L663.2,112.4 L669.1,111.0 L675.1,109.7"/><path d="M443.0,259.9 L449.0,252.6 L454.9,245.4 L460.9,238.4 L466.8,231.5 L472.8,224.8 L478.7,218.2 L484.7,211.7 L490.6,205.5 L496.6,199.3 L502.5,193.4 L508.5,187.5 L514.4,181.9 L520.4,176.3 L526.3,171.0 L532.3,165.7 L538.2,160.7 L544.2,155.8 L550.1,151.0 L556.1,146.4 L562.0,141.9 L568.0,137.6 L573.9,133.4 L579.9,129.4 L585.8,125.5 L591.8,121.8 L597.7,118.3 L603.7,114.9 L609.6,111.6 L615.6,108.5 L621.5,105.5 L627.5,102.7 L633.4,100.1 L639.4,97.6 L645.3,95.2 L651.3,93.0 L657.2,91.0 L663.2,89.1 L669.1,87.3 L675.1,85.7"/><path d="M443.0,212.4 L449.0,205.0 L454.9,197.6 L460.9,190.5 L466.8,183.4 L472.8,176.5 L478.7,169.8 L484.7,163.1 L490.6,156.6 L496.6,150.3 L502.5,144.1 L508.5,138.0 L514.4,132.1 L520.4,126.3 L526.3,120.6 L532.3,115.1 L538.2,109.7 L544.2,104.5 L550.1,99.4 L556.1,94.4 L562.0,89.6 L568.0,84.9 L573.9,80.4 L579.9,76.0 L585.8,71.7 L591.8,67.6 L597.7,63.6 L603.7,59.8 L609.6,56.0 L615.6,52.5 L621.5,49.0 L627.5,45.8 L633.4,42.6 L639.4,39.6 L645.3,36.7 L651.3,34.0 L657.2,31.4 L663.2,28.9 L669.1,26.6 L675.1,24.4"/><path d="M443.0,266.1 L449.0,258.6 L454.9,251.3 L460.9,244.1 L466.8,237.1 L472.8,230.2 L478.7,223.5 L484.7,217.0 L490.6,210.6 L496.6,204.4 L502.5,198.4 L508.5,192.5 L514.4,186.7 L520.4,181.1 L526.3,175.7 L532.3,170.5 L538.2,165.4 L544.2,160.4 L550.1,155.6 L556.1,151.0 L562.0,146.6 L568.0,142.2 L573.9,138.1 L579.9,134.1 L585.8,130.3 L591.8,126.6 L597.7,123.1 L603.7,119.8 L609.6,116.6 L615.6,113.5 L621.5,110.7 L627.5,108.0 L633.4,105.4 L639.4,103.0 L645.3,100.8 L651.3,98.7 L657.2,96.8 L663.2,95.0 L669.1,93.4 L675.1,92.0"/><path d="M443.0,250.9 L449.0,243.5 L454.9,236.3 L460.9,229.3 L466.8,222.4 L472.8,215.6 L478.7,209.0 L484.7,202.6 L490.6,196.3 L496.6,190.2 L502.5,184.2 L508.5,178.4 L514.4,172.7 L520.4,167.2 L526.3,161.9 L532.3,156.7 L538.2,151.6 L544.2,146.7 L550.1,142.0 L556.1,137.4 L562.0,133.0 L568.0,128.7 L573.9,124.6 L579.9,120.6 L585.8,116.8 L591.8,113.1 L597.7,109.6 L603.7,106.2 L609.6,103.0 L615.6,99.9 L621.5,97.0 L627.5,94.3 L633.4,91.7 L639.4,89.3 L645.3,87.0 L651.3,84.8 L657.2,82.9 L663.2,81.0 L669.1,79.4 L675.1,77.9"/></g>
<path d="M443.0,252.3 L449.0,244.8 L454.9,237.5 L460.9,230.3 L466.8,223.3 L472.8,216.5 L478.7,209.7 L484.7,203.2 L490.6,196.8 L496.6,190.5 L502.5,184.4 L508.5,178.4 L514.4,172.6 L520.4,167.0 L526.3,161.5 L532.3,156.1 L538.2,150.9 L544.2,145.9 L550.1,141.0 L556.1,136.2 L562.0,131.6 L568.0,127.2 L573.9,122.9 L579.9,118.8 L585.8,114.8 L591.8,111.0 L597.7,107.3 L603.7,103.7 L609.6,100.4 L615.6,97.1 L621.5,94.1 L627.5,91.2 L633.4,88.4 L639.4,85.8 L645.3,83.3 L651.3,81.0 L657.2,78.8 L663.2,76.8 L669.1,75.0 L675.1,73.3" fill="none" stroke="#74208a" stroke-width="3.3" stroke-linecap="round"/>
<g stroke="#000" stroke-width="2.9" fill="none" stroke-linejoin="round">
<path d="M433.6,0 L433.6,324.2 L685,324.2"/>
</g>
<g stroke="#000" stroke-width="2.4">
<line x1="428.3" y1="17.6" x2="433" y2="17.6"/>
<line x1="428.3" y1="101.8" x2="433" y2="101.8"/>
<line x1="428.3" y1="186.0" x2="433" y2="186.0"/>
<line x1="428.3" y1="270.3" x2="433" y2="270.3"/>
<line x1="463.4" y1="324" x2="463.4" y2="330.5"/>
<line x1="502.6" y1="324" x2="502.6" y2="330.5"/>
<line x1="541.8" y1="324" x2="541.8" y2="330.5"/>
<line x1="581.0" y1="324" x2="581.0" y2="330.5"/>
<line x1="620.2" y1="324" x2="620.2" y2="330.5"/>
<line x1="659.4" y1="324" x2="659.4" y2="330.5"/>
</g>
<g font-size="21px">
<text x="405.1" y="24.2" text-anchor="middle">1.0</text>
<text x="405.1" y="108.4" text-anchor="middle">0.0</text>
<text x="405.1" y="192.6" text-anchor="middle">−1.0</text>
<text x="405.1" y="276.9" text-anchor="middle">−2.0</text>
<text x="463.4" y="349" text-anchor="middle">0</text>
<text x="502.6" y="349" text-anchor="middle">1</text>
<text x="541.8" y="349" text-anchor="middle">2</text>
<text x="581.0" y="349" text-anchor="middle">3</text>
<text x="620.2" y="349" text-anchor="middle">4</text>
<text x="659.4" y="349" text-anchor="middle">5</text>
</g>
<text x="453.3" y="29" font-size="33px">b</text>
<text x="440.4" y="373.2" font-size="22.4px">body mass (log<tspan font-size="15px" dy="4">10</tspan><tspan dy="-4"> grams)</tspan></text>
<text transform="translate(380.3,276.6) rotate(-90)" font-size="22.2px">brain<tspan dx="-2.6"> mass (log</tspan><tspan font-size="15px" dy="4">10</tspan><tspan dy="-4"> grams)</tspan></text>
</svg></body></html>
